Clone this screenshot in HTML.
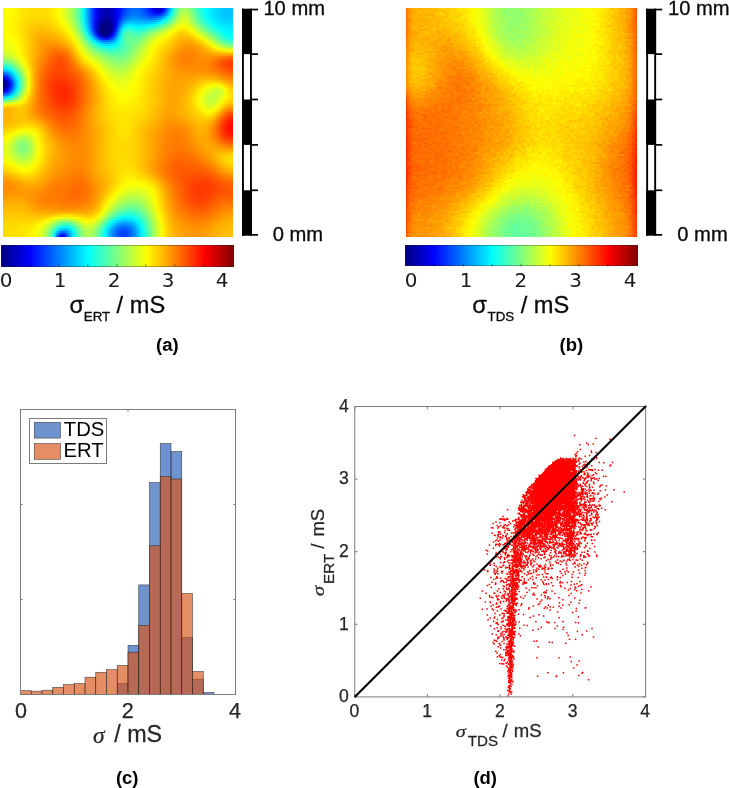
<!DOCTYPE html>
<html><head><meta charset="utf-8"><title>figure</title>
<style>
html,body{margin:0;padding:0;background:#fff;overflow:hidden}
#fig{position:relative;width:729px;height:788px;overflow:hidden;background:#fff;font-family:"Liberation Sans",sans-serif}
.hm{position:absolute;overflow:hidden}
.hm i{position:absolute;left:0;width:100%;display:block}
.cb{position:absolute;background:linear-gradient(90deg,#000080 0%,#0000ff 12.5%,#00ffff 37.5%,#ffff00 62.5%,#ff0000 87.5%,#800000 100%);box-shadow:inset 0 0 0 0.6px rgba(40,40,40,.7)}
svg{position:absolute;left:0;top:0}
text{font-family:"Liberation Sans",sans-serif}
.dj{font-family:"DejaVu Sans",sans-serif}
.it{font-family:"Liberation Serif",serif;font-style:italic}
</style></head><body><div id="fig">
<div class="hm" style="left:2.50px;top:7.80px;width:230.80px;height:229.00px">
<i style="top:0.00px;height:2.71px;background:linear-gradient(90deg,#fcff03,#fdff02,#fffd00,#fff800,#fff100,#ffea00,#ffe500,#ffe200,#ffe000,#ffde00,#ffde00,#ffdd00,#ffdf00,#ffe400,#ffee00,#fffc00,#efff10,#d9ff26,#bfff40,#a1ff5e,#7aff85,#47ffb8,#06fff9,#00b8ff,#0068ff,#0020ff,#0000e7,#0000c3,#0000b3,#0000b6,#0000c9,#0000e9,#0010ff,#0035ff,#0053ff,#0066ff,#006eff,#006bff,#005dff,#0046ff,#0026ff,#0000fc,#0000d1,#0000c6,#0000f9,#0063ff,#00d6ff,#34ffcb,#74ff8b,#9aff65,#a1ff5e,#8eff71,#6cff93,#46ffb9,#26ffd9,#0dfff2,#00f9ff,#00e9ff,#00ddff,#00d3ff,#00cbff,#00c6ff,#00c3ff,#00c2ff)"></i>
<i style="top:2.01px;height:2.71px;background:linear-gradient(90deg,#fcff03,#fdff02,#fffd00,#fff700,#fff100,#ffea00,#ffe500,#ffe100,#ffdf00,#ffde00,#ffdd00,#ffdd00,#ffdf00,#ffe400,#ffee00,#fffc00,#efff10,#d9ff26,#c0ff3f,#a1ff5e,#7bff84,#48ffb7,#06fff9,#00b8ff,#0068ff,#0020ff,#0000e6,#0000c2,#0000b2,#0000b5,#0000c9,#0000e9,#0011ff,#0037ff,#0055ff,#0068ff,#0070ff,#006dff,#005fff,#0048ff,#002bff,#0006ff,#0000e2,#0000dd,#0011ff,#0074ff,#00e2ff,#3effc1,#80ff7f,#a6ff59,#aeff51,#99ff66,#73ff8c,#4bffb4,#28ffd7,#0efff1,#00faff,#00eaff,#00ddff,#00d3ff,#00cbff,#00c6ff,#00c3ff,#00c2ff)"></i>
<i style="top:4.02px;height:2.71px;background:linear-gradient(90deg,#fcff03,#fdff02,#fffd00,#fff700,#fff000,#ffea00,#ffe400,#ffe100,#ffdf00,#ffdd00,#ffdd00,#ffdd00,#ffde00,#ffe400,#ffed00,#fffb00,#f0ff0f,#daff25,#c1ff3e,#a3ff5c,#7cff83,#49ffb6,#07fff8,#00b9ff,#0068ff,#001fff,#0000e5,#0000c0,#0000b0,#0000b3,#0000c7,#0000ea,#0014ff,#003cff,#005bff,#006dff,#0074ff,#0071ff,#0063ff,#004eff,#0035ff,#001aff,#0004ff,#0009ff,#003bff,#0093ff,#00f5ff,#4affb5,#8bff74,#b2ff4d,#b9ff46,#a3ff5c,#7aff85,#50ffaf,#2cffd3,#11ffee,#00fbff,#00ebff,#00deff,#00d4ff,#00ccff,#00c7ff,#00c4ff,#00c3ff)"></i>
<i style="top:6.03px;height:2.71px;background:linear-gradient(90deg,#fdff02,#feff01,#fffc00,#fff700,#fff000,#ffe900,#ffe300,#ffe000,#ffdd00,#ffdc00,#ffdb00,#ffdb00,#ffdd00,#ffe200,#ffec00,#fffa00,#f2ff0d,#ddff22,#c3ff3c,#a5ff5a,#7eff81,#4affb5,#08fff7,#00b9ff,#0068ff,#001eff,#0000e3,#0000bc,#0000ab,#0000ae,#0000c4,#0000ea,#0019ff,#0045ff,#0065ff,#0076ff,#007cff,#0079ff,#006dff,#005bff,#0047ff,#0035ff,#002eff,#003dff,#006eff,#00b9ff,#0efff1,#5affa5,#97ff68,#bcff43,#c3ff3c,#abff54,#82ff7d,#56ffa9,#31ffce,#15ffea,#00feff,#00edff,#00e0ff,#00d5ff,#00ceff,#00c9ff,#00c6ff,#00c5ff)"></i>
<i style="top:8.04px;height:2.71px;background:linear-gradient(90deg,#feff01,#ffff00,#fffb00,#fff600,#ffef00,#ffe800,#ffe200,#ffde00,#ffdb00,#ffd900,#ffd900,#ffd900,#ffdb00,#ffe000,#ffe900,#fff700,#f5ff0a,#e0ff1f,#c7ff38,#a8ff57,#81ff7e,#4dffb2,#0afff5,#00bbff,#0068ff,#001dff,#0000df,#0000b6,#0000a4,#0000a7,#0000bf,#0000eb,#0021ff,#0052ff,#0074ff,#0085ff,#0089ff,#0086ff,#007cff,#006dff,#005fff,#0057ff,#005bff,#0072ff,#00a0ff,#00e1ff,#28ffd7,#6bff94,#a3ff5c,#c6ff39,#ccff33,#b4ff4b,#8bff74,#5fffa0,#39ffc6,#1bffe4,#04fffb,#00f1ff,#00e3ff,#00d8ff,#00d1ff,#00ccff,#00c9ff,#00c9ff)"></i>
<i style="top:10.04px;height:2.71px;background:linear-gradient(90deg,#ffff00,#fffe00,#fffa00,#fff400,#ffed00,#ffe600,#ffe000,#ffdb00,#ffd800,#ffd600,#ffd500,#ffd600,#ffd800,#ffdd00,#ffe600,#fff300,#faff05,#e5ff1a,#ccff33,#aeff51,#86ff79,#51ffae,#0efff1,#00bdff,#0069ff,#001bff,#0000da,#0000ae,#000099,#00009d,#0000ba,#0000ed,#002cff,#0065ff,#0089ff,#0098ff,#009bff,#0097ff,#0090ff,#0085ff,#007dff,#007cff,#0088ff,#00a4ff,#00d0ff,#08fff7,#45ffba,#7fff80,#b1ff4e,#d1ff2e,#d4ff2b,#bdff42,#95ff6a,#6aff95,#43ffbc,#24ffdb,#0cfff3,#00f7ff,#00e8ff,#00dcff,#00d5ff,#00d0ff,#00ceff,#00cdff)"></i>
<i style="top:12.05px;height:2.71px;background:linear-gradient(90deg,#fffe00,#fffd00,#fff900,#fff300,#ffec00,#ffe500,#ffde00,#ffd900,#ffd500,#ffd200,#ffd100,#ffd200,#ffd400,#ffda00,#ffe300,#ffef00,#ffff00,#ebff14,#d3ff2c,#b4ff4b,#8cff73,#57ffa8,#12ffed,#00c0ff,#006bff,#001aff,#0000d4,#0000a4,#00008c,#000091,#0000b4,#0000f1,#003cff,#007eff,#00a5ff,#00b1ff,#00b1ff,#00adff,#00a8ff,#00a2ff,#00a0ff,#00a5ff,#00b6ff,#00d3ff,#00fcff,#2effd1,#62ff9d,#95ff6a,#c1ff3e,#dcff23,#deff21,#c7ff38,#a1ff5e,#77ff88,#50ffaf,#30ffcf,#15ffea,#00ffff,#00eeff,#00e2ff,#00daff,#00d6ff,#00d3ff,#00d3ff)"></i>
<i style="top:14.06px;height:2.71px;background:linear-gradient(90deg,#fffd00,#fffc00,#fff800,#fff200,#ffeb00,#ffe300,#ffdc00,#ffd600,#ffd100,#ffce00,#ffcd00,#ffcd00,#ffd000,#ffd600,#ffde00,#ffea00,#fff900,#f2ff0d,#daff25,#bbff44,#93ff6c,#5effa1,#19ffe6,#00c6ff,#006eff,#0019ff,#0000cd,#000096,#000080,#000084,#0000af,#0000f7,#004fff,#009bff,#00c4ff,#00cdff,#00c9ff,#00c5ff,#00c3ff,#00c2ff,#00c6ff,#00d0ff,#00e4ff,#02fffd,#28ffd7,#53ffac,#80ff7f,#acff53,#d2ff2d,#e8ff17,#e8ff17,#d2ff2d,#aeff51,#86ff79,#60ff9f,#3effc1,#21ffde,#0afff5,#00f6ff,#00e9ff,#00e1ff,#00dcff,#00d9ff,#00d8ff)"></i>
<i style="top:16.07px;height:2.71px;background:linear-gradient(90deg,#fffc00,#fffb00,#fff700,#fff100,#ffea00,#ffe200,#ffda00,#ffd300,#ffcd00,#ffca00,#ffc800,#ffc800,#ffcb00,#ffd100,#ffd900,#ffe400,#fff200,#faff05,#e2ff1d,#c4ff3b,#9bff64,#66ff99,#20ffdf,#00cdff,#0073ff,#0019ff,#0000c4,#000083,#000080,#000080,#0000aa,#0001ff,#0066ff,#00bbff,#00e6ff,#00ebff,#00e3ff,#00deff,#00dfff,#00e4ff,#00edff,#00fcff,#13ffec,#2fffd0,#52ffad,#77ff88,#9eff61,#c4ff3b,#e4ff1b,#f6ff09,#f4ff0b,#e0ff1f,#beff41,#97ff68,#71ff8e,#4fffb0,#30ffcf,#16ffe9,#02fffd,#00f2ff,#00e8ff,#00e3ff,#00e0ff,#00dfff)"></i>
<i style="top:18.08px;height:2.71px;background:linear-gradient(90deg,#fffc00,#fffb00,#fff700,#fff100,#ffe900,#ffe100,#ffd800,#ffd000,#ffca00,#ffc500,#ffc300,#ffc300,#ffc600,#ffcc00,#ffd300,#ffdd00,#ffeb00,#fffc00,#ebff14,#cdff32,#a5ff5a,#6fff90,#2affd5,#00d7ff,#007bff,#001aff,#0000b9,#000080,#000080,#000080,#0000a7,#000dff,#007fff,#00dcff,#09fff6,#0afff5,#00fdff,#00f8ff,#00fcff,#07fff8,#15ffea,#28ffd7,#3fffc0,#5affa5,#79ff86,#9aff65,#bbff44,#dcff23,#f6ff09,#fff900,#fffc00,#efff10,#d0ff2f,#abff54,#85ff7a,#62ff9d,#41ffbe,#25ffda,#0efff1,#00fdff,#00f1ff,#00eaff,#00e6ff,#00e5ff)"></i>
<i style="top:20.09px;height:2.71px;background:linear-gradient(90deg,#fffc00,#fffb00,#fff700,#fff100,#ffe900,#ffe000,#ffd700,#ffce00,#ffc600,#ffc100,#ffbe00,#ffbe00,#ffc100,#ffc600,#ffcd00,#ffd600,#ffe300,#fff400,#f4ff0b,#d7ff28,#afff50,#7aff85,#37ffc8,#00e4ff,#0087ff,#001fff,#0000b3,#000080,#000080,#000080,#0000aa,#001dff,#0098ff,#00faff,#27ffd8,#25ffda,#17ffe8,#12ffed,#19ffe6,#27ffd8,#3affc5,#50ffaf,#68ff97,#82ff7d,#9dff62,#b9ff46,#d6ff29,#f2ff0d,#fff600,#ffea00,#ffed00,#ffff00,#e2ff1d,#c0ff3f,#9bff64,#77ff88,#56ffa9,#37ffc8,#1effe1,#0afff5,#00fbff,#00f1ff,#00ecff,#00eaff)"></i>
<i style="top:22.10px;height:2.71px;background:linear-gradient(90deg,#fffd00,#fffc00,#fff900,#fff300,#ffea00,#ffe100,#ffd700,#ffcd00,#ffc400,#ffbd00,#ffb900,#ffb900,#ffbb00,#ffc000,#ffc700,#ffcf00,#ffdb00,#ffeb00,#feff01,#e1ff1e,#baff45,#87ff78,#45ffba,#00f4ff,#0097ff,#002cff,#0000b7,#000080,#000080,#000080,#0000b6,#0031ff,#00b1ff,#16ffe9,#41ffbe,#3cffc3,#2dffd2,#29ffd6,#33ffcc,#45ffba,#5bffa4,#73ff8c,#8bff74,#a4ff5b,#bcff43,#d4ff2b,#edff12,#fff900,#ffe600,#ffdc00,#ffdf00,#ffee00,#f6ff09,#d6ff29,#b3ff4c,#8fff70,#6cff93,#4cffb3,#30ffcf,#19ffe6,#07fff8,#00f9ff,#00f2ff,#00f0ff)"></i>
<i style="top:24.11px;height:2.71px;background:linear-gradient(90deg,#ffff00,#fffe00,#fffb00,#fff400,#ffec00,#ffe200,#ffd700,#ffcc00,#ffc200,#ffba00,#ffb500,#ffb400,#ffb600,#ffba00,#ffc000,#ffc800,#ffd300,#ffe200,#fff700,#ebff14,#c6ff39,#95ff6a,#55ffaa,#09fff6,#00aeff,#0044ff,#0000ce,#000080,#000080,#000080,#0000d0,#004bff,#00c8ff,#2affd5,#53ffac,#4effb1,#40ffbf,#3effc1,#4affb5,#5fffa0,#78ff87,#91ff6e,#aaff55,#c0ff3f,#d5ff2a,#eaff15,#fffe00,#ffe900,#ffd800,#ffcf00,#ffd100,#ffde00,#fff500,#ecff13,#cbff34,#a8ff57,#86ff79,#64ff9b,#45ffba,#29ffd6,#13ffec,#03fffc,#00f9ff,#00f5ff)"></i>
<i style="top:26.11px;height:2.71px;background:linear-gradient(90deg,#fcff03,#fdff02,#fffd00,#fff700,#ffee00,#ffe400,#ffd800,#ffcc00,#ffc000,#ffb700,#ffb100,#ffaf00,#ffb000,#ffb300,#ffb900,#ffc000,#ffcb00,#ffd900,#ffed00,#f6ff09,#d2ff2d,#a3ff5c,#67ff98,#1fffe0,#00caff,#0067ff,#0000f8,#00009c,#000080,#0000a0,#0000f8,#0069ff,#00ddff,#38ffc7,#5effa1,#5affa5,#4fffb0,#50ffaf,#5fffa0,#76ff89,#91ff6e,#abff54,#c2ff3d,#d7ff28,#eaff15,#fcff03,#ffef00,#ffdd00,#ffcd00,#ffc400,#ffc500,#ffcf00,#ffe300,#fffd00,#e3ff1c,#c3ff3c,#a0ff5f,#7dff82,#5cffa3,#3cffc3,#22ffdd,#0efff1,#02fffd,#00fdff)"></i>
<i style="top:28.12px;height:2.71px;background:linear-gradient(90deg,#f9ff06,#faff05,#feff01,#fffa00,#fff100,#ffe600,#ffd900,#ffcc00,#ffbf00,#ffb500,#ffad00,#ffaa00,#ffaa00,#ffac00,#ffb100,#ffb800,#ffc200,#ffd000,#ffe300,#fffd00,#dfff20,#b2ff4d,#7aff85,#37ffc8,#00eaff,#0092ff,#0034ff,#0000e4,#0000c5,#0000e2,#002bff,#008bff,#00efff,#3fffc0,#62ff9d,#62ff9d,#5bffa4,#60ff9f,#71ff8e,#8aff75,#a6ff59,#c0ff3f,#d6ff29,#e9ff16,#faff05,#fff500,#ffe400,#ffd300,#ffc400,#ffbb00,#ffba00,#ffc200,#ffd100,#ffe800,#fbff04,#ddff22,#bcff43,#98ff67,#74ff8b,#51ffae,#33ffcc,#1bffe4,#0dfff2,#08fff7)"></i>
<i style="top:30.13px;height:2.71px;background:linear-gradient(90deg,#f5ff0a,#f7ff08,#faff05,#fffd00,#fff400,#ffe800,#ffdb00,#ffcc00,#ffbe00,#ffb300,#ffaa00,#ffa600,#ffa400,#ffa600,#ffa900,#ffaf00,#ffb900,#ffc600,#ffd900,#fff200,#ebff14,#c1ff3e,#8dff72,#50ffaf,#0cfff3,#00c1ff,#0074ff,#0035ff,#001aff,#002dff,#0062ff,#00adff,#00ffff,#43ffbc,#63ff9c,#66ff99,#65ff9a,#6eff91,#82ff7d,#9cff63,#b7ff48,#d1ff2e,#e6ff19,#f8ff07,#fff800,#ffea00,#ffdb00,#ffcb00,#ffbd00,#ffb300,#ffb000,#ffb500,#ffc200,#ffd400,#ffec00,#f6ff09,#d7ff28,#b4ff4b,#8fff70,#69ff96,#47ffb8,#2dffd2,#1dffe2,#18ffe7)"></i>
<i style="top:32.14px;height:2.71px;background:linear-gradient(90deg,#f2ff0d,#f3ff0c,#f7ff08,#feff01,#fff600,#ffea00,#ffdc00,#ffcd00,#ffbe00,#ffb100,#ffa700,#ffa100,#ff9f00,#ff9f00,#ffa100,#ffa600,#ffaf00,#ffbc00,#ffce00,#ffe600,#f8ff07,#d0ff2f,#a0ff5f,#69ff96,#2dffd2,#00eeff,#00b2ff,#0081ff,#006aff,#0073ff,#0096ff,#00cdff,#0efff1,#45ffba,#61ff9e,#68ff97,#6dff92,#7aff85,#90ff6f,#aaff55,#c6ff39,#dfff20,#f3ff0c,#fffb00,#ffee00,#ffe100,#ffd300,#ffc400,#ffb600,#ffac00,#ffa800,#ffaa00,#ffb400,#ffc300,#ffd700,#fff000,#f1ff0e,#cfff30,#aaff55,#83ff7c,#60ff9f,#44ffbb,#33ffcc,#2dffd2)"></i>
<i style="top:34.15px;height:2.71px;background:linear-gradient(90deg,#efff10,#f0ff0f,#f4ff0b,#fbff04,#fff800,#ffec00,#ffdd00,#ffcd00,#ffbe00,#ffb000,#ffa500,#ff9d00,#ff9900,#ff9800,#ff9900,#ff9c00,#ffa400,#ffb000,#ffc200,#ffdb00,#fffa00,#deff21,#b2ff4d,#80ff7f,#4cffb3,#19ffe6,#00e8ff,#00c2ff,#00aeff,#00afff,#00c4ff,#00eaff,#1bffe4,#46ffb9,#5fffa0,#6aff95,#74ff8b,#85ff7a,#9cff63,#b7ff48,#d2ff2d,#eaff15,#fdff02,#fff200,#ffe600,#ffda00,#ffcd00,#ffbe00,#ffb000,#ffa600,#ffa000,#ffa100,#ffa700,#ffb400,#ffc500,#ffdb00,#fff500,#eaff15,#c6ff39,#a0ff5f,#7dff82,#61ff9e,#51ffae,#4bffb4)"></i>
<i style="top:36.16px;height:2.71px;background:linear-gradient(90deg,#ebff14,#edff12,#f1ff0e,#f9ff06,#fffa00,#ffed00,#ffde00,#ffcd00,#ffbd00,#ffaf00,#ffa300,#ff9a00,#ff9400,#ff9100,#ff9000,#ff9200,#ff9900,#ffa400,#ffb600,#ffcf00,#ffee00,#ebff14,#c2ff3d,#95ff6a,#68ff97,#3cffc3,#16ffe9,#00f6ff,#00e4ff,#00e0ff,#00ebff,#05fffa,#28ffd7,#48ffb7,#5fffa0,#6dff92,#7bff84,#8fff70,#a7ff58,#c2ff3d,#dcff23,#f3ff0c,#fff900,#ffeb00,#ffdf00,#ffd300,#ffc600,#ffb800,#ffab00,#ffa000,#ff9900,#ff9900,#ff9d00,#ffa700,#ffb500,#ffc800,#ffe000,#fffc00,#e2ff1d,#c0ff3f,#9fff60,#85ff7a,#76ff89,#70ff8f)"></i>
<i style="top:38.17px;height:2.71px;background:linear-gradient(90deg,#e8ff17,#eaff15,#eeff11,#f7ff08,#fffc00,#ffee00,#ffde00,#ffcd00,#ffbd00,#ffae00,#ffa000,#ff9600,#ff8f00,#ff8900,#ff8700,#ff8800,#ff8d00,#ff9800,#ffaa00,#ffc300,#ffe300,#f7ff08,#d0ff2f,#a8ff57,#80ff7f,#5bffa4,#3affc5,#21ffde,#0ffff0,#08fff7,#0dfff2,#1cffe3,#34ffcb,#4cffb3,#61ff9e,#71ff8e,#83ff7c,#98ff67,#b1ff4e,#cbff34,#e4ff1b,#faff05,#fff200,#ffe400,#ffd800,#ffcd00,#ffc000,#ffb200,#ffa400,#ff9a00,#ff9300,#ff9200,#ff9500,#ff9d00,#ffa900,#ffb900,#ffcd00,#ffe500,#feff01,#e1ff1e,#c5ff3a,#afff50,#a2ff5d,#9dff62)"></i>
<i style="top:40.18px;height:2.71px;background:linear-gradient(90deg,#e3ff1c,#e5ff1a,#ebff14,#f4ff0b,#fffe00,#ffef00,#ffde00,#ffcd00,#ffbc00,#ffad00,#ff9f00,#ff9300,#ff8a00,#ff8300,#ff7e00,#ff7d00,#ff8100,#ff8b00,#ff9e00,#ffb800,#ffd800,#fffb00,#deff21,#b9ff46,#96ff69,#75ff8a,#59ffa6,#42ffbd,#31ffce,#28ffd7,#28ffd7,#30ffcf,#40ffbf,#52ffad,#64ff9b,#76ff89,#8aff75,#a1ff5e,#baff45,#d3ff2c,#eaff15,#ffff00,#ffed00,#ffdf00,#ffd200,#ffc600,#ffb900,#ffab00,#ff9e00,#ff9400,#ff8d00,#ff8c00,#ff8f00,#ff9500,#ffa000,#ffad00,#ffbd00,#ffd000,#ffe500,#fffc00,#edff12,#ddff22,#d3ff2c,#cfff30)"></i>
<i style="top:42.18px;height:2.71px;background:linear-gradient(90deg,#ddff22,#dfff20,#e5ff1a,#f0ff0f,#feff01,#fff000,#ffdf00,#ffcd00,#ffbc00,#ffac00,#ff9d00,#ff9000,#ff8500,#ff7c00,#ff7500,#ff7300,#ff7500,#ff7f00,#ff9200,#ffad00,#ffcd00,#fff100,#eaff15,#c8ff37,#a9ff56,#8dff72,#74ff8b,#5effa1,#4effb1,#43ffbc,#3fffc0,#42ffbd,#4cffb3,#5affa5,#6aff95,#7dff82,#92ff6d,#a9ff56,#c2ff3d,#daff25,#f0ff0f,#fffa00,#ffe900,#ffda00,#ffcd00,#ffc000,#ffb300,#ffa500,#ff9800,#ff8e00,#ff8900,#ff8700,#ff8a00,#ff9000,#ff9800,#ffa300,#ffaf00,#ffbd00,#ffcc00,#ffdb00,#ffe800,#fff300,#fff900,#fffb00)"></i>
<i style="top:44.19px;height:2.71px;background:linear-gradient(90deg,#d3ff2c,#d6ff29,#ddff22,#eaff15,#f9ff06,#fff300,#ffe000,#ffcd00,#ffbc00,#ffab00,#ff9b00,#ff8d00,#ff8000,#ff7600,#ff6d00,#ff6900,#ff6a00,#ff7300,#ff8600,#ffa200,#ffc300,#ffe600,#f6ff09,#d7ff28,#bbff44,#a2ff5d,#8bff74,#77ff88,#66ff99,#59ffa6,#52ffad,#52ffad,#58ffa7,#62ff9d,#71ff8e,#84ff7b,#9aff65,#b1ff4e,#c9ff36,#e0ff1f,#f5ff0a,#fff600,#ffe500,#ffd600,#ffc800,#ffbb00,#ffad00,#ff9f00,#ff9300,#ff8a00,#ff8500,#ff8400,#ff8700,#ff8c00,#ff9300,#ff9b00,#ffa400,#ffac00,#ffb400,#ffbb00,#ffc100,#ffc500,#ffc800,#ffc900)"></i>
<i style="top:46.20px;height:2.71px;background:linear-gradient(90deg,#c6ff39,#c9ff36,#d2ff2d,#e1ff1e,#f3ff0c,#fff600,#ffe200,#ffce00,#ffbb00,#ffaa00,#ff9900,#ff8a00,#ff7c00,#ff7000,#ff6600,#ff6000,#ff6000,#ff6900,#ff7c00,#ff9700,#ffb900,#ffdc00,#fffc00,#e5ff1a,#ccff33,#b5ff4a,#a0ff5f,#8cff73,#7aff85,#6cff93,#64ff9b,#60ff9f,#63ff9c,#6cff93,#7aff85,#8cff73,#a2ff5d,#b9ff46,#d0ff2f,#e6ff19,#f9ff06,#fff200,#ffe200,#ffd200,#ffc400,#ffb600,#ffa800,#ff9a00,#ff8f00,#ff8600,#ff8200,#ff8200,#ff8500,#ff8a00,#ff9000,#ff9600,#ff9b00,#ff9e00,#ffa000,#ffa000,#ff9e00,#ff9c00,#ff9b00,#ff9a00)"></i>
<i style="top:48.21px;height:2.71px;background:linear-gradient(90deg,#b4ff4b,#b8ff47,#c3ff3c,#d4ff2b,#eaff15,#fffc00,#ffe500,#ffcf00,#ffbb00,#ffa800,#ff9700,#ff8600,#ff7800,#ff6a00,#ff6000,#ff5900,#ff5800,#ff6000,#ff7200,#ff8e00,#ffaf00,#ffd100,#fff000,#f4ff0b,#dcff23,#c7ff38,#b3ff4c,#9fff60,#8cff73,#7dff82,#73ff8c,#6eff91,#6fff90,#76ff89,#83ff7c,#95ff6a,#abff54,#c1ff3e,#d7ff28,#ebff14,#feff01,#ffef00,#ffdf00,#ffd000,#ffc000,#ffb200,#ffa400,#ff9700,#ff8c00,#ff8400,#ff8000,#ff8000,#ff8300,#ff8800,#ff8d00,#ff9100,#ff9300,#ff9300,#ff8f00,#ff8800,#ff8000,#ff7a00,#ff7500,#ff7400)"></i>
<i style="top:50.22px;height:2.71px;background:linear-gradient(90deg,#9dff62,#a2ff5d,#afff50,#c4ff3b,#deff21,#faff05,#ffea00,#ffd100,#ffbb00,#ffa700,#ff9400,#ff8300,#ff7400,#ff6600,#ff5b00,#ff5300,#ff5200,#ff5900,#ff6b00,#ff8500,#ffa500,#ffc500,#ffe200,#fffc00,#ecff13,#d8ff27,#c4ff3b,#afff50,#9dff62,#8dff72,#81ff7e,#7bff84,#7bff84,#80ff7f,#8dff72,#9fff60,#b4ff4b,#caff35,#dfff20,#f1ff0e,#fffc00,#ffec00,#ffdc00,#ffcd00,#ffbe00,#ffaf00,#ffa100,#ff9400,#ff8a00,#ff8300,#ff8000,#ff8000,#ff8300,#ff8700,#ff8b00,#ff8d00,#ff8d00,#ff8900,#ff8100,#ff7600,#ff6a00,#ff6000,#ff5900,#ff5700)"></i>
<i style="top:52.23px;height:2.71px;background:linear-gradient(90deg,#81ff7e,#86ff79,#96ff69,#afff50,#cfff30,#efff10,#fff100,#ffd500,#ffbb00,#ffa500,#ff9200,#ff8000,#ff7000,#ff6200,#ff5700,#ff4f00,#ff4e00,#ff5500,#ff6500,#ff7d00,#ff9a00,#ffb900,#ffd500,#ffed00,#fcff03,#e8ff17,#d3ff2c,#bfff40,#abff54,#9bff64,#8eff71,#87ff78,#86ff79,#8bff74,#97ff68,#a8ff57,#bdff42,#d2ff2d,#e6ff19,#f7ff08,#fff700,#ffe900,#ffda00,#ffcb00,#ffbc00,#ffad00,#ffa000,#ff9400,#ff8a00,#ff8300,#ff8100,#ff8100,#ff8400,#ff8700,#ff8a00,#ff8b00,#ff8900,#ff8300,#ff7800,#ff6a00,#ff5c00,#ff4f00,#ff4700,#ff4500)"></i>
<i style="top:54.24px;height:2.71px;background:linear-gradient(90deg,#5fffa0,#66ff99,#79ff86,#97ff68,#bcff43,#e2ff1d,#fff900,#ffd900,#ffbc00,#ffa400,#ff8f00,#ff7c00,#ff6c00,#ff5e00,#ff5400,#ff4d00,#ff4c00,#ff5100,#ff6000,#ff7600,#ff9000,#ffac00,#ffc600,#ffde00,#fff300,#f7ff08,#e2ff1d,#cdff32,#b9ff46,#a8ff57,#9bff64,#93ff6c,#91ff6e,#96ff69,#a1ff5e,#b2ff4d,#c6ff39,#dbff24,#edff12,#fdff02,#fff200,#ffe500,#ffd700,#ffc900,#ffba00,#ffac00,#ff9f00,#ff9400,#ff8b00,#ff8500,#ff8300,#ff8300,#ff8500,#ff8700,#ff8900,#ff8900,#ff8600,#ff7f00,#ff7300,#ff6400,#ff5400,#ff4700,#ff3f00,#ff3c00)"></i>
<i style="top:56.25px;height:2.71px;background:linear-gradient(90deg,#39ffc6,#41ffbe,#58ffa7,#7cff83,#a7ff58,#d2ff2d,#fbff04,#ffde00,#ffbd00,#ffa200,#ff8c00,#ff7900,#ff6900,#ff5b00,#ff5100,#ff4b00,#ff4a00,#ff4f00,#ff5c00,#ff6f00,#ff8700,#ffa000,#ffb800,#ffcf00,#ffe400,#fff900,#efff10,#d9ff26,#c5ff3a,#b4ff4b,#a6ff59,#9eff61,#9cff63,#a0ff5f,#abff54,#bcff43,#cfff30,#e3ff1c,#f5ff0a,#fffb00,#ffee00,#ffe100,#ffd500,#ffc700,#ffb900,#ffac00,#ffa000,#ff9500,#ff8d00,#ff8800,#ff8500,#ff8500,#ff8700,#ff8900,#ff8900,#ff8800,#ff8500,#ff7d00,#ff7100,#ff6200,#ff5300,#ff4600,#ff3e00,#ff3b00)"></i>
<i style="top:58.25px;height:2.71px;background:linear-gradient(90deg,#0ffff0,#19ffe6,#34ffcb,#5effa1,#90ff6f,#c1ff3e,#f0ff0f,#ffe400,#ffbf00,#ffa000,#ff8900,#ff7500,#ff6500,#ff5900,#ff4f00,#ff4a00,#ff4900,#ff4e00,#ff5900,#ff6900,#ff7d00,#ff9400,#ffaa00,#ffc000,#ffd600,#ffec00,#fbff04,#e5ff1a,#d0ff2f,#bfff40,#b1ff4e,#a9ff56,#a7ff58,#abff54,#b5ff4a,#c5ff3a,#d8ff27,#ebff14,#fcff03,#fff500,#ffe900,#ffde00,#ffd200,#ffc600,#ffb800,#ffac00,#ffa100,#ff9700,#ff9000,#ff8b00,#ff8900,#ff8800,#ff8900,#ff8a00,#ff8b00,#ff8900,#ff8500,#ff7e00,#ff7300,#ff6500,#ff5700,#ff4a00,#ff4300,#ff4000)"></i>
<i style="top:60.26px;height:2.71px;background:linear-gradient(90deg,#00e0ff,#00ecff,#0efff1,#3fffc0,#77ff88,#afff50,#e3ff1c,#ffeb00,#ffc100,#ff9f00,#ff8600,#ff7200,#ff6200,#ff5600,#ff4d00,#ff4900,#ff4800,#ff4d00,#ff5600,#ff6300,#ff7400,#ff8800,#ff9d00,#ffb300,#ffca00,#ffe100,#fff800,#f0ff0f,#dbff24,#c9ff36,#bcff43,#b4ff4b,#b1ff4e,#b5ff4a,#bfff40,#ceff31,#e0ff1f,#f2ff0d,#fffc00,#fff000,#ffe500,#ffdb00,#ffd000,#ffc400,#ffb800,#ffac00,#ffa200,#ff9a00,#ff9300,#ff8f00,#ff8d00,#ff8c00,#ff8d00,#ff8d00,#ff8d00,#ff8c00,#ff8900,#ff8200,#ff7800,#ff6b00,#ff5e00,#ff5300,#ff4c00,#ff4a00)"></i>
<i style="top:62.27px;height:2.71px;background:linear-gradient(90deg,#00aeff,#00bdff,#00e4ff,#1effe1,#5effa1,#9cff63,#d7ff28,#fff200,#ffc300,#ff9e00,#ff8300,#ff6f00,#ff5f00,#ff5300,#ff4b00,#ff4700,#ff4700,#ff4b00,#ff5300,#ff5e00,#ff6c00,#ff7e00,#ff9100,#ffa700,#ffbe00,#ffd600,#ffee00,#f9ff06,#e5ff1a,#d3ff2c,#c6ff39,#bdff42,#bbff44,#beff41,#c7ff38,#d6ff29,#e7ff18,#f8ff07,#fff700,#ffeb00,#ffe100,#ffd800,#ffcd00,#ffc300,#ffb700,#ffad00,#ffa400,#ff9c00,#ff9600,#ff9300,#ff9100,#ff9000,#ff9000,#ff9100,#ff9100,#ff9100,#ff8e00,#ff8800,#ff8000,#ff7400,#ff6800,#ff5e00,#ff5700,#ff5500)"></i>
<i style="top:64.28px;height:2.71px;background:linear-gradient(90deg,#0077ff,#0089ff,#00baff,#00fcff,#44ffbb,#8aff75,#caff35,#fff900,#ffc500,#ff9d00,#ff8000,#ff6c00,#ff5c00,#ff5000,#ff4900,#ff4500,#ff4500,#ff4900,#ff4f00,#ff5900,#ff6500,#ff7500,#ff8800,#ff9d00,#ffb400,#ffcd00,#ffe500,#fffc00,#eeff11,#dcff23,#cfff30,#c7ff38,#c4ff3b,#c7ff38,#cfff30,#ddff22,#edff12,#fdff02,#fff300,#ffe800,#ffde00,#ffd500,#ffcb00,#ffc100,#ffb700,#ffad00,#ffa500,#ff9e00,#ff9900,#ff9600,#ff9500,#ff9400,#ff9500,#ff9600,#ff9700,#ff9700,#ff9600,#ff9100,#ff8a00,#ff7f00,#ff7400,#ff6a00,#ff6300,#ff6100)"></i>
<i style="top:66.29px;height:2.71px;background:linear-gradient(90deg,#003cff,#0053ff,#008fff,#00dbff,#2cffd3,#78ff87,#beff41,#ffff00,#ffc700,#ff9c00,#ff7e00,#ff6900,#ff5900,#ff4d00,#ff4600,#ff4200,#ff4200,#ff4500,#ff4b00,#ff5300,#ff5f00,#ff6d00,#ff7f00,#ff9500,#ffac00,#ffc400,#ffdd00,#fff300,#f6ff09,#e5ff1a,#d8ff27,#cfff30,#ccff33,#cfff30,#d7ff28,#e3ff1c,#f2ff0d,#fffd00,#fff000,#ffe500,#ffdb00,#ffd300,#ffc900,#ffc000,#ffb600,#ffad00,#ffa600,#ffa000,#ff9c00,#ff9a00,#ff9900,#ff9900,#ff9a00,#ff9c00,#ff9e00,#ffa000,#ffa000,#ff9d00,#ff9600,#ff8c00,#ff8000,#ff7600,#ff6f00,#ff6d00)"></i>
<i style="top:68.30px;height:2.71px;background:linear-gradient(90deg,#0000fe,#001cff,#0067ff,#00bdff,#16ffe9,#69ff96,#b4ff4b,#f9ff06,#ffc900,#ff9c00,#ff7c00,#ff6600,#ff5600,#ff4a00,#ff4200,#ff3f00,#ff3e00,#ff4100,#ff4700,#ff4e00,#ff5900,#ff6700,#ff7900,#ff8e00,#ffa500,#ffbd00,#ffd500,#ffec00,#feff01,#edff12,#e0ff1f,#d8ff27,#d4ff2b,#d6ff29,#ddff22,#e8ff17,#f5ff0a,#fffb00,#ffee00,#ffe300,#ffda00,#ffd100,#ffc800,#ffbe00,#ffb500,#ffad00,#ffa600,#ffa100,#ff9e00,#ff9d00,#ff9c00,#ff9e00,#ffa000,#ffa300,#ffa700,#ffaa00,#ffac00,#ffab00,#ffa500,#ff9b00,#ff8f00,#ff8300,#ff7b00,#ff7800)"></i>
<i style="top:70.31px;height:2.71px;background:linear-gradient(90deg,#0000c5,#0000e8,#0042ff,#00a3ff,#03fffc,#5cffa3,#acff53,#f6ff09,#ffc900,#ff9b00,#ff7b00,#ff6400,#ff5300,#ff4700,#ff3f00,#ff3b00,#ff3a00,#ff3d00,#ff4200,#ff4a00,#ff5500,#ff6300,#ff7400,#ff8900,#ffa000,#ffb700,#ffcf00,#ffe500,#fff900,#f4ff0b,#e8ff17,#dfff20,#dbff24,#dcff23,#e2ff1d,#ecff13,#f8ff07,#fff900,#ffed00,#ffe200,#ffd800,#ffcf00,#ffc600,#ffbd00,#ffb400,#ffad00,#ffa700,#ffa200,#ffa000,#ff9f00,#ffa000,#ffa200,#ffa600,#ffab00,#ffb000,#ffb600,#ffbb00,#ffbb00,#ffb600,#ffad00,#ff9f00,#ff9200,#ff8800,#ff8400)"></i>
<i style="top:72.32px;height:2.71px;background:linear-gradient(90deg,#000097,#0000bf,#0024ff,#008fff,#00f4ff,#53ffac,#a8ff57,#f4ff0b,#ffc900,#ff9a00,#ff7900,#ff6200,#ff5100,#ff4400,#ff3b00,#ff3700,#ff3600,#ff3800,#ff3d00,#ff4500,#ff5100,#ff5f00,#ff7100,#ff8500,#ff9b00,#ffb200,#ffc900,#ffdf00,#fff200,#fbff04,#efff10,#e6ff19,#e2ff1d,#e2ff1d,#e7ff18,#f0ff0f,#fbff04,#fff700,#ffec00,#ffe100,#ffd700,#ffce00,#ffc500,#ffbc00,#ffb300,#ffac00,#ffa700,#ffa300,#ffa200,#ffa200,#ffa300,#ffa700,#ffac00,#ffb300,#ffbb00,#ffc300,#ffca00,#ffcd00,#ffcb00,#ffc200,#ffb400,#ffa300,#ff9600,#ff8f00)"></i>
<i style="top:74.32px;height:2.71px;background:linear-gradient(90deg,#000080,#0000a5,#0012ff,#0082ff,#00ecff,#4fffb0,#a7ff58,#f4ff0b,#ffc900,#ff9900,#ff7800,#ff6100,#ff4f00,#ff4200,#ff3800,#ff3300,#ff3100,#ff3300,#ff3900,#ff4100,#ff4d00,#ff5c00,#ff6e00,#ff8200,#ff9800,#ffae00,#ffc400,#ffd900,#ffec00,#fffc00,#f5ff0a,#ecff13,#e8ff17,#e8ff17,#ebff14,#f3ff0c,#fdff02,#fff600,#ffeb00,#ffe100,#ffd700,#ffcd00,#ffc400,#ffbb00,#ffb200,#ffac00,#ffa700,#ffa400,#ffa300,#ffa400,#ffa700,#ffab00,#ffb200,#ffbb00,#ffc600,#ffd100,#ffdb00,#ffe100,#ffe200,#ffdc00,#ffcd00,#ffb800,#ffa500,#ff9c00)"></i>
<i style="top:76.33px;height:2.71px;background:linear-gradient(90deg,#000080,#00009f,#000dff,#007fff,#00ebff,#51ffae,#a9ff56,#f7ff08,#ffc700,#ff9800,#ff7800,#ff6000,#ff4e00,#ff4000,#ff3600,#ff3000,#ff2e00,#ff2f00,#ff3500,#ff3e00,#ff4b00,#ff5a00,#ff6c00,#ff8000,#ff9500,#ffab00,#ffc000,#ffd400,#ffe700,#fff700,#fbff04,#f2ff0d,#edff12,#ecff13,#efff10,#f6ff09,#feff01,#fff500,#ffeb00,#ffe000,#ffd600,#ffcc00,#ffc300,#ffba00,#ffb200,#ffab00,#ffa700,#ffa400,#ffa400,#ffa500,#ffa900,#ffb000,#ffb800,#ffc400,#ffd100,#ffdf00,#ffec00,#fff500,#fffb00,#fff900,#ffea00,#ffd000,#ffb700,#ffa900)"></i>
<i style="top:78.34px;height:2.71px;background:linear-gradient(90deg,#000086,#0000af,#0017ff,#0086ff,#00f2ff,#57ffa8,#b0ff4f,#fcff03,#ffc400,#ff9600,#ff7700,#ff6000,#ff4d00,#ff3f00,#ff3400,#ff2d00,#ff2b00,#ff2c00,#ff3200,#ff3b00,#ff4800,#ff5800,#ff6a00,#ff7e00,#ff9200,#ffa700,#ffbc00,#ffd000,#ffe200,#fff200,#fffe00,#f7ff08,#f2ff0d,#f0ff0f,#f3ff0c,#f8ff07,#fffe00,#fff400,#ffea00,#ffe000,#ffd600,#ffcc00,#ffc200,#ffb900,#ffb200,#ffab00,#ffa700,#ffa400,#ffa400,#ffa700,#ffac00,#ffb400,#ffbf00,#ffcc00,#ffdc00,#ffed00,#fffc00,#f4ff0b,#eaff15,#e9ff16,#f8ff07,#ffe700,#ffc800,#ffb600)"></i>
<i style="top:80.35px;height:2.71px;background:linear-gradient(90deg,#0000ae,#0000d2,#002fff,#0097ff,#01fffe,#63ff9c,#b9ff46,#fffc00,#ffc000,#ff9500,#ff7700,#ff6000,#ff4d00,#ff3e00,#ff3300,#ff2c00,#ff2900,#ff2a00,#ff2f00,#ff3900,#ff4700,#ff5700,#ff6900,#ff7c00,#ff9000,#ffa500,#ffb900,#ffcc00,#ffde00,#ffee00,#fffa00,#fbff04,#f6ff09,#f4ff0b,#f6ff09,#fbff04,#fffc00,#fff300,#ffe900,#ffdf00,#ffd500,#ffcc00,#ffc200,#ffb900,#ffb100,#ffab00,#ffa700,#ffa500,#ffa500,#ffa800,#ffae00,#ffb800,#ffc400,#ffd400,#ffe600,#fffa00,#f2ff0d,#e2ff1d,#d5ff2a,#d2ff2d,#e2ff1d,#fffa00,#ffd700,#ffc200)"></i>
<i style="top:82.36px;height:2.71px;background:linear-gradient(90deg,#0000e6,#0005ff,#0053ff,#00b2ff,#16ffe9,#73ff8c,#c5ff3a,#fff400,#ffbc00,#ff9400,#ff7700,#ff6000,#ff4e00,#ff3f00,#ff3300,#ff2b00,#ff2800,#ff2800,#ff2e00,#ff3800,#ff4600,#ff5600,#ff6800,#ff7b00,#ff8f00,#ffa200,#ffb600,#ffc900,#ffdb00,#ffea00,#fff600,#ffff00,#f9ff06,#f7ff08,#f8ff07,#fdff02,#fffa00,#fff200,#ffe800,#ffdf00,#ffd500,#ffcc00,#ffc200,#ffb900,#ffb200,#ffab00,#ffa700,#ffa500,#ffa600,#ffa900,#ffb100,#ffbb00,#ffc900,#ffdb00,#fff000,#f8ff07,#e4ff1b,#d3ff2c,#c7ff38,#c4ff3b,#d6ff29,#f9ff06,#ffe100,#ffcc00)"></i>
<i style="top:84.37px;height:2.71px;background:linear-gradient(90deg,#0028ff,#0041ff,#0081ff,#00d5ff,#30ffcf,#87ff78,#d3ff2c,#ffeb00,#ffb800,#ff9200,#ff7700,#ff6100,#ff4f00,#ff4000,#ff3400,#ff2c00,#ff2700,#ff2800,#ff2d00,#ff3700,#ff4500,#ff5600,#ff6800,#ff7a00,#ff8d00,#ffa100,#ffb400,#ffc700,#ffd800,#ffe700,#fff300,#fffc00,#fcff03,#faff05,#fbff04,#ffff00,#fff800,#fff000,#ffe700,#ffde00,#ffd500,#ffcb00,#ffc200,#ffba00,#ffb200,#ffab00,#ffa700,#ffa500,#ffa600,#ffaa00,#ffb200,#ffbe00,#ffce00,#ffe200,#fff800,#eeff11,#d9ff26,#c9ff36,#bfff40,#c1ff3e,#d4ff2b,#f7ff08,#ffe600,#ffd400)"></i>
<i style="top:86.38px;height:2.71px;background:linear-gradient(90deg,#0070ff,#0085ff,#00b8ff,#01fffe,#50ffaf,#9eff61,#e2ff1d,#ffe200,#ffb400,#ff9100,#ff7700,#ff6200,#ff5000,#ff4200,#ff3600,#ff2d00,#ff2800,#ff2800,#ff2d00,#ff3700,#ff4500,#ff5600,#ff6700,#ff7a00,#ff8d00,#ffa000,#ffb200,#ffc500,#ffd500,#ffe400,#fff000,#fff900,#ffff00,#fdff02,#feff01,#fffc00,#fff600,#ffee00,#ffe600,#ffdd00,#ffd400,#ffcb00,#ffc300,#ffba00,#ffb200,#ffac00,#ffa700,#ffa500,#ffa700,#ffab00,#ffb400,#ffc100,#ffd200,#ffe700,#ffff00,#e6ff19,#d1ff2e,#c2ff3d,#bcff43,#c4ff3b,#daff25,#fbff04,#ffe700,#ffd800)"></i>
<i style="top:88.39px;height:2.71px;background:linear-gradient(90deg,#00beff,#00d0ff,#00f8ff,#33ffcc,#75ff8a,#b7ff48,#f2ff0d,#ffd900,#ffaf00,#ff8f00,#ff7700,#ff6300,#ff5200,#ff4400,#ff3800,#ff2f00,#ff2a00,#ff2900,#ff2e00,#ff3800,#ff4600,#ff5600,#ff6800,#ff7a00,#ff8d00,#ff9f00,#ffb100,#ffc300,#ffd400,#ffe200,#ffee00,#fff700,#fffc00,#ffff00,#fffe00,#fffa00,#fff400,#ffec00,#ffe400,#ffdc00,#ffd400,#ffcb00,#ffc300,#ffba00,#ffb200,#ffac00,#ffa700,#ffa600,#ffa700,#ffad00,#ffb600,#ffc300,#ffd500,#ffeb00,#faff05,#e1ff1e,#cbff34,#beff41,#bdff42,#caff35,#e3ff1c,#fffc00,#ffe400,#ffd800)"></i>
<i style="top:90.39px;height:2.71px;background:linear-gradient(90deg,#13ffec,#23ffdc,#42ffbd,#6dff92,#9fff60,#d3ff2c,#fffb00,#ffd000,#ffab00,#ff8e00,#ff7700,#ff6400,#ff5400,#ff4600,#ff3b00,#ff3200,#ff2c00,#ff2c00,#ff3000,#ff3a00,#ff4700,#ff5700,#ff6900,#ff7b00,#ff8d00,#ff9f00,#ffb100,#ffc200,#ffd200,#ffe000,#ffec00,#fff400,#fffa00,#fffc00,#fffb00,#fff700,#fff100,#ffea00,#ffe300,#ffdb00,#ffd300,#ffcb00,#ffc300,#ffba00,#ffb200,#ffab00,#ffa700,#ffa600,#ffa800,#ffae00,#ffb700,#ffc500,#ffd700,#ffed00,#f8ff07,#deff21,#c9ff36,#bdff42,#c1ff3e,#d2ff2d,#eeff11,#fff300,#ffde00,#ffd400)"></i>
<i style="top:92.40px;height:2.71px;background:linear-gradient(90deg,#69ff96,#79ff86,#8eff71,#aaff55,#cbff34,#efff10,#ffea00,#ffc700,#ffa700,#ff8c00,#ff7600,#ff6400,#ff5600,#ff4900,#ff3e00,#ff3500,#ff3000,#ff2e00,#ff3200,#ff3c00,#ff4900,#ff5900,#ff6a00,#ff7c00,#ff8e00,#ffa000,#ffb100,#ffc200,#ffd200,#ffdf00,#ffea00,#fff200,#fff700,#fff900,#fff800,#fff500,#ffef00,#ffe900,#ffe200,#ffdb00,#ffd300,#ffcb00,#ffc200,#ffb900,#ffb100,#ffab00,#ffa700,#ffa600,#ffa900,#ffaf00,#ffb900,#ffc600,#ffd800,#ffed00,#f8ff07,#deff21,#caff35,#c0ff3f,#c6ff39,#dbff24,#f9ff06,#ffe800,#ffd400,#ffcc00)"></i>
<i style="top:94.41px;height:2.71px;background:linear-gradient(90deg,#baff45,#caff35,#d7ff28,#e4ff1b,#f4ff0b,#fff400,#ffdb00,#ffbf00,#ffa300,#ff8a00,#ff7600,#ff6500,#ff5800,#ff4c00,#ff4200,#ff3900,#ff3300,#ff3200,#ff3600,#ff3f00,#ff4c00,#ff5b00,#ff6c00,#ff7e00,#ff9000,#ffa100,#ffb200,#ffc200,#ffd100,#ffde00,#ffe800,#ffef00,#fff400,#fff600,#fff500,#fff200,#ffed00,#ffe700,#ffe100,#ffda00,#ffd200,#ffca00,#ffc200,#ffb900,#ffb000,#ffaa00,#ffa700,#ffa700,#ffaa00,#ffb000,#ffba00,#ffc700,#ffd700,#ffeb00,#faff05,#e2ff1d,#ceff31,#c6ff39,#cfff30,#e7ff18,#fff800,#ffda00,#ffc600,#ffbf00)"></i>
<i style="top:96.42px;height:2.71px;background:linear-gradient(90deg,#fcff03,#fff300,#ffec00,#ffeb00,#ffe800,#ffdf00,#ffce00,#ffb800,#ffa000,#ff8900,#ff7600,#ff6600,#ff5a00,#ff4f00,#ff4600,#ff3d00,#ff3800,#ff3600,#ff3900,#ff4200,#ff4f00,#ff5e00,#ff6f00,#ff8000,#ff9200,#ffa300,#ffb300,#ffc300,#ffd100,#ffdd00,#ffe600,#ffed00,#fff100,#fff200,#fff200,#ffef00,#ffeb00,#ffe600,#ffe000,#ffd900,#ffd200,#ffca00,#ffc100,#ffb700,#ffaf00,#ffa900,#ffa600,#ffa700,#ffab00,#ffb200,#ffbb00,#ffc700,#ffd600,#ffe800,#ffff00,#e8ff17,#d6ff29,#d0ff2f,#dbff24,#f5ff0a,#ffe800,#ffc900,#ffb500,#ffad00)"></i>
<i style="top:98.43px;height:2.71px;background:linear-gradient(90deg,#ffd600,#ffc900,#ffc700,#ffcc00,#ffd200,#ffd000,#ffc600,#ffb300,#ff9e00,#ff8800,#ff7600,#ff6800,#ff5d00,#ff5300,#ff4a00,#ff4200,#ff3c00,#ff3a00,#ff3d00,#ff4600,#ff5200,#ff6100,#ff7200,#ff8300,#ff9400,#ffa500,#ffb500,#ffc400,#ffd100,#ffdc00,#ffe400,#ffea00,#ffee00,#ffef00,#ffef00,#ffed00,#ffe900,#ffe400,#ffdf00,#ffd800,#ffd100,#ffc800,#ffbf00,#ffb600,#ffae00,#ffa800,#ffa600,#ffa700,#ffac00,#ffb300,#ffbb00,#ffc600,#ffd300,#ffe400,#fff800,#f1ff0e,#e1ff1e,#ddff22,#eaff15,#fff800,#ffd500,#ffb500,#ffa000,#ff9800)"></i>
<i style="top:100.44px;height:2.71px;background:linear-gradient(90deg,#ffc000,#ffb600,#ffb600,#ffbf00,#ffc700,#ffc900,#ffc100,#ffb100,#ff9d00,#ff8800,#ff7700,#ff6a00,#ff6000,#ff5700,#ff4f00,#ff4700,#ff4100,#ff3f00,#ff4200,#ff4a00,#ff5600,#ff6500,#ff7500,#ff8600,#ff9700,#ffa700,#ffb600,#ffc400,#ffd100,#ffdb00,#ffe300,#ffe800,#ffeb00,#ffec00,#ffec00,#ffea00,#ffe700,#ffe300,#ffde00,#ffd700,#ffd000,#ffc700,#ffbe00,#ffb400,#ffac00,#ffa600,#ffa400,#ffa700,#ffac00,#ffb300,#ffbb00,#ffc400,#ffd000,#ffde00,#fff000,#fbff04,#edff12,#ecff13,#fbff04,#ffe500,#ffc000,#ff9f00,#ff8900,#ff8200)"></i>
<i style="top:102.45px;height:2.71px;background:linear-gradient(90deg,#ffb800,#ffb100,#ffb300,#ffbc00,#ffc400,#ffc600,#ffbf00,#ffb000,#ff9d00,#ff8a00,#ff7a00,#ff6d00,#ff6400,#ff5b00,#ff5300,#ff4c00,#ff4600,#ff4400,#ff4600,#ff4e00,#ff5a00,#ff6800,#ff7800,#ff8800,#ff9900,#ffa900,#ffb800,#ffc500,#ffd000,#ffda00,#ffe100,#ffe600,#ffe800,#ffe900,#ffe900,#ffe800,#ffe500,#ffe100,#ffdc00,#ffd600,#ffce00,#ffc500,#ffbc00,#ffb200,#ffaa00,#ffa400,#ffa300,#ffa600,#ffab00,#ffb200,#ffba00,#ffc200,#ffcc00,#ffd800,#ffe800,#fff800,#fbff04,#fcff03,#fff100,#ffd100,#ffaa00,#ff8800,#ff7200,#ff6a00)"></i>
<i style="top:104.46px;height:2.71px;background:linear-gradient(90deg,#ffb600,#ffb200,#ffb500,#ffbc00,#ffc300,#ffc500,#ffbf00,#ffb100,#ffa000,#ff8e00,#ff7e00,#ff7200,#ff6900,#ff6000,#ff5800,#ff5100,#ff4b00,#ff4800,#ff4b00,#ff5200,#ff5d00,#ff6b00,#ff7b00,#ff8b00,#ff9b00,#ffaa00,#ffb800,#ffc500,#ffd000,#ffd900,#ffdf00,#ffe400,#ffe600,#ffe700,#ffe700,#ffe600,#ffe300,#ffdf00,#ffda00,#ffd400,#ffcc00,#ffc300,#ffba00,#ffb000,#ffa800,#ffa200,#ffa100,#ffa400,#ffaa00,#ffb100,#ffb800,#ffbf00,#ffc800,#ffd200,#ffdf00,#ffed00,#fff500,#fff100,#ffde00,#ffbc00,#ff9500,#ff7200,#ff5b00,#ff5300)"></i>
<i style="top:106.46px;height:2.71px;background:linear-gradient(90deg,#ffb400,#ffb300,#ffb600,#ffbd00,#ffc300,#ffc400,#ffbf00,#ffb300,#ffa400,#ff9300,#ff8500,#ff7900,#ff6e00,#ff6600,#ff5d00,#ff5500,#ff5000,#ff4d00,#ff4f00,#ff5600,#ff6100,#ff6e00,#ff7d00,#ff8c00,#ff9c00,#ffab00,#ffb900,#ffc500,#ffcf00,#ffd700,#ffde00,#ffe200,#ffe500,#ffe600,#ffe500,#ffe400,#ffe100,#ffdd00,#ffd800,#ffd100,#ffca00,#ffc100,#ffb700,#ffae00,#ffa500,#ffa000,#ff9f00,#ffa100,#ffa700,#ffae00,#ffb500,#ffbc00,#ffc300,#ffcc00,#ffd700,#ffe200,#ffe700,#ffe100,#ffcb00,#ffa800,#ff8000,#ff5d00,#ff4700,#ff3f00)"></i>
<i style="top:108.47px;height:2.71px;background:linear-gradient(90deg,#ffb200,#ffb200,#ffb600,#ffbc00,#ffc100,#ffc300,#ffc000,#ffb700,#ffaa00,#ff9b00,#ff8d00,#ff8100,#ff7500,#ff6b00,#ff6200,#ff5a00,#ff5400,#ff5200,#ff5400,#ff5a00,#ff6400,#ff7100,#ff7f00,#ff8e00,#ff9c00,#ffab00,#ffb800,#ffc400,#ffce00,#ffd600,#ffdc00,#ffe100,#ffe400,#ffe500,#ffe400,#ffe200,#ffdf00,#ffdb00,#ffd500,#ffcf00,#ffc700,#ffbe00,#ffb500,#ffab00,#ffa300,#ff9d00,#ff9c00,#ff9e00,#ffa300,#ffaa00,#ffb100,#ffb700,#ffbf00,#ffc700,#ffd000,#ffd800,#ffda00,#ffd100,#ffba00,#ff9600,#ff6e00,#ff4b00,#ff3500,#ff2d00)"></i>
<i style="top:110.48px;height:2.71px;background:linear-gradient(90deg,#ffb100,#ffb200,#ffb500,#ffbb00,#ffc100,#ffc400,#ffc200,#ffbc00,#ffb100,#ffa500,#ff9700,#ff8a00,#ff7d00,#ff7100,#ff6700,#ff5e00,#ff5800,#ff5600,#ff5800,#ff5e00,#ff6700,#ff7300,#ff8000,#ff8e00,#ff9c00,#ffaa00,#ffb700,#ffc200,#ffcc00,#ffd400,#ffdb00,#ffe000,#ffe300,#ffe400,#ffe400,#ffe100,#ffdd00,#ffd800,#ffd200,#ffcb00,#ffc400,#ffbb00,#ffb200,#ffa900,#ffa000,#ff9b00,#ff9800,#ff9a00,#ff9e00,#ffa400,#ffab00,#ffb300,#ffba00,#ffc200,#ffc900,#ffcf00,#ffce00,#ffc300,#ffaa00,#ff8600,#ff5e00,#ff3c00,#ff2600,#ff1e00)"></i>
<i style="top:112.49px;height:2.71px;background:linear-gradient(90deg,#ffb100,#ffb300,#ffb600,#ffbc00,#ffc200,#ffc600,#ffc600,#ffc200,#ffbb00,#ffb000,#ffa300,#ff9400,#ff8600,#ff7800,#ff6c00,#ff6300,#ff5d00,#ff5a00,#ff5c00,#ff6100,#ff6a00,#ff7500,#ff8100,#ff8e00,#ff9c00,#ffa900,#ffb500,#ffc000,#ffca00,#ffd200,#ffda00,#ffdf00,#ffe300,#ffe400,#ffe300,#ffe000,#ffdb00,#ffd500,#ffcf00,#ffc800,#ffc000,#ffb800,#ffaf00,#ffa600,#ff9e00,#ff9800,#ff9500,#ff9500,#ff9900,#ff9f00,#ffa600,#ffad00,#ffb500,#ffbd00,#ffc400,#ffc700,#ffc300,#ffb600,#ff9c00,#ff7800,#ff5100,#ff3000,#ff1b00,#ff1300)"></i>
<i style="top:114.50px;height:2.71px;background:linear-gradient(90deg,#ffb500,#ffb600,#ffba00,#ffc000,#ffc600,#ffcb00,#ffcd00,#ffcb00,#ffc500,#ffbc00,#ffaf00,#ff9f00,#ff8e00,#ff7f00,#ff7100,#ff6700,#ff6100,#ff5e00,#ff6000,#ff6500,#ff6d00,#ff7700,#ff8200,#ff8e00,#ff9b00,#ffa700,#ffb300,#ffbe00,#ffc800,#ffd100,#ffd800,#ffdf00,#ffe300,#ffe500,#ffe300,#ffdf00,#ffda00,#ffd300,#ffcb00,#ffc400,#ffbd00,#ffb500,#ffad00,#ffa400,#ff9b00,#ff9500,#ff9100,#ff9100,#ff9300,#ff9800,#ff9f00,#ffa800,#ffb100,#ffb900,#ffbf00,#ffc000,#ffba00,#ffab00,#ff9000,#ff6c00,#ff4700,#ff2600,#ff1200,#ff0b00)"></i>
<i style="top:116.51px;height:2.71px;background:linear-gradient(90deg,#ffbb00,#ffbd00,#ffc100,#ffc600,#ffcd00,#ffd300,#ffd600,#ffd500,#ffd100,#ffc800,#ffbb00,#ffaa00,#ff9700,#ff8500,#ff7700,#ff6c00,#ff6500,#ff6300,#ff6400,#ff6800,#ff6f00,#ff7800,#ff8300,#ff8e00,#ff9a00,#ffa600,#ffb100,#ffbc00,#ffc600,#ffcf00,#ffd700,#ffde00,#ffe300,#ffe500,#ffe400,#ffdf00,#ffd800,#ffd000,#ffc800,#ffc100,#ffba00,#ffb200,#ffaa00,#ffa100,#ff9900,#ff9200,#ff8e00,#ff8c00,#ff8e00,#ff9200,#ff9a00,#ffa300,#ffad00,#ffb500,#ffba00,#ffba00,#ffb300,#ffa200,#ff8700,#ff6400,#ff3f00,#ff2000,#ff0d00,#ff0600)"></i>
<i style="top:118.52px;height:2.71px;background:linear-gradient(90deg,#ffc400,#ffc500,#ffca00,#ffd000,#ffd800,#ffde00,#ffe200,#ffe200,#ffde00,#ffd500,#ffc600,#ffb400,#ffa000,#ff8c00,#ff7c00,#ff7100,#ff6a00,#ff6700,#ff6800,#ff6b00,#ff7200,#ff7a00,#ff8300,#ff8e00,#ff9900,#ffa400,#ffaf00,#ffba00,#ffc400,#ffce00,#ffd600,#ffde00,#ffe300,#ffe500,#ffe300,#ffde00,#ffd600,#ffce00,#ffc500,#ffbe00,#ffb600,#ffaf00,#ffa700,#ff9f00,#ff9700,#ff9000,#ff8b00,#ff8800,#ff8900,#ff8d00,#ff9400,#ff9e00,#ffa900,#ffb200,#ffb700,#ffb500,#ffac00,#ff9b00,#ff8000,#ff5d00,#ff3b00,#ff1d00,#ff0b00,#ff0500)"></i>
<i style="top:120.53px;height:2.71px;background:linear-gradient(90deg,#ffce00,#ffcf00,#ffd500,#ffdd00,#ffe600,#ffed00,#fff100,#fff100,#ffeb00,#ffe100,#ffd100,#ffbd00,#ffa700,#ff9300,#ff8300,#ff7700,#ff6f00,#ff6c00,#ff6c00,#ff6f00,#ff7400,#ff7c00,#ff8400,#ff8e00,#ff9800,#ffa300,#ffae00,#ffb900,#ffc300,#ffcd00,#ffd600,#ffdd00,#ffe300,#ffe500,#ffe300,#ffdd00,#ffd500,#ffcc00,#ffc300,#ffbb00,#ffb400,#ffac00,#ffa400,#ff9c00,#ff9400,#ff8d00,#ff8800,#ff8500,#ff8400,#ff8800,#ff9000,#ff9a00,#ffa500,#ffaf00,#ffb300,#ffb100,#ffa800,#ff9600,#ff7b00,#ff5a00,#ff3900,#ff1d00,#ff0c00,#ff0600)"></i>
<i style="top:122.54px;height:2.71px;background:linear-gradient(90deg,#ffd800,#ffda00,#ffe100,#ffeb00,#fff700,#feff01,#faff05,#fcff03,#fff900,#ffec00,#ffd900,#ffc400,#ffae00,#ff9a00,#ff8900,#ff7d00,#ff7500,#ff7100,#ff7000,#ff7200,#ff7700,#ff7d00,#ff8500,#ff8e00,#ff9800,#ffa200,#ffad00,#ffb800,#ffc200,#ffcc00,#ffd500,#ffdd00,#ffe200,#ffe400,#ffe200,#ffdd00,#ffd400,#ffcb00,#ffc200,#ffb900,#ffb200,#ffaa00,#ffa200,#ff9a00,#ff9200,#ff8b00,#ff8500,#ff8200,#ff8100,#ff8500,#ff8c00,#ff9700,#ffa200,#ffac00,#ffb000,#ffae00,#ffa500,#ff9300,#ff7a00,#ff5a00,#ff3a00,#ff2000,#ff1000,#ff0a00)"></i>
<i style="top:124.54px;height:2.71px;background:linear-gradient(90deg,#ffe100,#ffe500,#ffed00,#fffb00,#f4ff0b,#e9ff16,#e6ff19,#ebff14,#f7ff08,#fff600,#ffe100,#ffca00,#ffb400,#ffa000,#ff9000,#ff8300,#ff7b00,#ff7600,#ff7400,#ff7600,#ff7900,#ff7f00,#ff8600,#ff8f00,#ff9800,#ffa200,#ffad00,#ffb700,#ffc200,#ffcb00,#ffd400,#ffdc00,#ffe100,#ffe300,#ffe100,#ffdc00,#ffd300,#ffca00,#ffc100,#ffb800,#ffb000,#ffa800,#ffa000,#ff9800,#ff9000,#ff8900,#ff8400,#ff8000,#ff7f00,#ff8200,#ff8900,#ff9400,#ff9f00,#ffa900,#ffae00,#ffac00,#ffa400,#ff9300,#ff7b00,#ff5d00,#ff3f00,#ff2600,#ff1600,#ff1100)"></i>
<i style="top:126.55px;height:2.71px;background:linear-gradient(90deg,#ffeb00,#ffef00,#fffa00,#f3ff0c,#e0ff1f,#d3ff2c,#d0ff2f,#d8ff27,#e9ff16,#fffe00,#ffe700,#ffcf00,#ffba00,#ffa600,#ff9600,#ff8a00,#ff8100,#ff7b00,#ff7800,#ff7900,#ff7c00,#ff8100,#ff8800,#ff9000,#ff9800,#ffa200,#ffac00,#ffb700,#ffc100,#ffcb00,#ffd400,#ffdb00,#ffe000,#ffe200,#ffe000,#ffdb00,#ffd300,#ffca00,#ffc000,#ffb800,#ffaf00,#ffa600,#ff9e00,#ff9600,#ff8e00,#ff8700,#ff8200,#ff7f00,#ff7e00,#ff8100,#ff8800,#ff9200,#ff9d00,#ffa600,#ffab00,#ffab00,#ffa300,#ff9400,#ff7e00,#ff6200,#ff4500,#ff2e00,#ff1f00,#ff1a00)"></i>
<i style="top:128.56px;height:2.71px;background:linear-gradient(90deg,#fff400,#fff900,#f7ff08,#e2ff1d,#ccff33,#bdff42,#bbff44,#c7ff38,#ddff22,#f8ff07,#ffeb00,#ffd300,#ffbe00,#ffac00,#ff9c00,#ff9000,#ff8600,#ff8000,#ff7d00,#ff7c00,#ff7f00,#ff8300,#ff8900,#ff9000,#ff9900,#ffa200,#ffad00,#ffb700,#ffc200,#ffcc00,#ffd400,#ffdb00,#ffdf00,#ffe000,#ffde00,#ffd900,#ffd200,#ffca00,#ffc100,#ffb700,#ffae00,#ffa500,#ff9c00,#ff9400,#ff8c00,#ff8600,#ff8100,#ff7e00,#ff7d00,#ff8000,#ff8600,#ff9000,#ff9a00,#ffa300,#ffa900,#ffa900,#ffa300,#ff9600,#ff8200,#ff6900,#ff4f00,#ff3900,#ff2b00,#ff2600)"></i>
<i style="top:130.57px;height:2.71px;background:linear-gradient(90deg,#fffc00,#fcff03,#ecff13,#d3ff2c,#baff45,#a9ff56,#a8ff57,#b7ff48,#d2ff2d,#f1ff0e,#ffef00,#ffd600,#ffc200,#ffb100,#ffa200,#ff9600,#ff8c00,#ff8500,#ff8000,#ff7f00,#ff8100,#ff8500,#ff8a00,#ff9100,#ff9900,#ffa300,#ffad00,#ffb800,#ffc200,#ffcc00,#ffd400,#ffda00,#ffde00,#ffdf00,#ffdd00,#ffd800,#ffd200,#ffca00,#ffc100,#ffb700,#ffae00,#ffa400,#ff9b00,#ff9300,#ff8b00,#ff8500,#ff8000,#ff7d00,#ff7d00,#ff7f00,#ff8500,#ff8e00,#ff9800,#ffa100,#ffa700,#ffa800,#ffa400,#ff9a00,#ff8800,#ff7100,#ff5a00,#ff4600,#ff3900,#ff3500)"></i>
<i style="top:132.58px;height:2.71px;background:linear-gradient(90deg,#faff05,#f4ff0b,#e2ff1d,#c6ff39,#aaff55,#98ff67,#97ff68,#aaff55,#c9ff36,#ecff13,#fff200,#ffd900,#ffc500,#ffb500,#ffa700,#ff9b00,#ff9100,#ff8900,#ff8400,#ff8200,#ff8300,#ff8600,#ff8b00,#ff9200,#ff9a00,#ffa300,#ffad00,#ffb800,#ffc300,#ffcc00,#ffd400,#ffd900,#ffdc00,#ffdd00,#ffdb00,#ffd800,#ffd200,#ffca00,#ffc200,#ffb800,#ffae00,#ffa400,#ff9a00,#ff9100,#ff8a00,#ff8400,#ff7f00,#ff7c00,#ff7c00,#ff7f00,#ff8400,#ff8c00,#ff9500,#ff9e00,#ffa400,#ffa700,#ffa500,#ff9d00,#ff8f00,#ff7b00,#ff6600,#ff5500,#ff4a00,#ff4600)"></i>
<i style="top:134.59px;height:2.71px;background:linear-gradient(90deg,#f4ff0b,#edff12,#d9ff26,#bcff43,#9eff61,#8bff74,#8bff74,#a0ff5f,#c2ff3d,#e7ff18,#fff500,#ffdb00,#ffc800,#ffb800,#ffab00,#ff9f00,#ff9500,#ff8d00,#ff8700,#ff8500,#ff8500,#ff8800,#ff8c00,#ff9200,#ff9a00,#ffa300,#ffae00,#ffb900,#ffc300,#ffcd00,#ffd400,#ffd900,#ffdc00,#ffdc00,#ffda00,#ffd700,#ffd200,#ffcb00,#ffc200,#ffb800,#ffae00,#ffa400,#ff9a00,#ff9100,#ff8900,#ff8200,#ff7e00,#ff7b00,#ff7b00,#ff7e00,#ff8300,#ff8a00,#ff9200,#ff9a00,#ffa100,#ffa600,#ffa600,#ffa100,#ff9600,#ff8600,#ff7500,#ff6600,#ff5c00,#ff5900)"></i>
<i style="top:136.60px;height:2.71px;background:linear-gradient(90deg,#eeff11,#e7ff18,#d3ff2c,#b5ff4a,#97ff68,#83ff7c,#84ff7b,#9aff65,#bdff42,#e4ff1b,#fff700,#ffdd00,#ffca00,#ffbb00,#ffae00,#ffa200,#ff9800,#ff9000,#ff8a00,#ff8700,#ff8700,#ff8900,#ff8d00,#ff9300,#ff9a00,#ffa300,#ffae00,#ffb900,#ffc400,#ffcd00,#ffd400,#ffd900,#ffdb00,#ffdb00,#ffd900,#ffd600,#ffd100,#ffcb00,#ffc300,#ffb900,#ffae00,#ffa400,#ff9900,#ff9000,#ff8800,#ff8200,#ff7d00,#ff7a00,#ff7a00,#ff7c00,#ff8100,#ff8700,#ff8f00,#ff9700,#ff9e00,#ffa400,#ffa600,#ffa400,#ff9d00,#ff9100,#ff8400,#ff7800,#ff7100,#ff6e00)"></i>
<i style="top:138.61px;height:2.71px;background:linear-gradient(90deg,#eaff15,#e3ff1c,#cfff30,#b2ff4d,#94ff6b,#81ff7e,#82ff7d,#98ff67,#bbff44,#e2ff1d,#fff900,#ffdf00,#ffcb00,#ffbd00,#ffb000,#ffa400,#ff9a00,#ff9200,#ff8c00,#ff8900,#ff8800,#ff8a00,#ff8d00,#ff9300,#ff9a00,#ffa300,#ffae00,#ffb900,#ffc400,#ffcd00,#ffd400,#ffd900,#ffda00,#ffda00,#ffd900,#ffd600,#ffd100,#ffcb00,#ffc300,#ffb900,#ffaf00,#ffa400,#ff9a00,#ff9000,#ff8700,#ff8100,#ff7c00,#ff7900,#ff7900,#ff7a00,#ff7e00,#ff8400,#ff8c00,#ff9300,#ff9b00,#ffa100,#ffa600,#ffa600,#ffa300,#ff9c00,#ff9300,#ff8b00,#ff8600,#ff8400)"></i>
<i style="top:140.61px;height:2.71px;background:linear-gradient(90deg,#e7ff18,#e0ff1f,#ceff31,#b1ff4e,#95ff6a,#83ff7c,#84ff7b,#99ff66,#bbff44,#e2ff1d,#fffb00,#ffe000,#ffcd00,#ffbd00,#ffb100,#ffa600,#ff9c00,#ff9400,#ff8e00,#ff8b00,#ff8900,#ff8a00,#ff8d00,#ff9300,#ff9a00,#ffa300,#ffae00,#ffb900,#ffc400,#ffce00,#ffd400,#ffd900,#ffda00,#ffda00,#ffd800,#ffd500,#ffd100,#ffcb00,#ffc300,#ffba00,#ffaf00,#ffa400,#ff9a00,#ff9000,#ff8700,#ff8000,#ff7a00,#ff7700,#ff7700,#ff7800,#ff7c00,#ff8100,#ff8800,#ff8f00,#ff9700,#ff9f00,#ffa500,#ffa800,#ffa900,#ffa600,#ffa200,#ff9e00,#ff9b00,#ff9a00)"></i>
<i style="top:142.62px;height:2.71px;background:linear-gradient(90deg,#e6ff19,#dfff20,#ceff31,#b4ff4b,#99ff66,#89ff76,#8aff75,#9eff61,#beff41,#e2ff1d,#fffb00,#ffe100,#ffcd00,#ffbe00,#ffb100,#ffa600,#ff9d00,#ff9500,#ff9000,#ff8c00,#ff8a00,#ff8a00,#ff8d00,#ff9200,#ff9a00,#ffa300,#ffae00,#ffb900,#ffc400,#ffce00,#ffd500,#ffd900,#ffda00,#ffda00,#ffd800,#ffd500,#ffd100,#ffcb00,#ffc300,#ffba00,#ffb000,#ffa500,#ff9a00,#ff9000,#ff8600,#ff7f00,#ff7900,#ff7500,#ff7400,#ff7500,#ff7800,#ff7d00,#ff8400,#ff8b00,#ff9300,#ff9b00,#ffa300,#ffa900,#ffad00,#ffaf00,#ffb000,#ffb000,#ffb000,#ffaf00)"></i>
<i style="top:144.63px;height:2.71px;background:linear-gradient(90deg,#e6ff19,#e0ff1f,#d1ff2e,#b9ff46,#a1ff5e,#92ff6d,#93ff6c,#a5ff5a,#c2ff3d,#e4ff1b,#fffb00,#ffe100,#ffcd00,#ffbd00,#ffb000,#ffa600,#ff9d00,#ff9600,#ff9100,#ff8d00,#ff8a00,#ff8a00,#ff8d00,#ff9200,#ff9a00,#ffa300,#ffae00,#ffb900,#ffc400,#ffce00,#ffd500,#ffd900,#ffdb00,#ffda00,#ffd900,#ffd600,#ffd100,#ffcb00,#ffc300,#ffba00,#ffb000,#ffa500,#ff9a00,#ff8f00,#ff8600,#ff7d00,#ff7700,#ff7300,#ff7200,#ff7200,#ff7500,#ff7900,#ff7f00,#ff8700,#ff8f00,#ff9700,#ffa000,#ffa800,#ffb000,#ffb600,#ffbb00,#ffbf00,#ffc100,#ffc200)"></i>
<i style="top:146.64px;height:2.71px;background:linear-gradient(90deg,#e8ff17,#e3ff1c,#d5ff2a,#c0ff3f,#abff54,#9dff62,#9eff61,#aeff51,#c8ff37,#e7ff18,#fffa00,#ffe100,#ffcc00,#ffbc00,#ffaf00,#ffa500,#ff9d00,#ff9600,#ff9100,#ff8d00,#ff8a00,#ff8a00,#ff8c00,#ff9200,#ff9900,#ffa300,#ffae00,#ffb900,#ffc400,#ffcd00,#ffd400,#ffd900,#ffdb00,#ffdb00,#ffd900,#ffd600,#ffd100,#ffcb00,#ffc300,#ffba00,#ffaf00,#ffa500,#ff9900,#ff8e00,#ff8400,#ff7c00,#ff7500,#ff7100,#ff6f00,#ff6f00,#ff7100,#ff7500,#ff7b00,#ff8200,#ff8a00,#ff9300,#ff9c00,#ffa600,#ffb000,#ffbb00,#ffc400,#ffcb00,#ffcf00,#ffd100)"></i>
<i style="top:148.65px;height:2.71px;background:linear-gradient(90deg,#edff12,#e8ff17,#dcff23,#c9ff36,#b6ff49,#aaff55,#aaff55,#b8ff47,#cfff30,#ebff14,#fff800,#ffdf00,#ffcb00,#ffba00,#ffad00,#ffa400,#ff9c00,#ff9600,#ff9100,#ff8d00,#ff8a00,#ff8a00,#ff8c00,#ff9100,#ff9900,#ffa300,#ffae00,#ffb900,#ffc400,#ffcd00,#ffd400,#ffd900,#ffdb00,#ffdb00,#ffda00,#ffd600,#ffd100,#ffcb00,#ffc200,#ffb900,#ffaf00,#ffa400,#ff9800,#ff8d00,#ff8300,#ff7a00,#ff7300,#ff6e00,#ff6c00,#ff6c00,#ff6e00,#ff7100,#ff7700,#ff7d00,#ff8500,#ff8d00,#ff9700,#ffa200,#ffaf00,#ffbc00,#ffc900,#ffd300,#ffd900,#ffdb00)"></i>
<i style="top:150.66px;height:2.71px;background:linear-gradient(90deg,#f3ff0c,#efff10,#e4ff1b,#d3ff2c,#c2ff3d,#b7ff48,#b7ff48,#c3ff3c,#d8ff27,#f1ff0e,#fff400,#ffdd00,#ffc900,#ffb800,#ffac00,#ffa200,#ff9c00,#ff9600,#ff9100,#ff8d00,#ff8a00,#ff8900,#ff8b00,#ff9100,#ff9a00,#ffa300,#ffae00,#ffb900,#ffc300,#ffcc00,#ffd300,#ffd800,#ffdb00,#ffdc00,#ffdb00,#ffd700,#ffd200,#ffcb00,#ffc200,#ffb800,#ffae00,#ffa200,#ff9700,#ff8b00,#ff8100,#ff7800,#ff7000,#ff6c00,#ff6900,#ff6800,#ff6a00,#ff6d00,#ff7200,#ff7800,#ff7f00,#ff8800,#ff9100,#ff9d00,#ffab00,#ffbb00,#ffca00,#ffd600,#ffdd00,#ffdf00)"></i>
<i style="top:152.67px;height:2.71px;background:linear-gradient(90deg,#fcff03,#f8ff07,#eeff11,#dfff20,#cfff30,#c5ff3a,#c4ff3b,#cfff30,#e1ff1e,#f8ff07,#ffef00,#ffd900,#ffc600,#ffb600,#ffaa00,#ffa100,#ff9a00,#ff9500,#ff9100,#ff8c00,#ff8900,#ff8800,#ff8b00,#ff9100,#ff9a00,#ffa400,#ffaf00,#ffb900,#ffc300,#ffcb00,#ffd300,#ffd800,#ffdc00,#ffdd00,#ffdc00,#ffd800,#ffd200,#ffcb00,#ffc200,#ffb700,#ffac00,#ffa100,#ff9500,#ff8900,#ff7f00,#ff7500,#ff6e00,#ff6900,#ff6600,#ff6500,#ff6600,#ff6900,#ff6d00,#ff7300,#ff7900,#ff8100,#ff8b00,#ff9600,#ffa500,#ffb600,#ffc600,#ffd400,#ffdc00,#ffdf00)"></i>
<i style="top:154.68px;height:2.71px;background:linear-gradient(90deg,#fff800,#fffb00,#f9ff06,#ebff14,#ddff22,#d3ff2c,#d2ff2d,#dbff24,#ebff14,#ffff00,#ffe900,#ffd500,#ffc300,#ffb300,#ffa800,#ff9f00,#ff9900,#ff9400,#ff9000,#ff8b00,#ff8800,#ff8700,#ff8a00,#ff9100,#ff9a00,#ffa400,#ffaf00,#ffb900,#ffc200,#ffca00,#ffd100,#ffd700,#ffdc00,#ffde00,#ffdd00,#ffd900,#ffd300,#ffcb00,#ffc200,#ffb700,#ffab00,#ff9f00,#ff9300,#ff8700,#ff7c00,#ff7300,#ff6c00,#ff6600,#ff6300,#ff6200,#ff6300,#ff6500,#ff6900,#ff6e00,#ff7300,#ff7a00,#ff8300,#ff8f00,#ff9e00,#ffaf00,#ffc000,#ffce00,#ffd600,#ffd900)"></i>
<i style="top:156.68px;height:2.71px;background:linear-gradient(90deg,#ffed00,#fff000,#fff800,#f9ff06,#ebff14,#e1ff1e,#e0ff1f,#e7ff18,#f5ff0a,#fff600,#ffe300,#ffd000,#ffbf00,#ffb000,#ffa500,#ff9d00,#ff9800,#ff9300,#ff8e00,#ff8a00,#ff8600,#ff8600,#ff8900,#ff9000,#ff9a00,#ffa500,#ffaf00,#ffb900,#ffc100,#ffc900,#ffd000,#ffd700,#ffdc00,#ffdf00,#ffde00,#ffdb00,#ffd500,#ffcc00,#ffc200,#ffb700,#ffab00,#ff9e00,#ff9200,#ff8600,#ff7b00,#ff7100,#ff6900,#ff6400,#ff6000,#ff5f00,#ff5f00,#ff6100,#ff6400,#ff6800,#ff6d00,#ff7300,#ff7b00,#ff8600,#ff9400,#ffa500,#ffb600,#ffc400,#ffcd00,#ffd000)"></i>
<i style="top:158.69px;height:2.71px;background:linear-gradient(90deg,#ffe000,#ffe300,#ffeb00,#fff800,#f9ff06,#f0ff0f,#eeff11,#f4ff0b,#fffe00,#ffed00,#ffdc00,#ffca00,#ffba00,#ffad00,#ffa200,#ff9b00,#ff9600,#ff9100,#ff8c00,#ff8800,#ff8400,#ff8400,#ff8800,#ff8f00,#ff9a00,#ffa500,#ffaf00,#ffb800,#ffc000,#ffc700,#ffcf00,#ffd600,#ffdc00,#ffe000,#ffe000,#ffdd00,#ffd700,#ffce00,#ffc400,#ffb800,#ffac00,#ff9f00,#ff9200,#ff8500,#ff7a00,#ff7000,#ff6800,#ff6200,#ff5e00,#ff5c00,#ff5c00,#ff5d00,#ff6000,#ff6300,#ff6700,#ff6c00,#ff7300,#ff7d00,#ff8a00,#ff9b00,#ffab00,#ffb900,#ffc100,#ffc400)"></i>
<i style="top:160.70px;height:2.71px;background:linear-gradient(90deg,#ffd400,#ffd600,#ffde00,#ffea00,#fff600,#feff01,#fcff03,#fffd00,#fff300,#ffe400,#ffd400,#ffc400,#ffb600,#ffa900,#ff9f00,#ff9800,#ff9300,#ff8f00,#ff8a00,#ff8600,#ff8200,#ff8200,#ff8600,#ff8e00,#ff9900,#ffa400,#ffae00,#ffb700,#ffbe00,#ffc600,#ffcd00,#ffd500,#ffdc00,#ffe100,#ffe200,#ffe000,#ffda00,#ffd100,#ffc600,#ffbb00,#ffae00,#ffa000,#ff9300,#ff8600,#ff7a00,#ff7000,#ff6700,#ff6100,#ff5d00,#ff5a00,#ff5900,#ff5a00,#ff5b00,#ff5d00,#ff6000,#ff6400,#ff6a00,#ff7300,#ff8000,#ff8f00,#ff9f00,#ffac00,#ffb400,#ffb600)"></i>
<i style="top:162.71px;height:2.71px;background:linear-gradient(90deg,#ffc700,#ffca00,#ffd100,#ffdc00,#ffe800,#fff100,#fff400,#fff100,#ffe800,#ffdb00,#ffcd00,#ffbe00,#ffb000,#ffa500,#ff9c00,#ff9500,#ff9100,#ff8d00,#ff8800,#ff8300,#ff8000,#ff8000,#ff8400,#ff8c00,#ff9700,#ffa300,#ffad00,#ffb500,#ffbd00,#ffc400,#ffcc00,#ffd500,#ffdd00,#ffe300,#ffe500,#ffe300,#ffdd00,#ffd500,#ffca00,#ffbf00,#ffb200,#ffa400,#ff9700,#ff8900,#ff7c00,#ff7100,#ff6700,#ff6100,#ff5c00,#ff5900,#ff5700,#ff5600,#ff5700,#ff5800,#ff5a00,#ff5d00,#ff6200,#ff6a00,#ff7600,#ff8400,#ff9200,#ff9e00,#ffa500,#ffa800)"></i>
<i style="top:164.72px;height:2.71px;background:linear-gradient(90deg,#ffbb00,#ffbd00,#ffc400,#ffce00,#ffd900,#ffe200,#ffe600,#ffe400,#ffdd00,#ffd200,#ffc500,#ffb800,#ffab00,#ffa000,#ff9800,#ff9200,#ff8e00,#ff8a00,#ff8500,#ff8100,#ff7d00,#ff7d00,#ff8100,#ff8a00,#ff9500,#ffa100,#ffab00,#ffb300,#ffba00,#ffc200,#ffcb00,#ffd400,#ffdd00,#ffe400,#ffe700,#ffe600,#ffe100,#ffda00,#ffd000,#ffc500,#ffb800,#ffab00,#ff9c00,#ff8e00,#ff7f00,#ff7300,#ff6900,#ff6100,#ff5c00,#ff5800,#ff5500,#ff5400,#ff5300,#ff5300,#ff5400,#ff5600,#ff5a00,#ff6100,#ff6c00,#ff7800,#ff8500,#ff9000,#ff9700,#ff9900)"></i>
<i style="top:166.73px;height:2.71px;background:linear-gradient(90deg,#ffaf00,#ffb100,#ffb700,#ffc100,#ffcb00,#ffd400,#ffd900,#ffd800,#ffd200,#ffc900,#ffbe00,#ffb200,#ffa600,#ff9b00,#ff9300,#ff8e00,#ff8a00,#ff8700,#ff8200,#ff7e00,#ff7a00,#ff7a00,#ff7e00,#ff8700,#ff9200,#ff9e00,#ffa800,#ffb100,#ffb800,#ffc000,#ffc900,#ffd400,#ffde00,#ffe600,#ffeb00,#ffeb00,#ffe700,#ffe000,#ffd700,#ffcd00,#ffc100,#ffb300,#ffa400,#ff9400,#ff8500,#ff7700,#ff6b00,#ff6300,#ff5c00,#ff5700,#ff5400,#ff5100,#ff4f00,#ff4e00,#ff4e00,#ff5000,#ff5300,#ff5900,#ff6300,#ff6e00,#ff7a00,#ff8300,#ff8900,#ff8c00)"></i>
<i style="top:168.74px;height:2.71px;background:linear-gradient(90deg,#ffa400,#ffa600,#ffac00,#ffb400,#ffbe00,#ffc700,#ffcb00,#ffcc00,#ffc800,#ffc100,#ffb700,#ffac00,#ffa000,#ff9600,#ff8f00,#ff8a00,#ff8600,#ff8300,#ff7f00,#ff7b00,#ff7700,#ff7700,#ff7b00,#ff8400,#ff8f00,#ff9b00,#ffa500,#ffae00,#ffb600,#ffbe00,#ffc800,#ffd400,#ffdf00,#ffe900,#ffee00,#fff000,#ffed00,#ffe700,#ffe000,#ffd600,#ffcb00,#ffbd00,#ffad00,#ff9c00,#ff8b00,#ff7b00,#ff6f00,#ff6500,#ff5d00,#ff5800,#ff5300,#ff4f00,#ff4b00,#ff4900,#ff4800,#ff4a00,#ff4d00,#ff5200,#ff5b00,#ff6500,#ff6f00,#ff7800,#ff7d00,#ff7f00)"></i>
<i style="top:170.75px;height:2.71px;background:linear-gradient(90deg,#ff9b00,#ff9d00,#ffa200,#ffa900,#ffb200,#ffba00,#ffbf00,#ffc000,#ffbe00,#ffb800,#ffb000,#ffa600,#ff9b00,#ff9200,#ff8a00,#ff8600,#ff8300,#ff8000,#ff7c00,#ff7800,#ff7400,#ff7400,#ff7800,#ff8000,#ff8c00,#ff9700,#ffa200,#ffab00,#ffb400,#ffbd00,#ffc800,#ffd500,#ffe100,#ffec00,#fff300,#fff500,#fff400,#fff000,#ffe900,#ffe000,#ffd600,#ffc800,#ffb800,#ffa500,#ff9200,#ff8100,#ff7200,#ff6700,#ff5f00,#ff5800,#ff5200,#ff4d00,#ff4800,#ff4500,#ff4400,#ff4400,#ff4700,#ff4c00,#ff5400,#ff5d00,#ff6600,#ff6d00,#ff7200,#ff7300)"></i>
<i style="top:172.75px;height:2.71px;background:linear-gradient(90deg,#ff9300,#ff9500,#ff9900,#ffa000,#ffa800,#ffaf00,#ffb400,#ffb600,#ffb500,#ffb100,#ffa900,#ffa000,#ff9600,#ff8d00,#ff8600,#ff8200,#ff7f00,#ff7d00,#ff7900,#ff7500,#ff7100,#ff7100,#ff7500,#ff7d00,#ff8800,#ff9400,#ff9f00,#ffa900,#ffb200,#ffbd00,#ffc900,#ffd700,#ffe400,#fff000,#fff800,#fffc00,#fffb00,#fff800,#fff300,#ffeb00,#ffe100,#ffd300,#ffc200,#ffaf00,#ff9a00,#ff8700,#ff7700,#ff6a00,#ff6100,#ff5900,#ff5200,#ff4b00,#ff4500,#ff4100,#ff3f00,#ff4000,#ff4200,#ff4700,#ff4e00,#ff5600,#ff5e00,#ff6400,#ff6800,#ff6900)"></i>
<i style="top:174.76px;height:2.71px;background:linear-gradient(90deg,#ff8d00,#ff8f00,#ff9200,#ff9800,#ff9f00,#ffa600,#ffab00,#ffad00,#ffad00,#ffaa00,#ffa300,#ff9b00,#ff9100,#ff8900,#ff8200,#ff7f00,#ff7c00,#ff7a00,#ff7700,#ff7200,#ff6f00,#ff6e00,#ff7200,#ff7a00,#ff8500,#ff9100,#ff9d00,#ffa700,#ffb200,#ffbd00,#ffcb00,#ffda00,#ffe800,#fff500,#fffe00,#fbff04,#faff05,#fcff03,#fffd00,#fff600,#ffec00,#ffdf00,#ffcd00,#ffb800,#ffa200,#ff8d00,#ff7b00,#ff6d00,#ff6300,#ff5a00,#ff5200,#ff4a00,#ff4300,#ff3e00,#ff3c00,#ff3c00,#ff3f00,#ff4300,#ff4a00,#ff5100,#ff5700,#ff5d00,#ff6000,#ff6100)"></i>
<i style="top:176.77px;height:2.71px;background:linear-gradient(90deg,#ff8a00,#ff8b00,#ff8e00,#ff9300,#ff9900,#ff9f00,#ffa400,#ffa600,#ffa600,#ffa300,#ff9d00,#ff9500,#ff8d00,#ff8500,#ff7f00,#ff7c00,#ff7a00,#ff7800,#ff7400,#ff7000,#ff6d00,#ff6c00,#ff6f00,#ff7700,#ff8200,#ff8f00,#ff9b00,#ffa700,#ffb200,#ffbf00,#ffce00,#ffde00,#ffee00,#fffb00,#f9ff06,#f3ff0c,#f2ff0d,#f3ff0c,#f7ff08,#feff01,#fff700,#ffe900,#ffd600,#ffc000,#ffa800,#ff9200,#ff7f00,#ff7100,#ff6500,#ff5b00,#ff5200,#ff4900,#ff4100,#ff3c00,#ff3900,#ff3900,#ff3c00,#ff4100,#ff4700,#ff4d00,#ff5300,#ff5800,#ff5a00,#ff5b00)"></i>
<i style="top:178.78px;height:2.71px;background:linear-gradient(90deg,#ff8900,#ff8a00,#ff8c00,#ff9100,#ff9600,#ff9b00,#ff9e00,#ffa000,#ffa000,#ff9d00,#ff9800,#ff9100,#ff8900,#ff8200,#ff7d00,#ff7a00,#ff7800,#ff7600,#ff7300,#ff6f00,#ff6b00,#ff6a00,#ff6e00,#ff7600,#ff8100,#ff8d00,#ff9a00,#ffa700,#ffb400,#ffc300,#ffd300,#ffe400,#fff400,#fbff04,#f1ff0e,#ebff14,#e8ff17,#e9ff16,#edff12,#f4ff0b,#feff01,#fff100,#ffde00,#ffc700,#ffae00,#ff9700,#ff8300,#ff7300,#ff6700,#ff5c00,#ff5200,#ff4900,#ff4000,#ff3a00,#ff3700,#ff3800,#ff3b00,#ff4000,#ff4600,#ff4b00,#ff5100,#ff5500,#ff5700,#ff5800)"></i>
<i style="top:180.79px;height:2.71px;background:linear-gradient(90deg,#ff8a00,#ff8b00,#ff8d00,#ff9100,#ff9500,#ff9900,#ff9b00,#ff9c00,#ff9b00,#ff9800,#ff9300,#ff8c00,#ff8600,#ff8000,#ff7b00,#ff7900,#ff7700,#ff7500,#ff7200,#ff6e00,#ff6a00,#ff6a00,#ff6d00,#ff7500,#ff8000,#ff8d00,#ff9a00,#ffa900,#ffb800,#ffc800,#ffd900,#ffeb00,#fffc00,#f3ff0c,#e8ff17,#e1ff1e,#dfff20,#e0ff1f,#e4ff1b,#ebff14,#f6ff09,#fff800,#ffe400,#ffcc00,#ffb300,#ff9b00,#ff8700,#ff7600,#ff6900,#ff5d00,#ff5300,#ff4800,#ff4000,#ff3a00,#ff3700,#ff3800,#ff3b00,#ff4000,#ff4600,#ff4b00,#ff5000,#ff5400,#ff5600,#ff5600)"></i>
<i style="top:182.80px;height:2.71px;background:linear-gradient(90deg,#ff8d00,#ff8e00,#ff9000,#ff9300,#ff9600,#ff9900,#ff9a00,#ff9a00,#ff9700,#ff9300,#ff8e00,#ff8900,#ff8300,#ff7e00,#ff7a00,#ff7800,#ff7600,#ff7400,#ff7100,#ff6d00,#ff6a00,#ff6a00,#ff6d00,#ff7500,#ff7f00,#ff8d00,#ff9b00,#ffab00,#ffbc00,#ffce00,#ffe100,#fff400,#f8ff07,#e9ff16,#deff21,#d7ff28,#d4ff2b,#d6ff29,#dbff24,#e3ff1c,#f0ff0f,#fffe00,#ffe900,#ffd000,#ffb700,#ff9e00,#ff8a00,#ff7900,#ff6b00,#ff5f00,#ff5300,#ff4900,#ff4000,#ff3a00,#ff3700,#ff3900,#ff3c00,#ff4200,#ff4800,#ff4d00,#ff5100,#ff5500,#ff5600,#ff5700)"></i>
<i style="top:184.81px;height:2.71px;background:linear-gradient(90deg,#ff9200,#ff9200,#ff9400,#ff9700,#ff9900,#ff9b00,#ff9b00,#ff9900,#ff9500,#ff9000,#ff8b00,#ff8600,#ff8100,#ff7d00,#ff7a00,#ff7800,#ff7600,#ff7400,#ff7100,#ff6e00,#ff6b00,#ff6b00,#ff6e00,#ff7500,#ff8000,#ff8e00,#ff9d00,#ffaf00,#ffc200,#ffd500,#ffea00,#fffe00,#edff12,#deff21,#d2ff2d,#ccff33,#caff35,#ccff33,#d2ff2d,#dcff23,#eaff15,#fcff03,#ffed00,#ffd400,#ffba00,#ffa100,#ff8c00,#ff7b00,#ff6d00,#ff6000,#ff5400,#ff4a00,#ff4100,#ff3b00,#ff3900,#ff3a00,#ff3f00,#ff4400,#ff4a00,#ff5000,#ff5400,#ff5700,#ff5900,#ff5a00)"></i>
<i style="top:186.82px;height:2.71px;background:linear-gradient(90deg,#ff9700,#ff9800,#ff9a00,#ff9c00,#ff9e00,#ff9e00,#ff9d00,#ff9900,#ff9400,#ff8e00,#ff8800,#ff8400,#ff8000,#ff7d00,#ff7b00,#ff7900,#ff7700,#ff7400,#ff7100,#ff6e00,#ff6c00,#ff6c00,#ff7000,#ff7700,#ff8100,#ff8f00,#ffa000,#ffb300,#ffc800,#ffde00,#fff400,#f5ff0a,#e2ff1d,#d2ff2d,#c6ff39,#c0ff3f,#beff41,#c1ff3e,#c9ff36,#d4ff2b,#e4ff1b,#f7ff08,#fff000,#ffd600,#ffbc00,#ffa400,#ff8f00,#ff7d00,#ff6e00,#ff6200,#ff5600,#ff4b00,#ff4200,#ff3d00,#ff3b00,#ff3d00,#ff4200,#ff4800,#ff4e00,#ff5400,#ff5800,#ff5b00,#ff5d00,#ff5e00)"></i>
<i style="top:188.82px;height:2.71px;background:linear-gradient(90deg,#ff9e00,#ff9e00,#ffa000,#ffa100,#ffa300,#ffa200,#ffa000,#ff9a00,#ff9400,#ff8d00,#ff8700,#ff8300,#ff8000,#ff7e00,#ff7c00,#ff7a00,#ff7800,#ff7500,#ff7200,#ff7000,#ff6e00,#ff6f00,#ff7200,#ff7900,#ff8400,#ff9200,#ffa300,#ffb800,#ffcf00,#ffe700,#ffff00,#e9ff16,#d5ff2a,#c5ff3a,#b9ff46,#b3ff4c,#b2ff4d,#b6ff49,#bfff40,#cdff32,#deff21,#f4ff0b,#fff200,#ffd900,#ffbf00,#ffa600,#ff9100,#ff7f00,#ff7100,#ff6400,#ff5800,#ff4d00,#ff4400,#ff3f00,#ff3e00,#ff4000,#ff4500,#ff4c00,#ff5200,#ff5800,#ff5d00,#ff6000,#ff6200,#ff6300)"></i>
<i style="top:190.83px;height:2.71px;background:linear-gradient(90deg,#ffa400,#ffa400,#ffa600,#ffa700,#ffa800,#ffa700,#ffa300,#ff9d00,#ff9500,#ff8d00,#ff8700,#ff8400,#ff8100,#ff7f00,#ff7e00,#ff7b00,#ff7900,#ff7600,#ff7400,#ff7200,#ff7100,#ff7200,#ff7600,#ff7c00,#ff8600,#ff9500,#ffa700,#ffbe00,#ffd700,#fff100,#f4ff0b,#dcff23,#c8ff37,#b7ff48,#acff53,#a6ff59,#a5ff5a,#abff54,#b5ff4a,#c5ff3a,#d8ff27,#efff10,#fff500,#ffdb00,#ffc100,#ffa900,#ff9300,#ff8200,#ff7300,#ff6600,#ff5a00,#ff5000,#ff4700,#ff4200,#ff4100,#ff4400,#ff4a00,#ff5000,#ff5700,#ff5e00,#ff6300,#ff6600,#ff6800,#ff6900)"></i>
<i style="top:192.84px;height:2.71px;background:linear-gradient(90deg,#ffaa00,#ffaa00,#ffab00,#ffad00,#ffad00,#ffab00,#ffa700,#ffa000,#ff9700,#ff8f00,#ff8900,#ff8600,#ff8300,#ff8200,#ff8000,#ff7d00,#ff7a00,#ff7800,#ff7600,#ff7500,#ff7500,#ff7700,#ff7b00,#ff8000,#ff8a00,#ff9800,#ffab00,#ffc400,#ffdf00,#fffb00,#e7ff18,#cfff30,#b9ff46,#a9ff56,#9dff62,#98ff67,#98ff67,#9eff61,#aaff55,#bcff43,#d2ff2d,#ebff14,#fff900,#ffdd00,#ffc300,#ffab00,#ff9600,#ff8400,#ff7500,#ff6900,#ff5d00,#ff5300,#ff4b00,#ff4600,#ff4500,#ff4800,#ff4e00,#ff5500,#ff5d00,#ff6300,#ff6900,#ff6d00,#ff6f00,#ff7000)"></i>
<i style="top:194.85px;height:2.71px;background:linear-gradient(90deg,#ffaf00,#ffb000,#ffb100,#ffb200,#ffb200,#ffb000,#ffab00,#ffa400,#ff9b00,#ff9300,#ff8d00,#ff8900,#ff8700,#ff8500,#ff8300,#ff8000,#ff7d00,#ff7a00,#ff7900,#ff7900,#ff7a00,#ff7d00,#ff8000,#ff8600,#ff8e00,#ff9c00,#ffb000,#ffca00,#ffe800,#f7ff08,#daff25,#c0ff3f,#aaff55,#99ff66,#8eff71,#89ff76,#8aff75,#91ff6e,#9fff60,#b3ff4c,#cbff34,#e6ff19,#fffc00,#ffe000,#ffc600,#ffad00,#ff9800,#ff8700,#ff7800,#ff6c00,#ff6100,#ff5700,#ff4f00,#ff4b00,#ff4a00,#ff4d00,#ff5300,#ff5a00,#ff6200,#ff6900,#ff6f00,#ff7400,#ff7600,#ff7700)"></i>
<i style="top:196.86px;height:2.71px;background:linear-gradient(90deg,#ffb400,#ffb500,#ffb500,#ffb600,#ffb600,#ffb400,#ffaf00,#ffa800,#ffa000,#ff9800,#ff9200,#ff8e00,#ff8c00,#ff8a00,#ff8800,#ff8500,#ff8200,#ff7f00,#ff7f00,#ff7f00,#ff8200,#ff8400,#ff8800,#ff8c00,#ff9400,#ffa100,#ffb600,#ffd200,#fff200,#ebff14,#ccff33,#b1ff4e,#9aff65,#89ff76,#7dff82,#79ff86,#7aff85,#83ff7c,#93ff6c,#a9ff56,#c3ff3c,#e0ff1f,#fdff02,#ffe400,#ffc900,#ffb000,#ff9b00,#ff8a00,#ff7c00,#ff6f00,#ff6500,#ff5b00,#ff5400,#ff5000,#ff4f00,#ff5200,#ff5800,#ff6000,#ff6800,#ff6f00,#ff7600,#ff7b00,#ff7d00,#ff7f00)"></i>
<i style="top:198.87px;height:2.71px;background:linear-gradient(90deg,#ffb900,#ffb900,#ffba00,#ffba00,#ffba00,#ffb800,#ffb400,#ffad00,#ffa600,#ff9e00,#ff9900,#ff9500,#ff9300,#ff9100,#ff8f00,#ff8c00,#ff8a00,#ff8800,#ff8800,#ff8900,#ff8b00,#ff8e00,#ff9100,#ff9400,#ff9b00,#ffa800,#ffbe00,#ffdb00,#fffd00,#ddff22,#bcff43,#9fff60,#88ff77,#76ff89,#6bff94,#67ff98,#6aff95,#74ff8b,#86ff79,#9eff61,#baff45,#d9ff26,#f8ff07,#ffe800,#ffcc00,#ffb300,#ff9e00,#ff8d00,#ff7f00,#ff7300,#ff6900,#ff6000,#ff5900,#ff5500,#ff5500,#ff5800,#ff5e00,#ff6500,#ff6d00,#ff7500,#ff7c00,#ff8200,#ff8500,#ff8600)"></i>
<i style="top:200.88px;height:2.71px;background:linear-gradient(90deg,#ffbd00,#ffbd00,#ffbe00,#ffbe00,#ffbe00,#ffbc00,#ffb800,#ffb300,#ffac00,#ffa600,#ffa100,#ff9e00,#ff9c00,#ff9b00,#ff9a00,#ff9800,#ff9700,#ff9600,#ff9600,#ff9700,#ff9900,#ff9b00,#ff9c00,#ff9e00,#ffa400,#ffb100,#ffc700,#ffe600,#f3ff0c,#cdff32,#aaff55,#8cff73,#74ff8b,#62ff9d,#57ffa8,#54ffab,#59ffa6,#65ff9a,#78ff87,#93ff6c,#b1ff4e,#d2ff2d,#f3ff0c,#ffec00,#ffcf00,#ffb600,#ffa100,#ff9000,#ff8300,#ff7800,#ff6e00,#ff6500,#ff5f00,#ff5b00,#ff5b00,#ff5e00,#ff6400,#ff6b00,#ff7300,#ff7c00,#ff8300,#ff8900,#ff8c00,#ff8e00)"></i>
<i style="top:202.89px;height:2.71px;background:linear-gradient(90deg,#ffc100,#ffc100,#ffc100,#ffc200,#ffc200,#ffc000,#ffbd00,#ffb900,#ffb300,#ffae00,#ffab00,#ffa900,#ffa800,#ffa800,#ffa900,#ffa900,#ffaa00,#ffab00,#ffab00,#ffab00,#ffab00,#ffaa00,#ffa900,#ffaa00,#ffaf00,#ffbc00,#ffd300,#fff400,#e3ff1c,#baff45,#95ff6a,#76ff89,#5dffa2,#4bffb4,#41ffbe,#3fffc0,#46ffb9,#54ffab,#6aff95,#87ff78,#a8ff57,#cbff34,#edff12,#fff000,#ffd300,#ffb900,#ffa400,#ff9400,#ff8700,#ff7c00,#ff7300,#ff6b00,#ff6500,#ff6100,#ff6100,#ff6400,#ff6a00,#ff7100,#ff7900,#ff8200,#ff8a00,#ff9000,#ff9400,#ff9500)"></i>
<i style="top:204.89px;height:2.71px;background:linear-gradient(90deg,#ffc400,#ffc400,#ffc500,#ffc500,#ffc600,#ffc500,#ffc200,#ffbf00,#ffbb00,#ffb800,#ffb600,#ffb500,#ffb700,#ffb900,#ffbd00,#ffc100,#ffc500,#ffc700,#ffc800,#ffc600,#ffc200,#ffbe00,#ffba00,#ffb800,#ffbc00,#ffca00,#ffe200,#f9ff06,#cfff30,#a4ff5b,#7dff82,#5cffa3,#42ffbd,#31ffce,#29ffd6,#29ffd6,#32ffcd,#43ffbc,#5bffa4,#7bff84,#9eff61,#c3ff3c,#e7ff18,#fff500,#ffd700,#ffbd00,#ffa700,#ff9700,#ff8b00,#ff8100,#ff7800,#ff7100,#ff6b00,#ff6800,#ff6800,#ff6b00,#ff7000,#ff7700,#ff8000,#ff8900,#ff9100,#ff9700,#ff9b00,#ff9c00)"></i>
<i style="top:206.90px;height:2.71px;background:linear-gradient(90deg,#ffc800,#ffc800,#ffc800,#ffc900,#ffc900,#ffc900,#ffc800,#ffc500,#ffc300,#ffc100,#ffc200,#ffc400,#ffc800,#ffcf00,#ffd700,#ffe000,#ffe800,#ffed00,#ffec00,#ffe700,#ffde00,#ffd500,#ffcd00,#ffc900,#ffcc00,#ffda00,#fff400,#e4ff1b,#b8ff47,#8aff75,#61ff9e,#3fffc0,#25ffda,#14ffeb,#0dfff2,#10ffef,#1cffe3,#30ffcf,#4cffb3,#6eff91,#94ff6b,#bbff44,#e1ff1e,#fffa00,#ffdb00,#ffc000,#ffab00,#ff9b00,#ff8f00,#ff8600,#ff7e00,#ff7700,#ff7200,#ff6f00,#ff6e00,#ff7100,#ff7700,#ff7e00,#ff8600,#ff8f00,#ff9700,#ff9d00,#ffa100,#ffa200)"></i>
<i style="top:208.91px;height:2.71px;background:linear-gradient(90deg,#ffcb00,#ffcb00,#ffcc00,#ffcd00,#ffce00,#ffce00,#ffcd00,#ffcc00,#ffcb00,#ffcc00,#ffce00,#ffd400,#ffdc00,#ffe800,#fff600,#f8ff07,#ebff14,#e4ff1b,#e5ff1a,#efff10,#feff01,#fff000,#ffe300,#ffdc00,#ffdf00,#ffed00,#f4ff0b,#ccff33,#9eff61,#6eff91,#42ffbd,#1fffe0,#05fffa,#00f4ff,#00efff,#00f5ff,#05fffa,#1dffe2,#3dffc2,#62ff9d,#8aff75,#b3ff4c,#dbff24,#ffff00,#ffdf00,#ffc400,#ffae00,#ff9f00,#ff9300,#ff8a00,#ff8300,#ff7d00,#ff7800,#ff7500,#ff7500,#ff7800,#ff7e00,#ff8500,#ff8d00,#ff9500,#ff9d00,#ffa300,#ffa700,#ffa800)"></i>
<i style="top:210.92px;height:2.71px;background:linear-gradient(90deg,#ffcf00,#ffcf00,#ffd000,#ffd100,#ffd200,#ffd200,#ffd300,#ffd300,#ffd300,#ffd600,#ffdc00,#ffe500,#fff200,#fbff04,#e5ff1a,#ceff31,#bbff44,#b1ff4e,#b3ff4c,#c3ff3c,#daff25,#f1ff0e,#fffa00,#fff100,#fff300,#fcff03,#ddff22,#b3ff4c,#81ff7e,#4fffb0,#22ffdd,#00fcff,#00e2ff,#00d3ff,#00d0ff,#00d9ff,#00edff,#0bfff4,#2effd1,#56ffa9,#81ff7e,#abff54,#d5ff2a,#faff05,#ffe300,#ffc700,#ffb200,#ffa200,#ff9700,#ff8f00,#ff8900,#ff8300,#ff7e00,#ff7c00,#ff7c00,#ff7f00,#ff8500,#ff8c00,#ff9400,#ff9c00,#ffa300,#ffa900,#ffad00,#ffae00)"></i>
<i style="top:212.93px;height:2.71px;background:linear-gradient(90deg,#ffd200,#ffd200,#ffd300,#ffd400,#ffd600,#ffd700,#ffd800,#ffd900,#ffdb00,#ffe000,#ffe900,#fff600,#f6ff09,#deff21,#c1ff3e,#a2ff5d,#88ff77,#7bff84,#7fff80,#94ff6b,#b4ff4b,#d4ff2b,#ecff13,#f9ff06,#f7ff08,#e6ff19,#c6ff39,#99ff66,#65ff9a,#30ffcf,#01fffe,#00daff,#00c0ff,#00b2ff,#00b2ff,#00beff,#00d7ff,#00f7ff,#1fffe0,#4affb5,#77ff88,#a4ff5b,#cfff30,#f6ff09,#ffe600,#ffca00,#ffb500,#ffa600,#ff9b00,#ff9400,#ff8e00,#ff8800,#ff8400,#ff8200,#ff8300,#ff8600,#ff8b00,#ff9200,#ff9a00,#ffa200,#ffa900,#ffae00,#ffb100,#ffb200)"></i>
<i style="top:214.94px;height:2.71px;background:linear-gradient(90deg,#ffd500,#ffd500,#ffd600,#ffd700,#ffd900,#ffdb00,#ffdd00,#ffdf00,#ffe300,#ffe900,#fff500,#f8ff07,#e0ff1f,#c2ff3d,#9dff62,#76ff89,#56ffa9,#45ffba,#4cffb3,#67ff98,#8fff70,#b7ff48,#d6ff29,#e5ff1a,#e3ff1c,#d1ff2e,#afff50,#7fff80,#49ffb6,#12ffed,#00e0ff,#00baff,#009fff,#0092ff,#0095ff,#00a5ff,#00c2ff,#00e6ff,#12ffed,#40ffbf,#6fff90,#9eff61,#c9ff36,#f1ff0e,#ffea00,#ffce00,#ffb800,#ffa900,#ff9f00,#ff9800,#ff9200,#ff8d00,#ff8a00,#ff8800,#ff8900,#ff8c00,#ff9100,#ff9800,#ff9f00,#ffa700,#ffad00,#ffb200,#ffb500,#ffb600)"></i>
<i style="top:216.95px;height:2.71px;background:linear-gradient(90deg,#ffd700,#ffd700,#ffd900,#ffda00,#ffdc00,#ffdf00,#ffe100,#ffe400,#ffe900,#fff200,#feff01,#e9ff16,#cdff32,#a9ff56,#7cff83,#4cffb3,#25ffda,#12ffed,#1cffe3,#3effc1,#6dff92,#9dff62,#c1ff3e,#d3ff2c,#d2ff2d,#beff41,#9aff65,#68ff97,#30ffcf,#00f6ff,#00c4ff,#009dff,#0082ff,#0076ff,#007bff,#008fff,#00afff,#00d8ff,#07fff8,#37ffc8,#68ff97,#98ff67,#c5ff3a,#eeff11,#ffed00,#ffd000,#ffbb00,#ffac00,#ffa200,#ff9c00,#ff9600,#ff9200,#ff8e00,#ff8d00,#ff8e00,#ff9100,#ff9700,#ff9d00,#ffa500,#ffab00,#ffb100,#ffb600,#ffb900,#ffba00)"></i>
<i style="top:218.96px;height:2.71px;background:linear-gradient(90deg,#ffd900,#ffd900,#ffdb00,#ffdd00,#ffdf00,#ffe200,#ffe500,#ffe800,#ffee00,#fff800,#f5ff0a,#ddff22,#bdff42,#93ff6c,#5effa1,#23ffdc,#00f2ff,#00e0ff,#00f0ff,#1affe5,#51ffae,#87ff78,#b0ff4f,#c4ff3b,#c3ff3c,#aeff51,#88ff77,#55ffaa,#1bffe4,#00e0ff,#00adff,#0084ff,#006aff,#005fff,#0066ff,#007cff,#00a0ff,#00cbff,#00fcff,#30ffcf,#62ff9d,#93ff6c,#c1ff3e,#ebff14,#fff000,#ffd300,#ffbd00,#ffae00,#ffa500,#ff9e00,#ff9a00,#ff9500,#ff9200,#ff9100,#ff9200,#ff9600,#ff9b00,#ffa200,#ffa900,#ffaf00,#ffb500,#ffb900,#ffbb00,#ffbc00)"></i>
<i style="top:220.96px;height:2.71px;background:linear-gradient(90deg,#ffdb00,#ffdb00,#ffdc00,#ffde00,#ffe100,#ffe400,#ffe700,#ffeb00,#fff200,#fffd00,#eeff11,#d4ff2b,#b0ff4f,#81ff7e,#41ffbe,#00f4ff,#00b9ff,#00adff,#00caff,#00fdff,#3bffc4,#77ff88,#a3ff5c,#b9ff46,#b8ff47,#a2ff5d,#7bff84,#47ffb8,#0bfff4,#00cfff,#009bff,#0072ff,#0058ff,#004eff,#0056ff,#006eff,#0094ff,#00c3ff,#00f5ff,#2affd5,#5effa1,#90ff6f,#beff41,#e8ff17,#fff200,#ffd400,#ffbe00,#ffb000,#ffa700,#ffa100,#ff9c00,#ff9800,#ff9500,#ff9400,#ff9500,#ff9900,#ff9f00,#ffa500,#ffac00,#ffb200,#ffb700,#ffbb00,#ffbd00,#ffbe00)"></i>
<i style="top:222.97px;height:2.71px;background:linear-gradient(90deg,#ffdb00,#ffdc00,#ffdd00,#ffe000,#ffe200,#ffe500,#ffe900,#ffed00,#fff400,#feff01,#eaff15,#ceff31,#a8ff57,#74ff8b,#26ffd9,#00beff,#0073ff,#0074ff,#00a9ff,#00eaff,#2effd1,#6dff92,#9bff64,#b2ff4d,#b1ff4e,#9bff64,#73ff8c,#3dffc2,#01fffe,#00c5ff,#0090ff,#0067ff,#004dff,#0043ff,#004cff,#0066ff,#008dff,#00bdff,#00f1ff,#27ffd8,#5bffa4,#8eff71,#bdff42,#e7ff18,#fff300,#ffd500,#ffbf00,#ffb100,#ffa800,#ffa200,#ff9d00,#ff9a00,#ff9700,#ff9600,#ff9700,#ff9b00,#ffa100,#ffa700,#ffad00,#ffb300,#ffb900,#ffbc00,#ffbf00,#ffbf00)"></i>
<i style="top:224.98px;height:2.71px;background:linear-gradient(90deg,#ffdc00,#ffdc00,#ffde00,#ffe000,#ffe300,#ffe600,#ffea00,#ffee00,#fff500,#fcff03,#e8ff17,#cbff34,#a4ff5b,#6bff94,#0dfff2,#0086ff,#0027ff,#003aff,#008eff,#00deff,#27ffd8,#68ff97,#97ff68,#aeff51,#adff52,#97ff68,#6fff90,#39ffc6,#00fcff,#00c0ff,#008bff,#0062ff,#0047ff,#003eff,#0047ff,#0062ff,#008aff,#00baff,#00efff,#25ffda,#5affa5,#8dff72,#bcff43,#e6ff19,#fff300,#ffd600,#ffc000,#ffb100,#ffa800,#ffa300,#ff9e00,#ff9a00,#ff9800,#ff9700,#ff9800,#ff9c00,#ffa200,#ffa800,#ffae00,#ffb400,#ffb900,#ffbd00,#ffbf00,#ffc000)"></i>
<i style="top:226.99px;height:2.01px;background:linear-gradient(90deg,#ffdc00,#ffdc00,#ffde00,#ffe000,#ffe300,#ffe600,#ffea00,#ffee00,#fff600,#fcff03,#e7ff18,#caff35,#a3ff5c,#67ff98,#00fcff,#005eff,#0000ef,#0011ff,#007cff,#00d9ff,#25ffda,#66ff99,#96ff69,#adff52,#acff53,#96ff69,#6eff91,#38ffc7,#00faff,#00beff,#0089ff,#0060ff,#0045ff,#003cff,#0045ff,#0060ff,#0089ff,#00b9ff,#00eeff,#25ffda,#5affa5,#8cff73,#bbff44,#e6ff19,#fff300,#ffd600,#ffc000,#ffb200,#ffa900,#ffa300,#ff9e00,#ff9b00,#ff9800,#ff9700,#ff9900,#ff9c00,#ffa200,#ffa800,#ffaf00,#ffb500,#ffb900,#ffbd00,#ffbf00,#ffc000)"></i>
</div>
<div class="hm" style="left:406.10px;top:7.70px;width:231.10px;height:229.00px">
<i style="top:0.00px;height:2.67px;background:linear-gradient(90deg,#ff7000,#ff8400,#ff9c00,#ffad00,#ffb000,#ffb800,#ffb100,#ffa800,#ffb800,#ffba00,#ffb200,#ffb400,#ffb700,#ffc100,#ffbc00,#ffb700,#ffca00,#ffc500,#ffd300,#ffd000,#ffd700,#ffcc00,#ffd700,#ffcd00,#ffd100,#ffd700,#ffed00,#ffe000,#ffe000,#ffe300,#fff500,#fff100,#fffa00,#fffe00,#fff500,#f3ff0c,#f3ff0c,#f3ff0c,#e0ff1f,#dcff23,#d6ff29,#ceff31,#bbff44,#beff41,#c2ff3d,#a3ff5c,#b0ff4f,#a4ff5b,#99ff66,#aaff55,#9cff63,#8aff75,#92ff6d,#95ff6a,#8fff70,#97ff68,#92ff6d,#9aff65,#a3ff5c,#95ff6a,#a0ff5f,#9eff61,#a7ff58,#a0ff5f,#aaff55,#b1ff4e,#beff41,#c5ff3a,#b5ff4a,#bdff42,#cdff32,#bbff44,#cbff34,#d2ff2d,#e0ff1f,#dfff20,#d9ff26,#dcff23,#dfff20,#f0ff0f,#e2ff1d,#e5ff1a,#ecff13,#eaff15,#ebff14,#e6ff19,#f0ff0f,#efff10,#feff01,#fcff03,#f9ff06,#fffd00,#fcff03,#fff300,#fff700,#ffee00,#fff900,#ffe700,#fff200,#ffef00,#ffdc00,#ffdb00,#ffcd00,#ffb700,#ffcb00,#ffc400,#ffb900,#ffb100,#ffb200,#ffac00,#ff9d00,#ff9400,#ff9300,#ff7a00,#ff6600,#ff5d00)"></i>
<i style="top:1.97px;height:2.67px;background:linear-gradient(90deg,#ff6e00,#ff8d00,#ff9200,#ffa400,#ffac00,#ffb500,#ffb300,#ffc300,#ffbd00,#ffb200,#ffc700,#ffb000,#ffc600,#ffb300,#ffc200,#ffb700,#ffbe00,#ffcd00,#ffb900,#ffb900,#ffc800,#ffcc00,#ffce00,#ffd700,#ffc900,#ffda00,#ffd900,#ffe200,#ffe500,#ffee00,#ffde00,#ffee00,#ffea00,#fff700,#fbff04,#f7ff08,#efff10,#ecff13,#e2ff1d,#dbff24,#caff35,#c7ff38,#d3ff2c,#b8ff47,#aeff51,#b2ff4d,#b5ff4a,#97ff68,#9cff63,#94ff6b,#88ff77,#99ff66,#91ff6e,#91ff6e,#8bff74,#95ff6a,#8eff71,#94ff6b,#8fff70,#91ff6e,#a9ff56,#9eff61,#a8ff57,#aaff55,#abff54,#afff50,#bcff43,#b9ff46,#beff41,#c4ff3b,#d1ff2e,#d1ff2e,#d2ff2d,#ceff31,#cbff34,#e1ff1e,#e4ff1b,#deff21,#e6ff19,#eaff15,#edff12,#efff10,#e6ff19,#f8ff07,#e3ff1c,#f6ff09,#f5ff0a,#f9ff06,#fffa00,#fffb00,#f0ff0f,#eeff11,#fff800,#faff05,#fff800,#ffec00,#fffc00,#fffb00,#ffe200,#ffde00,#ffdb00,#ffd300,#ffd500,#ffd500,#ffc500,#ffc700,#ffc800,#ffb100,#ffb100,#ffa700,#ffab00,#ff9e00,#ff9300,#ff8100,#ff6400,#ff5a00)"></i>
<i style="top:3.95px;height:2.67px;background:linear-gradient(90deg,#ff6d00,#ff8400,#ff8900,#ffb100,#ffa500,#ffb100,#ffb200,#ffbe00,#ffb700,#ffae00,#ffb600,#ffb600,#ffba00,#ffb000,#ffbb00,#ffcf00,#ffc400,#ffd100,#ffdd00,#ffc900,#ffbc00,#ffc900,#ffd600,#ffd700,#ffc900,#ffd400,#ffd800,#ffdc00,#ffdf00,#ffdd00,#ffe300,#ffeb00,#fffa00,#fff300,#fbff04,#fffb00,#e9ff16,#ebff14,#e5ff1a,#d3ff2c,#e4ff1b,#d9ff26,#c2ff3d,#c4ff3b,#baff45,#9aff65,#abff54,#a3ff5c,#9fff60,#91ff6e,#94ff6b,#92ff6d,#9bff64,#94ff6b,#91ff6e,#9eff61,#8eff71,#92ff6d,#89ff76,#a8ff57,#a6ff59,#a9ff56,#abff54,#abff54,#b0ff4f,#b1ff4e,#b5ff4a,#bcff43,#ccff33,#c8ff37,#c7ff38,#c7ff38,#caff35,#e0ff1f,#daff25,#daff25,#d9ff26,#d6ff29,#e1ff1e,#ebff14,#e3ff1c,#e6ff19,#e8ff17,#ecff13,#e0ff1f,#edff12,#eaff15,#faff05,#eeff11,#fbff04,#fff800,#f9ff06,#faff05,#fffa00,#fff700,#fffb00,#ffeb00,#ffd900,#ffe600,#ffe000,#ffe200,#ffd100,#ffd900,#ffd200,#ffba00,#ffc600,#ffb100,#ffa900,#ffae00,#ffa600,#ff9300,#ff9a00,#ff9000,#ff8500,#ff6600,#ff4800)"></i>
<i style="top:5.92px;height:2.67px;background:linear-gradient(90deg,#ff6800,#ff8e00,#ffa100,#ffaa00,#ffaa00,#ffb200,#ffb000,#ffb000,#ffb600,#ffb500,#ffb400,#ffb700,#ffb400,#ffaa00,#ffb600,#ffbc00,#ffcc00,#ffbd00,#ffd200,#ffd000,#ffc000,#ffc400,#ffcd00,#ffdc00,#ffd400,#ffda00,#ffd200,#ffc900,#ffdd00,#ffe900,#fff100,#ffed00,#fff300,#feff01,#fffc00,#f1ff0e,#fdff02,#f6ff09,#eeff11,#daff25,#daff25,#cdff32,#c3ff3c,#bcff43,#acff53,#a4ff5b,#b0ff4f,#a2ff5d,#a0ff5f,#a2ff5d,#88ff77,#8dff72,#93ff6c,#94ff6b,#8eff71,#9aff65,#95ff6a,#8bff74,#90ff6f,#a1ff5e,#a2ff5d,#93ff6c,#b1ff4e,#afff50,#b9ff46,#b0ff4f,#b5ff4a,#b2ff4d,#d4ff2b,#c2ff3d,#d5ff2a,#c6ff39,#d1ff2e,#c5ff3a,#d3ff2c,#e1ff1e,#d2ff2d,#e8ff17,#e4ff1b,#dbff24,#e2ff1d,#e4ff1b,#e9ff16,#e7ff18,#e6ff19,#ecff13,#e8ff17,#e8ff17,#f4ff0b,#feff01,#edff12,#fcff03,#faff05,#fbff04,#fff000,#fff700,#ffe200,#fff000,#ffe100,#ffe100,#ffe000,#ffcf00,#ffd000,#ffc400,#ffc400,#ffc800,#ffbb00,#ffb500,#ffa900,#ffb200,#ffa300,#ffa700,#ff8600,#ff8300,#ff7500,#ff5500)"></i>
<i style="top:7.90px;height:2.67px;background:linear-gradient(90deg,#ff6700,#ff9300,#ffa300,#ffac00,#ffb600,#ffad00,#ffb800,#ffb900,#ffaf00,#ffbb00,#ffb200,#ffbe00,#ffc200,#ffc800,#ffac00,#ffbf00,#ffbc00,#ffc000,#ffc100,#ffc400,#ffb700,#ffd100,#ffd800,#ffd600,#ffdc00,#ffce00,#ffd000,#ffe200,#ffea00,#ffe500,#ffdb00,#fcff03,#ffec00,#ffff00,#fff400,#f3ff0c,#f2ff0d,#e1ff1e,#deff21,#eaff15,#ddff22,#cbff34,#bfff40,#afff50,#b4ff4b,#b0ff4f,#a9ff56,#a3ff5c,#96ff69,#9aff65,#96ff69,#9fff60,#a1ff5e,#90ff6f,#8bff74,#91ff6e,#8eff71,#8fff70,#97ff68,#93ff6c,#a3ff5c,#a1ff5e,#a8ff57,#a9ff56,#a9ff56,#abff54,#b5ff4a,#b7ff48,#c2ff3d,#c4ff3b,#bdff42,#ccff33,#c4ff3b,#ceff31,#d4ff2b,#c8ff37,#ddff22,#e0ff1f,#e0ff1f,#e0ff1f,#e3ff1c,#e0ff1f,#e8ff17,#e7ff18,#eeff11,#e5ff1a,#f3ff0c,#f4ff0b,#f3ff0c,#f3ff0c,#feff01,#eeff11,#fffb00,#fff900,#fff500,#fff000,#fff400,#ffec00,#ffdf00,#ffdb00,#ffd800,#ffe000,#ffca00,#ffc000,#ffbc00,#ffbd00,#ffc700,#ffae00,#ffb200,#ffbf00,#ffa000,#ffa500,#ff9600,#ff7f00,#ff5c00,#ff5700)"></i>
<i style="top:9.87px;height:2.67px;background:linear-gradient(90deg,#ff6e00,#ff7800,#ff8d00,#ffa700,#ffaf00,#ffba00,#ffb700,#ffaf00,#ffb000,#ffb400,#ffad00,#ffbd00,#ffb800,#ffb300,#ffb600,#ffb300,#ffba00,#ffc200,#ffbe00,#ffcc00,#ffd300,#ffc300,#ffcb00,#ffca00,#ffde00,#ffd600,#ffdb00,#ffe100,#fff000,#ffe400,#ffde00,#ffe700,#fff500,#fff500,#fff500,#e6ff19,#f5ff0a,#f3ff0c,#ecff13,#edff12,#e0ff1f,#d2ff2d,#caff35,#c6ff39,#b4ff4b,#b1ff4e,#b2ff4d,#b4ff4b,#9eff61,#9aff65,#99ff66,#9fff60,#92ff6d,#9eff61,#8aff75,#91ff6e,#92ff6d,#9cff63,#a1ff5e,#8fff70,#97ff68,#a5ff5a,#a1ff5e,#9eff61,#b7ff48,#b7ff48,#bcff43,#b8ff47,#c8ff37,#c2ff3d,#d1ff2e,#c4ff3b,#c9ff36,#d5ff2a,#d1ff2e,#dfff20,#dfff20,#d8ff27,#e2ff1d,#e1ff1e,#eeff11,#e3ff1c,#e6ff19,#f6ff09,#fffe00,#ffff00,#f1ff0e,#f4ff0b,#fffd00,#f6ff09,#f1ff0e,#fdff02,#fffb00,#fcff03,#f9ff06,#ffff00,#ffe900,#fff000,#ffe600,#ffdd00,#ffd500,#ffd700,#ffcb00,#ffd100,#ffc700,#ffc800,#ffb200,#ffb600,#ffb700,#ffae00,#ffa500,#ff9300,#ff9900,#ff8300,#ff6a00,#ff4000)"></i>
<i style="top:11.84px;height:2.67px;background:linear-gradient(90deg,#ff6900,#ff8800,#ff9400,#ff9600,#ffaf00,#ffb300,#ffa800,#ffaf00,#ffae00,#ffb800,#ffa600,#ffa800,#ffb300,#ffb300,#ffca00,#ffb600,#ffbe00,#ffbb00,#ffbb00,#ffc500,#ffd200,#ffc400,#ffcf00,#ffce00,#ffd300,#ffd400,#ffe800,#ffce00,#ffda00,#ffd700,#ffd400,#ffe900,#fffd00,#fffb00,#faff05,#faff05,#f7ff08,#dfff20,#ebff14,#d4ff2b,#dbff24,#cfff30,#c6ff39,#c0ff3f,#b4ff4b,#adff52,#9dff62,#a5ff5a,#afff50,#acff53,#a2ff5d,#9bff64,#8eff71,#9eff61,#92ff6d,#92ff6d,#92ff6d,#97ff68,#95ff6a,#9bff64,#96ff69,#a0ff5f,#b9ff46,#aaff55,#adff52,#b8ff47,#beff41,#b3ff4c,#bfff40,#ccff33,#caff35,#cdff32,#dcff23,#ceff31,#d7ff28,#d6ff29,#e9ff16,#d0ff2f,#dcff23,#e0ff1f,#ecff13,#edff12,#f6ff09,#dfff20,#f4ff0b,#edff12,#ebff14,#f7ff08,#edff12,#e6ff19,#f6ff09,#f0ff0f,#faff05,#fff800,#fff500,#ffe600,#fff000,#fff600,#ffeb00,#ffe700,#ffe400,#ffd100,#ffd400,#ffda00,#ffbf00,#ffc100,#ffb800,#ffb500,#ffac00,#ffab00,#ff9a00,#ff9600,#ff8900,#ff7700,#ff7300,#ff5600)"></i>
<i style="top:13.82px;height:2.67px;background:linear-gradient(90deg,#ff7300,#ff8500,#ffa500,#ff9900,#ffac00,#ffba00,#ffc000,#ffb500,#ffb400,#ffba00,#ffb400,#ffbb00,#ffb200,#ffbe00,#ffba00,#ffb300,#ffa700,#ffc600,#ffc300,#ffc800,#ffbd00,#ffcf00,#ffcc00,#ffcb00,#ffd500,#ffd800,#ffd700,#ffe800,#ffe600,#ffe200,#ffe200,#ffe900,#fffb00,#fff600,#fff200,#fffa00,#f8ff07,#eaff15,#eeff11,#ddff22,#d0ff2f,#cbff34,#d5ff2a,#c3ff3c,#c3ff3c,#afff50,#b4ff4b,#a1ff5e,#9fff60,#b0ff4f,#9fff60,#92ff6d,#93ff6c,#95ff6a,#9cff63,#8fff70,#86ff79,#94ff6b,#99ff66,#9dff62,#aaff55,#a6ff59,#aeff51,#a2ff5d,#b7ff48,#c5ff3a,#bfff40,#bfff40,#c2ff3d,#d3ff2c,#c1ff3e,#ccff33,#d4ff2b,#daff25,#d3ff2c,#ddff22,#dbff24,#e1ff1e,#e1ff1e,#dbff24,#e6ff19,#f0ff0f,#e2ff1d,#eaff15,#f3ff0c,#e7ff18,#f2ff0d,#eaff15,#feff01,#fff400,#fff400,#faff05,#fff900,#fffa00,#fff700,#ffe700,#fff900,#ffe100,#ffe500,#ffd400,#ffd800,#ffda00,#ffcd00,#ffc400,#ffc500,#ffbc00,#ffc000,#ffc800,#ffaa00,#ffa600,#ffa300,#ff9900,#ff8400,#ff7f00,#ff6d00,#ff5700)"></i>
<i style="top:15.79px;height:2.67px;background:linear-gradient(90deg,#ff6800,#ff9300,#ff9100,#ffac00,#ffb600,#ffa600,#ffb300,#ffbe00,#ffb700,#ffad00,#ffab00,#ffb900,#ffb300,#ffb200,#ffbe00,#ffb700,#ffbb00,#ffc100,#ffc200,#ffbf00,#ffc200,#ffc900,#ffca00,#ffbf00,#ffc900,#ffc700,#ffc700,#ffd000,#ffc600,#ffe300,#ffda00,#ffe800,#ffdc00,#ffe300,#f8ff07,#f9ff06,#ffff00,#f9ff06,#f1ff0e,#e2ff1d,#dfff20,#d8ff27,#caff35,#cbff34,#a9ff56,#b9ff46,#a5ff5a,#afff50,#a0ff5f,#96ff69,#9cff63,#8fff70,#8dff72,#87ff78,#93ff6c,#98ff67,#9eff61,#96ff69,#a2ff5d,#9dff62,#9fff60,#a8ff57,#b0ff4f,#a9ff56,#aeff51,#b3ff4c,#b9ff46,#b6ff49,#c9ff36,#c2ff3d,#cdff32,#c6ff39,#d3ff2c,#d7ff28,#d4ff2b,#ebff14,#e0ff1f,#efff10,#eaff15,#dfff20,#e4ff1b,#ecff13,#ebff14,#edff12,#ecff13,#e1ff1e,#efff10,#e1ff1e,#f8ff07,#f1ff0e,#f4ff0b,#faff05,#fffd00,#f7ff08,#f8ff07,#fffc00,#ffff00,#fff200,#ffd800,#ffe800,#ffd500,#ffe000,#ffcd00,#ffcd00,#ffc600,#ffbc00,#ffad00,#ffb500,#ffb100,#ffb400,#ffa000,#ff9c00,#ff8600,#ff7c00,#ff5a00,#ff6600)"></i>
<i style="top:17.77px;height:2.67px;background:linear-gradient(90deg,#ff7400,#ff8100,#ff9e00,#ffae00,#ffb000,#ffbc00,#ffb100,#ff9f00,#ffaa00,#ffbd00,#ffbc00,#ffb900,#ffae00,#ffbd00,#ffbd00,#ffb200,#ffb300,#ffbe00,#ffc600,#ffcb00,#ffc600,#ffd400,#ffbe00,#ffcc00,#ffc500,#ffbd00,#ffc500,#ffdc00,#ffcf00,#ffd100,#ffe500,#ffeb00,#ffe900,#fffb00,#ffe800,#efff10,#f3ff0c,#f2ff0d,#ebff14,#e6ff19,#dfff20,#d3ff2c,#d6ff29,#b3ff4c,#bdff42,#b0ff4f,#b0ff4f,#aaff55,#9cff63,#99ff66,#a1ff5e,#9aff65,#90ff6f,#a5ff5a,#a7ff58,#89ff76,#99ff66,#acff53,#a1ff5e,#9fff60,#9fff60,#a0ff5f,#a7ff58,#a8ff57,#b7ff48,#b2ff4d,#b6ff49,#b4ff4b,#c1ff3e,#beff41,#c8ff37,#d6ff29,#d4ff2b,#d9ff26,#dbff24,#dbff24,#ddff22,#deff21,#e9ff16,#dcff23,#f2ff0d,#e9ff16,#e5ff1a,#e9ff16,#e9ff16,#f1ff0e,#ecff13,#fcff03,#efff10,#e5ff1a,#f3ff0c,#ecff13,#ffff00,#fff300,#fff200,#fffe00,#fff500,#ffdc00,#ffe200,#ffe000,#ffd200,#ffc100,#ffc500,#ffca00,#ffc300,#ffbc00,#ffc100,#ffc000,#ffb200,#ffb400,#ffa500,#ff9a00,#ff7a00,#ff8300,#ff6900,#ff5800)"></i>
<i style="top:19.74px;height:2.67px;background:linear-gradient(90deg,#ff6f00,#ff8000,#ffa000,#ffae00,#ffbc00,#ffb900,#ffae00,#ffb300,#ffbc00,#ffb700,#ffb400,#ffb100,#ffba00,#ffb800,#ffc600,#ffc100,#ffab00,#ffcc00,#ffbe00,#ffbb00,#ffc100,#ffc700,#ffc200,#ffc400,#ffc700,#ffd900,#ffce00,#ffd700,#ffd800,#ffd600,#ffd700,#ffd900,#ffea00,#ffe400,#ffe800,#ffef00,#fff400,#f6ff09,#eeff11,#eeff11,#d4ff2b,#d8ff27,#caff35,#c3ff3c,#b0ff4f,#b0ff4f,#b0ff4f,#b1ff4e,#adff52,#9fff60,#9aff65,#92ff6d,#9aff65,#94ff6b,#9aff65,#a4ff5b,#97ff68,#8dff72,#94ff6b,#92ff6d,#98ff67,#b0ff4f,#abff54,#a1ff5e,#b7ff48,#c0ff3f,#b7ff48,#b9ff46,#bfff40,#c9ff36,#cfff30,#d8ff27,#dbff24,#dfff20,#e3ff1c,#e1ff1e,#d2ff2d,#e0ff1f,#e6ff19,#e3ff1c,#efff10,#e7ff18,#e4ff1b,#f9ff06,#f4ff0b,#f2ff0d,#f9ff06,#fcff03,#f8ff07,#e3ff1c,#f4ff0b,#f8ff07,#f7ff08,#fffa00,#ffee00,#fff800,#fff800,#ffda00,#ffe900,#ffea00,#ffd900,#ffd200,#ffd600,#ffc500,#ffca00,#ffc900,#ffbb00,#ffb200,#ffb800,#ffaa00,#ffa600,#ff8400,#ff9400,#ff7100,#ff6900,#ff5800)"></i>
<i style="top:21.72px;height:2.67px;background:linear-gradient(90deg,#ff6d00,#ff8200,#ff9200,#ffa600,#ffb400,#ffb600,#ffaf00,#ffaf00,#ffa800,#ffb100,#ffac00,#ffa800,#ffb300,#ffc100,#ffbf00,#ffc200,#ffaa00,#ffbf00,#ffaf00,#ffb600,#ffae00,#ffb500,#ffc000,#ffc300,#ffc300,#ffc500,#ffce00,#ffcd00,#ffc300,#ffe200,#ffd700,#ffe500,#ffe200,#ffe200,#fff000,#ffef00,#f4ff0b,#fffb00,#edff12,#efff10,#e3ff1c,#c4ff3b,#cbff34,#caff35,#cdff32,#bcff43,#b4ff4b,#a0ff5f,#b2ff4d,#b0ff4f,#9eff61,#99ff66,#8bff74,#9eff61,#adff52,#9dff62,#a3ff5c,#9fff60,#94ff6b,#aaff55,#99ff66,#a5ff5a,#acff53,#b5ff4a,#b6ff49,#baff45,#b4ff4b,#b4ff4b,#c3ff3c,#c1ff3e,#c0ff3f,#c4ff3b,#ceff31,#c7ff38,#ceff31,#cfff30,#e0ff1f,#e5ff1a,#f4ff0b,#daff25,#e3ff1c,#f1ff0e,#eaff15,#ebff14,#fdff02,#eeff11,#e8ff17,#e9ff16,#f8ff07,#faff05,#eeff11,#f4ff0b,#fffa00,#fff700,#fffd00,#ffef00,#ffeb00,#fff900,#ffe800,#ffdd00,#ffe000,#ffe700,#ffd300,#ffc500,#ffba00,#ffd400,#ffa800,#ffc200,#ffac00,#ffa400,#ff9e00,#ff9b00,#ff9800,#ff7800,#ff7000,#ff6c00)"></i>
<i style="top:23.69px;height:2.67px;background:linear-gradient(90deg,#ff5c00,#ff8400,#ff8e00,#ffb000,#ffa300,#ffa500,#ffa700,#ffb400,#ffbe00,#ffb500,#ffc600,#ffc200,#ffb300,#ffbd00,#ffb600,#ffb600,#ffa600,#ffac00,#ffb800,#ffae00,#ffc000,#ffbe00,#ffb500,#ffc900,#ffc300,#ffce00,#ffc600,#ffbc00,#ffd400,#ffd000,#ffdd00,#ffe400,#ffea00,#ffda00,#ffd900,#ffef00,#feff01,#fffc00,#f2ff0d,#f3ff0c,#e6ff19,#deff21,#d8ff27,#c6ff39,#c0ff3f,#adff52,#b1ff4e,#a2ff5d,#a7ff58,#9cff63,#a0ff5f,#a0ff5f,#8eff71,#92ff6d,#91ff6e,#9fff60,#a8ff57,#a2ff5d,#9bff64,#adff52,#97ff68,#b4ff4b,#a6ff59,#99ff66,#c9ff36,#c4ff3b,#b3ff4c,#c1ff3e,#c2ff3d,#c9ff36,#c0ff3f,#caff35,#d7ff28,#d8ff27,#e3ff1c,#ddff22,#f3ff0c,#dcff23,#e7ff18,#d7ff28,#dfff20,#f5ff0a,#e5ff1a,#f2ff0d,#efff10,#e8ff17,#efff10,#f0ff0f,#f2ff0d,#feff01,#ffff00,#f8ff07,#f8ff07,#fff900,#fff900,#ffeb00,#ffda00,#ffe400,#ffe600,#ffe200,#ffe300,#ffde00,#ffd900,#ffcf00,#ffcb00,#ffbc00,#ffc100,#ffbb00,#ffbe00,#ffa100,#ffa300,#ff8e00,#ff8900,#ff7200,#ff6c00,#ff5300)"></i>
<i style="top:25.66px;height:2.67px;background:linear-gradient(90deg,#ff5e00,#ff9500,#ff9400,#ff9c00,#ffad00,#ffad00,#ffa900,#ffba00,#ffb100,#ffbb00,#ffba00,#ffb900,#ffb500,#ffb200,#ffb000,#ffc000,#ffa400,#ffab00,#ffaf00,#ffb900,#ffb800,#ffb400,#ffb700,#ffca00,#ffb800,#ffa800,#ffd300,#ffbe00,#ffc700,#ffcf00,#ffc700,#ffe100,#ffdb00,#ffd600,#ffea00,#fff300,#fff600,#fcff03,#fff900,#e8ff17,#eeff11,#d4ff2b,#dcff23,#cdff32,#b0ff4f,#beff41,#aeff51,#adff52,#b8ff47,#9cff63,#99ff66,#aaff55,#9dff62,#a8ff57,#9dff62,#93ff6c,#9bff64,#a7ff58,#a7ff58,#a2ff5d,#a6ff59,#a8ff57,#a8ff57,#c1ff3e,#b5ff4a,#afff50,#b9ff46,#c7ff38,#caff35,#c8ff37,#c7ff38,#d0ff2f,#c6ff39,#ccff33,#e1ff1e,#d9ff26,#e3ff1c,#edff12,#ebff14,#e8ff17,#fbff04,#f1ff0e,#eaff15,#f4ff0b,#f3ff0c,#eaff15,#f3ff0c,#f3ff0c,#e5ff1a,#f6ff09,#f8ff07,#f9ff06,#f2ff0d,#fffe00,#fff800,#fff300,#fff900,#ffe600,#fff000,#ffe300,#ffd100,#ffdd00,#ffd600,#ffc400,#ffcb00,#ffc600,#ffbd00,#ffb100,#ffc800,#ffb600,#ffb000,#ffa700,#ff9700,#ff8600,#ff6900,#ff6100)"></i>
<i style="top:27.64px;height:2.67px;background:linear-gradient(90deg,#ff7400,#ff8800,#ffa500,#ffa900,#ffa300,#ffb100,#ffba00,#ffb500,#ffbc00,#ffb200,#ffad00,#ffba00,#ffb500,#ffa900,#ffb700,#ffb100,#ffbb00,#ffb900,#ffb700,#ffa200,#ffb800,#ffba00,#ffbc00,#ffba00,#ffb500,#ffbb00,#ffaf00,#ffc100,#ffbb00,#ffc800,#ffca00,#ffdf00,#ffda00,#ffdf00,#ffe700,#fffd00,#ffec00,#fffe00,#f8ff07,#f1ff0e,#e8ff17,#e5ff1a,#cfff30,#c9ff36,#cbff34,#c2ff3d,#b7ff48,#afff50,#a7ff58,#a8ff57,#aeff51,#98ff67,#abff54,#a4ff5b,#99ff66,#a3ff5c,#91ff6e,#91ff6e,#97ff68,#a0ff5f,#a4ff5b,#a6ff59,#afff50,#a0ff5f,#baff45,#aeff51,#b8ff47,#bfff40,#bcff43,#bfff40,#c5ff3a,#d1ff2e,#daff25,#ddff22,#d3ff2c,#d8ff27,#daff25,#e7ff18,#d5ff2a,#f2ff0d,#e6ff19,#e5ff1a,#f0ff0f,#f7ff08,#f3ff0c,#faff05,#f4ff0b,#ffff00,#fffe00,#f7ff08,#fff800,#feff01,#fffe00,#fbff04,#fffa00,#ffee00,#fffa00,#ffe600,#ffe400,#ffdf00,#ffee00,#ffd800,#ffcd00,#ffd300,#ffc800,#ffd700,#ffba00,#ffc000,#ffaf00,#ffbf00,#ffa300,#ffa000,#ff8a00,#ff8700,#ff7100,#ff4800)"></i>
<i style="top:29.61px;height:2.67px;background:linear-gradient(90deg,#ff7d00,#ff9200,#ffa200,#ffb400,#ffa800,#ffa600,#ffbb00,#ffc300,#ffab00,#ffab00,#ffad00,#ffaa00,#ffba00,#ffb300,#ffbd00,#ffbd00,#ffa900,#ffb600,#ff9e00,#ffb100,#ffb700,#ffac00,#ffa500,#ffb100,#ffc100,#ffb600,#ffb100,#ffc300,#ffc900,#ffbe00,#ffca00,#ffd900,#ffd800,#ffe100,#ffdf00,#ffe700,#ffe600,#fff100,#f2ff0d,#faff05,#f5ff0a,#e9ff16,#e5ff1a,#d0ff2f,#c4ff3b,#ccff33,#b4ff4b,#a5ff5a,#b9ff46,#a5ff5a,#a4ff5b,#98ff67,#96ff69,#96ff69,#9cff63,#a2ff5d,#8dff72,#a7ff58,#9aff65,#9dff62,#aeff51,#abff54,#a3ff5c,#c2ff3d,#b0ff4f,#bdff42,#c1ff3e,#cfff30,#c3ff3c,#d3ff2c,#c9ff36,#dbff24,#d0ff2f,#d6ff29,#ecff13,#e2ff1d,#e3ff1c,#f7ff08,#eaff15,#e2ff1d,#f1ff0e,#e3ff1c,#f7ff08,#f9ff06,#ecff13,#edff12,#f5ff0a,#f5ff0a,#efff10,#fdff02,#eaff15,#f9ff06,#fcff03,#fffe00,#fff500,#fffe00,#ffeb00,#ffed00,#ffec00,#ffed00,#ffe600,#ffd500,#ffdb00,#ffcd00,#ffc000,#ffbc00,#ffb300,#ffbe00,#ffbf00,#ffa800,#ffa700,#ff9600,#ff9200,#ff7700,#ff6600,#ff5500)"></i>
<i style="top:31.59px;height:2.67px;background:linear-gradient(90deg,#ff7300,#ff8a00,#ff9f00,#ffab00,#ffab00,#ffb900,#ffa800,#ffb700,#ffad00,#ffb500,#ffb600,#ffa200,#ffb500,#ffbc00,#ffb600,#ffb200,#ff9e00,#ffad00,#ffa700,#ffb700,#ffac00,#ffaa00,#ffa200,#ffb800,#ffaf00,#ffb300,#ffc100,#ffbc00,#ffc100,#ffd600,#ffc200,#ffc700,#ffd500,#ffe200,#ffd100,#ffe200,#ffe300,#ffe800,#feff01,#fffd00,#f0ff0f,#e9ff16,#e0ff1f,#d8ff27,#d9ff26,#c9ff36,#bfff40,#b8ff47,#b7ff48,#a7ff58,#a6ff59,#a6ff59,#a0ff5f,#a2ff5d,#9dff62,#b2ff4d,#adff52,#a7ff58,#a5ff5a,#baff45,#aeff51,#adff52,#b4ff4b,#b8ff47,#c5ff3a,#bdff42,#d2ff2d,#bdff42,#ceff31,#c4ff3b,#dfff20,#d1ff2e,#d6ff29,#e2ff1d,#e7ff18,#d7ff28,#e0ff1f,#daff25,#e9ff16,#e9ff16,#e9ff16,#e8ff17,#ebff14,#eaff15,#f6ff09,#ffff00,#e4ff1b,#f4ff0b,#f3ff0c,#fdff02,#f3ff0c,#fcff03,#f7ff08,#fff600,#fff700,#fff500,#ffed00,#ffee00,#fff400,#ffdd00,#ffdb00,#ffd900,#ffcb00,#ffc400,#ffd300,#ffcb00,#ffb400,#ffb100,#ffbd00,#ffbb00,#ffaf00,#ffa400,#ff9f00,#ff8100,#ff7800,#ff6600)"></i>
<i style="top:33.56px;height:2.67px;background:linear-gradient(90deg,#ff7100,#ff9500,#ffa300,#ffa900,#ffad00,#ffb900,#ffb700,#ffbd00,#ffa800,#ffb000,#ffbd00,#ffb300,#ffac00,#ffad00,#ffa000,#ffa300,#ffb200,#ffae00,#ffb700,#ffaa00,#ffab00,#ff9700,#ffad00,#ffc000,#ffb600,#ffb100,#ffbf00,#ffbf00,#ffbe00,#ffbc00,#ffc400,#ffcf00,#ffc700,#ffd700,#ffdd00,#ffeb00,#ffee00,#ffea00,#faff05,#feff01,#fcff03,#eaff15,#e6ff19,#d3ff2c,#deff21,#d5ff2a,#c6ff39,#afff50,#afff50,#baff45,#bcff43,#adff52,#b2ff4d,#a1ff5e,#a3ff5c,#a5ff5a,#a9ff56,#9aff65,#b0ff4f,#b5ff4a,#a4ff5b,#a5ff5a,#b7ff48,#b2ff4d,#a8ff57,#c5ff3a,#c4ff3b,#c2ff3d,#dbff24,#cfff30,#cbff34,#d6ff29,#d0ff2f,#d5ff2a,#e1ff1e,#ddff22,#e0ff1f,#f4ff0b,#efff10,#f1ff0e,#f1ff0e,#f2ff0d,#fbff04,#f0ff0f,#fffd00,#ebff14,#f2ff0d,#eaff15,#f4ff0b,#fdff02,#fff700,#f8ff07,#fffe00,#fffe00,#fffe00,#fffe00,#fff000,#fffa00,#ffe600,#ffe200,#ffe300,#ffe100,#ffdf00,#ffc000,#ffd500,#ffb900,#ffbc00,#ffc000,#ffc200,#ffaa00,#ff9d00,#ffa800,#ff9600,#ff7a00,#ff6c00,#ff4c00)"></i>
<i style="top:35.53px;height:2.67px;background:linear-gradient(90deg,#ff7f00,#ff8c00,#ffae00,#ff9e00,#ffbb00,#ffca00,#ffb900,#ffb900,#ffa700,#ffb800,#ffb400,#ffae00,#ffa400,#ffb000,#ffa600,#ffa900,#ffae00,#ffaa00,#ffaa00,#ffb100,#ffa000,#ffb500,#ffa100,#ffa300,#ffad00,#ffb500,#ffb300,#ffb000,#ffb100,#ffb800,#ffb700,#ffc800,#ffc700,#ffdb00,#ffcf00,#ffdb00,#ffe600,#ffe100,#ffed00,#ecff13,#faff05,#e6ff19,#f1ff0e,#f5ff0a,#d4ff2b,#d1ff2e,#c7ff38,#c5ff3a,#c1ff3e,#c1ff3e,#aaff55,#bbff44,#a4ff5b,#acff53,#b2ff4d,#aeff51,#a1ff5e,#a4ff5b,#a8ff57,#adff52,#b9ff46,#a8ff57,#baff45,#beff41,#c2ff3d,#c4ff3b,#d1ff2e,#ccff33,#d3ff2c,#d4ff2b,#e1ff1e,#c7ff38,#e4ff1b,#daff25,#ddff22,#daff25,#d6ff29,#e4ff1b,#e4ff1b,#efff10,#e1ff1e,#faff05,#f2ff0d,#efff10,#edff12,#edff12,#ecff13,#f2ff0d,#f8ff07,#f8ff07,#f0ff0f,#fbff04,#f9ff06,#fffa00,#ffe900,#ffef00,#fff300,#fff900,#fff300,#fff000,#ffd800,#ffdf00,#ffd400,#ffd400,#ffca00,#ffbb00,#ffc800,#ffc000,#ffbf00,#ffac00,#ffb400,#ffab00,#ffa000,#ff8e00,#ff6b00,#ff4800)"></i>
<i style="top:37.51px;height:2.67px;background:linear-gradient(90deg,#ff8400,#ff8a00,#ffa300,#ffba00,#ffb900,#ffbb00,#ffbf00,#ffa900,#ffc700,#ffb300,#ffb200,#ffb800,#ffb000,#ffa800,#ffac00,#ffa800,#ffa500,#ffba00,#ff9c00,#ff9500,#ff9f00,#ff9e00,#ffb200,#ffa900,#ffb000,#ffaf00,#ffa500,#ffb600,#ffb400,#ffc600,#ffbc00,#ffbe00,#ffca00,#ffd000,#ffc100,#ffe100,#ffe700,#ffed00,#ffe500,#ffe600,#fffd00,#f0ff0f,#eaff15,#eeff11,#d5ff2a,#e1ff1e,#d9ff26,#c7ff38,#c6ff39,#c1ff3e,#c3ff3c,#aaff55,#b9ff46,#abff54,#a6ff59,#adff52,#abff54,#a5ff5a,#a2ff5d,#a9ff56,#bfff40,#c6ff39,#beff41,#c6ff39,#bbff44,#c2ff3d,#c9ff36,#c1ff3e,#c5ff3a,#d2ff2d,#d2ff2d,#cfff30,#deff21,#dcff23,#e9ff16,#e3ff1c,#e4ff1b,#e9ff16,#e9ff16,#e7ff18,#ebff14,#f6ff09,#f6ff09,#fdff02,#e5ff1a,#f1ff0e,#f2ff0d,#f8ff07,#f4ff0b,#f5ff0a,#fffc00,#ffff00,#f7ff08,#fff000,#fff000,#fff900,#ffea00,#fff200,#ffde00,#ffe500,#ffe500,#ffdc00,#ffdb00,#ffce00,#ffca00,#ffc700,#ffc700,#ffdc00,#ffb900,#ffc300,#ffaa00,#ff9900,#ff9300,#ff8700,#ff7200,#ff5f00)"></i>
<i style="top:39.48px;height:2.67px;background:linear-gradient(90deg,#ff8200,#ff9900,#ffae00,#ffa900,#ffb800,#ffb300,#ffbd00,#ffb900,#ffba00,#ffb300,#ffae00,#ffb100,#ffb600,#ffb500,#ff9f00,#ffad00,#ffab00,#ff9b00,#ff9d00,#ffa000,#ffa700,#ff9000,#ffa100,#ffa000,#ffa700,#ffb200,#ffb400,#ffa800,#ffab00,#ffb400,#ffc000,#ffc700,#ffc300,#ffd200,#ffc500,#ffc900,#ffc300,#ffdb00,#ffef00,#fff900,#e7ff18,#f6ff09,#f1ff0e,#f2ff0d,#e7ff18,#dfff20,#d4ff2b,#d1ff2e,#d1ff2e,#b7ff48,#b7ff48,#acff53,#c2ff3d,#bdff42,#b7ff48,#a7ff58,#b2ff4d,#afff50,#b3ff4c,#b3ff4c,#bbff44,#b6ff49,#c3ff3c,#c1ff3e,#c0ff3f,#c4ff3b,#c5ff3a,#d3ff2c,#cdff32,#d5ff2a,#d3ff2c,#cdff32,#e4ff1b,#d7ff28,#e8ff17,#e8ff17,#daff25,#e2ff1d,#e7ff18,#e7ff18,#e5ff1a,#f6ff09,#f0ff0f,#f6ff09,#f0ff0f,#f7ff08,#f0ff0f,#f7ff08,#fdff02,#faff05,#f8ff07,#f5ff0a,#fffc00,#fff800,#fffa00,#fffb00,#ffec00,#ffd800,#ffea00,#ffe000,#ffdb00,#ffef00,#ffd400,#ffd600,#ffc100,#ffca00,#ffca00,#ffc100,#ffb900,#ffb900,#ffae00,#ffae00,#ff9800,#ff7e00,#ff6100,#ff5900)"></i>
<i style="top:41.46px;height:2.67px;background:linear-gradient(90deg,#ff7d00,#ff8c00,#ffa000,#ffa700,#ffb100,#ffbd00,#ffba00,#ffba00,#ffb700,#ffb600,#ffbc00,#ffc400,#ffb600,#ffbf00,#ffac00,#ffaa00,#ffb500,#ffa000,#ff9d00,#ffa200,#ff9400,#ff9200,#ffaa00,#ff9900,#ff9e00,#ffa000,#ff9d00,#ffad00,#ffaf00,#ffb500,#ffb800,#ffb700,#ffc800,#ffca00,#ffc300,#ffcf00,#ffd200,#ffec00,#ffeb00,#fff200,#fff500,#fbff04,#ffff00,#efff10,#e7ff18,#dfff20,#deff21,#cdff32,#d4ff2b,#c9ff36,#c2ff3d,#bdff42,#beff41,#c0ff3f,#bdff42,#b8ff47,#bcff43,#b6ff49,#c1ff3e,#b8ff47,#a9ff56,#c7ff38,#c0ff3f,#b8ff47,#c3ff3c,#c1ff3e,#dcff23,#d2ff2d,#c5ff3a,#d9ff26,#d5ff2a,#ebff14,#d5ff2a,#cfff30,#e4ff1b,#e3ff1c,#e5ff1a,#d9ff26,#f0ff0f,#fcff03,#e0ff1f,#fbff04,#eeff11,#fff700,#f8ff07,#f4ff0b,#fffe00,#fcff03,#f4ff0b,#fffe00,#f8ff07,#f0ff0f,#ffed00,#fffe00,#fffd00,#fff100,#fffd00,#fff700,#ffec00,#ffe800,#ffde00,#ffd100,#ffd900,#ffcd00,#ffc700,#ffd100,#ffc200,#ffc700,#ffb200,#ffb100,#ffae00,#ffaf00,#ff9500,#ff8b00,#ff6c00,#ff6100)"></i>
<i style="top:43.43px;height:2.67px;background:linear-gradient(90deg,#ff8800,#ff9000,#ffa500,#ffbb00,#ffb200,#ffc000,#ffc000,#ffbc00,#ffc100,#ffbc00,#ffb800,#ffa700,#ffa500,#ffb000,#ff9e00,#ffa900,#ffa300,#ff9d00,#ffa000,#ff8d00,#ff9d00,#ffa800,#ff9300,#ffa100,#ffa100,#ffb800,#ff9900,#ff9d00,#ffa000,#ffa200,#ffa000,#ffb300,#ffb000,#ffc300,#ffc600,#ffc100,#ffcd00,#ffe300,#ffdd00,#ffe900,#fff700,#fff500,#faff05,#e8ff17,#e4ff1b,#f3ff0c,#d1ff2e,#d9ff26,#d6ff29,#d0ff2f,#bcff43,#c0ff3f,#c0ff3f,#c3ff3c,#b6ff49,#b1ff4e,#c2ff3d,#c3ff3c,#beff41,#b7ff48,#c1ff3e,#c1ff3e,#c9ff36,#bbff44,#c9ff36,#c9ff36,#c5ff3a,#d3ff2c,#d4ff2b,#d4ff2b,#ddff22,#d1ff2e,#dfff20,#e6ff19,#e7ff18,#f0ff0f,#e0ff1f,#e0ff1f,#f0ff0f,#f3ff0c,#fffc00,#f7ff08,#ecff13,#fbff04,#efff10,#eaff15,#fff100,#fbff04,#ffff00,#fffe00,#fff300,#fffd00,#fff300,#fbff04,#fbff04,#ffe800,#ffe400,#ffe800,#ffe600,#ffe200,#ffe500,#ffce00,#ffd000,#ffcd00,#ffca00,#ffc000,#ffc000,#ffba00,#ffc500,#ffb100,#ff9c00,#ffa900,#ff9800,#ff7f00,#ff6a00,#ff5b00)"></i>
<i style="top:45.41px;height:2.67px;background:linear-gradient(90deg,#ff9100,#ff9600,#ffb600,#ffbf00,#ffb900,#ffc200,#ffb900,#ffa400,#ffb600,#ffb400,#ffbe00,#ffba00,#ffba00,#ffb300,#ffb400,#ffad00,#ffa700,#ffab00,#ffac00,#ffa900,#ff9900,#ff9b00,#ff9200,#ff9200,#ff9e00,#ff9700,#ffa900,#ff8d00,#ff9900,#ffa800,#ffb300,#ffab00,#ffc200,#ffbf00,#ffb800,#ffc400,#ffd000,#ffcb00,#ffe300,#ffe000,#ffef00,#fffa00,#fff800,#f2ff0d,#fffc00,#e6ff19,#f4ff0b,#d4ff2b,#dcff23,#c8ff37,#c2ff3d,#caff35,#cbff34,#b8ff47,#caff35,#b9ff46,#c0ff3f,#c2ff3d,#c5ff3a,#b2ff4d,#cfff30,#c9ff36,#c3ff3c,#c0ff3f,#bdff42,#c3ff3c,#d5ff2a,#d1ff2e,#cdff32,#d5ff2a,#e9ff16,#dcff23,#ddff22,#efff10,#ebff14,#eaff15,#e6ff19,#e1ff1e,#e6ff19,#edff12,#f0ff0f,#f6ff09,#f9ff06,#f7ff08,#f8ff07,#efff10,#e6ff19,#f5ff0a,#f2ff0d,#f6ff09,#fbff04,#f5ff0a,#f8ff07,#fffb00,#fff600,#fff900,#ffec00,#ffee00,#fff000,#ffe300,#ffd000,#ffe000,#ffcc00,#ffc600,#ffc100,#ffd000,#ffb400,#ffbf00,#ffbe00,#ffb800,#ffaa00,#ffa400,#ff9900,#ff7c00,#ff7900,#ff6900)"></i>
<i style="top:47.38px;height:2.67px;background:linear-gradient(90deg,#ff7f00,#ff9600,#ffa600,#ffc300,#ffb700,#ffbe00,#ffb300,#ffca00,#ffbc00,#ffbd00,#ffc500,#ffbb00,#ffa800,#ffb200,#ffb100,#ffa000,#ff9c00,#ff9900,#ffa500,#ff9d00,#ff9200,#ff9e00,#ff9e00,#ff9100,#ff8b00,#ffa200,#ffaf00,#ffa800,#ffa700,#ffa300,#ffa100,#ffab00,#ffb400,#ffb300,#ffc200,#ffc100,#ffcc00,#ffb800,#ffcf00,#ffe400,#ffed00,#fff100,#fbff04,#fbff04,#f3ff0c,#f9ff06,#e7ff18,#ddff22,#d2ff2d,#ceff31,#d2ff2d,#cdff32,#d5ff2a,#c4ff3b,#cfff30,#c7ff38,#c5ff3a,#b4ff4b,#baff45,#ccff33,#d2ff2d,#caff35,#d0ff2f,#c9ff36,#cbff34,#ccff33,#dbff24,#d9ff26,#d7ff28,#d9ff26,#e3ff1c,#e4ff1b,#ddff22,#f4ff0b,#ebff14,#ebff14,#f9ff06,#f7ff08,#f0ff0f,#f6ff09,#ebff14,#efff10,#e3ff1c,#fffe00,#e8ff17,#fdff02,#f2ff0d,#f2ff0d,#f9ff06,#feff01,#fffb00,#fff000,#fffa00,#fff300,#fffc00,#ffee00,#ffef00,#fff000,#ffe900,#ffe400,#ffde00,#ffd700,#ffda00,#ffd800,#ffc700,#ffd700,#ffca00,#ffb400,#ffd200,#ffbc00,#ffaa00,#ffb300,#ff8300,#ff9c00,#ff6700,#ff5400)"></i>
<i style="top:49.35px;height:2.67px;background:linear-gradient(90deg,#ff8100,#ffa000,#ffae00,#ffc400,#ffbb00,#ffcd00,#ffc500,#ffb900,#ffc800,#ffbf00,#ffb800,#ffc000,#ffa800,#ffab00,#ffb700,#ffa700,#ffaa00,#ffa500,#ff9c00,#ffa000,#ff9000,#ff9c00,#ff8d00,#ff9500,#ff8e00,#ff9a00,#ff9b00,#ffa200,#ff9600,#ff9600,#ff9000,#ff9b00,#ffa800,#ffb100,#ffb200,#ffbc00,#ffb600,#ffc100,#ffd700,#ffde00,#ffd400,#ffe500,#fff100,#ffed00,#fcff03,#f6ff09,#edff12,#daff25,#ebff14,#d5ff2a,#d5ff2a,#d0ff2f,#d8ff27,#cfff30,#cdff32,#beff41,#caff35,#beff41,#cdff32,#ceff31,#cbff34,#ddff22,#d3ff2c,#d5ff2a,#d3ff2c,#d3ff2c,#dfff20,#e2ff1d,#d1ff2e,#e7ff18,#e5ff1a,#ebff14,#e9ff16,#deff21,#e1ff1e,#fbff04,#f0ff0f,#e5ff1a,#f5ff0a,#f0ff0f,#e5ff1a,#e3ff1c,#e9ff16,#faff05,#f8ff07,#f7ff08,#fcff03,#ffff00,#eaff15,#faff05,#f7ff08,#f6ff09,#fdff02,#fffb00,#fff900,#ffff00,#fff400,#ffdc00,#fff100,#fff100,#ffdd00,#ffd600,#ffd200,#ffdb00,#ffc500,#ffd000,#ffcf00,#ffc600,#ffbd00,#ffb100,#ffab00,#ffa600,#ff9100,#ff8700,#ff6c00,#ff6d00)"></i>
<i style="top:51.33px;height:2.67px;background:linear-gradient(90deg,#ff9700,#ff9a00,#ffbe00,#ffc100,#ffc400,#ffc900,#ffc800,#ffb700,#ffd500,#ffb600,#ffa700,#ffb600,#ffb200,#ffa800,#ff9b00,#ffb000,#ffa200,#ffa000,#ff9700,#ff9700,#ff9100,#ff9700,#ff9200,#ff9700,#ff9700,#ff9300,#ff9500,#ff9f00,#ff8b00,#ff9b00,#ffa900,#ff9900,#ffac00,#ffa700,#ffb100,#ffb500,#ffbc00,#ffc900,#ffcb00,#ffc200,#ffec00,#ffe100,#ffe600,#fff900,#fbff04,#ffee00,#f5ff0a,#fffc00,#f0ff0f,#e6ff19,#e5ff1a,#e2ff1d,#e3ff1c,#daff25,#d5ff2a,#d3ff2c,#dcff23,#d7ff28,#c8ff37,#cbff34,#d3ff2c,#ccff33,#d0ff2f,#ccff33,#d4ff2b,#dbff24,#e2ff1d,#dcff23,#efff10,#e0ff1f,#fdff02,#edff12,#ecff13,#e6ff19,#d5ff2a,#edff12,#f1ff0e,#fffd00,#e8ff17,#fffa00,#f4ff0b,#fdff02,#e3ff1c,#f9ff06,#f6ff09,#ffff00,#fbff04,#f2ff0d,#fffa00,#fffb00,#fffa00,#fff500,#fff300,#fff900,#fdff02,#ffff00,#ffe500,#ffe600,#ffe700,#ffe700,#ffdf00,#ffda00,#ffd900,#ffd800,#ffbc00,#ffc800,#ffca00,#ffcc00,#ffc300,#ffb100,#ffaa00,#ffa800,#ff9800,#ff8a00,#ff7d00,#ff5700)"></i>
<i style="top:53.30px;height:2.67px;background:linear-gradient(90deg,#ff8900,#ff8e00,#ffbb00,#ffc100,#ffbe00,#ffc900,#ffd100,#ffcc00,#ffc100,#ffbb00,#ffbb00,#ffae00,#ffaa00,#ffac00,#ffaa00,#ffa800,#ff9d00,#ff9600,#ff9900,#ff9300,#ff9700,#ff9d00,#ff9800,#ff8900,#ff8b00,#ff8200,#ff9000,#ff8b00,#ff8900,#ff8f00,#ff9f00,#ff9f00,#ffa100,#ffaf00,#ffa900,#ffaa00,#ffbc00,#ffaf00,#ffc800,#ffcf00,#ffd600,#ffe100,#ffe000,#ffea00,#ffe400,#fff400,#fffb00,#f6ff09,#e7ff18,#ecff13,#e1ff1e,#ebff14,#e0ff1f,#eaff15,#e0ff1f,#dfff20,#d9ff26,#d8ff27,#dbff24,#ddff22,#d0ff2f,#daff25,#ecff13,#d8ff27,#d8ff27,#d6ff29,#d1ff2e,#e9ff16,#e2ff1d,#e6ff19,#f4ff0b,#fcff03,#e3ff1c,#f4ff0b,#f3ff0c,#f3ff0c,#f6ff09,#f3ff0c,#fffc00,#fbff04,#faff05,#fffc00,#fffe00,#fdff02,#fdff02,#fff500,#ffff00,#fbff04,#f6ff09,#fbff04,#f7ff08,#fffc00,#fff900,#f5ff0a,#fff600,#ffed00,#ffee00,#fff300,#ffdd00,#ffe900,#ffe900,#ffe300,#ffd600,#ffca00,#ffc400,#ffc800,#ffcf00,#ffc700,#ffc400,#ffb900,#ffbf00,#ffa500,#ff9400,#ff8900,#ff7000,#ff6a00)"></i>
<i style="top:55.28px;height:2.67px;background:linear-gradient(90deg,#ff9a00,#ffa900,#ffad00,#ffb900,#ffcb00,#ffbe00,#ffca00,#ffb900,#ffbf00,#ffc300,#ffb500,#ffbd00,#ffba00,#ffba00,#ffa700,#ffa500,#ffa100,#ffa000,#ff8d00,#ff9900,#ff9800,#ff8600,#ff8200,#ff8a00,#ff9a00,#ff9100,#ff8800,#ff8e00,#ff8400,#ff9e00,#ff9100,#ff9f00,#ff9400,#ffa400,#ffa000,#ffb300,#ffbf00,#ffc300,#ffc600,#ffd000,#ffc500,#ffcb00,#ffdb00,#ffec00,#ffec00,#fff700,#ffed00,#fffc00,#feff01,#f1ff0e,#dfff20,#e5ff1a,#deff21,#e7ff18,#e2ff1d,#d8ff27,#daff25,#e9ff16,#d3ff2c,#d3ff2c,#d9ff26,#d5ff2a,#d8ff27,#e1ff1e,#ecff13,#d0ff2f,#e0ff1f,#e3ff1c,#e3ff1c,#e4ff1b,#e5ff1a,#f2ff0d,#e8ff17,#edff12,#f0ff0f,#f2ff0d,#f2ff0d,#fdff02,#f6ff09,#f9ff06,#f8ff07,#f1ff0e,#f3ff0c,#f2ff0d,#fdff02,#f6ff09,#f4ff0b,#ffff00,#fffc00,#f0ff0f,#fff000,#fffc00,#fffb00,#ffef00,#fff500,#fff700,#ffdd00,#fff400,#ffe800,#ffdc00,#ffe700,#ffdb00,#ffd300,#ffbe00,#ffd500,#ffca00,#ffc000,#ffc100,#ffc700,#ffb400,#ffaf00,#ffa300,#ff9000,#ff8000,#ff7100,#ff6000)"></i>
<i style="top:57.25px;height:2.67px;background:linear-gradient(90deg,#ff9800,#ffa600,#ffb600,#ffc600,#ffc700,#ffd000,#ffbc00,#ffb500,#ffc700,#ffbc00,#ffbe00,#ffad00,#ffaf00,#ffad00,#ffab00,#ffa300,#ffa800,#ff9600,#ff9d00,#ff8f00,#ff8f00,#ff8500,#ff8c00,#ff8200,#ff9100,#ff8500,#ff8c00,#ff8a00,#ff8d00,#ff8800,#ffa300,#ff9400,#ffa700,#ff9500,#ffb400,#ffb200,#ffbd00,#ffa800,#ffc600,#ffc100,#ffcd00,#ffdf00,#ffda00,#ffd800,#ffe600,#ffe300,#fff400,#fff700,#feff01,#feff01,#fff800,#f5ff0a,#f0ff0f,#e6ff19,#e2ff1d,#f2ff0d,#dbff24,#dbff24,#e0ff1f,#ddff22,#f0ff0f,#cdff32,#e3ff1c,#e7ff18,#d8ff27,#ddff22,#e7ff18,#f3ff0c,#dfff20,#dcff23,#f2ff0d,#f9ff06,#ebff14,#deff21,#feff01,#f2ff0d,#feff01,#f6ff09,#f5ff0a,#f5ff0a,#fff800,#fff800,#eaff15,#f4ff0b,#fff300,#faff05,#f2ff0d,#feff01,#feff01,#ffff00,#fdff02,#fffe00,#fffd00,#fff500,#fffb00,#fff400,#fff000,#ffe000,#ffe400,#ffe400,#ffda00,#ffd700,#ffcd00,#ffce00,#ffbf00,#ffbf00,#ffc600,#ffc500,#ffb600,#ffb300,#ffb100,#ffb300,#ffa800,#ff8500,#ff6e00,#ff5c00)"></i>
<i style="top:59.22px;height:2.67px;background:linear-gradient(90deg,#ff9a00,#ff9d00,#ffbd00,#ffc100,#ffc600,#ffd100,#ffce00,#ffd800,#ffcb00,#ffcf00,#ffb800,#ffb700,#ffab00,#ffab00,#ffae00,#ffa100,#ffa200,#ff9500,#ff9300,#ff9a00,#ff8f00,#ff8b00,#ff8c00,#ff8100,#ff7900,#ff8a00,#ff8b00,#ff9b00,#ff8c00,#ff9000,#ffa100,#ff9100,#ff9200,#ffa100,#ffa300,#ffad00,#ffa500,#ffbd00,#ffb900,#ffad00,#ffc300,#ffc600,#ffd200,#ffe100,#ffde00,#ffe100,#fff300,#ffee00,#ffec00,#fff300,#f1ff0e,#f1ff0e,#e8ff17,#fbff04,#f4ff0b,#f2ff0d,#e3ff1c,#dfff20,#e8ff17,#e7ff18,#deff21,#e6ff19,#eaff15,#e7ff18,#ddff22,#d5ff2a,#e5ff1a,#eaff15,#e8ff17,#e8ff17,#e7ff18,#f5ff0a,#f0ff0f,#f3ff0c,#ecff13,#f0ff0f,#f8ff07,#f0ff0f,#efff10,#f8ff07,#fff900,#fdff02,#fff600,#fcff03,#fbff04,#f2ff0d,#faff05,#fff300,#fffc00,#fff700,#fff600,#fffb00,#fffa00,#fff600,#ffef00,#ffed00,#ffea00,#ffe900,#ffed00,#ffe400,#ffe600,#ffd200,#ffe700,#ffd300,#ffba00,#ffcc00,#ffcf00,#ffc200,#ffb200,#ffb900,#ffab00,#ffa600,#ff9c00,#ff6e00,#ff7400,#ff6700)"></i>
<i style="top:61.20px;height:2.67px;background:linear-gradient(90deg,#ff9500,#ffa300,#ffb600,#ffbe00,#ffc800,#ffd600,#ffc500,#ffca00,#ffc600,#ffcc00,#ffc100,#ffbd00,#ffb300,#ffb900,#ffa800,#ffa200,#ffa700,#ff9e00,#ff9c00,#ff8900,#ffa200,#ff8d00,#ff9500,#ff8a00,#ff7e00,#ff8a00,#ff8400,#ff8d00,#ff7800,#ff8300,#ff8400,#ff9b00,#ff9d00,#ff8f00,#ff9e00,#ffa400,#ffa400,#ffb700,#ffac00,#ffb800,#ffbb00,#ffca00,#ffc700,#ffd700,#ffd000,#ffd500,#ffdc00,#ffe500,#ffea00,#f4ff0b,#fff200,#feff01,#fdff02,#f7ff08,#eaff15,#eeff11,#f6ff09,#faff05,#e8ff17,#e4ff1b,#f6ff09,#e2ff1d,#faff05,#eaff15,#e2ff1d,#f2ff0d,#f9ff06,#e0ff1f,#faff05,#ecff13,#fcff03,#eeff11,#e6ff19,#f8ff07,#fdff02,#fff600,#fff700,#ffff00,#f9ff06,#f8ff07,#faff05,#f7ff08,#fcff03,#e9ff16,#fffe00,#ffff00,#ffea00,#fff800,#fdff02,#fff800,#f9ff06,#ffff00,#f7ff08,#ffea00,#ffee00,#fffa00,#ffed00,#ffe200,#ffe200,#ffde00,#ffe400,#ffde00,#ffd400,#ffc900,#ffd400,#ffd200,#ffbc00,#ffc900,#ffb400,#ffb500,#ffa900,#ff9800,#ff9300,#ff8200,#ff7c00,#ff6800)"></i>
<i style="top:63.17px;height:2.67px;background:linear-gradient(90deg,#ff8b00,#ff9a00,#ffae00,#ffb100,#ffc700,#ffc900,#ffc100,#ffc700,#ffc400,#ffc800,#ffb300,#ffc000,#ffae00,#ffb800,#ff9e00,#ffaa00,#ff9600,#ffa500,#ff9700,#ff8500,#ff9200,#ff8800,#ff8a00,#ff9700,#ff8100,#ff7f00,#ff8c00,#ff7f00,#ff8c00,#ff9000,#ff8a00,#ff9300,#ff7e00,#ffa100,#ff9300,#ff9600,#ffb300,#ffb600,#ffa900,#ffb700,#ffb600,#ffb600,#ffc900,#ffd400,#ffe800,#ffd600,#ffe500,#ffe000,#ffe600,#fff900,#ffe400,#ffee00,#fff400,#f6ff09,#f9ff06,#f5ff0a,#f3ff0c,#ebff14,#f6ff09,#f3ff0c,#f2ff0d,#eaff15,#f8ff07,#efff10,#d7ff28,#e8ff17,#eeff11,#f7ff08,#edff12,#efff10,#edff12,#f9ff06,#f1ff0e,#f1ff0e,#f2ff0d,#feff01,#f6ff09,#eeff11,#fffc00,#f8ff07,#fffd00,#fffc00,#fff500,#fff600,#fbff04,#ffff00,#f6ff09,#ffef00,#fff800,#fff000,#fffd00,#f5ff0a,#ffea00,#fff400,#fff100,#ffef00,#ffe700,#ffe400,#fff200,#ffd800,#ffe100,#ffdc00,#ffc600,#ffc900,#ffcf00,#ffd800,#ffc400,#ffbc00,#ffbd00,#ffc100,#ffb600,#ffb000,#ff9700,#ff8100,#ff6c00,#ff6800)"></i>
<i style="top:65.15px;height:2.67px;background:linear-gradient(90deg,#ff8e00,#ffa100,#ffbd00,#ffc500,#ffb800,#ffc800,#ffc200,#ffca00,#ffc300,#ffcd00,#ffbb00,#ffac00,#ffa000,#ffa200,#ffa000,#ffa000,#ffa000,#ff9800,#ff8d00,#ff9400,#ff8200,#ff8f00,#ff9300,#ff8b00,#ff8f00,#ff8c00,#ff7800,#ff8300,#ff8100,#ff7c00,#ff7d00,#ff8f00,#ff8300,#ff8f00,#ff9600,#ff9700,#ffab00,#ffab00,#ffaa00,#ffaa00,#ffb800,#ffbb00,#ffb800,#ffba00,#ffc600,#ffc700,#ffda00,#ffdf00,#ffdf00,#ffe900,#fff000,#ffe200,#fff600,#feff01,#fff700,#fff000,#fdff02,#fffa00,#f4ff0b,#f2ff0d,#efff10,#f2ff0d,#fffd00,#e8ff17,#ffff00,#e9ff16,#f0ff0f,#f9ff06,#f8ff07,#f6ff09,#e7ff18,#f9ff06,#efff10,#fff100,#f8ff07,#fcff03,#f3ff0c,#f9ff06,#f4ff0b,#fff700,#feff01,#fff900,#fbff04,#fdff02,#fff200,#faff05,#f3ff0c,#fff800,#faff05,#fffd00,#fff100,#fffe00,#ffee00,#fff900,#ffe500,#ffe300,#ffef00,#ffe900,#ffeb00,#ffde00,#ffd300,#ffe400,#ffcc00,#ffdb00,#ffd300,#ffd700,#ffb300,#ffc000,#ffba00,#ffbc00,#ffa700,#ffb700,#ff9800,#ff7500,#ff7700,#ff6200)"></i>
<i style="top:67.12px;height:2.67px;background:linear-gradient(90deg,#ff8900,#ffab00,#ffb700,#ffbb00,#ffc600,#ffc600,#ffcb00,#ffc300,#ffc200,#ffb200,#ffb400,#ffb700,#ffc400,#ffa400,#ff9f00,#ffa700,#ffaa00,#ff9e00,#ff8900,#ff9500,#ff8c00,#ff8300,#ff7900,#ff8100,#ff8000,#ff8300,#ff7200,#ff7700,#ff8200,#ff8e00,#ff8c00,#ff8300,#ff9100,#ff8800,#ff9000,#ff9500,#ff9700,#ff9d00,#ffad00,#ffae00,#ff9d00,#ffc000,#ffbf00,#ffb800,#ffc800,#ffd200,#ffdc00,#ffd200,#ffd300,#ffd500,#ffe500,#ffe100,#fff600,#fff000,#fffb00,#fff700,#fff600,#fff600,#f5ff0a,#fff900,#f5ff0a,#efff10,#f5ff0a,#e9ff16,#f5ff0a,#f7ff08,#f3ff0c,#f9ff06,#f3ff0c,#f6ff09,#ebff14,#f8ff07,#f2ff0d,#f7ff08,#fbff04,#feff01,#f0ff0f,#f2ff0d,#fdff02,#fffa00,#fffa00,#fff500,#fff100,#fff700,#fffb00,#fbff04,#fcff03,#fffe00,#fff700,#fff700,#fff700,#fff700,#ffef00,#fff100,#ffed00,#ffeb00,#ffee00,#ffef00,#ffdf00,#ffdc00,#ffdd00,#ffda00,#ffc000,#ffd500,#ffcd00,#ffc500,#ffcd00,#ffbf00,#ffad00,#ffaf00,#ffaa00,#ffa000,#ff9700,#ff7f00,#ff7500,#ff6500)"></i>
<i style="top:69.09px;height:2.67px;background:linear-gradient(90deg,#ff8c00,#ff9c00,#ffb300,#ffbb00,#ffd700,#ffbd00,#ffb300,#ffb900,#ffc300,#ffc300,#ffb600,#ffbb00,#ffa800,#ffad00,#ff9b00,#ff9300,#ffa900,#ff9100,#ff9500,#ff9600,#ff8c00,#ff8500,#ff7900,#ff8c00,#ff7500,#ff6d00,#ff7900,#ff7a00,#ff7f00,#ff8b00,#ff7f00,#ff8300,#ff8300,#ff7800,#ff8a00,#ff9100,#ff8c00,#ffa800,#ffac00,#ffaa00,#ffb200,#ffac00,#ffb900,#ffae00,#ffb500,#ffc000,#ffcf00,#ffcc00,#ffcf00,#ffe300,#ffdc00,#ffde00,#ffe600,#ffdf00,#ffe600,#fffa00,#fff500,#feff01,#fff700,#f8ff07,#fff900,#ffff00,#fffc00,#f8ff07,#ecff13,#fff800,#f6ff09,#fffb00,#fcff03,#feff01,#fff600,#fdff02,#fff700,#f0ff0f,#fff900,#fdff02,#ffff00,#fffd00,#fffa00,#ffee00,#f4ff0b,#fffa00,#feff01,#fff000,#fffd00,#fff600,#fffc00,#fff300,#fff000,#fffa00,#fff600,#feff01,#fff000,#ffea00,#fff300,#ffe300,#fffa00,#fff400,#ffed00,#ffe200,#ffda00,#ffd700,#ffd300,#ffc800,#ffce00,#ffd100,#ffcd00,#ffae00,#ffce00,#ffb700,#ffa300,#ffa100,#ff9e00,#ff8600,#ff6c00,#ff5700)"></i>
<i style="top:71.07px;height:2.67px;background:linear-gradient(90deg,#ff9200,#ff9a00,#ffb100,#ffb500,#ffb800,#ffc800,#ffd000,#ffbe00,#ffaf00,#ffb500,#ffb400,#ff9d00,#ffb400,#ff9f00,#ffa600,#ff9c00,#ff9600,#ff8600,#ff9500,#ff8d00,#ff9200,#ff7e00,#ff8300,#ff7a00,#ff8500,#ff7f00,#ff7400,#ff7e00,#ff7900,#ff7b00,#ff8400,#ff9100,#ff7f00,#ff8900,#ff8600,#ffa200,#ffa400,#ffac00,#ffa600,#ff9b00,#ffa400,#ffae00,#ffb100,#ffb100,#ffbf00,#ffbe00,#ffc600,#ffdd00,#ffd400,#ffca00,#ffdd00,#ffdf00,#ffe700,#ffeb00,#ffe100,#fff000,#fffa00,#f0ff0f,#fffc00,#f4ff0b,#f3ff0c,#fff800,#fffa00,#edff12,#fffb00,#ffff00,#f4ff0b,#fffd00,#eeff11,#f1ff0e,#f0ff0f,#f4ff0b,#fff900,#f4ff0b,#f6ff09,#f9ff06,#fffb00,#fffe00,#fff400,#feff01,#faff05,#fffd00,#fff800,#feff01,#fff600,#ffe900,#fffc00,#fff700,#ffeb00,#fffb00,#fffb00,#fffc00,#ffee00,#ffeb00,#ffee00,#ffea00,#ffdd00,#ffdd00,#ffec00,#ffdd00,#ffd800,#ffcf00,#ffd300,#ffd300,#ffcd00,#ffd500,#ffc300,#ffc400,#ffb700,#ffbe00,#ffb200,#ffac00,#ffa000,#ff8000,#ff7600,#ff5d00)"></i>
<i style="top:73.04px;height:2.67px;background:linear-gradient(90deg,#ff9100,#ff9d00,#ffbe00,#ffc000,#ffc500,#ffbd00,#ffc000,#ffc000,#ffb500,#ffb600,#ffaf00,#ffa900,#ffaa00,#ffa700,#ff9d00,#ff9e00,#ff9200,#ff8800,#ff8500,#ff8b00,#ff8f00,#ff8200,#ff8000,#ff7400,#ff7f00,#ff7d00,#ff7500,#ff8000,#ff7e00,#ff7100,#ff7400,#ff7e00,#ff8400,#ff9100,#ff8800,#ff9000,#ff9200,#ff9d00,#ff9d00,#ffa300,#ffa300,#ff9f00,#ffac00,#ffc100,#ffc100,#ffcb00,#ffc900,#ffc300,#ffc900,#ffd600,#ffd300,#ffe000,#ffe900,#ffed00,#ffed00,#ffde00,#fff800,#ffe600,#ffe900,#fff800,#fff900,#feff01,#fffd00,#fff900,#ffff00,#fff800,#fff700,#fffe00,#fffe00,#fdff02,#fffe00,#f5ff0a,#fffc00,#fffc00,#faff05,#ffeb00,#fbff04,#fdff02,#fff700,#f5ff0a,#ffff00,#faff05,#ffff00,#fff800,#fff400,#ffed00,#ffef00,#ffec00,#fff000,#fff800,#ffea00,#fff600,#fff500,#ffe200,#ffe500,#ffe700,#ffe000,#ffdc00,#ffeb00,#ffdd00,#ffe200,#ffd300,#ffd600,#ffc200,#ffc500,#ffcc00,#ffc200,#ffc800,#ffb900,#ffb000,#ffab00,#ffb400,#ff9900,#ff8100,#ff6f00,#ff5700)"></i>
<i style="top:75.02px;height:2.67px;background:linear-gradient(90deg,#ff8f00,#ff9600,#ffb200,#ffb600,#ffba00,#ffb900,#ffc200,#ffba00,#ffc200,#ffc000,#ffac00,#ffad00,#ffb500,#ffa900,#ff9d00,#ff8c00,#ff8b00,#ff8800,#ff9900,#ff8700,#ff7f00,#ff7d00,#ff7a00,#ff7e00,#ff6d00,#ff6e00,#ff7b00,#ff8300,#ff6b00,#ff8200,#ff7600,#ff7200,#ff8c00,#ff8500,#ff8e00,#ff8a00,#ff9000,#ff8600,#ff9500,#ff9f00,#ff9a00,#ffaa00,#ffaf00,#ff9e00,#ffbc00,#ffbe00,#ffbe00,#ffcc00,#ffd900,#ffc400,#ffd700,#ffda00,#ffdc00,#ffe600,#ffea00,#ffe400,#ffd500,#ffe600,#ffea00,#ffff00,#fff500,#fdff02,#fff300,#fffd00,#fffc00,#fffe00,#fbff04,#f3ff0c,#fffa00,#f4ff0b,#f6ff09,#feff01,#fbff04,#fffa00,#fff300,#fff800,#fff800,#fff800,#fff100,#f8ff07,#fff300,#fffe00,#feff01,#fff500,#fff800,#fff000,#ffeb00,#f7ff08,#fff400,#ffe200,#ffea00,#ffe400,#ffee00,#fff800,#fff300,#ffe200,#ffdd00,#ffe700,#ffe000,#ffd800,#ffe500,#ffd600,#ffc200,#ffba00,#ffc900,#ffb500,#ffc500,#ffc400,#ffcb00,#ffac00,#ffb000,#ff9000,#ff9300,#ff8300,#ff8000,#ff5300)"></i>
<i style="top:76.99px;height:2.67px;background:linear-gradient(90deg,#ff8300,#ff9700,#ffba00,#ffac00,#ffb100,#ffbf00,#ffb900,#ffb400,#ffad00,#ffb000,#ff9f00,#ffab00,#ffa900,#ffa300,#ffb000,#ff9d00,#ff8900,#ff8b00,#ff9000,#ff8200,#ff9200,#ff8100,#ff7800,#ff7500,#ff8000,#ff7200,#ff6a00,#ff7e00,#ff7500,#ff8900,#ff8f00,#ff7c00,#ff8300,#ff8500,#ff8e00,#ff8f00,#ff8a00,#ff8600,#ff9a00,#ffaa00,#ff9600,#ffa000,#ffa300,#ffac00,#ff9f00,#ffb600,#ffb600,#ffce00,#ffc800,#ffce00,#ffcd00,#ffce00,#ffdb00,#ffcb00,#ffe600,#ffe500,#ffe300,#fff300,#ffe700,#ffea00,#fff400,#ffe500,#fff600,#fff600,#fcff03,#f5ff0a,#fdff02,#ffff00,#feff01,#fff600,#eeff11,#f9ff06,#f4ff0b,#ffef00,#fffe00,#fffd00,#feff01,#ffef00,#fff900,#fff300,#f9ff06,#ffeb00,#fff100,#ffef00,#ffe900,#fff400,#fff400,#ffec00,#ffee00,#fff200,#ffef00,#fff200,#ffe700,#ffe300,#ffe800,#ffd600,#ffef00,#ffe100,#ffce00,#ffdc00,#ffe200,#ffc600,#ffc900,#ffd400,#ffc000,#ffcb00,#ffca00,#ffbd00,#ffbc00,#ffbc00,#ffaf00,#ffaa00,#ff9400,#ff8400,#ff6a00,#ff6200)"></i>
<i style="top:78.97px;height:2.67px;background:linear-gradient(90deg,#ff8600,#ff9c00,#ffa600,#ffa200,#ffad00,#ffbb00,#ffad00,#ffbc00,#ffa800,#ffb000,#ffa300,#ffa000,#ffa300,#ff9a00,#ffa100,#ff9400,#ff8600,#ff6900,#ff8100,#ff8300,#ff8900,#ff7500,#ff8900,#ff8100,#ff7600,#ff8300,#ff6c00,#ff7100,#ff7f00,#ff8100,#ff8900,#ff8b00,#ff7f00,#ff8000,#ff8500,#ff8900,#ff9400,#ff9000,#ffa200,#ff9a00,#ff9200,#ff9700,#ffaa00,#ffad00,#ffa300,#ffa400,#ffc400,#ffbf00,#ffbe00,#ffba00,#ffd000,#ffc800,#ffd400,#ffc200,#ffd600,#ffdf00,#ffe400,#ffdc00,#ffe300,#fff500,#ffed00,#fffc00,#fffa00,#feff01,#fcff03,#fffe00,#fdff02,#fff600,#fff400,#fffc00,#fbff04,#fff300,#f5ff0a,#f6ff09,#fff100,#fff100,#ffee00,#fff700,#fffe00,#fff800,#ffee00,#fff900,#fff800,#fffd00,#fffb00,#ffea00,#ffed00,#fff900,#fff800,#fff300,#ffe900,#fff600,#ffec00,#fffa00,#fff000,#ffe000,#ffd900,#ffe700,#ffe100,#ffd000,#ffd600,#ffd400,#ffc800,#ffc700,#ffbc00,#ffbb00,#ffc300,#ffbc00,#ffb700,#ffbd00,#ffb300,#ff9900,#ffa100,#ff7b00,#ff6d00,#ff5e00)"></i>
<i style="top:80.94px;height:2.67px;background:linear-gradient(90deg,#ff7100,#ff8800,#ff9400,#ffad00,#ffb100,#ffb300,#ffa100,#ffa600,#ffb300,#ffab00,#ffab00,#ffa100,#ff9c00,#ff8600,#ffa400,#ff8800,#ff8900,#ff8f00,#ff8600,#ff8600,#ff7f00,#ff7400,#ff8700,#ff6f00,#ff7c00,#ff6c00,#ff7500,#ff6f00,#ff7500,#ff7300,#ff7d00,#ff8600,#ff7c00,#ff7f00,#ff7600,#ff9b00,#ff8f00,#ff8800,#ff9f00,#ff9a00,#ff8b00,#ff9400,#ffab00,#ff9c00,#ffa200,#ffaa00,#ffb100,#ffb700,#ffc400,#ffc500,#ffbf00,#ffc900,#ffbf00,#ffd500,#ffea00,#ffdd00,#ffdc00,#ffdf00,#ffe500,#ffef00,#ffdf00,#fff400,#ffeb00,#fff500,#fffe00,#ffea00,#f3ff0c,#ffff00,#fff400,#fffb00,#fff200,#fff800,#fffb00,#ffe500,#fff700,#fff600,#fffd00,#fff900,#ffed00,#ffed00,#fff100,#fff600,#ffea00,#fffd00,#fff200,#fff100,#fff500,#ffec00,#fff200,#fff300,#ffdc00,#ffe400,#ffde00,#ffe600,#ffdc00,#ffdb00,#ffd500,#ffc800,#ffda00,#ffd300,#ffd200,#ffea00,#ffd600,#ffc700,#ffbe00,#ffc500,#ffb300,#ffaf00,#ffb800,#ffa400,#ff9b00,#ff9c00,#ff9a00,#ff7500,#ff6f00,#ff5f00)"></i>
<i style="top:82.91px;height:2.67px;background:linear-gradient(90deg,#ff6f00,#ff8a00,#ff9000,#ff9e00,#ff9f00,#ffa600,#ffb100,#ffaa00,#ff9f00,#ffa700,#ff8900,#ff9f00,#ff9e00,#ff8c00,#ff8b00,#ff8e00,#ff8c00,#ff8300,#ff7c00,#ff7a00,#ff8000,#ff7800,#ff7300,#ff7200,#ff9100,#ff7f00,#ff7e00,#ff7a00,#ff7800,#ff7300,#ff7800,#ff8000,#ff8100,#ff7500,#ff8b00,#ff8700,#ff8000,#ff8d00,#ffa400,#ff9400,#ff9d00,#ff9f00,#ff9900,#ffa200,#ffac00,#ffa600,#ffae00,#ffb500,#ffb700,#ffbc00,#ffc500,#ffca00,#ffca00,#ffd700,#ffdd00,#ffcc00,#ffdd00,#ffdf00,#ffe300,#ffe500,#ffe800,#ffeb00,#fff500,#ffe900,#fff800,#ffeb00,#faff05,#fffe00,#ffee00,#fff700,#fffb00,#fff200,#fffd00,#fff400,#f9ff06,#fff600,#fff700,#ffed00,#ffe900,#fff600,#ffe200,#fff300,#ffff00,#fdff02,#ffe000,#ffed00,#fff100,#fff200,#fff400,#ffdf00,#ffe900,#ffd900,#ffe700,#fff700,#ffdb00,#ffe200,#ffde00,#ffcd00,#ffd800,#ffc900,#ffcf00,#ffd200,#ffc400,#ffca00,#ffb800,#ffb700,#ffbb00,#ffb300,#ffaf00,#ffb100,#ffa000,#ffa000,#ff8c00,#ff8800,#ff6c00,#ff5700)"></i>
<i style="top:84.89px;height:2.67px;background:linear-gradient(90deg,#ff7000,#ff8300,#ff9700,#ff9800,#ffaa00,#ffa200,#ff9900,#ffa100,#ffaf00,#ff9e00,#ff9300,#ff9b00,#ff8c00,#ff8d00,#ff8b00,#ff8d00,#ff8c00,#ff8600,#ff8100,#ff7a00,#ff7900,#ff7d00,#ff7800,#ff7500,#ff8500,#ff7e00,#ff7e00,#ff7a00,#ff7c00,#ff7d00,#ff8400,#ff7900,#ff7f00,#ff9100,#ff8600,#ff9200,#ff7e00,#ff9300,#ff9500,#ff9500,#ff9a00,#ff9d00,#ff9300,#ffa200,#ffa100,#ffa200,#ffb700,#ffa500,#ffb200,#ffb300,#ffc600,#ffbd00,#ffc400,#ffd000,#ffbd00,#ffcf00,#ffda00,#ffda00,#ffd800,#ffda00,#ffe100,#ffdf00,#ffe000,#fff800,#fff400,#fff900,#fff200,#ffe700,#ffee00,#fffc00,#fff600,#ffeb00,#fff700,#fff300,#ffef00,#feff01,#ffe900,#ffec00,#ffea00,#fff600,#fff300,#fff100,#ffea00,#ffeb00,#ffea00,#ffdc00,#ffdf00,#ffef00,#ffee00,#ffda00,#ffe900,#ffda00,#ffd600,#ffe600,#ffe100,#ffdc00,#ffe100,#ffdf00,#ffd700,#ffca00,#ffd100,#ffcc00,#ffca00,#ffce00,#ffb400,#ffd000,#ffbf00,#ffb100,#ffbd00,#ffa800,#ff9c00,#ffa400,#ff8e00,#ff8800,#ff6700,#ff5800)"></i>
<i style="top:86.86px;height:2.67px;background:linear-gradient(90deg,#ff6200,#ff6f00,#ff8900,#ff8d00,#ff9900,#ffa900,#ff9d00,#ff9a00,#ffa800,#ff8f00,#ff9700,#ff9100,#ff9900,#ff8e00,#ff8900,#ff8b00,#ff8400,#ff9300,#ff7400,#ff8600,#ff8d00,#ff8100,#ff7f00,#ff7300,#ff7f00,#ff7500,#ff7f00,#ff6600,#ff7500,#ff6b00,#ff8500,#ff7900,#ff8800,#ff7e00,#ff8000,#ff9500,#ff9400,#ff9800,#ff9e00,#ff9a00,#ffa000,#ffa700,#ff9e00,#ff9e00,#ffb000,#ffae00,#ffad00,#ffb300,#ffbb00,#ffb200,#ffb600,#ffbc00,#ffc700,#ffb900,#ffbf00,#ffd500,#ffd700,#ffd000,#ffe400,#ffdd00,#ffe300,#ffed00,#ffeb00,#fff900,#fff200,#feff01,#ffde00,#ffe500,#ffe800,#fff000,#ffea00,#ffe700,#ffe900,#ffe900,#fff700,#ffec00,#fff300,#fff700,#fff600,#ffe800,#ffe300,#fff600,#ffdc00,#ffde00,#ffec00,#ffec00,#ffe900,#ffdf00,#ffea00,#ffef00,#ffe200,#fff400,#ffe000,#ffd600,#ffdb00,#ffd400,#ffd400,#ffcf00,#ffd100,#ffd600,#ffcd00,#ffc900,#ffbb00,#ffb400,#ffbb00,#ffc100,#ffbe00,#ffb600,#ffa500,#ffa900,#ffa500,#ffa200,#ff8700,#ff7b00,#ff6a00,#ff5700)"></i>
<i style="top:88.84px;height:2.67px;background:linear-gradient(90deg,#ff5000,#ff7500,#ff7900,#ff8800,#ff9800,#ff9300,#ff9b00,#ffa000,#ff9a00,#ff9d00,#ff8f00,#ff9000,#ff8900,#ff8400,#ffa200,#ff8300,#ff9200,#ff7f00,#ff8500,#ff7b00,#ff6f00,#ff8700,#ff7600,#ff7800,#ff8700,#ff7200,#ff7700,#ff7d00,#ff8000,#ff6100,#ff8000,#ff8d00,#ff8800,#ff8600,#ff8900,#ff8900,#ff9400,#ff8900,#ff9500,#ff9f00,#ff9e00,#ff9d00,#ff9600,#ff9d00,#ffa700,#ffa800,#ffaa00,#ff9f00,#ffb800,#ffb300,#ffb500,#ffc700,#ffc200,#ffc600,#ffcf00,#ffcb00,#ffcb00,#ffce00,#ffdd00,#ffdd00,#ffcf00,#ffee00,#ffe600,#ffe300,#ffeb00,#ffe800,#ffed00,#ffe900,#ffe600,#fff200,#ffef00,#fff100,#fff300,#ffef00,#fff700,#ffe700,#ffdf00,#ffde00,#ffe000,#fff200,#ffdd00,#ffef00,#ffe900,#ffd900,#fff000,#ffe000,#ffe400,#ffe600,#ffec00,#ffe000,#ffe600,#ffd800,#ffd500,#ffe900,#ffdf00,#ffdb00,#ffe000,#ffdc00,#ffcf00,#ffce00,#ffd700,#ffcb00,#ffbf00,#ffca00,#ffc400,#ffac00,#ffac00,#ffc000,#ffba00,#ffa700,#ffad00,#ff9c00,#ff9000,#ff7700,#ff7d00,#ff6800)"></i>
<i style="top:90.81px;height:2.67px;background:linear-gradient(90deg,#ff6200,#ff6600,#ff8200,#ff9b00,#ff8e00,#ff8f00,#ff9700,#ff9600,#ff8f00,#ff8700,#ff8d00,#ff8800,#ff8a00,#ff8b00,#ff8d00,#ff8100,#ff8300,#ff8000,#ff7500,#ff7700,#ff7200,#ff8500,#ff7300,#ff7c00,#ff7e00,#ff7e00,#ff6e00,#ff7200,#ff8000,#ff8500,#ff7d00,#ff8300,#ff7300,#ff8f00,#ff9500,#ff8a00,#ff8b00,#ff8c00,#ff8a00,#ff8200,#ff9900,#ff9e00,#ffab00,#ff9e00,#ff9c00,#ffa800,#ffa000,#ffad00,#ffa500,#ffb200,#ffc200,#ffc200,#ffce00,#ffd300,#ffc700,#ffc600,#ffc100,#ffd600,#ffdb00,#ffe600,#ffd800,#ffe000,#ffea00,#ffe200,#ffe500,#fffb00,#ffe700,#ffed00,#fff200,#fff200,#ffe000,#ffe200,#ffdf00,#fff700,#fff200,#ffe400,#fff500,#fff000,#fff800,#ffd900,#ffdf00,#ffe300,#ffe500,#ffe900,#ffe800,#ffe000,#ffea00,#ffd900,#ffe600,#ffe800,#ffd500,#ffe000,#ffd800,#ffde00,#ffeb00,#ffd200,#ffdf00,#ffc800,#ffdb00,#ffda00,#ffc500,#ffc100,#ffc000,#ffc800,#ffb300,#ffc400,#ffb800,#ffb800,#ffb100,#ffa200,#ffa700,#ff9400,#ff8600,#ff8800,#ff7000,#ff5800)"></i>
<i style="top:92.78px;height:2.67px;background:linear-gradient(90deg,#ff5700,#ff6600,#ff8b00,#ff8100,#ff8700,#ff9100,#ff9b00,#ff8f00,#ff9200,#ff8700,#ff8b00,#ff8200,#ff8a00,#ff7900,#ff9500,#ff8900,#ff7a00,#ff8900,#ff7500,#ff8400,#ff7800,#ff7f00,#ff7b00,#ff7500,#ff7800,#ff7a00,#ff6600,#ff7900,#ff8200,#ff7400,#ff7700,#ff7500,#ff7300,#ff8b00,#ff7d00,#ff7f00,#ff8b00,#ff8b00,#ffa800,#ff9700,#ff8700,#ffa700,#ffa000,#ff9c00,#ff9d00,#ff9800,#ffb700,#ffac00,#ffa900,#ffbe00,#ffb800,#ffac00,#ffb400,#ffbf00,#ffdd00,#ffcc00,#ffcc00,#ffd600,#ffd800,#ffc100,#ffe000,#ffe900,#ffe200,#ffe900,#ffeb00,#ffeb00,#ffe500,#ffea00,#fff700,#ffee00,#ffe900,#fff100,#ffe300,#ffe500,#fff300,#ffe700,#ffd900,#ffdc00,#ffe800,#ffdf00,#ffeb00,#fff100,#ffe000,#ffe200,#ffdf00,#ffe300,#ffdf00,#ffe500,#ffdc00,#ffd800,#ffde00,#ffd600,#ffe900,#ffdf00,#ffcb00,#ffc600,#ffd000,#ffd000,#ffd600,#ffc600,#ffbf00,#ffce00,#ffba00,#ffb800,#ffb500,#ffbf00,#ffae00,#ffbc00,#ffa000,#ffa600,#ffaa00,#ff8c00,#ff8000,#ff7e00,#ff5300,#ff5b00)"></i>
<i style="top:94.76px;height:2.67px;background:linear-gradient(90deg,#ff4a00,#ff5900,#ff8800,#ff7a00,#ff8800,#ff8a00,#ff9300,#ff8700,#ff9200,#ff8f00,#ff8a00,#ff8f00,#ff7600,#ff8c00,#ff8600,#ff8000,#ff7c00,#ff7400,#ff7300,#ff7b00,#ff7b00,#ff7700,#ff7000,#ff7100,#ff7b00,#ff8800,#ff6700,#ff7200,#ff7800,#ff7900,#ff8200,#ff8800,#ff8400,#ff8500,#ff8b00,#ff9400,#ff8d00,#ff8800,#ff9400,#ff9200,#ffa600,#ff9900,#ff9c00,#ffa800,#ffaf00,#ffa000,#ffae00,#ffa700,#ffb200,#ffad00,#ffb800,#ffc600,#ffbe00,#ffc400,#ffc000,#ffcd00,#ffd100,#ffca00,#ffcc00,#ffd300,#ffd400,#ffdc00,#ffdc00,#ffdd00,#ffe300,#ffe800,#ffe800,#ffd700,#ffeb00,#ffed00,#ffee00,#ffeb00,#ffe900,#fff300,#fff900,#ffe600,#fff500,#ffe400,#ffe500,#ffdb00,#ffd600,#ffe000,#ffe700,#ffec00,#ffe800,#ffe000,#fff100,#ffde00,#ffde00,#ffd800,#ffdf00,#ffda00,#ffdf00,#ffdb00,#ffe300,#ffd100,#ffc300,#ffcb00,#ffc700,#ffcf00,#ffb800,#ffc700,#ffb700,#ffb900,#ffbf00,#ffac00,#ffb100,#ffac00,#ffa600,#ffa500,#ffa100,#ff9100,#ff8b00,#ff7600,#ff6900,#ff5e00)"></i>
<i style="top:96.73px;height:2.67px;background:linear-gradient(90deg,#ff4d00,#ff6200,#ff7100,#ff7300,#ff9000,#ff8400,#ff9800,#ff8e00,#ff8900,#ff9600,#ff9100,#ff8000,#ff7f00,#ff7f00,#ff8400,#ff6a00,#ff7c00,#ff8000,#ff6b00,#ff7300,#ff7a00,#ff6d00,#ff7500,#ff7100,#ff7500,#ff8000,#ff7100,#ff7800,#ff8300,#ff8300,#ff7600,#ff8300,#ff8100,#ff7e00,#ff8500,#ff9500,#ff8500,#ff8500,#ff8800,#ff8500,#ff9100,#ff9100,#ff8d00,#ff9f00,#ff9100,#ff9500,#ff9f00,#ff9a00,#ffa600,#ffb700,#ffab00,#ffb500,#ffb800,#ffbf00,#ffb900,#ffc300,#ffd200,#ffcc00,#ffce00,#ffdd00,#ffde00,#ffe100,#ffe500,#ffe000,#ffdd00,#ffd700,#ffde00,#ffe100,#ffe000,#ffdf00,#ffed00,#ffe400,#ffe600,#ffe900,#ffeb00,#ffeb00,#ffe800,#ffef00,#ffe000,#ffe300,#ffe100,#ffdf00,#ffdb00,#ffe500,#ffe000,#ffec00,#fff000,#ffed00,#ffd000,#ffea00,#ffd600,#ffcc00,#ffda00,#ffc700,#ffc300,#ffc800,#ffba00,#ffc600,#ffce00,#ffc000,#ffc500,#ffc900,#ffc600,#ffa500,#ffb900,#ffb200,#ffb400,#ffab00,#ffaa00,#ffa700,#ffa600,#ff9f00,#ff8c00,#ff7300,#ff5100,#ff4700)"></i>
<i style="top:98.71px;height:2.67px;background:linear-gradient(90deg,#ff3400,#ff5500,#ff6d00,#ff8300,#ff7e00,#ff9200,#ff8400,#ff7400,#ff7e00,#ff7600,#ff8200,#ff8900,#ff8000,#ff7f00,#ff7100,#ff6900,#ff7f00,#ff7b00,#ff7800,#ff7900,#ff8000,#ff7500,#ff7300,#ff7300,#ff8100,#ff7900,#ff8700,#ff7200,#ff8300,#ff7f00,#ff8200,#ff8500,#ff8a00,#ff9200,#ff7800,#ff8600,#ff8800,#ff7b00,#ff9000,#ff8d00,#ff9300,#ff8c00,#ff9500,#ff9900,#ffa000,#ff9f00,#ff9b00,#ffb900,#ffac00,#ffb200,#ffb500,#ffc600,#ffb400,#ffc500,#ffc400,#ffca00,#ffd800,#ffd100,#ffe100,#ffdd00,#ffdb00,#ffdc00,#ffde00,#ffe200,#ffd200,#ffe100,#fff000,#ffec00,#ffed00,#ffe900,#ffed00,#ffef00,#ffda00,#ffe600,#ffe900,#ffe700,#ffe600,#ffd800,#ffde00,#ffd800,#fffa00,#ffdd00,#ffd600,#ffce00,#ffdd00,#ffeb00,#ffd700,#ffe000,#ffe900,#ffde00,#ffcf00,#ffcc00,#ffce00,#ffdb00,#ffbc00,#ffd700,#ffcc00,#ffd400,#ffbb00,#ffbf00,#ffb800,#ffbb00,#ffb900,#ffb400,#ffc200,#ffa800,#ffa500,#ffad00,#ffa600,#ff9f00,#ff8e00,#ff8d00,#ff8300,#ff7700,#ff6c00,#ff5200)"></i>
<i style="top:100.68px;height:2.67px;background:linear-gradient(90deg,#ff3e00,#ff5700,#ff6700,#ff6d00,#ff7600,#ff7a00,#ff7800,#ff7c00,#ff7d00,#ff7800,#ff8900,#ff7000,#ff8400,#ff7200,#ff7800,#ff6e00,#ff7600,#ff7e00,#ff6d00,#ff7400,#ff7400,#ff7500,#ff6e00,#ff7000,#ff7500,#ff8400,#ff7c00,#ff7900,#ff6d00,#ff7a00,#ff7f00,#ff7600,#ff8300,#ff8400,#ff8400,#ff9400,#ff8200,#ff8900,#ff9100,#ff9a00,#ff9100,#ff8a00,#ff9d00,#ffa300,#ff9a00,#ffad00,#ffb500,#ffaa00,#ffaf00,#ffaf00,#ffb500,#ffb200,#ffba00,#ffc100,#ffc400,#ffbf00,#ffc000,#ffc500,#ffca00,#ffee00,#ffdf00,#ffdc00,#ffdb00,#ffec00,#ffd600,#ffe100,#ffea00,#ffe400,#ffe900,#ffed00,#ffe200,#ffea00,#fff100,#ffea00,#ffe500,#ffec00,#ffd800,#ffea00,#ffd200,#ffd800,#ffe600,#ffdc00,#ffd300,#ffde00,#ffe500,#ffda00,#ffc900,#ffe500,#ffd300,#ffd700,#ffd600,#ffd700,#ffd500,#ffc800,#ffc900,#ffd400,#ffbc00,#ffd100,#ffbe00,#ffbf00,#ffb300,#ffb700,#ffae00,#ffb400,#ffa900,#ffab00,#ff9900,#ffad00,#ff9a00,#ff9b00,#ff9700,#ff9300,#ff7e00,#ff7d00,#ff6800,#ff4500)"></i>
<i style="top:102.66px;height:2.67px;background:linear-gradient(90deg,#ff4700,#ff4500,#ff6600,#ff6d00,#ff7500,#ff7500,#ff7c00,#ff7c00,#ff7a00,#ff7000,#ff6f00,#ff6d00,#ff7400,#ff7800,#ff8400,#ff7000,#ff6e00,#ff7800,#ff6e00,#ff6a00,#ff7400,#ff6c00,#ff7300,#ff8400,#ff7b00,#ff7b00,#ff7500,#ff8100,#ff7f00,#ff8500,#ff7f00,#ff8000,#ff7a00,#ff7d00,#ff8400,#ff8600,#ff8900,#ff8b00,#ff8100,#ffa400,#ff9400,#ff9200,#ff8e00,#ffa200,#ff9900,#ff9800,#ffa500,#ffb400,#ffab00,#ffb500,#ffaa00,#ffba00,#ffa800,#ffb900,#ffc500,#ffc600,#ffcf00,#ffc700,#ffc200,#ffd300,#ffce00,#ffe000,#ffd900,#ffcb00,#ffeb00,#ffd700,#ffd900,#fff300,#fff000,#ffed00,#ffdd00,#ffe800,#ffe500,#ffdd00,#ffe100,#ffe000,#ffe300,#ffd600,#ffe500,#ffd000,#ffdf00,#ffe200,#ffd600,#ffd700,#ffea00,#ffd700,#ffe300,#ffde00,#ffd000,#ffdc00,#ffd100,#ffd500,#ffc000,#ffcf00,#ffd600,#ffd300,#ffce00,#ffc300,#ffc100,#ffb600,#ffba00,#ffb700,#ffb200,#ffb300,#ffac00,#ffa500,#ffa200,#ffaa00,#ffb000,#ffa400,#ff9400,#ffa100,#ff8400,#ff6b00,#ff6000,#ff5200)"></i>
<i style="top:104.63px;height:2.67px;background:linear-gradient(90deg,#ff2900,#ff4200,#ff6200,#ff6200,#ff6800,#ff7f00,#ff6100,#ff7e00,#ff7900,#ff7f00,#ff7500,#ff8000,#ff7500,#ff6c00,#ff7300,#ff7700,#ff6800,#ff7b00,#ff6c00,#ff7700,#ff7300,#ff7500,#ff7500,#ff7700,#ff7e00,#ff7d00,#ff7600,#ff7b00,#ff8500,#ff8300,#ff8500,#ff8100,#ff8100,#ff8300,#ff8b00,#ff8800,#ff9500,#ffa300,#ff8e00,#ff9d00,#ff9a00,#ff9e00,#ff9100,#ffa300,#ff9900,#ffa200,#ffab00,#ffb100,#ffa300,#ffa700,#ffa800,#ffa300,#ffb300,#ffb700,#ffbe00,#ffc000,#ffc800,#ffd000,#ffbd00,#ffe000,#ffd200,#ffd400,#ffd900,#ffe500,#ffe000,#ffe400,#ffeb00,#ffe300,#ffe700,#ffe800,#ffde00,#ffec00,#ffdf00,#ffe700,#ffde00,#ffe000,#ffde00,#ffe700,#ffe400,#ffe400,#ffda00,#ffd500,#ffd100,#ffdd00,#ffd800,#ffe500,#ffe900,#ffdd00,#ffda00,#ffe000,#ffe100,#ffcd00,#ffd600,#ffdb00,#ffb800,#ffc700,#ffc900,#ffbe00,#ffc600,#ffb000,#ffc600,#ffc100,#ffb500,#ffb700,#ffa200,#ffb700,#ffad00,#ffa200,#ff9c00,#ff9300,#ff9200,#ff7a00,#ff8200,#ff6c00,#ff5300,#ff4b00)"></i>
<i style="top:106.60px;height:2.67px;background:linear-gradient(90deg,#ff3700,#ff4f00,#ff6400,#ff7400,#ff7500,#ff8000,#ff7200,#ff8200,#ff6400,#ff6700,#ff6c00,#ff7600,#ff7900,#ff6a00,#ff7300,#ff6f00,#ff7a00,#ff6c00,#ff7b00,#ff7400,#ff8300,#ff7b00,#ff7200,#ff7b00,#ff7c00,#ff7300,#ff7b00,#ff7200,#ff9100,#ff7a00,#ff7c00,#ff8e00,#ff8e00,#ff7e00,#ff9000,#ff8e00,#ff8600,#ff8f00,#ff8a00,#ff9700,#ff9000,#ff8c00,#ff9400,#ffab00,#ff9600,#ff9e00,#ffa800,#ff9800,#ffb500,#ff9b00,#ffb200,#ffa400,#ffb500,#ffc300,#ffbc00,#ffbe00,#ffc000,#ffc000,#ffd400,#ffcc00,#ffcd00,#ffd900,#ffe100,#ffe400,#ffd800,#ffd900,#ffe800,#ffed00,#ffd900,#fff000,#ffe200,#ffe900,#fff000,#ffe000,#ffe200,#ffd400,#ffcc00,#ffdf00,#ffd400,#ffd300,#ffdf00,#ffe100,#ffcc00,#ffdb00,#ffd800,#ffd900,#ffd700,#ffda00,#ffce00,#ffc800,#ffd400,#ffdb00,#ffce00,#ffd800,#ffcf00,#ffbd00,#ffb200,#ffbf00,#ffc700,#ffb500,#ffcb00,#ffbb00,#ffa600,#ffa900,#ffb700,#ffb600,#ff9f00,#ffa300,#ffa400,#ff9600,#ff9800,#ff9900,#ff7600,#ff7100,#ff6000,#ff5100)"></i>
<i style="top:108.58px;height:2.67px;background:linear-gradient(90deg,#ff3100,#ff5000,#ff5700,#ff6a00,#ff6600,#ff7500,#ff7800,#ff8300,#ff7c00,#ff6d00,#ff5a00,#ff7d00,#ff7b00,#ff7000,#ff6f00,#ff7900,#ff7300,#ff8100,#ff7600,#ff6d00,#ff6800,#ff7700,#ff7900,#ff7400,#ff6f00,#ff7600,#ff8100,#ff7900,#ff7600,#ff8500,#ff8b00,#ff7e00,#ff8100,#ff7d00,#ff8600,#ff8e00,#ff8e00,#ff9500,#ff9600,#ff9500,#ff9600,#ff8b00,#ffa000,#ff9900,#ff9f00,#ff9100,#ff9e00,#ffa600,#ff9f00,#ffa800,#ffb000,#ffa300,#ffae00,#ffa900,#ffb200,#ffb900,#ffc200,#ffd000,#ffc500,#ffce00,#ffcd00,#ffd500,#ffde00,#ffe300,#ffd700,#ffd400,#ffe200,#ffdd00,#ffd600,#ffe900,#ffe400,#ffea00,#ffd700,#ffde00,#ffe300,#ffec00,#ffdf00,#ffd400,#ffdd00,#ffdd00,#ffd400,#ffe200,#ffd700,#ffd200,#ffdc00,#ffdc00,#ffd200,#ffd400,#ffd400,#ffcf00,#ffce00,#ffd600,#ffd200,#ffc700,#ffbf00,#ffba00,#ffca00,#ffb700,#ffb700,#ffba00,#ffb200,#ffac00,#ffa100,#ffb500,#ffa500,#ffa800,#ffa500,#ff9700,#ff9600,#ffa000,#ff9300,#ff8500,#ff8600,#ff6200,#ff5600,#ff4300)"></i>
<i style="top:110.55px;height:2.67px;background:linear-gradient(90deg,#ff2e00,#ff3800,#ff5a00,#ff6900,#ff5e00,#ff7300,#ff7500,#ff7c00,#ff6800,#ff6f00,#ff6e00,#ff7000,#ff7300,#ff7800,#ff7800,#ff6f00,#ff7100,#ff6600,#ff7a00,#ff7800,#ff7d00,#ff6a00,#ff8000,#ff7100,#ff6d00,#ff7b00,#ff7500,#ff8d00,#ff8100,#ff8c00,#ff7f00,#ff8200,#ff8a00,#ff7e00,#ff8400,#ff8d00,#ff8e00,#ff9800,#ff8f00,#ff7e00,#ff9700,#ff9000,#ff9a00,#ff9100,#ff9600,#ff9e00,#ffad00,#ffa600,#ff9b00,#ffa900,#ffa600,#ffb200,#ffc100,#ffb200,#ffb700,#ffc200,#ffc500,#ffc300,#ffce00,#ffca00,#ffd200,#ffe700,#ffd800,#ffde00,#ffe200,#ffda00,#ffe300,#ffdb00,#ffd700,#ffdf00,#ffed00,#ffe600,#ffd800,#ffe100,#ffe400,#ffdd00,#ffd800,#ffd800,#ffd400,#ffdf00,#ffda00,#ffd900,#ffd600,#ffe600,#ffd600,#ffde00,#ffc700,#ffc500,#ffc300,#ffc900,#ffd200,#ffc500,#ffcc00,#ffc400,#ffce00,#ffc800,#ffbd00,#ffb000,#ffbb00,#ffa600,#ff9e00,#ffbb00,#ffae00,#ffb200,#ffa900,#ffa900,#ffa200,#ff9600,#ff9300,#ff9300,#ff8f00,#ff8400,#ff7700,#ff6200,#ff5300,#ff3d00)"></i>
<i style="top:112.53px;height:2.67px;background:linear-gradient(90deg,#ff3900,#ff3f00,#ff4a00,#ff6300,#ff7600,#ff6300,#ff7200,#ff8800,#ff7100,#ff6b00,#ff6d00,#ff6600,#ff6b00,#ff7000,#ff8100,#ff7a00,#ff7000,#ff6d00,#ff7b00,#ff7900,#ff7100,#ff8500,#ff8600,#ff7900,#ff7600,#ff7d00,#ff8d00,#ff7c00,#ff8800,#ff7a00,#ff8100,#ff8000,#ff7e00,#ff8900,#ff8000,#ff7e00,#ff8700,#ff8100,#ff9200,#ff8800,#ff8f00,#ff9b00,#ff9500,#ff9b00,#ff9d00,#ff9b00,#ff9500,#ffa300,#ffa200,#ffb200,#ffa900,#ffa400,#ffaa00,#ffb100,#ffbd00,#ffc400,#ffc100,#ffcf00,#ffd200,#ffc400,#ffd700,#ffc400,#ffe100,#ffd500,#ffe400,#ffdb00,#ffe600,#ffde00,#ffe000,#ffe300,#ffdb00,#ffd300,#ffe300,#ffd600,#ffdc00,#ffdc00,#ffc900,#ffeb00,#ffde00,#ffe600,#ffd900,#ffd700,#ffb600,#ffd100,#ffc400,#ffc800,#ffd500,#ffcc00,#ffc200,#ffcd00,#ffcb00,#ffc700,#ffd500,#ffce00,#ffc200,#ffbe00,#ffc700,#ffbf00,#ffba00,#ffb700,#ffad00,#ffae00,#ffab00,#ffb400,#ffae00,#ffa000,#ffac00,#ff9a00,#ff9d00,#ff9a00,#ff8700,#ff8800,#ff7d00,#ff6a00,#ff5100,#ff2900)"></i>
<i style="top:114.50px;height:2.67px;background:linear-gradient(90deg,#ff3f00,#ff4400,#ff5900,#ff5b00,#ff6c00,#ff8100,#ff6300,#ff7700,#ff6f00,#ff7a00,#ff7800,#ff7300,#ff6900,#ff6900,#ff7500,#ff6d00,#ff7500,#ff7100,#ff7200,#ff6f00,#ff7900,#ff7600,#ff7500,#ff7700,#ff7f00,#ff6c00,#ff7f00,#ff7600,#ff7c00,#ff7500,#ff9200,#ff7200,#ff8600,#ff8f00,#ff8600,#ff7600,#ff8600,#ff9600,#ff9100,#ff8400,#ff9c00,#ff9400,#ff9700,#ff8500,#ff9b00,#ff9000,#ffa300,#ffa600,#ff9b00,#ffa100,#ffb700,#ffa700,#ffab00,#ffb900,#ffb600,#ffba00,#ffc400,#ffc900,#ffcd00,#ffce00,#ffda00,#ffd200,#ffe100,#ffd700,#ffdb00,#ffe400,#ffd600,#ffce00,#ffd400,#ffea00,#ffd400,#ffdc00,#ffde00,#ffe200,#ffdc00,#ffcf00,#ffd500,#ffdc00,#ffdd00,#ffda00,#ffd100,#ffc500,#ffdc00,#ffd300,#ffd500,#ffd700,#ffcd00,#ffcb00,#ffda00,#ffd500,#ffc200,#ffc700,#ffc400,#ffca00,#ffc700,#ffbd00,#ffc200,#ffc400,#ffb800,#ffad00,#ffb900,#ffa500,#ffa500,#ffae00,#ffa400,#ffa100,#ff9800,#ff9500,#ffa100,#ff9c00,#ff8200,#ff8000,#ff7000,#ff6000,#ff4300,#ff4700)"></i>
<i style="top:116.47px;height:2.67px;background:linear-gradient(90deg,#ff2400,#ff4900,#ff5000,#ff5700,#ff7400,#ff6800,#ff6f00,#ff7000,#ff6e00,#ff7700,#ff7600,#ff6a00,#ff6800,#ff7400,#ff7c00,#ff5e00,#ff6800,#ff6f00,#ff7b00,#ff7800,#ff7200,#ff7d00,#ff6a00,#ff7600,#ff7600,#ff8200,#ff8300,#ff8300,#ff7c00,#ff8200,#ff8300,#ff8000,#ff8200,#ff7900,#ff8900,#ff9100,#ff8a00,#ff8000,#ff9200,#ff8e00,#ff9300,#ff8f00,#ff9200,#ff9c00,#ff9a00,#ff9300,#ff9400,#ff9800,#ff9b00,#ffa800,#ffab00,#ffa400,#ffb900,#ffb400,#ffc600,#ffbe00,#ffc500,#ffcd00,#ffc200,#ffd100,#ffd100,#ffd400,#ffda00,#ffcc00,#ffdd00,#ffd900,#ffe700,#ffe100,#ffe000,#ffe000,#ffe200,#ffdc00,#ffd000,#ffdd00,#ffdc00,#ffdd00,#ffc400,#ffcb00,#ffd200,#ffd000,#ffda00,#ffd500,#ffd100,#ffd100,#ffd800,#ffd600,#ffcb00,#ffcc00,#ffde00,#ffcb00,#ffc000,#ffce00,#ffc500,#ffd000,#ffbc00,#ffc800,#ffc700,#ffbc00,#ffa300,#ffb800,#ffb900,#ffa800,#ffa700,#ff9800,#ffac00,#ffab00,#ff9e00,#ff9500,#ff9100,#ff8600,#ff9400,#ff8500,#ff7200,#ff5a00,#ff4900,#ff3e00)"></i>
<i style="top:118.45px;height:2.67px;background:linear-gradient(90deg,#ff3400,#ff3b00,#ff4e00,#ff4c00,#ff6900,#ff5e00,#ff7600,#ff7100,#ff7300,#ff7100,#ff7500,#ff7300,#ff6f00,#ff7300,#ff6a00,#ff7100,#ff7100,#ff6600,#ff7000,#ff7200,#ff7500,#ff7500,#ff7200,#ff7e00,#ff7000,#ff6e00,#ff7200,#ff8100,#ff8b00,#ff8300,#ff8000,#ff7c00,#ff8500,#ff8800,#ff7b00,#ff8e00,#ff8100,#ff8400,#ff9800,#ff8c00,#ff9500,#ff9a00,#ffa300,#ffa200,#ff9400,#ff9d00,#ff9a00,#ffa700,#ffa400,#ffa700,#ffb400,#ffb900,#ffab00,#ffb200,#ffbe00,#ffbc00,#ffb900,#ffb400,#ffce00,#ffc500,#ffbd00,#ffd000,#ffc800,#ffeb00,#ffcd00,#ffdb00,#ffeb00,#ffd600,#ffd500,#ffd400,#ffd400,#ffdd00,#ffe200,#ffdf00,#ffda00,#ffd600,#ffdc00,#ffd600,#ffce00,#ffd200,#ffc100,#ffc100,#ffdb00,#ffd500,#ffda00,#ffd800,#ffca00,#ffd500,#ffd400,#ffcd00,#ffc300,#ffca00,#ffc800,#ffbc00,#ffbd00,#ffba00,#ffb400,#ffc000,#ffb300,#ffb600,#ffa500,#ffa400,#ffaf00,#ff9800,#ffa900,#ff9300,#ff9800,#ff9d00,#ff9b00,#ff8f00,#ff8600,#ff8200,#ff6b00,#ff6900,#ff4b00,#ff3900)"></i>
<i style="top:120.42px;height:2.67px;background:linear-gradient(90deg,#ff3a00,#ff3f00,#ff5f00,#ff7500,#ff6c00,#ff6c00,#ff6400,#ff7000,#ff6100,#ff6200,#ff6500,#ff6300,#ff6c00,#ff7300,#ff6a00,#ff6800,#ff6f00,#ff7400,#ff7f00,#ff6e00,#ff7200,#ff8000,#ff7600,#ff7200,#ff7a00,#ff7400,#ff7500,#ff8900,#ff8100,#ff7c00,#ff7a00,#ff7700,#ff9300,#ff8600,#ff8100,#ff7f00,#ff7c00,#ff9300,#ff9000,#ff9700,#ff8a00,#ff9d00,#ff8a00,#ff8e00,#ff9400,#ffab00,#ffa200,#ff9900,#ffad00,#ffa600,#ffa900,#ffa400,#ffad00,#ffb000,#ffba00,#ffba00,#ffc000,#ffbd00,#ffc800,#ffc200,#ffdb00,#ffc700,#ffd500,#ffcd00,#ffd800,#ffd300,#ffcf00,#ffe100,#ffdc00,#ffde00,#ffdb00,#ffe900,#ffdd00,#ffdd00,#ffe000,#ffda00,#ffe400,#ffcb00,#ffd100,#ffc500,#ffda00,#ffdb00,#ffce00,#ffdd00,#ffcd00,#ffd400,#ffd000,#ffca00,#ffcb00,#ffbb00,#ffc300,#ffd100,#ffbd00,#ffcd00,#ffbf00,#ffc700,#ffc100,#ffac00,#ffb800,#ffb500,#ffb100,#ffab00,#ff9900,#ffab00,#ffa800,#ff9600,#ffa400,#ff9700,#ff8700,#ff8b00,#ff8800,#ff8000,#ff7400,#ff6100,#ff4700,#ff2d00)"></i>
<i style="top:122.40px;height:2.67px;background:linear-gradient(90deg,#ff2300,#ff4600,#ff5a00,#ff5b00,#ff7600,#ff6e00,#ff6e00,#ff7500,#ff7500,#ff6a00,#ff7b00,#ff7500,#ff7400,#ff6e00,#ff7b00,#ff6700,#ff7300,#ff7400,#ff7600,#ff7900,#ff7c00,#ff6c00,#ff7500,#ff7900,#ff7100,#ff8000,#ff7700,#ff7d00,#ff8600,#ff7a00,#ff8e00,#ff7e00,#ff8c00,#ff8300,#ff7c00,#ff8400,#ff8f00,#ff8c00,#ff9000,#ff9800,#ff9a00,#ff9200,#ff9000,#ffa400,#ff9900,#ff9600,#ff9c00,#ffa700,#ff9a00,#ffaf00,#ffa300,#ff9f00,#ffc000,#ffb100,#ffb400,#ffb900,#ffc500,#ffc500,#ffd200,#ffc900,#ffca00,#ffd700,#ffdc00,#ffdb00,#ffd900,#ffda00,#ffdd00,#ffdc00,#ffe800,#fff300,#ffd800,#ffd100,#ffe700,#ffe000,#ffd700,#ffd100,#ffd200,#ffcc00,#ffd500,#ffd000,#ffcf00,#ffd500,#ffc700,#ffcb00,#ffc700,#ffd100,#ffc500,#ffd400,#ffc700,#ffde00,#ffd000,#ffc000,#ffc700,#ffc000,#ffcc00,#ffb000,#ffb400,#ffb600,#ffaf00,#ffac00,#ffa000,#ffa600,#ffaf00,#ffa200,#ff9200,#ff9500,#ff9900,#ff8d00,#ff8d00,#ff8400,#ff8f00,#ff8000,#ff6600,#ff5c00,#ff4400,#ff2500)"></i>
<i style="top:124.37px;height:2.67px;background:linear-gradient(90deg,#ff2e00,#ff3f00,#ff5900,#ff6600,#ff6800,#ff7600,#ff7c00,#ff6100,#ff6e00,#ff6400,#ff6d00,#ff6d00,#ff6900,#ff6900,#ff7900,#ff6700,#ff7900,#ff7000,#ff5f00,#ff7300,#ff6800,#ff7900,#ff7200,#ff7800,#ff7600,#ff8200,#ff8300,#ff7b00,#ff8b00,#ff8700,#ff7d00,#ff8800,#ff8c00,#ff8f00,#ff8700,#ff8c00,#ff8a00,#ff8e00,#ff7f00,#ff9300,#ffa100,#ff9200,#ff9500,#ff9500,#ffa500,#ff9200,#ff9d00,#ffa000,#ffaf00,#ffa200,#ffa900,#ffa100,#ffb300,#ffbd00,#ffb600,#ffc300,#ffbc00,#ffcc00,#ffc800,#ffcd00,#ffcf00,#ffd600,#ffdb00,#ffd800,#ffde00,#ffda00,#ffde00,#ffef00,#ffde00,#ffd200,#ffdb00,#ffd800,#ffd800,#ffdf00,#ffe400,#ffd200,#ffcf00,#ffd100,#ffd100,#ffd000,#ffd200,#ffcf00,#ffd000,#ffcd00,#ffd600,#ffd200,#ffc800,#ffce00,#ffdd00,#ffc700,#ffd900,#ffb600,#ffbd00,#ffbb00,#ffc300,#ffc400,#ffb900,#ffb400,#ffb700,#ffac00,#ffa400,#ffa100,#ffaa00,#ffaf00,#ff9b00,#ff9c00,#ff9000,#ff8300,#ff7f00,#ff8500,#ff7700,#ff6900,#ff6900,#ff5600,#ff3e00,#ff3300)"></i>
<i style="top:126.34px;height:2.67px;background:linear-gradient(90deg,#ff2f00,#ff4700,#ff5400,#ff6500,#ff6100,#ff6d00,#ff6000,#ff6300,#ff7600,#ff6400,#ff7000,#ff6300,#ff6a00,#ff6f00,#ff6a00,#ff7500,#ff6e00,#ff6f00,#ff7400,#ff7100,#ff7c00,#ff7100,#ff8000,#ff7300,#ff7600,#ff7500,#ff8000,#ff6600,#ff8100,#ff7f00,#ff8700,#ff7800,#ff8800,#ff7e00,#ff8f00,#ff8700,#ff8e00,#ff8500,#ff9000,#ff9600,#ff8e00,#ff9c00,#ff9c00,#ff9100,#ffa700,#ff9500,#ffa000,#ffa700,#ffa100,#ffa100,#ffad00,#ffae00,#ffaa00,#ffae00,#ffb800,#ffc200,#ffc700,#ffc800,#ffc200,#ffc700,#ffcc00,#ffc700,#ffd700,#ffda00,#ffdc00,#ffcc00,#ffec00,#ffdb00,#ffda00,#ffdd00,#ffcb00,#ffd300,#ffd500,#ffe100,#ffd500,#ffdb00,#ffd600,#ffd400,#ffd800,#ffce00,#ffc500,#ffc800,#ffcd00,#ffdd00,#ffc500,#ffc400,#ffcc00,#ffcd00,#ffc300,#ffcd00,#ffbf00,#ffcc00,#ffc800,#ffbf00,#ffc700,#ffb900,#ffb200,#ffbc00,#ffa800,#ffaf00,#ffa300,#ffa200,#ffa300,#ffa000,#ffa500,#ff9a00,#ff9700,#ff8100,#ff8200,#ff8f00,#ff7700,#ff7200,#ff6900,#ff5200,#ff3c00,#ff3400)"></i>
<i style="top:128.32px;height:2.67px;background:linear-gradient(90deg,#ff2c00,#ff3f00,#ff5b00,#ff5e00,#ff6700,#ff6e00,#ff7100,#ff6900,#ff6500,#ff6a00,#ff7300,#ff6700,#ff6c00,#ff6a00,#ff6600,#ff7600,#ff7100,#ff7600,#ff7900,#ff6400,#ff6d00,#ff8300,#ff7300,#ff7c00,#ff7000,#ff7900,#ff7d00,#ff7c00,#ff7b00,#ff7f00,#ff8300,#ff8400,#ff8000,#ff8e00,#ff8700,#ff8a00,#ff8e00,#ff8600,#ff9700,#ff9200,#ff9700,#ff8f00,#ff9800,#ff9600,#ff9600,#ffa700,#ff9a00,#ffa600,#ffa500,#ffa700,#ffa300,#ffa700,#ffa300,#ffb300,#ffbc00,#ffc000,#ffbb00,#ffb800,#ffc500,#ffd000,#ffcd00,#ffd000,#ffd500,#ffdd00,#ffed00,#ffdf00,#ffd400,#ffdc00,#ffee00,#ffdd00,#ffeb00,#ffcd00,#ffda00,#ffe400,#ffd300,#ffde00,#ffd200,#ffd500,#ffdd00,#ffcd00,#ffdb00,#ffc600,#ffce00,#ffd500,#ffda00,#ffbf00,#ffbf00,#ffd300,#ffbb00,#ffc500,#ffc600,#ffc300,#ffc200,#ffb300,#ffba00,#ffc600,#ffa400,#ffaa00,#ffb500,#ffac00,#ffac00,#ffa100,#ff9b00,#ff9800,#ff9b00,#ff9900,#ff8900,#ff8c00,#ff7600,#ff8800,#ff7500,#ff7100,#ff6a00,#ff4900,#ff3f00,#ff3400)"></i>
<i style="top:130.29px;height:2.67px;background:linear-gradient(90deg,#ff2c00,#ff3800,#ff5d00,#ff5500,#ff6100,#ff6b00,#ff6000,#ff5e00,#ff6700,#ff6b00,#ff5e00,#ff6100,#ff7400,#ff7000,#ff7000,#ff7300,#ff7c00,#ff6a00,#ff7100,#ff7200,#ff6900,#ff7900,#ff7700,#ff7500,#ff7c00,#ff7b00,#ff7500,#ff7d00,#ff7400,#ff8500,#ff8000,#ff8e00,#ff8500,#ff8b00,#ff7d00,#ff8300,#ff8700,#ff7e00,#ff8300,#ff8a00,#ff9700,#ff9f00,#ff9600,#ff9a00,#ff9f00,#ff9e00,#ffab00,#ff9600,#ffad00,#ffad00,#ffa600,#ffbb00,#ffab00,#ffaf00,#ffbc00,#ffc600,#ffc500,#ffd400,#ffbf00,#ffcc00,#ffd600,#ffda00,#ffd200,#ffcd00,#ffe400,#ffe100,#ffeb00,#ffd900,#ffdd00,#ffcd00,#ffdf00,#ffe000,#ffe200,#ffd400,#ffe600,#ffd300,#ffd500,#ffd900,#ffdb00,#ffca00,#ffc300,#ffd300,#ffcb00,#ffc000,#ffd100,#ffcd00,#ffd300,#ffca00,#ffc800,#ffc900,#ffc900,#ffce00,#ffca00,#ffc400,#ffb500,#ffbb00,#ffba00,#ffaa00,#ffa700,#ffae00,#ffa900,#ff9b00,#ff9900,#ff9f00,#ff9300,#ff9100,#ff8500,#ff9000,#ff7e00,#ff7d00,#ff8100,#ff6700,#ff5b00,#ff5b00,#ff2e00,#ff3400)"></i>
<i style="top:132.27px;height:2.67px;background:linear-gradient(90deg,#ff3100,#ff4300,#ff4d00,#ff5b00,#ff6700,#ff5e00,#ff6700,#ff6000,#ff5600,#ff6a00,#ff8000,#ff7000,#ff7600,#ff6d00,#ff6e00,#ff7900,#ff7900,#ff7300,#ff7300,#ff8700,#ff6c00,#ff7500,#ff7600,#ff7500,#ff8100,#ff7a00,#ff7300,#ff7400,#ff7b00,#ff8200,#ff8800,#ff7800,#ff8000,#ff8900,#ff9900,#ff9000,#ff9a00,#ff8300,#ff8d00,#ff9600,#ff9500,#ff8000,#ff8d00,#ffa300,#ff9c00,#ffa700,#ffae00,#ffa100,#ff9200,#ff9c00,#ffac00,#ffb300,#ffb200,#ffaf00,#ffc700,#ffce00,#ffb400,#ffc500,#ffbe00,#ffcc00,#ffc600,#ffda00,#ffd300,#ffcd00,#ffd400,#ffe100,#ffd700,#ffe400,#ffeb00,#ffdb00,#ffd300,#ffd700,#ffe700,#ffd500,#ffd500,#ffdd00,#ffeb00,#ffce00,#ffcd00,#ffcf00,#ffdf00,#ffdc00,#ffc700,#ffc700,#ffc800,#ffcd00,#ffc600,#ffcd00,#ffc900,#ffcc00,#ffc100,#ffc400,#ffb700,#ffb600,#ffbf00,#ffa700,#ffbb00,#ffab00,#ffa200,#ff9c00,#ffb400,#ff9600,#ff9000,#ff8b00,#ffa500,#ff9500,#ff8c00,#ff8b00,#ff7800,#ff8400,#ff6d00,#ff6900,#ff6c00,#ff5700,#ff3f00,#ff2900)"></i>
<i style="top:134.24px;height:2.67px;background:linear-gradient(90deg,#ff2200,#ff4100,#ff4c00,#ff6c00,#ff7f00,#ff6c00,#ff6700,#ff6e00,#ff7400,#ff6800,#ff5c00,#ff6e00,#ff7300,#ff7500,#ff5e00,#ff7000,#ff6b00,#ff6700,#ff6900,#ff7a00,#ff6c00,#ff6e00,#ff7200,#ff6f00,#ff7d00,#ff7a00,#ff8000,#ff7700,#ff8400,#ff7d00,#ff8a00,#ff8400,#ff8800,#ff8700,#ff8700,#ff8b00,#ff8d00,#ff9e00,#ff8600,#ff9600,#ff9500,#ff9c00,#ff8f00,#ffa100,#ff9800,#ff9500,#ff9400,#ff9b00,#ffa200,#ffb400,#ffa400,#ffa800,#ffaf00,#ffb300,#ffbd00,#ffc500,#ffbc00,#ffbe00,#ffd500,#ffc900,#ffd100,#ffcf00,#ffd700,#ffd200,#ffd500,#ffd700,#ffeb00,#ffda00,#ffe000,#ffe900,#ffda00,#ffea00,#ffd700,#ffcf00,#ffdf00,#ffd200,#ffd400,#ffd100,#ffe000,#ffce00,#ffd100,#ffca00,#ffcf00,#ffc500,#ffca00,#ffc500,#ffbe00,#ffc600,#ffbe00,#ffc200,#ffbe00,#ffc400,#ffb700,#ffb100,#ffb800,#ffae00,#ffad00,#ffb600,#ffa600,#ff9a00,#ffa500,#ffab00,#ff9700,#ff9a00,#ff8100,#ff8d00,#ff8900,#ff8b00,#ff7f00,#ff8100,#ff7c00,#ff6c00,#ff6400,#ff4200,#ff4300,#ff2800)"></i>
<i style="top:136.22px;height:2.67px;background:linear-gradient(90deg,#ff2f00,#ff4b00,#ff4500,#ff7000,#ff5a00,#ff7400,#ff6900,#ff5900,#ff7c00,#ff7600,#ff6100,#ff6b00,#ff7100,#ff6e00,#ff7600,#ff6e00,#ff6400,#ff7400,#ff7000,#ff6900,#ff6300,#ff7900,#ff7300,#ff7b00,#ff7d00,#ff7d00,#ff8000,#ff8a00,#ff8e00,#ff8500,#ff8000,#ff7900,#ff8900,#ff8800,#ff8300,#ff8400,#ff8d00,#ff8e00,#ff8100,#ff9400,#ff9800,#ffa300,#ff9500,#ff9d00,#ff8e00,#ffa300,#ff9c00,#ff9f00,#ff9c00,#ffb700,#ffa300,#ffb300,#ffb800,#ffbe00,#ffc200,#ffc600,#ffda00,#ffc700,#ffce00,#ffd900,#ffd600,#ffc600,#ffd800,#ffe000,#ffd100,#ffe600,#ffe200,#ffe600,#ffe400,#ffdc00,#ffdc00,#ffe600,#ffe000,#ffdd00,#ffdf00,#ffdb00,#ffdf00,#ffdd00,#ffd500,#ffdc00,#ffcf00,#ffd200,#ffd700,#ffd300,#ffd000,#ffcc00,#ffc800,#ffc900,#ffcd00,#ffb800,#ffba00,#ffbe00,#ffb500,#ffb700,#ffb900,#ffb200,#ff9a00,#ffa400,#ff9f00,#ffa700,#ff9a00,#ff8900,#ff9400,#ff8a00,#ff8500,#ff8600,#ff7b00,#ff8200,#ff7c00,#ff7f00,#ff5e00,#ff6700,#ff5b00,#ff4000,#ff3b00,#ff2600)"></i>
<i style="top:138.19px;height:2.67px;background:linear-gradient(90deg,#ff3000,#ff4000,#ff5600,#ff5b00,#ff6700,#ff6d00,#ff6c00,#ff6c00,#ff6f00,#ff6400,#ff6700,#ff6b00,#ff7600,#ff6900,#ff7800,#ff6d00,#ff6f00,#ff7500,#ff7800,#ff7800,#ff6300,#ff7700,#ff7700,#ff6f00,#ff7500,#ff7100,#ff8500,#ff8500,#ff6400,#ff8000,#ff8400,#ff8200,#ff7d00,#ff9000,#ff8600,#ff8b00,#ff8700,#ff8d00,#ff9500,#ff9a00,#ffa800,#ff9000,#ffa600,#ffa000,#ff9200,#ffa500,#ffa000,#ffaa00,#ffa600,#ffaf00,#ffb600,#ffab00,#ffbc00,#ffc800,#ffc400,#ffc100,#ffd200,#ffc700,#ffcb00,#ffc300,#ffdc00,#ffd500,#ffea00,#ffe200,#ffe000,#ffdf00,#ffe300,#ffe400,#ffe800,#ffe700,#ffe000,#ffdd00,#ffdb00,#ffd700,#ffd400,#ffea00,#ffde00,#ffda00,#ffdc00,#ffcd00,#ffcd00,#ffd200,#ffcf00,#ffc400,#ffcf00,#ffcd00,#ffc200,#ffc400,#ffba00,#ffc100,#ffbb00,#ffc300,#ffc300,#ffb900,#ffca00,#ffaf00,#ffa700,#ffaa00,#ffa800,#ff9a00,#ff9e00,#ff9200,#ff8400,#ff8c00,#ff8600,#ff8600,#ff8400,#ff8000,#ff7d00,#ff7000,#ff7e00,#ff6a00,#ff5500,#ff5000,#ff3700,#ff2900)"></i>
<i style="top:140.16px;height:2.67px;background:linear-gradient(90deg,#ff2600,#ff3900,#ff4800,#ff5b00,#ff6b00,#ff6700,#ff6600,#ff6000,#ff7c00,#ff6900,#ff7a00,#ff6700,#ff6900,#ff6a00,#ff6700,#ff6c00,#ff7500,#ff6e00,#ff6800,#ff7300,#ff7300,#ff7e00,#ff6c00,#ff7b00,#ff7e00,#ff7d00,#ff8200,#ff7e00,#ff7400,#ff7a00,#ff7600,#ff7800,#ff8c00,#ff8300,#ff7d00,#ff7900,#ff9800,#ff9a00,#ff8e00,#ff9700,#ff9e00,#ff9600,#ffa200,#ffb000,#ffa100,#ffa300,#ffa200,#ffa300,#ffac00,#ffb300,#ffba00,#ffc600,#ffc000,#ffb900,#ffbf00,#ffb800,#ffcd00,#ffde00,#ffcd00,#ffcf00,#ffe300,#ffe900,#ffde00,#ffdc00,#ffec00,#ffe700,#ffeb00,#ffee00,#fff000,#ffe400,#ffe700,#ffe800,#fff600,#ffd300,#ffe600,#ffde00,#ffe400,#ffd700,#ffe300,#ffd500,#ffd500,#ffcb00,#ffd900,#ffd400,#ffcf00,#ffbb00,#ffd500,#ffc500,#ffcb00,#ffc100,#ffbc00,#ffbd00,#ffb900,#ffb600,#ffba00,#ffb300,#ffba00,#ffac00,#ffab00,#ffa300,#ff9700,#ff9500,#ff9100,#ff8800,#ff9f00,#ff8500,#ff8500,#ff8100,#ff8700,#ff7300,#ff6700,#ff5e00,#ff5a00,#ff4300,#ff2d00,#ff1400)"></i>
<i style="top:142.14px;height:2.67px;background:linear-gradient(90deg,#ff2000,#ff3f00,#ff5200,#ff5e00,#ff6400,#ff6d00,#ff6400,#ff7000,#ff7100,#ff6900,#ff7100,#ff6e00,#ff7d00,#ff6700,#ff6e00,#ff7000,#ff6c00,#ff6f00,#ff7700,#ff6300,#ff7700,#ff6d00,#ff6700,#ff7c00,#ff7800,#ff8000,#ff7300,#ff7f00,#ff8700,#ff7600,#ff7b00,#ff8b00,#ff7c00,#ff8600,#ff7500,#ff7f00,#ff9200,#ff9300,#ff9a00,#ff9400,#ff9800,#ff9500,#ff9d00,#ffac00,#ffaa00,#ff9c00,#ffa100,#ffae00,#ffb200,#ffb600,#ffb800,#ffc900,#ffb900,#ffc900,#ffc600,#ffdf00,#ffcd00,#ffc800,#ffe800,#ffce00,#ffd900,#ffe500,#ffee00,#ffdb00,#ffe300,#ffe200,#ffe900,#ffee00,#ffe100,#ffee00,#ffdf00,#fff200,#ffeb00,#ffee00,#ffd600,#ffec00,#ffe600,#ffd600,#ffd700,#ffc600,#ffc700,#ffce00,#ffcc00,#ffde00,#ffd500,#ffce00,#ffcb00,#ffd300,#ffcd00,#ffca00,#ffb800,#ffbb00,#ffbe00,#ffba00,#ffb200,#ffb600,#ffaf00,#ffb600,#ff9f00,#ff9800,#ff9900,#ff9300,#ff9000,#ff7f00,#ff8900,#ff9100,#ff8b00,#ff7a00,#ff7300,#ff7000,#ff6800,#ff6300,#ff6300,#ff4c00,#ff4100,#ff2400)"></i>
<i style="top:144.11px;height:2.67px;background:linear-gradient(90deg,#ff3400,#ff3f00,#ff5400,#ff6f00,#ff6000,#ff6300,#ff7500,#ff6a00,#ff6600,#ff6e00,#ff6500,#ff6b00,#ff6500,#ff6c00,#ff7000,#ff6b00,#ff6a00,#ff6f00,#ff7500,#ff7900,#ff7600,#ff7900,#ff7400,#ff7600,#ff7900,#ff7a00,#ff7a00,#ff7100,#ff7500,#ff8500,#ff7f00,#ff8700,#ff8700,#ff8a00,#ff8f00,#ff9700,#ffa200,#ff9000,#ff8b00,#ff9e00,#ff9600,#ffa000,#ff9d00,#ffa900,#ffa800,#ffaa00,#ffbf00,#ffae00,#ffb500,#ffcb00,#ffb600,#ffbf00,#ffc100,#ffc400,#ffce00,#ffd700,#ffd600,#ffd900,#ffc800,#ffce00,#ffe300,#ffe500,#ffe200,#ffe200,#ffed00,#fff100,#ffda00,#ffe100,#fff600,#fff700,#ffef00,#ffe500,#ffe100,#ffe700,#ffef00,#ffdf00,#ffda00,#ffdd00,#ffde00,#ffd400,#ffd700,#ffdd00,#ffd200,#ffdb00,#ffc700,#ffc900,#ffd200,#ffc700,#ffbc00,#ffd400,#ffc200,#ffb100,#ffc700,#ffb900,#ffbf00,#ffb100,#ffbf00,#ffb500,#ffa800,#ff9e00,#ff9800,#ff9300,#ff8900,#ff8800,#ff8400,#ff8e00,#ff8300,#ff6500,#ff6800,#ff6e00,#ff6700,#ff5c00,#ff5900,#ff3600,#ff3500,#ff2000)"></i>
<i style="top:146.09px;height:2.67px;background:linear-gradient(90deg,#ff1900,#ff5100,#ff5000,#ff6d00,#ff6b00,#ff6a00,#ff6d00,#ff6a00,#ff7200,#ff6d00,#ff7600,#ff7000,#ff7800,#ff6900,#ff7900,#ff6a00,#ff7300,#ff7300,#ff6800,#ff7200,#ff8300,#ff7100,#ff8d00,#ff7500,#ff7c00,#ff8500,#ff7b00,#ff8000,#ff6f00,#ff8400,#ff7300,#ff7900,#ff8c00,#ff8f00,#ff8000,#ff8f00,#ff8f00,#ff9500,#ff9f00,#ff9b00,#ffa300,#ffab00,#ffa400,#ff9600,#ff9b00,#ffac00,#ffae00,#ffaf00,#ffac00,#ffb800,#ffc200,#ffc500,#ffbd00,#ffb500,#ffd300,#ffe200,#ffcf00,#ffda00,#ffdb00,#ffd500,#ffe200,#fff000,#fff700,#ffe900,#fff400,#ffe900,#fff600,#ffef00,#fff800,#ffee00,#ffee00,#ffe400,#ffdd00,#ffe700,#ffeb00,#ffd200,#ffdd00,#ffd900,#ffd700,#ffce00,#ffcf00,#ffd000,#ffcd00,#ffd800,#ffd400,#ffce00,#ffca00,#ffc800,#ffc300,#ffc300,#ffc400,#ffcb00,#ffb400,#ffb200,#ffba00,#ffab00,#ffa800,#ffa600,#ffb100,#ffa800,#ff9e00,#ff8800,#ff9800,#ff8f00,#ff9200,#ff8900,#ff7e00,#ff8e00,#ff9000,#ff6e00,#ff6c00,#ff6700,#ff4d00,#ff3c00,#ff4100,#ff2000)"></i>
<i style="top:148.06px;height:2.67px;background:linear-gradient(90deg,#ff2100,#ff4600,#ff5600,#ff5800,#ff6800,#ff7300,#ff7000,#ff7600,#ff6700,#ff7a00,#ff6400,#ff7a00,#ff6d00,#ff7a00,#ff7100,#ff6700,#ff6700,#ff6600,#ff7200,#ff7200,#ff7200,#ff7000,#ff7900,#ff6e00,#ff7600,#ff7100,#ff7800,#ff7800,#ff8500,#ff8400,#ff8d00,#ff8700,#ff8800,#ff8300,#ff9600,#ff7400,#ff9200,#ff8a00,#ff8e00,#ffae00,#ff9f00,#ff9400,#ffb700,#ffa100,#ffb200,#ffb200,#ffb000,#ffc500,#ffb800,#ffc300,#ffc800,#ffc000,#ffad00,#ffcb00,#ffcd00,#ffd500,#ffdf00,#ffda00,#ffd300,#ffe100,#ffde00,#ffea00,#ffd500,#fff900,#ffe800,#ffe900,#ffec00,#fff700,#fff700,#ffef00,#ffec00,#fff500,#fff200,#ffe300,#ffde00,#ffe800,#ffe700,#ffe600,#ffc900,#ffd700,#ffd900,#ffce00,#ffc200,#ffc900,#ffdc00,#ffce00,#ffcf00,#ffcc00,#ffd000,#ffc700,#ffc900,#ffbb00,#ffba00,#ffc200,#ffc100,#ffb300,#ffa500,#ffa200,#ffa200,#ffb800,#ff9d00,#ff9a00,#ff9300,#ff9600,#ff8b00,#ff8900,#ff6a00,#ff7600,#ff7900,#ff7200,#ff6c00,#ff6000,#ff5700,#ff4300,#ff2700,#ff1600)"></i>
<i style="top:150.03px;height:2.67px;background:linear-gradient(90deg,#ff2800,#ff3500,#ff5200,#ff6800,#ff7400,#ff6f00,#ff6b00,#ff6800,#ff6300,#ff7100,#ff7300,#ff6700,#ff6400,#ff7200,#ff6c00,#ff6400,#ff6d00,#ff7100,#ff8300,#ff6800,#ff6f00,#ff7400,#ff7a00,#ff8200,#ff7a00,#ff7b00,#ff7300,#ff8800,#ff7400,#ff8100,#ff7a00,#ff8d00,#ff8500,#ff8000,#ff8c00,#ff9b00,#ff9500,#ff9100,#ffa400,#ffa700,#ff9d00,#ffaa00,#ffa000,#ffb300,#ffbc00,#ffb700,#ffa900,#ffc000,#ffbd00,#ffbf00,#ffcd00,#ffc000,#ffcb00,#ffcd00,#ffe200,#ffe700,#fff300,#ffe100,#ffe500,#ffe000,#ffdc00,#ffed00,#ffef00,#ffeb00,#ffe300,#fff700,#ffec00,#fff300,#fff300,#ffe900,#fff500,#fff600,#ffe600,#ffea00,#ffea00,#ffe700,#ffdf00,#ffe400,#ffd900,#ffd900,#ffce00,#ffce00,#ffcf00,#ffd500,#ffd000,#ffd300,#ffb500,#ffcb00,#ffc200,#ffb800,#ffcc00,#ffc400,#ffbd00,#ffbe00,#ffbd00,#ffb200,#ff9f00,#ffa000,#ffa100,#ff9c00,#ffa500,#ff8e00,#ff8b00,#ff9300,#ff8500,#ff8400,#ff8300,#ff8300,#ff7c00,#ff7900,#ff6600,#ff5d00,#ff5000,#ff4300,#ff3100,#ff0b00)"></i>
<i style="top:152.01px;height:2.67px;background:linear-gradient(90deg,#ff3900,#ff3700,#ff5100,#ff5f00,#ff6a00,#ff6b00,#ff7400,#ff7700,#ff6d00,#ff7a00,#ff6600,#ff6400,#ff8a00,#ff7b00,#ff6c00,#ff6e00,#ff6f00,#ff6e00,#ff6c00,#ff6c00,#ff6500,#ff7500,#ff6f00,#ff8500,#ff7a00,#ff8400,#ff7100,#ff6b00,#ff7b00,#ff8c00,#ff8500,#ff8600,#ff8700,#ff8200,#ff8600,#ffa600,#ff8800,#ff9a00,#ff9e00,#ff9100,#ffa300,#ffaf00,#ffb300,#ffab00,#ffa800,#ffa700,#ffb900,#ffc000,#ffb300,#ffc800,#ffbc00,#ffca00,#ffce00,#ffd600,#ffd600,#ffe000,#ffe500,#ffe400,#ffeb00,#ffe600,#ffeb00,#fff000,#fff100,#fff300,#ffe400,#fff300,#fff800,#fff600,#ffed00,#fff300,#fff200,#fff100,#ffec00,#ffe900,#ffe600,#fff500,#ffee00,#fff800,#ffda00,#ffd500,#ffd100,#ffd800,#ffcd00,#ffd400,#ffd300,#ffdc00,#ffd300,#ffce00,#ffbf00,#ffb600,#ffc400,#ffba00,#ffb700,#ffbc00,#ffc000,#ffb400,#ffb500,#ffa700,#ffa100,#ff9d00,#ff9800,#ff8f00,#ff9600,#ff8300,#ff9300,#ff8100,#ff7b00,#ff8000,#ff8300,#ff6b00,#ff6e00,#ff5900,#ff4c00,#ff4100,#ff2d00,#ff1300)"></i>
<i style="top:153.98px;height:2.67px;background:linear-gradient(90deg,#ff2700,#ff4800,#ff5200,#ff5b00,#ff6500,#ff6800,#ff6c00,#ff6c00,#ff7300,#ff7800,#ff6300,#ff7200,#ff6c00,#ff7a00,#ff6e00,#ff7600,#ff5800,#ff7900,#ff7a00,#ff6b00,#ff6b00,#ff8600,#ff7500,#ff7100,#ff8300,#ff7500,#ff8100,#ff8600,#ff8300,#ff8600,#ff8f00,#ff7400,#ff8d00,#ff9200,#ff8700,#ff9200,#ff8900,#ff9a00,#ff9800,#ff9e00,#ffa100,#ffa800,#ffab00,#ffa100,#ffb800,#ffbb00,#ffbd00,#ffba00,#ffc000,#ffc000,#ffd700,#ffce00,#ffd500,#ffda00,#ffda00,#ffef00,#ffe100,#ffe500,#fff500,#ffed00,#ffe200,#fff400,#ffee00,#fff600,#fffc00,#fffd00,#fff900,#ffeb00,#ffee00,#fffa00,#ffeb00,#fff200,#fff500,#ffea00,#fff300,#fff600,#ffdc00,#fff300,#ffde00,#ffec00,#ffdd00,#ffdc00,#ffdb00,#ffe700,#ffd300,#ffd000,#ffd400,#ffcb00,#ffbf00,#ffca00,#ffbf00,#ffc600,#ffb600,#ffb000,#ff9e00,#ffa600,#ffa500,#ff9900,#ffa800,#ff9200,#ff9b00,#ff9700,#ff8500,#ff8700,#ff7a00,#ff8d00,#ff7b00,#ff7d00,#ff7700,#ff7f00,#ff6100,#ff5d00,#ff5900,#ff4b00,#ff3300,#ff0f00)"></i>
<i style="top:155.96px;height:2.67px;background:linear-gradient(90deg,#ff2b00,#ff4300,#ff5000,#ff6000,#ff6400,#ff6300,#ff6800,#ff6400,#ff7500,#ff6c00,#ff6f00,#ff6c00,#ff6e00,#ff7300,#ff7200,#ff6800,#ff7500,#ff7b00,#ff6d00,#ff6b00,#ff7700,#ff7500,#ff7d00,#ff7a00,#ff7100,#ff7500,#ff7c00,#ff8100,#ff8d00,#ff8000,#ff8100,#ff7f00,#ff7900,#ff8900,#ff8700,#ff9b00,#ff8c00,#ff9200,#ff9100,#ff9b00,#ffa000,#ff9c00,#ffb200,#ffab00,#ffac00,#ffbf00,#ffc700,#ffbe00,#ffc500,#ffc600,#ffca00,#ffd900,#ffd500,#ffd200,#ffe200,#ffe500,#ffef00,#ffe300,#ffdd00,#fffa00,#ffeb00,#ffec00,#fffa00,#fff900,#feff01,#fffe00,#fff700,#fff300,#fff600,#ffef00,#fff300,#fffd00,#ffe600,#ffe600,#fff300,#ffdd00,#ffe500,#ffe500,#ffd400,#fff400,#ffeb00,#ffd600,#ffda00,#ffdd00,#ffc700,#ffcc00,#ffd700,#ffd000,#ffc000,#ffb600,#ffd000,#ffbb00,#ffbc00,#ffc300,#ffb200,#ffb900,#ffac00,#ff9700,#ff9b00,#ff9400,#ff9100,#ff8e00,#ff8500,#ff9100,#ff8700,#ff7900,#ff8200,#ff7c00,#ff6a00,#ff6200,#ff6c00,#ff6400,#ff4c00,#ff3d00,#ff3100,#ff1500)"></i>
<i style="top:157.93px;height:2.67px;background:linear-gradient(90deg,#ff2500,#ff3f00,#ff3c00,#ff5400,#ff5f00,#ff6100,#ff5300,#ff6200,#ff7100,#ff6900,#ff6c00,#ff7100,#ff6b00,#ff6c00,#ff6f00,#ff7300,#ff6a00,#ff7e00,#ff6c00,#ff7300,#ff7200,#ff8900,#ff6900,#ff8600,#ff8100,#ff7600,#ff8200,#ff8200,#ff9200,#ff8600,#ff8300,#ff8200,#ff8c00,#ff8b00,#ff8c00,#ff9800,#ff9c00,#ff8a00,#ffa400,#ff9800,#ffa500,#ff9e00,#ffb300,#ffaf00,#ffb500,#ffbe00,#ffbe00,#ffcb00,#ffca00,#ffd100,#ffcc00,#ffd700,#ffe600,#ffe200,#ffe300,#ffed00,#ffdf00,#ffe900,#ffe900,#fff800,#fff800,#ffee00,#fbff04,#fff600,#fff900,#fffe00,#fffa00,#fbff04,#fff700,#fcff03,#fdff02,#ffea00,#fff900,#fcff03,#ffe700,#fff300,#f8ff07,#ffe800,#ffdd00,#ffdf00,#ffd100,#ffdd00,#ffd500,#ffdf00,#ffd300,#ffc500,#ffca00,#ffc900,#ffd700,#ffc700,#ffcb00,#ffb700,#ffbf00,#ffb200,#ffb900,#ff9d00,#ffb100,#ffa200,#ff8900,#ff9800,#ff9c00,#ff8c00,#ff8400,#ff8100,#ff9300,#ff7e00,#ff8d00,#ff6900,#ff7300,#ff7200,#ff6100,#ff5900,#ff5900,#ff3200,#ff2d00,#ff2700)"></i>
<i style="top:159.91px;height:2.67px;background:linear-gradient(90deg,#ff1f00,#ff3400,#ff4900,#ff5b00,#ff6d00,#ff6100,#ff5b00,#ff6500,#ff5f00,#ff7200,#ff6400,#ff6500,#ff7a00,#ff7b00,#ff7500,#ff6f00,#ff6d00,#ff7300,#ff7300,#ff7500,#ff7400,#ff7100,#ff7300,#ff7900,#ff7800,#ff7f00,#ff7700,#ff8300,#ff7400,#ff8400,#ff8300,#ff8e00,#ff8e00,#ff8c00,#ff9100,#ff9900,#ffa100,#ff9b00,#ff9e00,#ff9f00,#ff9e00,#ffaf00,#ffc100,#ffb600,#ffc900,#ffc900,#ffbb00,#ffc400,#ffd200,#ffd600,#ffd600,#ffe800,#ffda00,#ffe500,#ffd700,#fff200,#ffe500,#fff600,#ffeb00,#fffd00,#fff200,#fffd00,#fcff03,#fffd00,#fff900,#fffa00,#fff000,#fff600,#edff12,#fffe00,#f5ff0a,#fffa00,#fff000,#fffe00,#fffa00,#ffed00,#ffee00,#ffdc00,#ffe400,#ffdf00,#ffd200,#ffe200,#ffdb00,#ffe000,#ffd300,#ffc900,#ffc300,#ffcc00,#ffce00,#ffcb00,#ffcc00,#ffbc00,#ffae00,#ffc800,#ffc200,#ffa100,#ffb500,#ffa000,#ffa800,#ff9300,#ff8e00,#ff8f00,#ff8500,#ff8700,#ff7f00,#ff7000,#ff7300,#ff7d00,#ff7a00,#ff7000,#ff6800,#ff5c00,#ff5400,#ff3900,#ff2a00,#ff1600)"></i>
<i style="top:161.88px;height:2.67px;background:linear-gradient(90deg,#ff2a00,#ff3b00,#ff5d00,#ff5300,#ff6300,#ff6500,#ff6500,#ff6200,#ff6600,#ff6a00,#ff6e00,#ff7b00,#ff6c00,#ff7100,#ff7200,#ff5c00,#ff8000,#ff7100,#ff6900,#ff6c00,#ff6b00,#ff8100,#ff8000,#ff7400,#ff7d00,#ff6e00,#ff7c00,#ff7e00,#ff7e00,#ff8600,#ff8500,#ff8e00,#ff8c00,#ff9300,#ff9000,#ffa100,#ffa500,#ff9900,#ff9f00,#ffad00,#ffac00,#ffb700,#ffa200,#ffc500,#ffaf00,#ffc800,#ffc300,#ffcd00,#ffd300,#ffcd00,#ffd300,#ffe000,#ffe900,#ffd500,#ffde00,#ffec00,#fff300,#fff100,#fff500,#ffef00,#fcff03,#fffc00,#faff05,#fff400,#fff100,#feff01,#fffb00,#fff300,#feff01,#faff05,#fff300,#fff500,#fff900,#ffe900,#fff100,#fffe00,#ffea00,#ffeb00,#ffd800,#ffe500,#ffe300,#ffdb00,#ffda00,#ffe400,#ffd500,#ffd500,#ffc400,#ffb800,#ffd200,#ffcd00,#ffc800,#ffc300,#ffbf00,#ffb500,#ffa800,#ffb700,#ffb400,#ffb200,#ff9500,#ff8e00,#ffa100,#ff9d00,#ff8a00,#ff7e00,#ff7b00,#ff7d00,#ff7600,#ff7500,#ff7700,#ff5e00,#ff6600,#ff6600,#ff5300,#ff4b00,#ff2a00,#ff1000)"></i>
<i style="top:163.85px;height:2.67px;background:linear-gradient(90deg,#ff3400,#ff3700,#ff4200,#ff5c00,#ff6f00,#ff7000,#ff6d00,#ff7600,#ff7600,#ff6e00,#ff6e00,#ff6800,#ff7800,#ff6000,#ff6700,#ff6900,#ff7700,#ff6400,#ff7600,#ff6600,#ff6d00,#ff7e00,#ff7c00,#ff6b00,#ff7300,#ff7e00,#ff7d00,#ff7f00,#ff8900,#ff8700,#ff8d00,#ff8e00,#ff8900,#ff9800,#ff8d00,#ff9600,#ff9400,#ff9700,#ff9900,#ffa200,#ffa600,#ffb200,#ffb100,#ffc200,#ffc200,#ffbf00,#ffca00,#ffcb00,#ffdc00,#ffcd00,#ffe200,#ffde00,#ffe600,#ffe200,#fff100,#fff900,#faff05,#fffa00,#fbff04,#fff800,#fff200,#ecff13,#f3ff0c,#ffff00,#fff800,#feff01,#ffff00,#fffd00,#fffc00,#fff200,#fff800,#f8ff07,#fffd00,#fff500,#fffb00,#fff400,#fff300,#fff200,#ffe400,#ffe900,#ffec00,#ffe600,#ffdd00,#ffc900,#ffd500,#ffc700,#ffcc00,#ffde00,#ffc600,#ffcc00,#ffcd00,#ffc700,#ffab00,#ffc200,#ffb600,#ffa300,#ffa200,#ffb100,#ff9f00,#ff9e00,#ff9600,#ff8a00,#ff9000,#ff8a00,#ff7700,#ff8e00,#ff7e00,#ff7400,#ff7d00,#ff7300,#ff7100,#ff5b00,#ff5500,#ff3800,#ff2200,#ff1800)"></i>
<i style="top:165.83px;height:2.67px;background:linear-gradient(90deg,#ff2d00,#ff3e00,#ff5300,#ff6a00,#ff5d00,#ff6800,#ff6400,#ff7700,#ff6500,#ff5b00,#ff6800,#ff7a00,#ff6e00,#ff7000,#ff6e00,#ff7300,#ff6e00,#ff7700,#ff7200,#ff7b00,#ff7600,#ff7000,#ff7e00,#ff7500,#ff8400,#ff8100,#ff8200,#ff7800,#ff8a00,#ff7c00,#ff9500,#ff8d00,#ff8700,#ff8c00,#ff9d00,#ffa300,#ff9500,#ffab00,#ffa000,#ffae00,#ffaf00,#ffa100,#ffac00,#ffb700,#ffce00,#ffc600,#ffcd00,#ffd300,#ffcd00,#ffeb00,#ffde00,#ffe500,#fff000,#ffe000,#fffc00,#fff500,#fff700,#f1ff0e,#f5ff0a,#f6ff09,#fffb00,#fffb00,#ffff00,#fbff04,#e7ff18,#fbff04,#f5ff0a,#fffa00,#fff800,#ffef00,#fffa00,#fff700,#faff05,#fff900,#fdff02,#ffec00,#fffb00,#fff000,#fff200,#ffec00,#ffe100,#ffe600,#ffdd00,#ffe400,#ffcc00,#ffda00,#ffc900,#ffbc00,#ffde00,#ffcf00,#ffc400,#ffb500,#ffbe00,#ffb300,#ffb800,#ffa800,#ffb200,#ff9c00,#ffb700,#ffa900,#ff8600,#ff8f00,#ff9300,#ff7500,#ff7b00,#ff7600,#ff7f00,#ff7300,#ff6f00,#ff7c00,#ff6200,#ff5f00,#ff4500,#ff3400,#ff3100,#ff1e00)"></i>
<i style="top:167.80px;height:2.67px;background:linear-gradient(90deg,#ff2900,#ff3b00,#ff5700,#ff6100,#ff6200,#ff6600,#ff6200,#ff6a00,#ff7400,#ff7c00,#ff6700,#ff7100,#ff7200,#ff7300,#ff7e00,#ff7500,#ff8900,#ff7800,#ff7d00,#ff6700,#ff7400,#ff7b00,#ff7900,#ff7600,#ff8400,#ff8200,#ff8400,#ff6f00,#ff8500,#ff9800,#ff8400,#ff7800,#ff9800,#ff7600,#ff9800,#ff9200,#ffa400,#ffa600,#ffb200,#ffb500,#ffc400,#ffad00,#ffc600,#ffbe00,#ffc400,#ffd200,#ffd100,#ffd700,#ffe000,#ffe000,#ffe500,#fff200,#fff900,#fff900,#fff500,#ffee00,#fff000,#fffc00,#fffa00,#fbff04,#fffc00,#f8ff07,#faff05,#f3ff0c,#f5ff0a,#fff800,#ecff13,#f7ff08,#f3ff0c,#fffc00,#fff300,#fbff04,#e9ff16,#fff600,#fff400,#faff05,#fff500,#fff100,#feff01,#ffe400,#ffe300,#ffe100,#ffe900,#ffe300,#ffdf00,#ffd200,#ffdb00,#ffc200,#ffc800,#ffda00,#ffb500,#ffbe00,#ffc000,#ffb600,#ffc200,#ffac00,#ffbe00,#ffad00,#ff9400,#ff9000,#ff9900,#ff9900,#ff8500,#ff8900,#ff8200,#ff7b00,#ff8600,#ff7200,#ff8600,#ff6200,#ff7500,#ff6300,#ff5600,#ff3900,#ff2600,#ff1700)"></i>
<i style="top:169.78px;height:2.67px;background:linear-gradient(90deg,#ff2700,#ff3e00,#ff5500,#ff7100,#ff7b00,#ff7e00,#ff6d00,#ff6f00,#ff6f00,#ff6c00,#ff7100,#ff7800,#ff7d00,#ff8100,#ff6800,#ff6c00,#ff8000,#ff7800,#ff7300,#ff6a00,#ff7e00,#ff7900,#ff7200,#ff8d00,#ff8600,#ff8200,#ff8900,#ff7300,#ff8000,#ff8800,#ff9500,#ff8800,#ff8d00,#ff9a00,#ff9d00,#ffaa00,#ffa200,#ff9f00,#ffa200,#ffab00,#ffae00,#ffbf00,#ffc400,#ffbb00,#ffc700,#ffd700,#ffd100,#ffd400,#ffda00,#ffe400,#ffee00,#ffeb00,#ffe400,#fff600,#feff01,#fffb00,#f3ff0c,#fcff03,#f6ff09,#feff01,#f5ff0a,#fcff03,#fff800,#f0ff0f,#ebff14,#f6ff09,#f2ff0d,#f5ff0a,#f0ff0f,#fbff04,#f9ff06,#e8ff17,#fbff04,#fffb00,#fff100,#fffd00,#fffc00,#ffe800,#fff400,#ffeb00,#ffe400,#ffdf00,#ffe200,#ffe800,#ffd200,#ffdb00,#ffd800,#ffbf00,#ffc500,#ffd100,#ffc900,#ffc200,#ffc200,#ffc800,#ffac00,#ffa800,#ffa800,#ffa800,#ff9e00,#ff9600,#ff9f00,#ff9500,#ff9200,#ff8300,#ff8300,#ff8c00,#ff8200,#ff6a00,#ff7d00,#ff6e00,#ff6e00,#ff5400,#ff5200,#ff4400,#ff3700,#ff1d00)"></i>
<i style="top:171.75px;height:2.67px;background:linear-gradient(90deg,#ff2500,#ff3d00,#ff6100,#ff5500,#ff6a00,#ff7400,#ff6c00,#ff7300,#ff7300,#ff7400,#ff7100,#ff7500,#ff8000,#ff6e00,#ff7800,#ff6a00,#ff7100,#ff7200,#ff7700,#ff6e00,#ff7e00,#ff8500,#ff7b00,#ff9600,#ff8400,#ff8100,#ff8900,#ff7d00,#ff8400,#ff8b00,#ff9200,#ff8800,#ff9b00,#ff9c00,#ff9600,#ff9b00,#ff9300,#ffab00,#ffbe00,#ffae00,#ffae00,#ffbf00,#ffb600,#ffba00,#ffd500,#ffd900,#ffe500,#ffdb00,#ffdf00,#ffe500,#fff900,#fffa00,#faff05,#f5ff0a,#f3ff0c,#eeff11,#f7ff08,#faff05,#f9ff06,#f2ff0d,#ebff14,#efff10,#f3ff0c,#ecff13,#efff10,#ecff13,#ebff14,#f1ff0e,#e9ff16,#fdff02,#e9ff16,#fcff03,#efff10,#fff400,#fff600,#fcff03,#fffb00,#fffe00,#fff200,#ffea00,#ffd500,#fff200,#ffd900,#ffe500,#ffda00,#ffd100,#ffd100,#ffce00,#ffcf00,#ffca00,#ffc400,#ffb700,#ffc900,#ffbd00,#ffbe00,#ffb700,#ffb100,#ff9c00,#ff8f00,#ff9100,#ffa100,#ff9200,#ff9800,#ff8600,#ff7b00,#ff7d00,#ff7700,#ff7b00,#ff8600,#ff8100,#ff6a00,#ff5b00,#ff4800,#ff4400,#ff2d00,#ff1a00)"></i>
<i style="top:173.72px;height:2.67px;background:linear-gradient(90deg,#ff2400,#ff4400,#ff6000,#ff5a00,#ff6600,#ff6900,#ff7900,#ff6f00,#ff7e00,#ff8100,#ff7300,#ff7500,#ff6e00,#ff6700,#ff7500,#ff6700,#ff7c00,#ff7200,#ff8400,#ff7a00,#ff7f00,#ff8000,#ff7b00,#ff9100,#ff8200,#ff8c00,#ff8600,#ff8600,#ff8f00,#ff9100,#ff9b00,#ff8f00,#ff9d00,#ff9700,#ffab00,#ff9800,#ffb000,#ffa300,#ffb500,#ffb200,#ffbd00,#ffbc00,#ffc800,#ffc300,#ffce00,#ffd300,#ffd100,#ffea00,#ffdf00,#ffee00,#feff01,#fff400,#fffe00,#fff200,#f6ff09,#f7ff08,#f6ff09,#e1ff1e,#f3ff0c,#e5ff1a,#f8ff07,#f9ff06,#eaff15,#ddff22,#ecff13,#edff12,#f2ff0d,#ebff14,#e5ff1a,#f0ff0f,#ebff14,#fffa00,#f2ff0d,#f5ff0a,#fdff02,#f7ff08,#fffd00,#fff700,#fff700,#fff200,#ffe200,#ffe500,#fff000,#ffe500,#ffd700,#ffdf00,#ffd600,#ffd300,#ffca00,#ffcc00,#ffc800,#ffc900,#ffbb00,#ffc100,#ffa600,#ffb000,#ffad00,#ffa000,#ffa200,#ff9c00,#ff9900,#ff9a00,#ff9700,#ff9100,#ff7d00,#ff8800,#ff8200,#ff7f00,#ff7100,#ff6100,#ff7200,#ff5c00,#ff5200,#ff4500,#ff2a00,#ff2700)"></i>
<i style="top:175.70px;height:2.67px;background:linear-gradient(90deg,#ff2700,#ff4200,#ff6000,#ff5600,#ff6300,#ff6400,#ff7b00,#ff7200,#ff7500,#ff6c00,#ff6700,#ff8300,#ff7300,#ff7600,#ff6d00,#ff7700,#ff8300,#ff7b00,#ff8400,#ff8300,#ff7e00,#ff8400,#ff7f00,#ff9000,#ff7200,#ff7c00,#ff8300,#ff9600,#ffa000,#ff9800,#ff9500,#ff8400,#ff8f00,#ffa200,#ff9800,#ff9c00,#ffab00,#ffa600,#ffb200,#ffc000,#ffca00,#ffc700,#ffc400,#ffdd00,#ffe500,#ffd900,#fffa00,#ffda00,#fff300,#ffee00,#ffea00,#f4ff0b,#f3ff0c,#fff300,#f2ff0d,#f0ff0f,#f1ff0e,#f5ff0a,#f5ff0a,#eaff15,#e5ff1a,#e6ff19,#e9ff16,#f1ff0e,#e8ff17,#f7ff08,#e1ff1e,#eeff11,#faff05,#f8ff07,#f3ff0c,#ebff14,#efff10,#f7ff08,#feff01,#fdff02,#f6ff09,#ffff00,#fff100,#ffea00,#fff900,#ffed00,#fff400,#ffe800,#ffc200,#ffdb00,#ffda00,#ffd900,#ffda00,#ffdb00,#ffc800,#ffc600,#ffb300,#ffc800,#ffb200,#ffa600,#ffbd00,#ffa200,#ffb000,#ff9900,#ff8d00,#ff9400,#ff8e00,#ff9100,#ff8500,#ff7a00,#ff8100,#ff7d00,#ff7400,#ff6c00,#ff7900,#ff6100,#ff5a00,#ff3f00,#ff2700,#ff1b00)"></i>
<i style="top:177.67px;height:2.67px;background:linear-gradient(90deg,#ff2400,#ff4d00,#ff5c00,#ff6d00,#ff6b00,#ff6d00,#ff7100,#ff7b00,#ff7200,#ff7600,#ff6e00,#ff7600,#ff6b00,#ff7400,#ff8700,#ff7a00,#ff8600,#ff7300,#ff7100,#ff7e00,#ff7c00,#ff8e00,#ff9600,#ff8a00,#ff8900,#ff9600,#ff8b00,#ff8b00,#ff8b00,#ff8600,#ff9000,#ff9d00,#ff9c00,#ff9c00,#ffae00,#ff9f00,#ffa700,#ffb600,#ffbf00,#ff9f00,#ffbe00,#ffc300,#ffc200,#ffcf00,#ffdb00,#ffdd00,#fff100,#ffe900,#fdff02,#fff600,#fffa00,#eeff11,#fff700,#e9ff16,#f8ff07,#e8ff17,#ecff13,#e2ff1d,#faff05,#edff12,#f2ff0d,#e9ff16,#e8ff17,#e3ff1c,#e1ff1e,#e9ff16,#e6ff19,#e5ff1a,#ddff22,#e8ff17,#f2ff0d,#ecff13,#f6ff09,#f5ff0a,#f0ff0f,#f5ff0a,#faff05,#fffd00,#fff900,#ffea00,#fff800,#fffd00,#ffe200,#ffe800,#ffe100,#ffc700,#ffcc00,#ffd000,#ffc900,#ffcc00,#ffc000,#ffc900,#ffc600,#ffbf00,#ffa900,#ffa500,#ffb200,#ff9e00,#ffa500,#ff9600,#ff9c00,#ff8d00,#ff9200,#ff8f00,#ff8900,#ff8300,#ff8600,#ff8800,#ff6a00,#ff7700,#ff7b00,#ff7500,#ff6d00,#ff4900,#ff2500,#ff2c00)"></i>
<i style="top:179.65px;height:2.67px;background:linear-gradient(90deg,#ff3200,#ff5500,#ff5000,#ff6200,#ff6900,#ff6400,#ff6300,#ff6900,#ff7700,#ff7e00,#ff7d00,#ff8400,#ff6700,#ff7900,#ff7700,#ff7800,#ff6a00,#ff8100,#ff7400,#ff7d00,#ff8300,#ff9300,#ff7d00,#ff8d00,#ff8d00,#ff8900,#ff8d00,#ff8700,#ff9900,#ff9500,#ff9700,#ff9c00,#ff9b00,#ffa700,#ff9f00,#ffb300,#ffbf00,#ffb800,#ffb300,#ffc800,#ffcf00,#ffd200,#ffd400,#ffdd00,#ffe000,#fff700,#ffe200,#ffef00,#fdff02,#fff400,#fdff02,#fffd00,#e7ff18,#fbff04,#eaff15,#d5ff2a,#eaff15,#dfff20,#d8ff27,#ddff22,#ceff31,#e2ff1d,#dcff23,#dbff24,#eaff15,#e0ff1f,#dbff24,#dbff24,#e4ff1b,#f0ff0f,#e5ff1a,#e4ff1b,#f8ff07,#f4ff0b,#f6ff09,#fff200,#f4ff0b,#fffb00,#f6ff09,#fff700,#ffec00,#ffe400,#fff400,#ffdf00,#ffdb00,#ffdf00,#ffc500,#ffd600,#ffd900,#ffca00,#ffd900,#ffb800,#ffb800,#ffc000,#ffb200,#ffae00,#ff9e00,#ffae00,#ffaf00,#ffb100,#ff9d00,#ffa300,#ff9300,#ff8a00,#ff8d00,#ff8e00,#ff7800,#ff8000,#ff7800,#ff6c00,#ff7800,#ff6b00,#ff4100,#ff4700,#ff3a00,#ff2200)"></i>
<i style="top:181.62px;height:2.67px;background:linear-gradient(90deg,#ff3600,#ff5100,#ff5e00,#ff6700,#ff6d00,#ff6c00,#ff8100,#ff8000,#ff6d00,#ff7800,#ff6b00,#ff7400,#ff8300,#ff7400,#ff8200,#ff7900,#ff7200,#ff6d00,#ff8000,#ff7c00,#ff8100,#ff7f00,#ff9d00,#ff8d00,#ff8900,#ff8a00,#ff9700,#ff8c00,#ff8d00,#ff9900,#ff9f00,#ffa300,#ffa300,#ff9f00,#ffa100,#ffb600,#ffbf00,#ffc300,#ffba00,#ffc700,#ffcc00,#ffd100,#ffd800,#ffe300,#fff100,#fff400,#fff400,#fff700,#fbff04,#f5ff0a,#ffff00,#ebff14,#ecff13,#e4ff1b,#dcff23,#d4ff2b,#d9ff26,#d5ff2a,#e1ff1e,#d0ff2f,#d5ff2a,#deff21,#d7ff28,#ddff22,#e1ff1e,#cdff32,#d9ff26,#d6ff29,#ecff13,#e2ff1d,#eaff15,#f7ff08,#eaff15,#f1ff0e,#f7ff08,#f5ff0a,#fff800,#fff800,#fff300,#fff700,#fff600,#fff200,#ffee00,#fff500,#ffe000,#ffd900,#ffdc00,#ffdc00,#ffd300,#ffcd00,#ffc800,#ffb800,#ffc900,#ffba00,#ffb300,#ffb300,#ffb100,#ffb300,#ffaa00,#ff9b00,#ff9000,#ff9d00,#ff8f00,#ff8a00,#ff8200,#ff8500,#ff8000,#ff7800,#ff8500,#ff7500,#ff7d00,#ff7500,#ff5e00,#ff5300,#ff2f00,#ff1900)"></i>
<i style="top:183.59px;height:2.67px;background:linear-gradient(90deg,#ff3500,#ff4a00,#ff5e00,#ff6a00,#ff6e00,#ff6f00,#ff7700,#ff7b00,#ff7a00,#ff7000,#ff7b00,#ff6c00,#ff7b00,#ff6f00,#ff8600,#ff8300,#ff7b00,#ff7c00,#ff8300,#ff7300,#ff8500,#ff8500,#ff8f00,#ff7f00,#ff8800,#ff8e00,#ffa100,#ff9400,#ff9e00,#ff9a00,#ff9900,#ffab00,#ffa700,#ffa600,#ffb000,#ffba00,#ffc500,#ffc700,#ffd200,#ffc600,#ffd400,#ffe500,#ffe200,#fff300,#f4ff0b,#ffeb00,#fff200,#f1ff0e,#f1ff0e,#f3ff0c,#e9ff16,#e1ff1e,#dfff20,#deff21,#d8ff27,#dcff23,#d6ff29,#cfff30,#d4ff2b,#c5ff3a,#deff21,#c4ff3b,#d2ff2d,#d6ff29,#d8ff27,#d8ff27,#e2ff1d,#d1ff2e,#dcff23,#e0ff1f,#deff21,#e1ff1e,#f4ff0b,#e7ff18,#edff12,#f2ff0d,#f7ff08,#feff01,#ffff00,#fff600,#fff400,#ffed00,#ffe200,#fff000,#ffd800,#ffe500,#ffd800,#ffd800,#ffd700,#ffe100,#ffbf00,#ffce00,#ffca00,#ffb600,#ffba00,#ffa600,#ffa300,#ffa600,#ffa500,#ff9c00,#ffa800,#ff9700,#ff9300,#ff9400,#ff8a00,#ff9400,#ff7d00,#ff7600,#ff8700,#ff7600,#ff6400,#ff6300,#ff6200,#ff5000,#ff2e00,#ff1400)"></i>
<i style="top:185.57px;height:2.67px;background:linear-gradient(90deg,#ff3d00,#ff4a00,#ff6400,#ff6c00,#ff6e00,#ff7400,#ff7b00,#ff6500,#ff7900,#ff7a00,#ff7000,#ff7a00,#ff7d00,#ff7500,#ff8600,#ff7900,#ff7900,#ff7d00,#ff8600,#ff8600,#ff9600,#ff8c00,#ff8a00,#ff8800,#ff9100,#ff9800,#ff9e00,#ff9b00,#ff9d00,#ff9700,#ffa500,#ffad00,#ffae00,#ffb600,#ffb900,#ffce00,#ffcf00,#ffd100,#ffca00,#ffd500,#ffda00,#ffd800,#fff100,#ffe600,#fff300,#fcff03,#fff700,#eaff15,#e6ff19,#e8ff17,#e8ff17,#dfff20,#cbff34,#d6ff29,#d5ff2a,#e7ff18,#dcff23,#d0ff2f,#c5ff3a,#cfff30,#c3ff3c,#ceff31,#d0ff2f,#caff35,#d1ff2e,#ceff31,#ceff31,#e1ff1e,#dcff23,#d8ff27,#d8ff27,#e3ff1c,#eaff15,#f0ff0f,#f9ff06,#f5ff0a,#edff12,#fff400,#fff700,#fff500,#ffed00,#ffff00,#fff200,#ffef00,#ffdd00,#ffec00,#ffe100,#ffce00,#ffd100,#ffd500,#ffbf00,#ffd400,#ffc100,#ffc200,#ffb800,#ffb900,#ffb900,#ffac00,#ffb300,#ff9f00,#ffa100,#ff9300,#ff9a00,#ff9700,#ff8b00,#ff8000,#ff9700,#ff8100,#ff7900,#ff8400,#ff7900,#ff6300,#ff6100,#ff4f00,#ff2800,#ff2c00)"></i>
<i style="top:187.54px;height:2.67px;background:linear-gradient(90deg,#ff3d00,#ff5f00,#ff6800,#ff7600,#ff6500,#ff6c00,#ff8200,#ff6900,#ff7300,#ff7c00,#ff7400,#ff7900,#ff8300,#ff8d00,#ff8700,#ff8200,#ff8600,#ff8b00,#ff7f00,#ff9200,#ff8400,#ff9100,#ff8f00,#ff9b00,#ff9500,#ff9e00,#ffa900,#ff9f00,#ffa200,#ff9f00,#ffa700,#ffb600,#ffb700,#ffcb00,#ffc600,#ffb800,#ffbc00,#ffc800,#ffd200,#ffd600,#ffde00,#fff600,#fff600,#ffed00,#fff400,#fcff03,#f1ff0e,#ebff14,#e3ff1c,#dbff24,#ceff31,#daff25,#d1ff2e,#cfff30,#dcff23,#d0ff2f,#c3ff3c,#ccff33,#baff45,#ceff31,#c8ff37,#c4ff3b,#cbff34,#d3ff2c,#c5ff3a,#c3ff3c,#deff21,#d0ff2f,#dfff20,#d1ff2e,#ddff22,#d8ff27,#e7ff18,#e3ff1c,#e4ff1b,#fbff04,#f5ff0a,#e7ff18,#f9ff06,#f8ff07,#faff05,#fffa00,#fff500,#ffed00,#ffef00,#fff400,#ffe500,#ffd500,#ffe300,#ffcf00,#ffcc00,#ffcf00,#ffc400,#ffc800,#ffc000,#ffc100,#ffb000,#ffa400,#ffaf00,#ff9b00,#ffb200,#ffa300,#ffa000,#ff8500,#ff9400,#ff8500,#ff9800,#ff8300,#ff7b00,#ff7b00,#ff8900,#ff6800,#ff5600,#ff4100,#ff3400,#ff3300)"></i>
<i style="top:189.52px;height:2.67px;background:linear-gradient(90deg,#ff3a00,#ff4700,#ff6800,#ff6900,#ff7900,#ff7700,#ff7300,#ff8000,#ff6400,#ff7b00,#ff7a00,#ff8400,#ff7f00,#ff8300,#ff8e00,#ff9000,#ff8300,#ff8800,#ff9f00,#ff9d00,#ff9000,#ff9100,#ff8e00,#ffa000,#ff9400,#ff9e00,#ffa300,#ffa400,#ff9e00,#ffa600,#ffa700,#ffb900,#ffba00,#ffc700,#ffc700,#ffcb00,#ffd200,#ffcf00,#ffd800,#ffdc00,#ffe800,#ffe700,#fff600,#fff600,#fdff02,#f8ff07,#ebff14,#dcff23,#d4ff2b,#eaff15,#d8ff27,#d4ff2b,#cbff34,#c5ff3a,#ddff22,#baff45,#c1ff3e,#c0ff3f,#b6ff49,#b4ff4b,#b9ff46,#bcff43,#bcff43,#c8ff37,#b9ff46,#c8ff37,#d4ff2b,#d2ff2d,#c5ff3a,#b9ff46,#dcff23,#ddff22,#d9ff26,#ecff13,#e3ff1c,#ecff13,#e7ff18,#f7ff08,#f5ff0a,#f9ff06,#fff300,#fff600,#feff01,#ffe900,#ffe400,#ffed00,#ffe500,#ffde00,#ffdc00,#ffd400,#ffcc00,#ffd100,#ffb700,#ffc900,#ffc300,#ffaa00,#ffa200,#ffb000,#ffad00,#ffaf00,#ff9900,#ff9c00,#ffa000,#ff9200,#ff8600,#ff8700,#ff7700,#ff7c00,#ff7e00,#ff7c00,#ff7000,#ff6100,#ff5700,#ff4400,#ff3700,#ff2100)"></i>
<i style="top:191.49px;height:2.67px;background:linear-gradient(90deg,#ff3100,#ff5200,#ff6e00,#ff6200,#ff7200,#ff7e00,#ff7a00,#ff7f00,#ff8b00,#ff8000,#ff8b00,#ff7f00,#ff8300,#ff7a00,#ff8600,#ff8300,#ff8a00,#ff8d00,#ff9700,#ff8600,#ff8f00,#ff9800,#ff9400,#ff9c00,#ffa200,#ff9e00,#ff9900,#ffa900,#ffb700,#ffb400,#ffa500,#ffbf00,#ffb400,#ffc500,#ffc300,#ffcf00,#ffe200,#ffdf00,#ffd100,#ffea00,#ffec00,#fffa00,#feff01,#fbff04,#f5ff0a,#fcff03,#e4ff1b,#dcff23,#d2ff2d,#c7ff38,#c0ff3f,#ceff31,#b5ff4a,#ccff33,#c5ff3a,#b9ff46,#b0ff4f,#b9ff46,#b8ff47,#c1ff3e,#b1ff4e,#b5ff4a,#b9ff46,#b9ff46,#b8ff47,#b1ff4e,#b5ff4a,#c0ff3f,#c7ff38,#d5ff2a,#e4ff1b,#e3ff1c,#ddff22,#edff12,#e2ff1d,#e3ff1c,#ffff00,#e9ff16,#f3ff0c,#f9ff06,#fff300,#ffff00,#ffef00,#fff400,#fff600,#ffe600,#ffe200,#ffe900,#ffe200,#ffdd00,#ffcb00,#ffca00,#ffc800,#ffc100,#ffc400,#ffb800,#ffbc00,#ffbd00,#ffb300,#ffa600,#ffa300,#ff9600,#ffa800,#ff9800,#ff8f00,#ff9600,#ff8900,#ff8a00,#ff8c00,#ff7400,#ff8200,#ff6400,#ff6300,#ff5600,#ff4200,#ff2f00)"></i>
<i style="top:193.47px;height:2.67px;background:linear-gradient(90deg,#ff4400,#ff5100,#ff7500,#ff6800,#ff7200,#ff7100,#ff8600,#ff9200,#ff8500,#ff8200,#ff7f00,#ff8700,#ff8500,#ff8400,#ff9300,#ff7a00,#ff9400,#ff8a00,#ff8600,#ff9700,#ff9400,#ff8900,#ff9c00,#ff9400,#ff9d00,#ffa200,#ffa100,#ffad00,#ffb100,#ffac00,#ffb700,#ffba00,#ffcd00,#ffc900,#ffc500,#ffce00,#ffd900,#ffe700,#ffee00,#ffed00,#ffec00,#ffff00,#fffc00,#eeff11,#f3ff0c,#daff25,#ddff22,#cdff32,#d5ff2a,#ceff31,#bdff42,#baff45,#b9ff46,#adff52,#aeff51,#adff52,#b8ff47,#bcff43,#adff52,#aeff51,#b2ff4d,#adff52,#b0ff4f,#bbff44,#b8ff47,#b9ff46,#b8ff47,#ccff33,#bfff40,#c9ff36,#c4ff3b,#ccff33,#d6ff29,#d7ff28,#e4ff1b,#e5ff1a,#deff21,#dcff23,#fcff03,#f4ff0b,#fff500,#fffc00,#fffe00,#ffee00,#fff000,#ffea00,#ffed00,#ffdc00,#ffd400,#ffdd00,#ffc500,#ffd400,#ffc900,#ffd400,#ffd100,#ffac00,#ffad00,#ffaa00,#ffbc00,#ffa800,#ffa200,#ffa000,#ff9a00,#ff9f00,#ff9500,#ff9900,#ff8f00,#ff8500,#ff8b00,#ff8100,#ff7b00,#ff6e00,#ff5900,#ff4e00,#ff3900,#ff3600)"></i>
<i style="top:195.44px;height:2.67px;background:linear-gradient(90deg,#ff4200,#ff4e00,#ff6f00,#ff7800,#ff8300,#ff7400,#ff8400,#ff8700,#ff7d00,#ff7a00,#ff8000,#ff7d00,#ff8400,#ff8900,#ff8d00,#ff8f00,#ff9200,#ff8c00,#ff9200,#ff9300,#ff9200,#ff9a00,#ffa800,#ffa600,#ffad00,#ffb700,#ffab00,#ffba00,#ffbf00,#ffc200,#ffb700,#ffc600,#ffc100,#ffd000,#ffd900,#ffd700,#ffde00,#ffe900,#fff900,#fffc00,#f5ff0a,#f5ff0a,#f0ff0f,#f4ff0b,#ecff13,#dfff20,#dbff24,#ceff31,#ddff22,#ceff31,#d2ff2d,#bbff44,#b7ff48,#b9ff46,#afff50,#aeff51,#a2ff5d,#b0ff4f,#a9ff56,#afff50,#a7ff58,#9cff63,#b0ff4f,#b7ff48,#a6ff59,#abff54,#b4ff4b,#b8ff47,#b0ff4f,#d1ff2e,#cfff30,#c7ff38,#c2ff3d,#d9ff26,#ecff13,#e8ff17,#f0ff0f,#e4ff1b,#f3ff0c,#eaff15,#fff300,#fffa00,#f3ff0c,#faff05,#ffec00,#ffeb00,#ffea00,#ffde00,#ffce00,#ffd700,#ffe400,#ffd300,#ffd700,#ffcf00,#ffc100,#ffc000,#ffc300,#ffb500,#ffb700,#ffa700,#ffa900,#ff9f00,#ffa000,#ff9300,#ff9700,#ff9200,#ff9300,#ff8900,#ff9400,#ff6b00,#ff7f00,#ff6f00,#ff6700,#ff5600,#ff3b00,#ff3000)"></i>
<i style="top:197.41px;height:2.67px;background:linear-gradient(90deg,#ff4500,#ff6300,#ff7200,#ff8100,#ff6f00,#ff8c00,#ff8b00,#ff8200,#ff7900,#ff9300,#ff9300,#ff8600,#ff8600,#ff9600,#ff9b00,#ff9600,#ff8a00,#ff9200,#ff8e00,#ff9800,#ff9a00,#ff9800,#ffa100,#ffa200,#ffaf00,#ffb100,#ffac00,#ffb600,#ffbf00,#ffb900,#ffbf00,#ffc900,#ffd600,#ffce00,#ffc800,#ffe900,#fff600,#fff700,#feff01,#f4ff0b,#edff12,#f6ff09,#eeff11,#ecff13,#deff21,#cdff32,#d3ff2c,#bfff40,#bbff44,#afff50,#bdff42,#b7ff48,#a7ff58,#a5ff5a,#a5ff5a,#a5ff5a,#a9ff56,#a1ff5e,#a4ff5b,#94ff6b,#9fff60,#94ff6b,#b3ff4c,#b2ff4d,#afff50,#b6ff49,#c1ff3e,#bcff43,#acff53,#bcff43,#afff50,#c1ff3e,#c3ff3c,#d2ff2d,#dbff24,#d6ff29,#e1ff1e,#ebff14,#edff12,#f2ff0d,#e5ff1a,#faff05,#fff500,#fff500,#fffe00,#fff000,#ffe700,#ffed00,#ffdb00,#ffe300,#ffda00,#ffd400,#ffbc00,#ffcd00,#ffca00,#ffbb00,#ffc000,#ffb500,#ffc400,#ffab00,#ffa900,#ffaf00,#ff9500,#ff9d00,#ff9900,#ff9e00,#ff9d00,#ff9100,#ff9400,#ff7e00,#ff7400,#ff7700,#ff7200,#ff5700,#ff4800,#ff2d00)"></i>
<i style="top:199.39px;height:2.67px;background:linear-gradient(90deg,#ff4200,#ff5e00,#ff6d00,#ff7100,#ff7200,#ff8800,#ff7f00,#ff8800,#ff9000,#ff7d00,#ff8600,#ff8900,#ff8800,#ff8e00,#ff9700,#ff8200,#ff8b00,#ff9300,#ff8f00,#ff8f00,#ff9f00,#ff9b00,#ffa600,#ffa200,#ffae00,#ff9c00,#ffb700,#ffb500,#ffba00,#ffc600,#ffc200,#ffd000,#ffd900,#ffdc00,#ffe900,#ffe000,#ffec00,#fff000,#f3ff0c,#f8ff07,#e8ff17,#e7ff18,#e9ff16,#d9ff26,#ceff31,#d2ff2d,#caff35,#caff35,#a6ff59,#b2ff4d,#a7ff58,#9fff60,#a4ff5b,#96ff69,#8bff74,#94ff6b,#97ff68,#a8ff57,#93ff6c,#90ff6f,#8aff75,#99ff66,#9cff63,#a1ff5e,#97ff68,#a0ff5f,#98ff67,#b0ff4f,#a7ff58,#a2ff5d,#c7ff38,#c7ff38,#cbff34,#d1ff2e,#ccff33,#e3ff1c,#d7ff28,#f5ff0a,#edff12,#e2ff1d,#fdff02,#fff300,#feff01,#fff000,#fff600,#fff500,#feff01,#ffdc00,#ffe600,#ffdb00,#ffe200,#ffdc00,#ffc700,#ffcf00,#ffca00,#ffcc00,#ffbc00,#ffb200,#ffb700,#ffb000,#ffb400,#ff9a00,#ffa600,#ff9e00,#ff8b00,#ff9700,#ff9e00,#ff9500,#ff8c00,#ff7500,#ff7b00,#ff7500,#ff5f00,#ff4a00,#ff4800,#ff2400)"></i>
<i style="top:201.36px;height:2.67px;background:linear-gradient(90deg,#ff3f00,#ff5900,#ff8300,#ff7a00,#ff7700,#ff8800,#ff7400,#ff8800,#ff9200,#ff8500,#ff8900,#ff8500,#ff8f00,#ff8400,#ff9500,#ff9200,#ff9f00,#ff9e00,#ff9800,#ffa200,#ffa300,#ffa500,#ffa500,#ffa400,#ffa900,#ffab00,#ffb700,#ffc200,#ffd000,#ffcb00,#ffd500,#ffe400,#ffcd00,#fff100,#ffe600,#ffeb00,#fff900,#ffea00,#f7ff08,#e9ff16,#f6ff09,#d9ff26,#cbff34,#c7ff38,#c3ff3c,#c1ff3e,#bdff42,#a7ff58,#b0ff4f,#baff45,#9dff62,#9dff62,#a0ff5f,#a2ff5d,#90ff6f,#8bff74,#8aff75,#9bff64,#99ff66,#80ff7f,#81ff7e,#8bff74,#8bff74,#9dff62,#9fff60,#b1ff4e,#acff53,#abff54,#b8ff47,#acff53,#aeff51,#bfff40,#cdff32,#bdff42,#d8ff27,#deff21,#d9ff26,#e4ff1b,#e7ff18,#efff10,#fbff04,#f3ff0c,#fff700,#fff300,#ffee00,#fdff02,#fffc00,#ffe200,#ffe800,#ffe500,#ffe100,#ffe100,#ffd400,#ffd300,#ffce00,#ffbf00,#ffc800,#ffb000,#ffc700,#ff9b00,#ffb700,#ffa200,#ff9b00,#ff9e00,#ff9400,#ff9700,#ffa100,#ff8c00,#ff8100,#ff8a00,#ff8c00,#ff7a00,#ff6500,#ff5400,#ff3a00,#ff2c00)"></i>
<i style="top:203.34px;height:2.67px;background:linear-gradient(90deg,#ff4400,#ff6f00,#ff5f00,#ff7e00,#ff7d00,#ff8b00,#ff8b00,#ff8a00,#ff7e00,#ff8000,#ff8800,#ff7e00,#ff9300,#ff8d00,#ff9700,#ff8a00,#ff9700,#ff9100,#ff8e00,#ffb000,#ff9000,#ffa300,#ffac00,#ffbe00,#ffb500,#ffca00,#ffbb00,#ffc300,#ffb800,#ffd000,#ffca00,#ffd000,#ffcf00,#ffea00,#ffe800,#fbff04,#f7ff08,#f6ff09,#f0ff0f,#deff21,#dcff23,#deff21,#ccff33,#c7ff38,#b9ff46,#c5ff3a,#c1ff3e,#adff52,#a5ff5a,#aeff51,#9fff60,#91ff6e,#88ff77,#8bff74,#a0ff5f,#87ff78,#a3ff5c,#8aff75,#89ff76,#96ff69,#8bff74,#92ff6d,#88ff77,#89ff76,#91ff6e,#9dff62,#9aff65,#94ff6b,#aeff51,#aeff51,#b3ff4c,#b6ff49,#aeff51,#d5ff2a,#caff35,#d9ff26,#e6ff19,#eaff15,#e8ff17,#edff12,#f5ff0a,#ffff00,#fffc00,#feff01,#fff300,#ffef00,#ffe800,#ffe800,#ffd900,#ffdf00,#ffd400,#ffd700,#ffd800,#ffd600,#ffcb00,#ffc000,#ffb500,#ffbc00,#ffbb00,#ffb600,#ffa200,#ffa700,#ffa800,#ff9900,#ffa700,#ff9700,#ff9400,#ff9100,#ff9600,#ff7e00,#ff7100,#ff8100,#ff6800,#ff5200,#ff3100,#ff3500)"></i>
<i style="top:205.31px;height:2.67px;background:linear-gradient(90deg,#ff5200,#ff6100,#ff6300,#ff7f00,#ff8400,#ff7b00,#ff9d00,#ff9f00,#ff8600,#ff8800,#ff9b00,#ff8c00,#ff9100,#ff9100,#ff9c00,#ff9b00,#ffa000,#ff9b00,#ffa000,#ff9300,#ffa000,#ffb600,#ffa900,#ffa500,#ffb300,#ffb100,#ffc000,#ffc000,#ffd300,#ffcb00,#ffe400,#ffd400,#fff200,#ffff00,#fff000,#fffe00,#fbff04,#f5ff0a,#e9ff16,#daff25,#dbff24,#d4ff2b,#cdff32,#d1ff2e,#b3ff4c,#b2ff4d,#afff50,#a1ff5e,#94ff6b,#94ff6b,#9dff62,#8dff72,#91ff6e,#83ff7c,#8aff75,#7fff80,#7dff82,#85ff7a,#84ff7b,#91ff6e,#79ff86,#8dff72,#98ff67,#9aff65,#8fff70,#90ff6f,#97ff68,#a2ff5d,#a7ff58,#aeff51,#b6ff49,#aeff51,#b4ff4b,#baff45,#c0ff3f,#d0ff2f,#daff25,#f3ff0c,#e9ff16,#ebff14,#fcff03,#f0ff0f,#feff01,#fff600,#fff200,#fff000,#fff200,#fff500,#ffe700,#ffe700,#ffd700,#ffda00,#ffcf00,#ffdd00,#ffc300,#ffcd00,#ffce00,#ffc800,#ffbd00,#ffa900,#ffa800,#ffb300,#ffa400,#ffa200,#ffaa00,#ffa100,#ffa600,#ff9900,#ffa300,#ff8f00,#ff8900,#ff7e00,#ff7100,#ff4f00,#ff4800,#ff3100)"></i>
<i style="top:207.28px;height:2.67px;background:linear-gradient(90deg,#ff4600,#ff5b00,#ff7000,#ff8700,#ff9200,#ff9200,#ff9100,#ff8e00,#ff9000,#ff8700,#ff9200,#ff8300,#ff8b00,#ff9900,#ff9000,#ffb100,#ff9000,#ff9a00,#ff9d00,#ffb200,#ff9200,#ffad00,#ffb000,#ffaa00,#ffba00,#ffc500,#ffbe00,#ffd200,#ffc900,#ffd500,#ffd300,#ffee00,#ffe000,#fff000,#ffe900,#f7ff08,#fffa00,#f2ff0d,#eaff15,#d5ff2a,#d7ff28,#d0ff2f,#bbff44,#b0ff4f,#acff53,#b7ff48,#a5ff5a,#a5ff5a,#9aff65,#93ff6c,#8fff70,#85ff7a,#8fff70,#84ff7b,#82ff7d,#73ff8c,#80ff7f,#78ff87,#7aff85,#87ff78,#77ff88,#81ff7e,#8bff74,#92ff6d,#88ff77,#94ff6b,#98ff67,#92ff6d,#8fff70,#97ff68,#b2ff4d,#b5ff4a,#afff50,#bcff43,#c5ff3a,#ccff33,#d5ff2a,#eeff11,#dcff23,#eaff15,#e8ff17,#efff10,#f2ff0d,#fdff02,#ffff00,#fff200,#ffef00,#fff300,#ffd700,#ffed00,#ffdb00,#ffc800,#ffdb00,#ffc600,#ffc000,#ffc400,#ffd200,#ffb200,#ffb800,#ffb900,#ffa500,#ffb100,#ff9d00,#ffa700,#ff9a00,#ffa300,#ff9a00,#ff9a00,#ff9400,#ff8800,#ff8300,#ff7700,#ff6000,#ff5b00,#ff5600,#ff3700)"></i>
<i style="top:209.26px;height:2.67px;background:linear-gradient(90deg,#ff4d00,#ff5c00,#ff6f00,#ff7c00,#ff8c00,#ff8800,#ff9b00,#ff8500,#ff8d00,#ff8e00,#ff9600,#ff9300,#ff9b00,#ff9200,#ffa400,#ff9300,#ff9900,#ff8f00,#ffa300,#ffa700,#ffa800,#ffad00,#ffb300,#ffc000,#ffc500,#ffc600,#ffc900,#ffd600,#ffdd00,#ffdc00,#ffda00,#ffe900,#ffe900,#ffef00,#fff800,#f4ff0b,#ebff14,#d7ff28,#d8ff27,#d9ff26,#c4ff3b,#d0ff2f,#c8ff37,#b1ff4e,#b4ff4b,#99ff66,#95ff6a,#94ff6b,#91ff6e,#8aff75,#80ff7f,#93ff6c,#81ff7e,#7fff80,#80ff7f,#7aff85,#76ff89,#73ff8c,#6aff95,#86ff79,#73ff8c,#70ff8f,#7aff85,#77ff88,#99ff66,#90ff6f,#9dff62,#a3ff5c,#a2ff5d,#a8ff57,#a4ff5b,#b0ff4f,#b2ff4d,#bfff40,#bfff40,#d7ff28,#daff25,#d9ff26,#d3ff2c,#ecff13,#f4ff0b,#f2ff0d,#eeff11,#fffd00,#fff300,#f8ff07,#ffed00,#fffc00,#ffe800,#ffd500,#ffdf00,#ffd700,#ffd900,#ffd200,#ffba00,#ffbd00,#ffc600,#ffc200,#ffba00,#ffa300,#ffaf00,#ffa300,#ffaa00,#ffae00,#ff9400,#ff9c00,#ff9e00,#ff9a00,#ff9500,#ff8f00,#ff9000,#ff6f00,#ff6900,#ff5300,#ff4a00,#ff3300)"></i>
<i style="top:211.23px;height:2.67px;background:linear-gradient(90deg,#ff4e00,#ff5c00,#ff7200,#ff8200,#ff9100,#ff9900,#ff9700,#ff9700,#ff9700,#ff9e00,#ff8700,#ff9300,#ffa800,#ffa200,#ffa500,#ff9a00,#ff9600,#ffaa00,#ff9f00,#ffaa00,#ffa200,#ffa400,#ffb100,#ffb300,#ffbe00,#ffc700,#ffd300,#ffcd00,#ffd700,#ffe000,#ffe500,#ffed00,#fffc00,#ffff00,#fffa00,#f1ff0e,#f6ff09,#d8ff27,#ceff31,#d1ff2e,#ceff31,#baff45,#bcff43,#b6ff49,#b0ff4f,#9eff61,#98ff67,#84ff7b,#8cff73,#88ff77,#8dff72,#72ff8d,#73ff8c,#6eff91,#7cff83,#5effa1,#6aff95,#84ff7b,#79ff86,#69ff96,#76ff89,#80ff7f,#80ff7f,#7eff81,#7dff82,#8fff70,#8eff71,#9aff65,#9dff62,#9cff63,#b3ff4c,#aaff55,#b8ff47,#b7ff48,#c1ff3e,#c8ff37,#ccff33,#daff25,#eaff15,#f5ff0a,#f7ff08,#f0ff0f,#fffb00,#fffe00,#ffee00,#fcff03,#ffe700,#fff300,#ffe000,#ffe900,#ffd900,#ffde00,#ffe700,#ffdb00,#ffd000,#ffc900,#ffd700,#ffca00,#ffc100,#ffb800,#ffb000,#ffb400,#ffb500,#ffa200,#ffa300,#ff9500,#ff9d00,#ff8f00,#ff9800,#ff8900,#ff8300,#ff7700,#ff7500,#ff5d00,#ff4f00,#ff3800)"></i>
<i style="top:213.21px;height:2.67px;background:linear-gradient(90deg,#ff4c00,#ff4f00,#ff7a00,#ff8100,#ff8c00,#ff8700,#ff8e00,#ff8b00,#ff9100,#ff8100,#ff8a00,#ffa500,#ff9600,#ff9900,#ffae00,#ffa500,#ffa400,#ffa900,#ffa500,#ffb800,#ffa700,#ffab00,#ffb300,#ffbd00,#ffc000,#ffca00,#ffc200,#ffce00,#ffc800,#ffe300,#ffdb00,#fff300,#fff800,#f7ff08,#fbff04,#eeff11,#ebff14,#eaff15,#d4ff2b,#cfff30,#cbff34,#baff45,#aeff51,#adff52,#a6ff59,#a1ff5e,#9aff65,#87ff78,#8aff75,#8bff74,#79ff86,#7bff84,#70ff8f,#74ff8b,#7eff81,#70ff8f,#66ff99,#71ff8e,#71ff8e,#79ff86,#67ff98,#6dff92,#77ff88,#6fff90,#8aff75,#75ff8a,#84ff7b,#84ff7b,#91ff6e,#a4ff5b,#a9ff56,#b3ff4c,#b7ff48,#a9ff56,#c4ff3b,#b9ff46,#cbff34,#d3ff2c,#d9ff26,#e8ff17,#e4ff1b,#feff01,#fbff04,#fff900,#fff700,#fff100,#fff400,#ffdf00,#fff300,#ffe200,#ffe100,#ffdf00,#ffd600,#ffda00,#ffc800,#ffc400,#ffc500,#ffba00,#ffc400,#ffc600,#ffb700,#ffb000,#ff9500,#ffa700,#ff9900,#ff9600,#ff8800,#ff9500,#ff8c00,#ff8e00,#ff8c00,#ff8300,#ff7400,#ff5100,#ff4700,#ff3900)"></i>
<i style="top:215.18px;height:2.67px;background:linear-gradient(90deg,#ff5200,#ff6d00,#ff7c00,#ff8800,#ff8900,#ff8a00,#ffa100,#ff9200,#ff8a00,#ff9e00,#ff9900,#ff9700,#ff9000,#ff9600,#ff9f00,#ff9b00,#ff9900,#ffa100,#ff9800,#ffa700,#ffb700,#ffb900,#ffb800,#ffbe00,#ffbd00,#ffc500,#ffc000,#ffce00,#ffcf00,#ffe800,#ffed00,#ffec00,#fff900,#fffc00,#f6ff09,#e7ff18,#f1ff0e,#e3ff1c,#c5ff3a,#c3ff3c,#c0ff3f,#bcff43,#aeff51,#9bff64,#a5ff5a,#95ff6a,#99ff66,#8bff74,#8bff74,#84ff7b,#80ff7f,#70ff8f,#79ff86,#70ff8f,#62ff9d,#68ff97,#68ff97,#6eff91,#71ff8e,#64ff9b,#75ff8a,#71ff8e,#6cff93,#80ff7f,#77ff88,#79ff86,#8eff71,#95ff6a,#8fff70,#a4ff5b,#aaff55,#a5ff5a,#c1ff3e,#b8ff47,#c1ff3e,#b4ff4b,#d4ff2b,#d0ff2f,#e0ff1f,#d5ff2a,#f3ff0c,#fbff04,#fff900,#e3ff1c,#fff900,#fff600,#f1ff0e,#fff500,#ffec00,#ffdb00,#ffe900,#ffdc00,#ffd900,#ffd100,#ffd300,#ffc300,#ffbe00,#ffcc00,#ffb300,#ffbd00,#ffb500,#ffa500,#ffa900,#ffa100,#ff9b00,#ff9900,#ff9e00,#ff9e00,#ff8c00,#ff8600,#ff8200,#ff7d00,#ff6700,#ff5d00,#ff5500,#ff3500)"></i>
<i style="top:217.16px;height:2.67px;background:linear-gradient(90deg,#ff4f00,#ff6300,#ff8300,#ff8f00,#ff8c00,#ff9600,#ff9400,#ff8d00,#ff9200,#ff8700,#ff9500,#ff8b00,#ff9100,#ff8700,#ff9d00,#ffa000,#ff9700,#ffa900,#ffab00,#ffa900,#ffac00,#ffbf00,#ffb600,#ffc000,#ffc300,#ffc700,#ffd000,#ffcd00,#ffd800,#ffe500,#ffeb00,#ffeb00,#fff500,#fff900,#f1ff0e,#ebff14,#f1ff0e,#d8ff27,#ddff22,#cdff32,#baff45,#a9ff56,#b1ff4e,#9eff61,#96ff69,#86ff79,#97ff68,#87ff78,#81ff7e,#7eff81,#78ff87,#73ff8c,#73ff8c,#6aff95,#55ffaa,#6fff90,#6cff93,#69ff96,#76ff89,#5fffa0,#56ffa9,#7cff83,#77ff88,#6aff95,#78ff87,#86ff79,#7dff82,#91ff6e,#a4ff5b,#a5ff5a,#a1ff5e,#abff54,#a8ff57,#b8ff47,#bcff43,#beff41,#c3ff3c,#e5ff1a,#ddff22,#dbff24,#e6ff19,#fbff04,#fffc00,#f6ff09,#fffc00,#fff200,#fff700,#fff900,#fff300,#ffe600,#ffe800,#ffe800,#ffdb00,#ffcd00,#ffca00,#ffcc00,#ffb600,#ffc700,#ffbd00,#ffc200,#ffac00,#ffaf00,#ffb700,#ffac00,#ff9300,#ff9800,#ff9900,#ff8f00,#ff9f00,#ff9300,#ff9000,#ff8200,#ff7100,#ff5900,#ff4200,#ff3000)"></i>
<i style="top:219.13px;height:2.67px;background:linear-gradient(90deg,#ff3d00,#ff6d00,#ff7d00,#ff8500,#ff9600,#ff9500,#ff9100,#ff9c00,#ff9200,#ff8d00,#ffa100,#ffab00,#ff9a00,#ffa400,#ff9c00,#ffa300,#ffa000,#ff9c00,#ffa200,#ffaf00,#ffb900,#ffc800,#ffca00,#ffc400,#ffc300,#ffcf00,#ffd500,#ffe400,#ffeb00,#fff300,#ffe800,#f9ff06,#fff700,#f1ff0e,#f4ff0b,#e9ff16,#e5ff1a,#dfff20,#c6ff39,#bcff43,#b7ff48,#abff54,#afff50,#a0ff5f,#99ff66,#95ff6a,#86ff79,#8cff73,#6eff91,#7aff85,#77ff88,#69ff96,#66ff99,#70ff8f,#64ff9b,#56ffa9,#5affa5,#6eff91,#5fffa0,#72ff8d,#75ff8a,#6bff94,#75ff8a,#6eff91,#76ff89,#79ff86,#89ff76,#80ff7f,#90ff6f,#98ff67,#a3ff5c,#95ff6a,#9fff60,#aeff51,#bbff44,#c6ff39,#ceff31,#e4ff1b,#e0ff1f,#e6ff19,#e4ff1b,#f4ff0b,#f9ff06,#ffff00,#feff01,#fff500,#ffe900,#fff700,#fffe00,#ffe100,#ffdd00,#ffe000,#ffde00,#ffbf00,#ffd500,#ffd600,#ffcb00,#ffbe00,#ffc300,#ffbc00,#ffb200,#ffb300,#ffaa00,#ffa700,#ffab00,#ff9e00,#ffa500,#ff9000,#ff9b00,#ff9000,#ff9500,#ff8100,#ff7a00,#ff5300,#ff4c00,#ff3500)"></i>
<i style="top:221.10px;height:2.67px;background:linear-gradient(90deg,#ff6300,#ff7500,#ff7f00,#ff9500,#ff8800,#ff9700,#ff9400,#ff9400,#ff9900,#ff9200,#ff9f00,#ff9700,#ff9200,#ff9c00,#ff9e00,#ffa400,#ffa300,#ffa100,#ffac00,#ffbb00,#ffb000,#ffb700,#ffb700,#ffbf00,#ffb900,#ffd500,#ffda00,#ffd300,#ffe800,#ffe400,#ffef00,#f7ff08,#fffa00,#fffc00,#f0ff0f,#daff25,#e3ff1c,#cbff34,#c9ff36,#c5ff3a,#b2ff4d,#a2ff5d,#a6ff59,#9eff61,#90ff6f,#89ff76,#8eff71,#81ff7e,#77ff88,#71ff8e,#72ff8d,#6eff91,#68ff97,#5cffa3,#62ff9d,#5fffa0,#64ff9b,#6dff92,#6cff93,#6bff94,#69ff96,#69ff96,#71ff8e,#6fff90,#75ff8a,#76ff89,#82ff7d,#88ff77,#9eff61,#9bff64,#9bff64,#abff54,#a9ff56,#bcff43,#c2ff3d,#dbff24,#c3ff3c,#d2ff2d,#d9ff26,#e3ff1c,#edff12,#e5ff1a,#edff12,#fbff04,#fff800,#faff05,#fcff03,#ffe800,#ffe600,#ffe000,#ffeb00,#ffe100,#ffd900,#ffd200,#ffd200,#ffcd00,#ffc000,#ffc600,#ffc200,#ffbd00,#ffb900,#ffaf00,#ffad00,#ffab00,#ff9800,#ff9d00,#ff9e00,#ff8e00,#ff9800,#ff8e00,#ff8800,#ff8200,#ff7300,#ff5e00,#ff5700,#ff3d00)"></i>
<i style="top:223.08px;height:2.67px;background:linear-gradient(90deg,#ff5300,#ff6900,#ff7c00,#ff7800,#ff8c00,#ff9600,#ff9700,#ff9700,#ff9400,#ff9b00,#ff8e00,#ffa300,#ff9700,#ff9a00,#ffa800,#ff9d00,#ffa000,#ffac00,#ff9800,#ffa800,#ffb400,#ffba00,#ffc100,#ffbe00,#ffc500,#ffd700,#ffdb00,#ffdf00,#ffe400,#ffeb00,#fff500,#fff300,#fff800,#f6ff09,#dcff23,#e3ff1c,#e0ff1f,#d2ff2d,#cbff34,#c1ff3e,#acff53,#9bff64,#abff54,#99ff66,#99ff66,#8bff74,#85ff7a,#8bff74,#71ff8e,#74ff8b,#67ff98,#6cff93,#6cff93,#6bff94,#65ff9a,#58ffa7,#64ff9b,#69ff96,#6bff94,#76ff89,#6cff93,#62ff9d,#6aff95,#73ff8c,#7fff80,#73ff8c,#89ff76,#8dff72,#88ff77,#9aff65,#97ff68,#a4ff5b,#aaff55,#b6ff49,#b2ff4d,#c7ff38,#baff45,#cfff30,#d5ff2a,#ecff13,#ebff14,#e9ff16,#ecff13,#f9ff06,#f9ff06,#ffea00,#f2ff0d,#fff100,#feff01,#ffe000,#ffea00,#ffd300,#ffdf00,#ffce00,#ffd000,#ffc400,#ffc800,#ffda00,#ffc400,#ffc600,#ffad00,#ffac00,#ffac00,#ffa400,#ffa200,#ffa400,#ff8d00,#ff9600,#ff9500,#ff9a00,#ff8c00,#ff7e00,#ff7200,#ff6300,#ff4c00,#ff4300)"></i>
<i style="top:225.05px;height:2.67px;background:linear-gradient(90deg,#ff5500,#ff7700,#ff8500,#ff9100,#ff8b00,#ff9100,#ff9600,#ffa000,#ff9b00,#ff9300,#ff9000,#ffa600,#ffa000,#ff9d00,#ff9d00,#ffa200,#ff9f00,#ffb200,#ff9e00,#ffb700,#ffb200,#ffb200,#ffb200,#ffba00,#ffbf00,#ffc200,#ffd400,#ffd400,#ffd500,#ffee00,#fffb00,#feff01,#fff500,#ffff00,#eaff15,#e6ff19,#deff21,#daff25,#baff45,#bbff44,#b5ff4a,#b0ff4f,#a6ff59,#9aff65,#97ff68,#79ff86,#9eff61,#86ff79,#80ff7f,#6fff90,#72ff8d,#7bff84,#76ff89,#66ff99,#5affa5,#63ff9c,#5fffa0,#69ff96,#59ffa6,#63ff9c,#69ff96,#66ff99,#76ff89,#69ff96,#6dff92,#79ff86,#88ff77,#85ff7a,#8aff75,#9cff63,#9fff60,#a0ff5f,#adff52,#b2ff4d,#c0ff3f,#c4ff3b,#c5ff3a,#ceff31,#d6ff29,#e3ff1c,#eaff15,#e6ff19,#f1ff0e,#fbff04,#fff800,#fff900,#ffe700,#fff100,#ffe700,#ffeb00,#ffec00,#ffde00,#ffd700,#ffd400,#ffd000,#ffcf00,#ffce00,#ffc500,#ffbb00,#ffb200,#ffce00,#ffab00,#ffa300,#ff9e00,#ffa100,#ff9a00,#ff9f00,#ff9900,#ff9000,#ff9700,#ff8e00,#ff7c00,#ff7b00,#ff5f00,#ff5700,#ff3800)"></i>
<i style="top:227.03px;height:1.97px;background:linear-gradient(90deg,#ff5500,#ff7000,#ff8600,#ff8f00,#ffa300,#ff9800,#ff9500,#ff8e00,#ff9c00,#ff9a00,#ff8f00,#ff8d00,#ffa000,#ff9600,#ff9700,#ff9e00,#ffac00,#ffaf00,#ffa600,#ff9c00,#ffb300,#ffaa00,#ffac00,#ffca00,#ffcb00,#ffc100,#ffcb00,#ffd500,#ffe100,#ffe300,#fff500,#ffe500,#f5ff0a,#e7ff18,#edff12,#efff10,#d7ff28,#d1ff2e,#c0ff3f,#bfff40,#aeff51,#a6ff59,#99ff66,#98ff67,#a3ff5c,#8cff73,#87ff78,#91ff6e,#74ff8b,#6cff93,#73ff8c,#61ff9e,#6aff95,#6eff91,#5affa5,#5effa1,#6fff90,#59ffa6,#5dffa2,#66ff99,#64ff9b,#63ff9c,#7aff85,#6dff92,#79ff86,#78ff87,#7fff80,#7dff82,#95ff6a,#92ff6d,#a7ff58,#9bff64,#a8ff57,#b7ff48,#bcff43,#beff41,#caff35,#c8ff37,#daff25,#cbff34,#e8ff17,#f7ff08,#faff05,#ffff00,#faff05,#fff700,#fff900,#fff200,#ffee00,#fbff04,#ffdd00,#ffdc00,#ffd400,#ffde00,#ffcc00,#ffc900,#ffda00,#ffd100,#ffbe00,#ffbf00,#ffb500,#ffb500,#ffa000,#ffb700,#ffae00,#ffa700,#ffa700,#ff9d00,#ff9400,#ff9900,#ff8500,#ff7300,#ff6800,#ff5000,#ff4300,#ff3a00)"></i>
</div>
<div class="cb" style="left:1px;top:244.9px;width:233.2px;height:21.8px"></div>
<div class="cb" style="left:405.3px;top:244.7px;width:233.2px;height:21.8px"></div>
<svg width="729" height="788" viewBox="0 0 729 788">
<g stroke="#000" stroke-opacity="0.55" stroke-width="0.8">
<path d="M29.95 266.6v-3"/>
<path d="M58.90 266.6v-3"/>
<path d="M87.85 266.6v-3"/>
<path d="M116.80 266.6v-3"/>
<path d="M145.75 266.6v-3"/>
<path d="M174.70 266.6v-3"/>
<path d="M203.65 266.6v-3"/>
<path d="M434.25 266.6v-3"/>
<path d="M463.20 266.6v-3"/>
<path d="M492.15 266.6v-3"/>
<path d="M521.10 266.6v-3"/>
<path d="M550.05 266.6v-3"/>
<path d="M579.00 266.6v-3"/>
<path d="M607.95 266.6v-3"/>
</g>
<g fill="#000">
<rect x="242.0" y="8.7" width="9.9" height="45.4"/>
<rect x="242.0" y="99.5" width="9.9" height="45.4"/>
<rect x="242.0" y="190.3" width="9.9" height="45.4"/>
<rect x="242.0" y="8.7" width="1.9" height="227.0"/>
<rect x="250.0" y="8.7" width="1.9" height="227.0"/>
<rect x="250.9" y="8.70" width="7.1" height="1.7"/>
<rect x="250.9" y="53.25" width="7.1" height="1.7"/>
<rect x="250.9" y="98.65" width="7.1" height="1.7"/>
<rect x="250.9" y="144.05" width="7.1" height="1.7"/>
<rect x="250.9" y="189.45" width="7.1" height="1.7"/>
<rect x="250.9" y="234.00" width="7.1" height="1.7"/>
</g>
<g fill="#000">
<rect x="646.2" y="8.7" width="9.9" height="45.4"/>
<rect x="646.2" y="99.5" width="9.9" height="45.4"/>
<rect x="646.2" y="190.3" width="9.9" height="45.4"/>
<rect x="646.2" y="8.7" width="1.9" height="227.0"/>
<rect x="654.2" y="8.7" width="1.9" height="227.0"/>
<rect x="655.1" y="8.70" width="7.1" height="1.7"/>
<rect x="655.1" y="53.25" width="7.1" height="1.7"/>
<rect x="655.1" y="98.65" width="7.1" height="1.7"/>
<rect x="655.1" y="144.05" width="7.1" height="1.7"/>
<rect x="655.1" y="189.45" width="7.1" height="1.7"/>
<rect x="655.1" y="234.00" width="7.1" height="1.7"/>
</g>
<g fill="#0a0a0a" stroke="#0a0a0a" stroke-width="0.3">
<text transform="translate(263.40 15.00) scale(1.035 1)" font-size="19.50" text-anchor="start">10 mm</text>
<text transform="translate(272.70 240.70) scale(1.035 1)" font-size="19.50" text-anchor="start">0 mm</text>
<text transform="translate(668.00 15.00) scale(1.035 1)" font-size="19.50" text-anchor="start">10 mm</text>
<text transform="translate(677.30 240.70) scale(1.035 1)" font-size="19.50" text-anchor="start">0 mm</text>
<text transform="translate(6.00 286.90) scale(1.050 1)" font-size="19.00" text-anchor="middle" class="dj" stroke="none" fill="#1a1a1a">0</text>
<text transform="translate(60.00 286.90) scale(1.050 1)" font-size="19.00" text-anchor="middle" class="dj" stroke="none" fill="#1a1a1a">1</text>
<text transform="translate(114.20 286.90) scale(1.050 1)" font-size="19.00" text-anchor="middle" class="dj" stroke="none" fill="#1a1a1a">2</text>
<text transform="translate(168.00 286.90) scale(1.050 1)" font-size="19.00" text-anchor="middle" class="dj" stroke="none" fill="#1a1a1a">3</text>
<text transform="translate(222.10 286.90) scale(1.050 1)" font-size="19.00" text-anchor="middle" class="dj" stroke="none" fill="#1a1a1a">4</text>
<text transform="translate(411.00 286.90) scale(1.050 1)" font-size="19.00" text-anchor="middle" class="dj" stroke="none" fill="#1a1a1a">0</text>
<text transform="translate(466.00 286.90) scale(1.050 1)" font-size="19.00" text-anchor="middle" class="dj" stroke="none" fill="#1a1a1a">1</text>
<text transform="translate(520.90 286.90) scale(1.050 1)" font-size="19.00" text-anchor="middle" class="dj" stroke="none" fill="#1a1a1a">2</text>
<text transform="translate(575.70 286.90) scale(1.050 1)" font-size="19.00" text-anchor="middle" class="dj" stroke="none" fill="#1a1a1a">3</text>
<text transform="translate(630.00 286.90) scale(1.050 1)" font-size="19.00" text-anchor="middle" class="dj" stroke="none" fill="#1a1a1a">4</text>
<text transform="translate(69.60 312.70) scale(0.985 1)" font-size="24.00" text-anchor="start">σ</text>
<text transform="translate(83.80 320.70) scale(1.000 1)" font-size="13.30" text-anchor="start">ERT</text>
<text transform="translate(116.60 312.70) scale(0.985 1)" font-size="24.00" text-anchor="start">/ mS</text>
<text transform="translate(472.30 312.70) scale(0.985 1)" font-size="24.00" text-anchor="start">σ</text>
<text transform="translate(487.60 320.70) scale(1.000 1)" font-size="13.30" text-anchor="start">TDS</text>
<text transform="translate(520.70 312.70) scale(0.985 1)" font-size="24.00" text-anchor="start">/ mS</text>
</g>
<g fill="#000" font-weight="bold">
<text transform="translate(167.40 350.60) scale(0.975 1)" font-size="19.00" text-anchor="middle">(a)</text>
<text transform="translate(571.40 350.80) scale(0.975 1)" font-size="19.00" text-anchor="middle">(b)</text>
<text transform="translate(127.20 784.20) scale(0.975 1)" font-size="19.00" text-anchor="middle">(c)</text>
<text transform="translate(485.20 784.30) scale(0.975 1)" font-size="19.00" text-anchor="middle">(d)</text>
</g>
<rect x="117.25" y="683.30" width="10.75" height="11.20" fill="#2a60b7" fill-opacity="0.68" stroke="#222" stroke-opacity="0.8" stroke-width="0.6"/>
<rect x="128.00" y="645.30" width="10.75" height="49.20" fill="#2a60b7" fill-opacity="0.68" stroke="#222" stroke-opacity="0.8" stroke-width="0.6"/>
<rect x="138.75" y="584.90" width="10.75" height="109.60" fill="#2a60b7" fill-opacity="0.68" stroke="#222" stroke-opacity="0.8" stroke-width="0.6"/>
<rect x="149.50" y="482.50" width="10.75" height="212.00" fill="#2a60b7" fill-opacity="0.68" stroke="#222" stroke-opacity="0.8" stroke-width="0.6"/>
<rect x="160.25" y="443.50" width="10.75" height="251.00" fill="#2a60b7" fill-opacity="0.68" stroke="#222" stroke-opacity="0.8" stroke-width="0.6"/>
<rect x="171.00" y="451.50" width="10.75" height="243.00" fill="#2a60b7" fill-opacity="0.68" stroke="#222" stroke-opacity="0.8" stroke-width="0.6"/>
<rect x="181.75" y="637.30" width="10.75" height="57.20" fill="#2a60b7" fill-opacity="0.68" stroke="#222" stroke-opacity="0.8" stroke-width="0.6"/>
<rect x="192.50" y="679.10" width="10.75" height="15.40" fill="#2a60b7" fill-opacity="0.68" stroke="#222" stroke-opacity="0.8" stroke-width="0.6"/>
<rect x="203.25" y="692.50" width="10.75" height="2.00" fill="#2a60b7" fill-opacity="0.68" stroke="#222" stroke-opacity="0.8" stroke-width="0.6"/>
<rect x="20.50" y="690.70" width="10.75" height="3.80" fill="#d9571c" fill-opacity="0.68" stroke="#222" stroke-opacity="0.8" stroke-width="0.6"/>
<rect x="31.25" y="691.20" width="10.75" height="3.30" fill="#d9571c" fill-opacity="0.68" stroke="#222" stroke-opacity="0.8" stroke-width="0.6"/>
<rect x="42.00" y="690.20" width="10.75" height="4.30" fill="#d9571c" fill-opacity="0.68" stroke="#222" stroke-opacity="0.8" stroke-width="0.6"/>
<rect x="52.75" y="687.30" width="10.75" height="7.20" fill="#d9571c" fill-opacity="0.68" stroke="#222" stroke-opacity="0.8" stroke-width="0.6"/>
<rect x="63.50" y="684.50" width="10.75" height="10.00" fill="#d9571c" fill-opacity="0.68" stroke="#222" stroke-opacity="0.8" stroke-width="0.6"/>
<rect x="74.25" y="683.60" width="10.75" height="10.90" fill="#d9571c" fill-opacity="0.68" stroke="#222" stroke-opacity="0.8" stroke-width="0.6"/>
<rect x="85.00" y="677.20" width="10.75" height="17.30" fill="#d9571c" fill-opacity="0.68" stroke="#222" stroke-opacity="0.8" stroke-width="0.6"/>
<rect x="95.75" y="672.30" width="10.75" height="22.20" fill="#d9571c" fill-opacity="0.68" stroke="#222" stroke-opacity="0.8" stroke-width="0.6"/>
<rect x="106.50" y="669.60" width="10.75" height="24.90" fill="#d9571c" fill-opacity="0.68" stroke="#222" stroke-opacity="0.8" stroke-width="0.6"/>
<rect x="117.25" y="665.40" width="10.75" height="29.10" fill="#d9571c" fill-opacity="0.68" stroke="#222" stroke-opacity="0.8" stroke-width="0.6"/>
<rect x="128.00" y="652.20" width="10.75" height="42.30" fill="#d9571c" fill-opacity="0.68" stroke="#222" stroke-opacity="0.8" stroke-width="0.6"/>
<rect x="138.75" y="625.30" width="10.75" height="69.20" fill="#d9571c" fill-opacity="0.68" stroke="#222" stroke-opacity="0.8" stroke-width="0.6"/>
<rect x="149.50" y="545.80" width="10.75" height="148.70" fill="#d9571c" fill-opacity="0.68" stroke="#222" stroke-opacity="0.8" stroke-width="0.6"/>
<rect x="160.25" y="476.50" width="10.75" height="218.00" fill="#d9571c" fill-opacity="0.68" stroke="#222" stroke-opacity="0.8" stroke-width="0.6"/>
<rect x="171.00" y="479.00" width="10.75" height="215.50" fill="#d9571c" fill-opacity="0.68" stroke="#222" stroke-opacity="0.8" stroke-width="0.6"/>
<rect x="181.75" y="593.50" width="10.75" height="101.00" fill="#d9571c" fill-opacity="0.68" stroke="#222" stroke-opacity="0.8" stroke-width="0.6"/>
<rect x="192.50" y="671.50" width="10.75" height="23.00" fill="#d9571c" fill-opacity="0.68" stroke="#222" stroke-opacity="0.8" stroke-width="0.6"/>
<g stroke="#7c7c7c" stroke-width="1" fill="none">
<rect x="20.5" y="409.5" width="215.0" height="285.0"/>
<path d="M20.5 694.5v-2.2M20.5 409.5v2.2"/>
<path d="M128.0 694.5v-2.2M128.0 409.5v2.2"/>
<path d="M235.5 694.5v-2.2M235.5 409.5v2.2"/>
<path d="M20.5 599.5h2.2M235.5 599.5h-2.2"/>
<path d="M20.5 504.5h2.2M235.5 504.5h-2.2"/>
</g>
<rect x="29.5" y="418.5" width="77" height="45" fill="#fff" stroke="#7c7c7c" stroke-width="1"/>
<rect x="34.3" y="422.3" width="26.2" height="15.8" fill="#2a60b7" fill-opacity="0.68" stroke="#222" stroke-opacity="0.8" stroke-width="0.6"/>
<rect x="34.3" y="443.5" width="26.2" height="15.8" fill="#d9571c" fill-opacity="0.68" stroke="#222" stroke-opacity="0.8" stroke-width="0.6"/>
<g fill="#000" font-size="20.3">
<text x="63.8" y="435.5">TDS</text>
<text x="63.5" y="456.9">ERT</text>
</g>
<g fill="#262626" stroke="#262626" stroke-width="0.25">
<text transform="translate(20.90 717.50) scale(1.000 1)" font-size="21.50" text-anchor="middle">0</text>
<text transform="translate(127.70 717.50) scale(1.000 1)" font-size="21.50" text-anchor="middle">2</text>
<text transform="translate(234.90 717.50) scale(1.000 1)" font-size="21.50" text-anchor="middle">4</text>
<text x="93.0" y="743.0" font-size="23.5" class="it">σ</text>
<text transform="translate(114.20 742.30) scale(0.985 1)" font-size="23.70" text-anchor="start">/ mS</text>
</g>
<path d="M574.5 476.3h0M560.2 505.8h0M575.7 491.6h0M548.2 515.7h0M522.8 517.7h0M535.3 487.7h0M553.2 498.7h0M558.1 475.6h0M548.1 545.2h0M564.1 487.0h0M535.5 525.8h0M541.5 535.1h0M564.0 495.0h0M551.6 503.8h0M552.1 486.9h0M569.6 489.4h0M565.5 498.8h0M540.3 505.9h0M553.6 501.8h0M528.3 551.2h0M550.7 478.9h0M556.1 503.1h0M527.9 500.5h0M571.7 498.4h0M569.5 502.7h0M557.5 475.3h0M563.2 480.4h0M570.9 488.7h0M548.7 528.8h0M564.8 463.4h0M556.1 475.0h0M530.6 520.9h0M539.0 502.2h0M543.5 519.1h0M565.2 493.0h0M552.3 481.1h0M564.1 490.7h0M544.7 513.0h0M534.0 537.4h0M556.6 509.6h0M539.4 489.7h0M556.1 488.7h0M548.4 488.5h0M566.8 474.4h0M536.3 487.7h0M548.3 510.3h0M532.0 491.0h0M557.5 490.0h0M554.3 495.6h0M545.7 489.2h0M542.4 542.2h0M530.8 542.3h0M540.0 524.1h0M567.4 512.2h0M546.3 504.6h0M567.8 465.4h0M539.5 521.2h0M550.0 491.3h0M544.9 491.0h0M547.6 542.0h0M561.3 476.4h0M523.7 526.1h0M560.9 489.5h0M560.3 467.8h0M551.1 478.7h0M552.1 466.7h0M548.1 499.7h0M560.2 466.0h0M551.8 484.6h0M539.8 499.9h0M553.1 515.1h0M563.7 466.9h0M556.0 500.3h0M551.4 510.9h0M553.8 464.2h0M544.5 479.8h0M544.9 480.6h0M526.0 548.8h0M548.6 519.5h0M564.1 488.4h0M545.9 483.5h0M539.0 491.1h0M562.9 487.3h0M553.2 525.7h0M552.9 480.6h0M557.3 518.4h0M560.3 538.1h0M550.5 480.3h0M540.0 484.7h0M574.1 471.6h0M551.8 483.2h0M540.8 497.3h0M553.5 467.5h0M566.8 471.6h0M532.3 535.2h0M568.4 467.6h0M549.3 478.6h0M575.1 483.1h0M559.9 517.2h0M549.7 480.8h0M567.6 459.0h0M567.9 470.0h0M546.4 509.0h0M554.1 548.5h0M544.2 523.9h0M563.2 473.0h0M532.5 488.4h0M548.7 489.8h0M522.9 519.6h0M558.9 517.4h0M521.7 507.2h0M537.1 510.9h0M554.6 488.9h0M546.4 477.1h0M545.2 539.4h0M538.3 501.3h0M544.9 480.4h0M527.9 524.3h0M555.3 499.1h0M561.7 471.7h0M561.1 486.7h0M550.6 468.7h0M567.2 500.8h0M557.2 577.5h0M563.7 493.1h0M556.2 489.4h0M551.5 499.0h0M541.1 525.7h0M516.4 537.1h0M559.6 500.0h0M549.6 498.5h0M562.5 484.0h0M525.0 513.0h0M562.2 479.7h0M538.6 477.8h0M551.0 501.1h0M539.4 508.1h0M555.7 505.3h0M550.7 481.2h0M562.6 478.3h0M553.0 487.0h0M557.4 477.5h0M567.9 489.2h0M557.9 472.3h0M549.3 502.0h0M567.4 489.3h0M549.6 487.3h0M556.5 482.5h0M546.9 490.6h0M542.4 476.3h0M560.2 464.6h0M535.9 493.6h0M560.8 474.4h0M574.8 477.4h0M533.8 512.9h0M562.6 497.8h0M549.8 527.2h0M557.1 465.8h0M535.4 519.2h0M551.5 501.7h0M553.2 507.2h0M569.9 505.7h0M563.9 492.3h0M555.3 467.5h0M546.3 537.6h0M550.2 466.0h0M549.7 515.8h0M550.4 522.5h0M552.5 466.3h0M557.3 513.4h0M560.5 518.7h0M543.6 478.2h0M549.7 468.1h0M545.4 481.3h0M572.2 484.3h0M557.0 478.6h0M554.8 484.8h0M548.2 495.5h0M564.7 506.3h0M544.4 516.2h0M552.8 500.6h0M545.2 484.1h0M543.0 480.6h0M551.7 489.4h0M551.3 519.0h0M543.6 510.0h0M550.4 511.2h0M552.1 467.5h0M545.1 491.9h0M542.6 522.1h0M549.4 502.1h0M560.4 502.1h0M565.8 476.6h0M553.7 496.1h0M547.7 518.7h0M550.8 519.2h0M567.6 499.4h0M563.2 500.7h0M538.7 517.4h0M550.6 507.3h0M544.3 487.3h0M546.5 527.1h0M529.1 514.4h0M551.6 478.4h0M533.4 513.2h0M543.5 487.8h0M571.2 470.3h0M564.4 515.2h0M539.8 477.0h0M537.7 522.0h0M539.3 484.3h0M526.5 523.5h0M538.4 511.0h0M547.7 468.7h0M537.5 555.6h0M561.2 490.2h0M550.6 520.7h0M544.3 510.5h0M574.2 498.0h0M560.6 461.1h0M552.2 502.0h0M575.6 481.7h0M568.5 490.5h0M542.0 493.7h0M555.5 500.9h0M545.5 494.5h0M532.4 501.0h0M575.0 477.7h0M571.0 486.8h0M534.5 525.3h0M557.7 506.1h0M529.7 514.6h0M565.4 463.8h0M550.6 537.6h0M547.4 521.0h0M567.8 463.7h0M551.4 568.5h0M547.9 529.3h0M563.3 483.7h0M547.3 473.3h0M562.8 466.9h0M551.3 493.6h0M562.2 514.2h0M559.5 514.0h0M561.7 492.4h0M538.0 513.2h0M556.3 510.7h0M549.1 474.8h0M574.5 462.1h0M543.4 486.9h0M547.7 469.9h0M547.8 478.6h0M566.6 478.2h0M545.6 518.5h0M556.8 480.5h0M530.5 552.1h0M544.9 480.9h0M554.2 465.0h0M549.8 479.6h0M526.5 504.9h0M557.9 481.2h0M538.5 501.7h0M544.3 482.6h0M548.7 476.7h0M538.4 508.8h0M560.1 535.1h0M557.4 579.8h0M544.9 473.6h0M549.7 480.6h0M557.3 493.0h0M525.4 495.7h0M564.5 467.5h0M535.7 512.5h0M547.8 494.5h0M514.9 566.3h0M557.3 498.9h0M561.2 492.6h0M555.0 497.8h0M555.6 499.0h0M546.3 507.0h0M553.3 490.4h0M567.4 476.3h0M545.6 516.5h0M558.0 479.8h0M561.0 478.3h0M548.1 529.4h0M554.4 496.7h0M554.2 471.5h0M544.7 477.6h0M544.5 498.0h0M545.5 503.2h0M574.1 464.8h0M565.5 476.6h0M524.1 583.5h0M554.6 485.3h0M565.0 483.0h0M562.1 484.2h0M539.2 493.7h0M554.7 490.4h0M535.3 527.9h0M537.4 529.5h0M548.1 493.8h0M553.8 512.7h0M572.7 497.0h0M556.0 497.4h0M565.4 510.9h0M535.2 527.4h0M535.8 500.5h0M544.8 554.4h0M574.7 495.0h0M533.3 497.5h0M530.1 527.9h0M550.2 517.6h0M567.2 475.9h0M529.4 533.2h0M547.9 481.8h0M533.1 514.0h0M570.6 540.1h0M560.5 503.8h0M554.9 468.8h0M550.6 482.4h0M548.1 501.2h0M553.1 491.8h0M542.5 490.5h0M539.4 500.4h0M536.3 516.6h0M551.4 479.8h0M540.5 499.9h0M562.9 459.9h0M523.0 516.1h0M558.8 477.4h0M558.4 520.6h0M567.5 478.8h0M547.8 473.3h0M531.0 521.6h0M538.8 485.2h0M566.4 497.9h0M547.1 537.6h0M545.6 512.7h0M543.3 486.0h0M550.3 478.6h0M548.1 479.8h0M530.3 497.4h0M543.1 536.4h0M564.7 533.6h0M570.6 501.7h0M549.5 470.4h0M544.2 489.7h0M569.4 462.3h0M548.8 526.6h0M535.3 511.5h0M549.5 487.5h0M560.5 544.0h0M572.1 476.6h0M544.6 481.9h0M558.4 502.7h0M546.7 539.1h0M566.5 472.5h0M554.6 494.7h0M554.7 473.3h0M537.9 516.3h0M546.9 490.2h0M546.8 527.1h0M562.7 473.1h0M551.0 499.5h0M548.3 533.6h0M546.3 507.5h0M551.5 474.4h0M554.4 500.9h0M533.6 505.2h0M552.8 481.7h0M552.7 539.9h0M551.5 508.2h0M531.2 511.9h0M549.3 502.7h0M533.9 514.8h0M555.8 510.1h0M568.8 482.6h0M562.8 481.7h0M546.6 471.1h0M543.9 493.5h0M543.5 503.5h0M555.8 491.1h0M542.2 512.0h0M543.9 495.8h0M517.4 536.2h0M539.7 502.4h0M540.6 543.3h0M543.9 488.5h0M567.4 472.7h0M532.9 522.0h0M533.3 498.5h0M559.2 488.1h0M537.9 496.0h0M548.9 511.9h0M553.4 502.0h0M551.3 519.1h0M540.7 508.3h0M563.4 460.8h0M571.2 487.2h0M537.6 512.3h0M547.4 532.2h0M563.7 493.1h0M548.3 504.4h0M537.7 486.7h0M545.3 483.8h0M562.3 479.6h0M537.7 504.9h0M554.5 476.9h0M556.2 510.1h0M542.3 494.9h0M558.7 466.6h0M560.0 490.9h0M564.5 465.3h0M563.6 468.9h0M531.1 486.4h0M563.1 503.2h0M558.9 472.0h0M564.2 466.2h0M539.7 479.3h0M563.2 475.6h0M556.1 471.8h0M535.6 512.5h0M568.2 490.7h0M540.6 490.8h0M537.5 484.5h0M556.4 499.0h0M543.0 475.3h0M556.0 494.7h0M547.8 478.2h0M554.9 486.1h0M562.0 498.1h0M550.7 539.2h0M562.8 479.4h0M562.5 497.7h0M539.9 497.7h0M562.6 481.3h0M559.4 478.8h0M552.9 486.9h0M566.1 520.6h0M573.3 480.7h0M561.3 475.8h0M531.5 498.6h0M557.1 474.8h0M549.4 495.1h0M547.5 499.3h0M555.8 483.1h0M546.8 483.4h0M573.0 469.3h0M554.9 525.8h0M551.4 500.7h0M561.7 498.2h0M561.9 495.9h0M567.0 504.0h0M559.7 491.2h0M550.7 477.5h0M553.0 506.8h0M522.3 535.9h0M531.6 521.9h0M565.1 505.0h0M546.8 484.0h0M575.5 464.2h0M575.3 482.4h0M534.5 544.1h0M555.4 494.2h0M538.2 496.4h0M540.7 501.5h0M556.5 506.9h0M548.1 525.9h0M548.0 490.0h0M547.5 476.0h0M551.0 476.6h0M561.4 524.0h0M540.5 507.7h0M558.0 501.5h0M541.8 502.5h0M558.3 460.9h0M555.5 492.1h0M540.8 494.6h0M553.1 464.7h0M541.4 476.4h0M539.9 534.9h0M566.9 500.1h0M526.9 495.5h0M558.7 475.7h0M560.7 475.7h0M543.3 483.0h0M565.8 500.9h0M563.4 491.8h0M533.9 506.9h0M558.3 462.5h0M557.5 507.1h0M541.4 509.2h0M559.0 461.8h0M561.3 463.6h0M541.6 488.2h0M524.5 537.9h0M556.6 519.3h0M541.3 527.1h0M528.2 501.4h0M546.1 469.1h0M519.3 539.1h0M546.7 477.8h0M571.4 473.8h0M557.4 477.0h0M538.9 614.8h0M545.7 500.9h0M539.0 481.4h0M559.8 502.7h0M551.1 514.0h0M540.8 504.8h0M533.7 511.7h0M545.5 499.2h0M566.7 494.0h0M535.0 516.4h0M556.8 505.1h0M555.8 479.9h0M524.4 501.8h0M566.1 476.6h0M550.7 495.8h0M550.2 499.6h0M574.6 508.9h0M547.9 487.1h0M549.2 476.6h0M537.7 519.3h0M532.8 488.5h0M562.0 476.5h0M547.9 495.2h0M545.8 483.4h0M549.0 474.1h0M560.4 475.3h0M563.9 505.3h0M551.3 512.8h0M548.6 528.9h0M552.6 500.9h0M573.6 525.4h0M523.3 554.2h0M535.6 517.1h0M557.7 492.6h0M553.3 492.4h0M567.9 498.9h0M569.0 502.2h0M553.4 470.7h0M540.5 493.3h0M559.6 474.9h0M548.1 469.9h0M564.4 498.0h0M553.8 483.7h0M563.3 465.9h0M541.3 492.3h0M553.5 485.6h0M544.4 544.5h0M547.8 493.0h0M545.2 479.3h0M537.4 510.2h0M566.4 489.7h0M555.3 496.0h0M566.1 480.3h0M537.9 500.7h0M524.9 495.5h0M542.6 487.3h0M549.3 477.5h0M562.0 493.2h0M565.6 505.1h0M567.9 498.6h0M572.2 494.9h0M561.2 470.4h0M552.9 493.1h0M541.0 541.2h0M560.6 469.7h0M544.6 482.5h0M540.5 507.6h0M559.3 471.4h0M554.3 489.8h0M562.9 488.2h0M541.7 504.9h0M567.2 519.1h0M556.2 500.4h0M549.1 481.8h0M541.1 513.9h0M536.8 482.8h0M532.9 523.7h0M570.3 480.3h0M532.1 538.9h0M559.9 508.7h0M548.0 521.5h0M543.6 545.6h0M545.0 535.9h0M550.1 506.5h0M563.6 462.3h0M559.0 510.8h0M551.3 469.0h0M532.8 488.2h0M527.2 536.1h0M547.3 494.2h0M537.7 508.8h0M530.1 498.8h0M566.6 464.8h0M531.0 530.5h0M561.4 477.1h0M564.0 478.4h0M554.7 593.6h0M564.4 479.4h0M532.5 522.1h0M534.8 506.1h0M548.7 527.5h0M551.3 470.0h0M550.2 488.9h0M557.7 482.8h0M541.3 522.5h0M522.4 548.4h0M556.8 498.4h0M548.2 483.0h0M562.4 486.2h0M568.4 479.3h0M552.4 490.0h0M559.2 482.9h0M539.2 503.7h0M563.6 502.2h0M555.9 532.1h0M554.7 479.7h0M563.7 478.6h0M536.0 521.4h0M559.0 490.3h0M557.5 465.9h0M572.9 474.3h0M526.8 501.1h0M550.1 502.1h0M556.0 489.3h0M545.8 523.6h0M545.4 490.4h0M575.5 489.0h0M569.8 460.0h0M552.9 474.2h0M541.6 501.0h0M543.3 482.9h0M545.9 488.6h0M539.9 511.4h0M540.3 518.3h0M553.7 493.5h0M551.8 468.7h0M557.8 493.8h0M551.7 488.7h0M534.9 504.4h0M561.3 480.5h0M554.6 497.1h0M543.4 473.9h0M547.6 480.6h0M555.6 483.6h0M552.3 480.9h0M549.5 487.0h0M561.7 498.5h0M565.7 470.6h0M547.0 484.9h0M551.0 473.3h0M536.3 500.0h0M549.0 484.4h0M557.7 459.5h0M563.0 501.2h0M553.5 476.9h0M550.1 483.5h0M541.6 477.7h0M554.2 475.1h0M536.5 484.9h0M553.0 467.3h0M551.5 468.2h0M539.0 475.5h0M555.7 491.5h0M548.4 488.8h0M559.4 493.4h0M544.7 551.9h0M557.8 498.1h0M572.4 462.7h0M553.7 474.9h0M561.9 466.6h0M542.6 497.3h0M546.5 494.2h0M525.7 521.4h0M549.2 524.7h0M536.0 499.1h0M552.8 486.9h0M523.3 494.7h0M539.6 505.8h0M552.4 476.3h0M556.5 495.9h0M528.8 497.5h0M545.6 490.4h0M569.0 482.2h0M561.9 498.5h0M553.4 500.3h0M538.8 495.9h0M558.3 490.4h0M554.4 492.3h0M557.4 499.2h0M564.2 484.4h0M552.5 490.7h0M562.7 488.1h0M527.0 511.8h0M556.1 469.3h0M547.2 472.0h0M542.5 503.5h0M571.5 500.0h0M559.4 474.4h0M564.4 488.6h0M542.8 475.7h0M555.0 492.7h0M560.8 478.1h0M535.8 500.0h0M548.2 510.6h0M547.9 498.9h0M547.3 476.0h0M541.7 500.9h0M534.2 487.3h0M557.0 480.4h0M554.5 477.5h0M566.8 476.8h0M550.3 487.9h0M542.1 501.5h0M531.6 498.8h0M552.3 494.5h0M547.0 515.7h0M543.6 477.3h0M567.1 486.1h0M572.5 483.0h0M538.9 522.9h0M532.3 505.7h0M548.0 474.1h0M539.1 493.7h0M570.4 458.8h0M552.7 497.7h0M545.7 511.0h0M551.0 466.4h0M568.1 475.4h0M538.4 514.9h0M557.7 475.9h0M533.3 496.5h0M548.3 498.3h0M542.2 484.9h0M555.4 501.4h0M553.2 503.9h0M567.3 534.7h0M560.4 499.0h0M543.0 490.0h0M533.2 510.2h0M540.1 496.2h0M545.4 541.8h0M548.0 521.1h0M540.9 530.1h0M565.7 468.3h0M563.7 489.6h0M547.5 468.1h0M544.4 490.4h0M547.9 482.1h0M550.5 514.8h0M550.8 492.2h0M529.2 510.9h0M545.3 508.1h0M525.8 542.5h0M551.6 483.6h0M560.2 476.9h0M536.7 489.2h0M553.3 502.4h0M542.8 502.1h0M541.7 504.2h0M557.6 462.0h0M563.1 496.4h0M557.6 497.8h0M545.2 519.6h0M556.7 477.3h0M548.5 476.5h0M557.2 493.6h0M538.9 510.3h0M550.1 525.1h0M545.8 545.6h0M532.0 521.3h0M573.9 480.3h0M562.1 482.8h0M540.4 479.1h0M531.2 501.7h0M541.3 499.7h0M539.7 509.5h0M542.8 503.0h0M530.6 514.3h0M539.9 541.5h0M551.9 496.1h0M556.6 479.1h0M524.3 509.6h0M551.0 484.8h0M537.7 499.7h0M537.0 507.5h0M546.7 469.3h0M541.8 476.2h0M560.5 506.8h0M560.6 507.5h0M546.9 516.0h0M542.3 509.1h0M575.3 500.7h0M550.8 498.4h0M556.3 487.7h0M549.0 519.5h0M564.7 494.8h0M570.7 490.7h0M543.9 478.3h0M575.6 485.6h0M548.9 485.6h0M565.9 514.1h0M544.1 485.2h0M552.0 513.6h0M544.9 522.6h0M551.4 499.1h0M564.9 502.4h0M538.9 526.1h0M547.0 484.3h0M558.5 509.8h0M544.7 482.9h0M570.3 473.3h0M531.1 509.4h0M573.5 461.6h0M542.1 501.7h0M564.3 466.9h0M573.1 493.5h0M558.3 499.1h0M531.8 503.2h0M546.5 479.9h0M552.0 479.1h0M558.8 494.7h0M564.5 492.3h0M566.4 471.8h0M571.2 492.4h0M538.1 526.6h0M564.6 489.8h0M527.2 501.7h0M553.1 497.2h0M536.4 502.0h0M526.7 516.9h0M563.6 481.2h0M550.6 506.6h0M564.6 469.2h0M529.4 538.3h0M534.4 537.8h0M549.7 495.3h0M541.9 510.1h0M552.0 468.6h0M542.5 483.7h0M546.4 504.0h0M535.4 549.3h0M568.6 495.3h0M546.7 523.8h0M534.9 537.8h0M560.3 468.1h0M557.7 485.1h0M554.0 469.4h0M554.1 476.5h0M545.6 479.2h0M549.2 474.4h0M520.7 511.4h0M529.7 490.4h0M534.2 514.3h0M555.0 508.5h0M567.8 493.4h0M548.8 513.3h0M547.4 482.5h0M566.5 496.4h0M546.0 480.1h0M560.0 473.6h0M556.9 478.9h0M532.8 530.4h0M555.4 484.7h0M553.8 478.0h0M535.3 498.5h0M536.8 506.8h0M533.6 527.3h0M569.9 491.2h0M560.6 471.5h0M560.7 501.0h0M572.6 483.0h0M532.5 509.4h0M570.3 588.4h0M539.9 502.0h0M573.2 496.2h0M538.1 484.4h0M565.9 488.3h0M549.5 516.2h0M565.8 499.0h0M542.2 481.2h0M551.2 481.4h0M543.2 504.4h0M557.6 464.2h0M549.6 500.9h0M566.3 502.0h0M562.4 499.7h0M556.8 499.0h0M550.5 489.6h0M546.9 489.9h0M551.1 474.2h0M561.4 477.6h0M552.8 478.9h0M555.0 470.9h0M550.5 473.8h0M550.0 474.5h0M541.9 510.0h0M525.2 531.5h0M558.9 542.9h0M558.8 509.4h0M537.7 482.4h0M568.9 481.2h0M535.0 518.5h0M564.8 493.6h0M554.5 492.2h0M555.4 484.8h0M566.7 491.8h0M563.7 489.1h0M551.4 505.1h0M536.5 517.3h0M534.3 509.4h0M553.7 477.1h0M572.8 468.7h0M563.2 488.7h0M550.6 488.4h0M555.6 524.5h0M560.5 491.7h0M574.7 497.8h0M540.6 518.3h0M561.0 460.8h0M554.9 513.2h0M540.6 483.6h0M537.1 519.5h0M568.5 459.5h0M555.6 532.1h0M548.2 488.6h0M552.5 481.4h0M564.6 463.9h0M552.4 493.1h0M573.2 483.9h0M547.5 483.9h0M540.3 516.1h0M549.5 511.7h0M538.2 508.0h0M546.3 533.4h0M568.0 473.6h0M574.6 476.2h0M559.8 481.3h0M553.8 486.4h0M538.6 503.0h0M537.3 489.6h0M556.2 476.8h0M553.4 502.2h0M543.1 516.9h0M544.9 499.7h0M572.6 466.1h0M564.7 475.2h0M551.8 468.5h0M554.2 503.7h0M568.7 481.6h0M556.1 500.3h0M554.4 483.7h0M529.4 499.6h0M527.8 499.9h0M524.8 527.2h0M520.0 521.9h0M550.9 485.5h0M555.6 488.9h0M539.1 503.3h0M557.2 460.7h0M557.2 479.0h0M550.0 478.9h0M530.8 549.7h0M571.0 494.1h0M570.1 473.3h0M543.1 477.9h0M562.9 488.9h0M551.7 480.4h0M540.3 497.8h0M545.4 488.0h0M525.5 530.5h0M546.3 479.1h0M529.0 515.6h0M566.7 470.0h0M555.5 479.3h0M531.9 502.8h0M559.0 469.7h0M527.4 505.8h0M553.2 463.3h0M557.7 497.2h0M552.0 485.6h0M535.6 482.4h0M549.5 479.1h0M548.5 478.9h0M551.9 465.7h0M571.6 484.7h0M574.4 507.5h0M572.9 507.8h0M542.3 505.3h0M540.7 496.5h0M551.4 489.8h0M557.1 476.6h0M522.6 524.5h0M542.6 497.9h0M555.2 470.7h0M533.9 526.7h0M540.9 497.7h0M541.3 478.7h0M557.8 473.6h0M550.2 496.6h0M546.6 499.8h0M530.1 521.5h0M559.5 490.6h0M551.1 516.0h0M541.9 504.4h0M551.4 481.4h0M561.9 489.8h0M530.6 503.7h0M529.6 533.0h0M536.9 494.2h0M539.0 488.2h0M542.7 515.9h0M566.4 465.3h0M546.5 486.4h0M565.1 489.9h0M549.5 502.9h0M570.2 488.9h0M572.7 522.0h0M544.1 478.7h0M539.6 476.7h0M556.3 502.3h0M534.2 507.9h0M546.0 514.9h0M527.9 512.8h0M552.2 578.6h0M551.1 484.8h0M573.5 461.2h0M556.0 465.5h0M541.9 551.2h0M549.7 500.3h0M533.2 525.2h0M551.5 488.6h0M548.1 503.7h0M556.8 476.8h0M563.9 505.4h0M523.3 507.9h0M555.5 499.4h0M561.2 476.7h0M534.4 486.4h0M566.4 463.5h0M541.0 526.7h0M561.6 482.2h0M561.9 476.2h0M564.4 490.0h0M554.8 496.1h0M565.0 487.4h0M536.7 544.0h0M539.9 511.0h0M523.9 536.2h0M558.5 486.2h0M541.2 505.4h0M561.4 496.8h0M559.3 512.9h0M532.5 501.3h0M560.7 501.8h0M554.6 481.2h0M553.8 508.5h0M557.4 502.0h0M550.6 470.6h0M551.2 550.6h0M565.6 493.8h0M537.2 539.8h0M534.4 509.1h0M540.5 528.8h0M565.3 462.9h0M546.6 480.9h0M563.5 467.2h0M541.1 505.7h0M544.8 476.2h0M554.8 466.5h0M569.5 470.7h0M548.4 471.8h0M536.9 493.5h0M562.6 493.1h0M572.5 460.9h0M515.6 558.6h0M559.0 490.6h0M555.1 467.6h0M539.5 508.5h0M544.4 511.5h0M555.0 503.9h0M551.4 512.1h0M547.6 508.6h0M534.8 491.7h0M555.0 488.0h0M541.8 514.5h0M552.2 506.0h0M542.9 490.2h0M553.8 476.1h0M561.3 509.4h0M554.3 486.1h0M560.1 468.3h0M531.8 507.7h0M557.4 472.0h0M555.0 505.9h0M542.3 488.1h0M548.7 568.8h0M552.1 500.9h0M545.3 508.7h0M519.6 530.0h0M558.0 486.3h0M542.1 518.0h0M554.8 488.4h0M547.7 500.0h0M557.7 467.3h0M552.2 503.1h0M547.0 470.9h0M557.8 470.4h0M562.5 497.9h0M519.6 553.9h0M551.3 467.3h0M542.7 482.0h0M535.6 502.5h0M569.0 490.5h0M564.2 498.9h0M536.6 512.7h0M535.5 505.1h0M562.3 490.1h0M542.3 483.3h0M546.4 512.4h0M523.7 530.1h0M549.1 494.0h0M566.6 478.1h0M544.6 487.5h0M549.3 513.3h0M575.1 516.1h0M563.1 489.3h0M570.6 485.3h0M559.6 499.7h0M567.5 494.5h0M527.9 526.8h0M539.6 503.8h0M528.0 513.6h0M551.2 500.9h0M553.4 488.6h0M549.2 507.6h0M540.5 493.1h0M536.9 491.3h0M561.5 492.6h0M549.8 487.0h0M551.8 472.0h0M531.5 527.7h0M550.1 476.2h0M556.1 496.5h0M549.8 498.4h0M559.4 498.7h0M539.3 487.5h0M555.4 482.9h0M563.3 508.6h0M558.7 486.9h0M556.2 473.3h0M549.5 513.3h0M537.3 525.1h0M558.5 498.8h0M545.5 476.8h0M537.8 498.2h0M561.5 476.0h0M528.7 522.5h0M543.2 499.4h0M561.6 476.5h0M564.0 490.1h0M545.7 479.6h0M551.8 499.9h0M558.4 482.8h0M549.9 475.6h0M540.2 478.4h0M556.9 495.6h0M553.2 505.9h0M552.4 467.8h0M566.3 497.9h0M555.1 483.4h0M544.6 485.0h0M553.1 497.4h0M546.2 502.8h0M541.0 490.5h0M547.3 496.9h0M539.8 502.8h0M555.8 478.4h0M533.5 508.3h0M557.1 473.3h0M561.4 503.4h0M540.2 484.2h0M539.2 530.4h0M530.4 500.4h0M551.5 485.1h0M535.4 543.0h0M542.3 477.3h0M545.1 524.7h0M541.4 485.5h0M562.4 503.2h0M572.9 501.6h0M521.5 508.8h0M539.7 518.0h0M554.4 501.7h0M536.4 486.4h0M543.5 517.4h0M553.8 485.3h0M570.1 475.6h0M567.1 493.3h0M546.9 475.1h0M552.7 488.1h0M545.9 484.6h0M548.5 501.3h0M534.7 529.3h0M526.5 537.9h0M545.8 477.8h0M564.4 484.9h0M561.5 495.4h0M525.2 546.8h0M548.3 478.0h0M542.2 474.6h0M554.9 538.0h0M535.8 515.6h0M563.5 496.6h0M548.1 471.9h0M558.9 493.4h0M563.0 569.2h0M524.1 501.5h0M547.9 494.1h0M571.8 469.5h0M551.2 467.1h0M565.3 483.8h0M556.8 501.9h0M544.1 551.4h0M554.8 505.1h0M565.5 487.0h0M568.7 470.4h0M570.9 499.7h0M535.7 491.1h0M562.4 474.6h0M531.9 516.1h0M549.2 507.0h0M548.1 479.0h0M559.6 467.1h0M555.3 475.7h0M568.2 462.3h0M542.5 511.9h0M562.6 487.8h0M556.3 466.4h0M551.0 479.6h0M534.4 488.7h0M558.8 498.0h0M555.3 472.2h0M561.8 491.5h0M550.4 480.4h0M547.4 476.1h0M556.3 483.5h0M557.3 496.4h0M560.4 495.3h0M547.5 489.5h0M542.4 482.9h0M566.7 503.2h0M564.2 486.6h0M539.7 485.1h0M558.0 466.2h0M538.7 512.1h0M565.6 529.4h0M537.3 524.6h0M535.4 518.5h0M562.0 468.7h0M562.9 491.2h0M541.3 492.6h0M573.9 497.6h0M546.6 501.5h0M572.5 463.6h0M537.0 497.3h0M537.7 525.9h0M552.2 478.2h0M537.0 503.2h0M557.3 467.9h0M521.4 533.0h0M553.4 488.3h0M543.2 483.0h0M537.7 492.5h0M553.9 475.0h0M547.9 482.8h0M544.8 536.1h0M562.1 475.8h0M555.0 484.5h0M556.2 474.4h0M569.3 459.3h0M550.0 508.0h0M562.5 507.0h0M545.2 481.5h0M559.3 482.7h0M558.2 500.4h0M543.5 495.8h0M530.1 506.8h0M533.4 502.0h0M538.0 511.1h0M558.6 504.3h0M549.1 511.6h0M546.9 527.9h0M557.5 474.6h0M561.0 470.5h0M570.2 483.5h0M542.8 525.6h0M558.5 503.7h0M560.7 488.1h0M537.9 515.2h0M552.7 485.4h0M538.4 493.1h0M547.9 505.2h0M556.8 530.2h0M527.6 537.5h0M539.0 518.8h0M539.9 531.8h0M552.3 510.8h0M540.9 482.0h0M556.1 481.6h0M539.2 494.5h0M543.9 493.4h0M559.3 507.6h0M555.4 473.4h0M553.1 467.0h0M550.5 513.9h0M564.8 460.0h0M569.9 488.2h0M545.9 498.1h0M541.0 476.6h0M536.7 518.0h0M574.8 489.0h0M538.7 483.3h0M532.8 518.4h0M554.7 490.3h0M565.4 493.6h0M534.0 498.3h0M549.3 511.4h0M531.3 513.7h0M541.4 526.1h0M573.3 462.2h0M553.3 467.1h0M547.4 479.3h0M552.0 476.4h0M554.9 484.8h0M549.6 501.9h0M534.7 522.0h0M534.8 492.0h0M561.2 473.5h0M540.5 491.9h0M567.4 500.1h0M541.1 530.3h0M568.8 547.5h0M560.5 532.4h0M548.1 505.4h0M541.4 493.9h0M538.2 506.1h0M547.8 486.2h0M539.2 524.1h0M540.3 513.8h0M546.0 500.1h0M537.9 482.6h0M546.5 503.9h0M572.7 494.7h0M527.1 530.1h0M533.8 499.7h0M537.9 516.5h0M544.6 480.6h0M564.9 487.3h0M560.9 476.0h0M557.6 506.4h0M553.8 535.0h0M542.1 509.4h0M535.5 482.0h0M535.2 520.1h0M550.7 483.4h0M553.8 509.3h0M547.7 476.9h0M539.5 526.5h0M533.0 498.7h0M547.2 480.7h0M541.3 517.0h0M544.4 499.9h0M536.2 577.8h0M569.4 494.2h0M557.2 491.0h0M546.6 481.2h0M543.9 496.3h0M551.8 507.7h0M547.6 489.9h0M551.3 473.1h0M547.5 487.6h0M548.7 501.0h0M523.9 518.6h0M547.3 470.5h0M560.5 481.2h0M524.3 526.5h0M546.2 523.0h0M558.9 468.6h0M568.4 475.1h0M549.8 510.1h0M557.3 498.2h0M575.1 501.6h0M568.8 466.3h0M544.8 509.3h0M542.7 482.0h0M565.0 486.2h0M554.1 477.7h0M543.6 507.0h0M547.8 516.5h0M555.3 474.6h0M548.3 509.0h0M547.5 485.7h0M547.8 474.7h0M530.5 514.8h0M574.8 464.8h0M567.7 490.6h0M571.8 483.4h0M549.2 516.8h0M552.7 474.8h0M558.9 467.5h0M562.3 487.0h0M525.9 525.3h0M555.9 480.1h0M537.3 498.0h0M550.0 493.2h0M541.9 506.0h0M574.4 468.2h0M558.4 494.1h0M550.6 537.5h0M570.1 493.3h0M550.0 487.4h0M541.1 496.9h0M548.5 474.8h0M546.0 501.4h0M551.7 498.7h0M562.5 502.2h0M549.4 489.6h0M550.1 503.5h0M564.9 481.1h0M555.0 500.0h0M564.0 484.3h0M552.9 483.5h0M533.1 521.9h0M535.6 514.5h0M528.3 548.5h0M566.6 494.3h0M556.7 468.7h0M544.5 499.9h0M537.4 503.4h0M556.0 464.2h0M549.2 481.1h0M555.4 500.2h0M539.5 481.7h0M535.8 570.2h0M572.5 463.2h0M538.0 490.1h0M550.7 502.5h0M569.3 476.7h0M525.9 492.5h0M560.6 479.7h0M552.0 489.8h0M549.0 493.9h0M554.7 474.6h0M534.8 513.6h0M520.6 563.2h0M571.3 509.0h0M547.1 477.1h0M563.2 489.9h0M566.2 462.6h0M555.0 507.1h0M557.3 497.7h0M560.8 472.5h0M572.6 510.0h0M557.7 467.3h0M568.3 497.4h0M547.0 505.0h0M545.2 507.7h0M552.2 500.4h0M556.5 495.1h0M558.4 460.4h0M556.1 513.2h0M562.5 483.4h0M551.9 482.1h0M541.1 514.4h0M555.5 520.6h0M555.9 490.6h0M557.8 496.3h0M546.5 472.0h0M536.1 494.9h0M552.8 485.5h0M546.8 536.1h0M539.2 499.3h0M552.7 496.5h0M548.3 474.6h0M543.0 530.0h0M526.8 493.5h0M548.7 505.9h0M575.1 459.5h0M563.2 458.6h0M565.8 464.6h0M550.8 477.0h0M565.5 469.6h0M541.8 507.7h0M544.8 528.0h0M558.1 466.2h0M531.6 513.2h0M551.8 489.6h0M555.2 485.8h0M574.1 493.7h0M541.5 478.6h0M556.8 487.8h0M542.1 477.5h0M543.6 493.2h0M538.2 545.8h0M566.8 476.6h0M558.1 514.7h0M553.2 541.8h0M566.4 488.3h0M558.4 482.0h0M534.2 510.9h0M548.3 517.4h0M550.3 482.6h0M573.0 493.6h0M538.8 490.5h0M556.8 462.8h0M564.4 481.8h0M540.0 483.7h0M552.3 495.9h0M523.6 503.5h0M552.4 488.2h0M521.0 530.7h0M545.8 472.3h0M574.6 493.7h0M556.7 475.8h0M551.8 508.3h0M553.1 475.9h0M551.3 466.2h0M558.6 497.3h0M565.3 462.8h0M545.1 485.8h0M545.2 510.7h0M536.8 497.3h0M548.7 504.6h0M541.6 509.1h0M564.6 464.2h0M559.9 473.1h0M549.5 496.2h0M543.7 497.7h0M543.0 488.2h0M555.2 475.4h0M560.1 470.7h0M518.3 551.9h0M553.2 487.7h0M537.0 488.9h0M548.1 480.4h0M544.6 481.2h0M559.1 496.5h0M525.7 546.8h0M543.3 488.3h0M563.9 553.7h0M553.9 498.5h0M539.8 529.4h0M557.3 480.3h0M555.0 479.5h0M539.0 521.7h0M560.5 514.5h0M560.3 487.5h0M549.3 492.0h0M563.9 508.7h0M535.1 510.9h0M561.5 492.1h0M548.5 521.2h0M538.3 499.7h0M543.0 517.1h0M567.0 570.4h0M543.5 498.9h0M546.3 481.5h0M542.1 486.1h0M540.3 503.5h0M564.2 500.0h0M540.7 477.3h0M569.4 482.8h0M558.0 490.9h0M561.4 479.3h0M546.4 519.1h0M544.3 475.4h0M535.1 500.2h0M570.7 492.9h0M546.5 487.0h0M541.3 495.1h0M542.4 482.7h0M553.7 469.0h0M543.6 504.4h0M551.3 470.4h0M553.4 496.9h0M569.4 509.3h0M534.2 483.3h0M555.1 488.4h0M541.6 518.0h0M545.2 502.9h0M573.2 485.7h0M559.6 459.7h0M545.8 495.5h0M557.8 476.0h0M550.8 471.2h0M566.3 473.2h0M544.5 520.3h0M557.8 491.1h0M548.3 486.2h0M551.3 525.7h0M549.0 488.6h0M542.7 547.1h0M552.6 469.5h0M564.5 484.4h0M542.9 494.8h0M545.8 471.2h0M556.2 470.4h0M540.9 489.2h0M563.0 466.2h0M560.8 457.9h0M519.8 539.7h0M542.2 500.0h0M536.4 523.9h0M562.4 480.0h0M563.9 481.9h0M534.8 487.7h0M541.8 486.7h0M550.0 483.1h0M546.1 500.4h0M560.9 470.5h0M564.5 518.1h0M559.2 462.7h0M566.0 481.9h0M563.9 460.1h0M550.2 522.0h0M545.2 475.9h0M541.1 487.4h0M562.3 489.5h0M563.3 498.1h0M565.0 506.7h0M546.7 494.3h0M545.8 487.0h0M554.8 512.1h0M568.2 487.5h0M556.0 467.5h0M554.2 471.5h0M539.9 548.4h0M557.2 516.0h0M558.5 484.4h0M538.2 480.9h0M575.1 461.5h0M538.7 486.8h0M563.8 473.3h0M548.4 529.8h0M553.4 468.1h0M540.5 491.2h0M543.5 512.7h0M560.7 489.2h0M548.5 497.1h0M546.5 495.4h0M563.3 469.8h0M560.9 472.9h0M553.4 490.4h0M554.4 512.5h0M574.6 464.7h0M548.9 477.5h0M556.5 486.2h0M557.0 486.4h0M532.2 525.5h0M524.9 517.0h0M552.9 466.7h0M563.0 499.6h0M554.0 465.0h0M544.0 475.7h0M542.3 522.6h0M562.3 515.9h0M547.2 542.1h0M529.3 513.0h0M560.5 497.7h0M554.5 480.6h0M556.4 497.9h0M565.4 574.0h0M569.2 529.8h0M558.8 497.0h0M548.8 509.4h0M522.4 536.6h0M555.2 512.4h0M549.2 483.3h0M569.1 491.1h0M568.6 502.6h0M557.7 469.3h0M569.8 466.6h0M550.2 494.2h0M550.6 517.4h0M539.7 603.6h0M547.0 503.1h0M554.1 488.9h0M565.6 477.7h0M541.2 513.8h0M562.1 469.8h0M559.3 495.3h0M532.9 518.1h0M547.7 524.7h0M551.5 491.5h0M564.9 461.4h0M538.5 491.7h0M568.0 482.5h0M550.7 517.7h0M539.6 543.1h0M550.4 503.2h0M550.7 491.5h0M554.5 484.7h0M539.0 503.1h0M571.9 460.9h0M541.4 502.0h0M560.5 483.4h0M554.1 482.0h0M536.3 518.5h0M552.1 468.1h0M551.5 480.2h0M548.6 492.4h0M562.2 504.0h0M544.7 545.1h0M575.0 460.1h0M566.5 477.9h0M538.7 499.4h0M517.3 558.6h0M568.3 497.8h0M554.6 478.2h0M552.3 481.2h0M537.9 509.8h0M531.5 494.6h0M525.8 495.5h0M573.3 499.8h0M573.0 497.4h0M543.6 496.0h0M561.7 515.0h0M525.9 557.5h0M560.7 497.2h0M560.8 473.0h0M539.4 492.3h0M544.9 476.1h0M536.9 497.4h0M551.7 486.4h0M569.1 500.4h0M564.7 483.7h0M556.8 465.6h0M566.4 481.9h0M526.7 533.8h0M546.3 489.6h0M550.4 473.6h0M533.1 519.4h0M545.9 502.4h0M542.2 486.4h0M552.4 470.1h0M555.4 480.7h0M519.1 508.9h0M568.3 500.0h0M574.7 463.3h0M536.9 503.8h0M571.3 510.9h0M568.3 476.6h0M565.0 479.1h0M573.4 485.5h0M532.0 523.2h0M561.0 462.6h0M537.2 525.1h0M563.9 485.1h0M537.7 493.7h0M534.3 540.7h0M566.5 477.8h0M559.6 478.9h0M551.4 486.0h0M552.9 509.3h0M559.5 482.7h0M574.8 483.8h0M541.3 501.5h0M543.4 497.4h0M543.1 511.1h0M550.0 486.8h0M551.2 475.4h0M533.4 499.5h0M555.2 505.2h0M533.7 492.4h0M546.8 502.8h0M547.6 496.1h0M547.7 504.7h0M571.5 465.1h0M573.6 493.9h0M565.9 466.9h0M572.9 460.5h0M547.1 508.9h0M570.4 528.8h0M550.3 509.0h0M554.2 486.0h0M554.8 487.1h0M532.6 514.9h0M542.6 516.6h0M548.8 486.5h0M556.1 474.5h0M549.3 468.4h0M539.3 517.3h0M535.1 522.3h0M551.2 498.3h0M534.7 483.5h0M534.8 539.2h0M549.6 472.2h0M553.5 464.7h0M539.6 479.1h0M526.5 491.9h0M555.0 463.8h0M562.3 487.2h0M545.4 488.2h0M545.8 496.2h0M518.9 507.7h0M563.5 470.5h0M535.9 485.9h0M560.9 464.3h0M542.9 540.5h0M549.1 493.5h0M548.4 490.5h0M526.2 588.2h0M543.1 507.7h0M529.4 495.9h0M552.5 466.4h0M539.8 508.3h0M547.7 494.3h0M570.0 482.1h0M525.3 512.3h0M549.1 487.2h0M557.8 531.0h0M552.7 474.6h0M556.5 492.3h0M540.7 495.6h0M528.4 507.0h0M532.9 512.7h0M545.4 531.9h0M561.3 493.4h0M552.1 489.2h0M573.2 503.7h0M552.4 487.7h0M553.7 468.1h0M553.8 518.7h0M527.1 510.8h0M559.0 464.6h0M535.7 503.5h0M545.8 508.4h0M542.4 492.8h0M533.9 484.9h0M552.6 471.9h0M555.0 548.9h0M552.8 479.9h0M551.1 470.2h0M543.3 583.1h0M545.8 512.7h0M523.3 517.0h0M536.8 488.4h0M571.5 463.4h0M558.6 494.9h0M540.4 543.9h0M538.6 498.4h0M547.6 503.8h0M561.9 479.3h0M557.8 494.9h0M536.8 523.5h0M554.3 472.4h0M542.4 497.5h0M571.7 496.1h0M555.1 471.8h0M568.4 478.3h0M553.2 486.3h0M566.5 480.6h0M556.7 483.3h0M554.9 496.1h0M536.9 483.7h0M545.2 513.8h0M556.4 464.3h0M544.2 504.3h0M571.3 485.7h0M550.9 470.2h0M540.5 492.2h0M564.7 475.1h0M543.7 489.7h0M556.6 490.1h0M549.7 502.7h0M541.1 505.6h0M570.2 467.7h0M552.3 568.5h0M566.0 476.7h0M546.3 481.5h0M531.3 528.4h0M533.8 546.2h0M543.9 518.5h0M548.5 482.0h0M551.8 514.3h0M558.1 491.9h0M533.8 538.6h0M554.2 478.0h0M534.2 524.9h0M541.6 482.5h0M567.1 510.7h0M568.6 497.4h0M546.0 513.3h0M556.7 482.5h0M570.6 503.3h0M563.3 481.9h0M571.3 483.9h0M547.6 483.3h0M549.3 519.7h0M539.1 511.1h0M559.1 493.2h0M533.7 547.8h0M544.1 508.8h0M557.3 508.5h0M544.0 498.2h0M555.8 481.7h0M573.1 481.3h0M537.4 504.9h0M570.4 459.7h0M541.6 487.0h0M538.1 510.4h0M554.1 492.0h0M565.2 464.6h0M541.2 480.9h0M540.9 483.8h0M544.9 512.0h0M541.1 480.2h0M553.6 499.7h0M541.2 486.1h0M547.5 499.4h0M555.9 502.7h0M545.2 489.1h0M567.0 499.1h0M541.7 495.3h0M540.4 529.3h0M570.4 487.6h0M571.8 493.0h0M552.0 469.9h0M562.5 509.0h0M555.7 496.4h0M544.0 473.7h0M560.3 465.1h0M555.2 503.9h0M568.7 494.7h0M525.6 500.6h0M562.2 495.2h0M553.3 478.6h0M541.5 490.2h0M545.1 482.4h0M545.4 473.6h0M532.7 520.2h0M543.1 488.2h0M561.8 496.6h0M530.1 510.6h0M545.8 505.0h0M518.4 554.2h0M543.1 527.2h0M556.4 499.2h0M550.3 476.4h0M551.6 503.3h0M535.6 535.3h0M558.9 484.7h0M538.5 514.7h0M563.6 515.0h0M553.9 464.5h0M545.7 494.2h0M571.5 492.9h0M545.6 524.8h0M565.2 490.1h0M552.5 509.0h0M551.0 495.2h0M564.8 497.0h0M557.1 481.2h0M550.9 547.0h0M549.4 481.0h0M553.9 473.5h0M552.2 498.4h0M546.5 497.6h0M536.7 482.2h0M515.2 532.4h0M549.5 498.7h0M547.7 481.4h0M567.8 504.5h0M557.2 477.6h0M566.8 516.3h0M575.0 470.3h0M549.5 468.5h0M539.4 505.3h0M562.3 468.9h0M542.8 522.1h0M547.5 503.0h0M570.9 477.6h0M558.7 491.9h0M566.2 474.2h0M532.4 524.2h0M551.5 492.3h0M566.5 468.3h0M533.3 514.5h0M553.8 475.5h0M556.6 472.2h0M519.2 521.3h0M573.1 506.9h0M541.2 523.2h0M549.1 480.1h0M574.2 480.8h0M526.3 545.3h0M557.5 494.3h0M544.9 530.3h0M551.7 500.1h0M539.7 507.5h0M569.9 472.2h0M535.6 544.3h0M556.1 460.8h0M558.5 492.9h0M549.8 475.8h0M547.3 492.6h0M547.4 494.3h0M565.2 461.6h0M557.3 462.5h0M549.9 489.8h0M536.0 521.2h0M553.3 511.9h0M558.4 505.2h0M550.6 504.8h0M570.9 477.4h0M524.7 509.2h0M565.7 490.4h0M548.5 495.8h0M535.3 496.0h0M527.0 502.6h0M563.0 506.6h0M559.0 477.1h0M548.1 476.7h0M550.4 512.3h0M553.4 466.5h0M545.2 483.1h0M567.0 488.4h0M559.7 463.3h0M549.4 493.1h0M528.4 579.7h0M570.0 490.4h0M544.5 476.1h0M536.8 519.1h0M568.9 502.4h0M558.0 480.5h0M523.3 536.5h0M528.1 529.1h0M545.6 479.3h0M533.7 488.7h0M549.0 472.3h0M543.1 493.9h0M546.8 479.2h0M550.5 487.2h0M562.2 462.1h0M563.4 462.7h0M549.5 473.0h0M530.7 534.6h0M566.0 498.3h0M548.7 548.4h0M557.4 527.7h0M560.9 479.1h0M540.0 485.2h0M574.4 473.0h0M552.2 502.0h0M554.2 535.7h0M545.1 580.0h0M560.9 509.2h0M565.1 476.0h0M543.4 544.5h0M559.2 470.0h0M545.1 481.5h0M534.1 486.2h0M546.6 509.4h0M559.6 513.1h0M558.8 491.0h0M566.1 501.6h0M541.8 533.2h0M547.0 475.8h0M552.2 470.0h0M559.7 492.3h0M549.5 467.4h0M538.0 489.2h0M529.7 570.7h0M567.5 502.7h0M566.0 485.2h0M542.0 531.2h0M571.6 504.2h0M550.3 475.2h0M557.5 471.2h0M568.7 463.7h0M544.5 509.1h0M540.5 487.1h0M527.1 491.8h0M555.4 487.9h0M557.4 495.9h0M563.2 495.6h0M559.6 485.4h0M552.7 497.0h0M567.1 461.9h0M537.0 481.9h0M556.6 482.4h0M558.3 463.2h0M549.5 491.7h0M575.1 488.3h0M557.3 495.1h0M569.9 464.6h0M563.7 516.2h0M548.7 509.7h0M564.6 481.3h0M566.6 494.8h0M551.5 500.2h0M549.6 503.6h0M536.9 522.8h0M549.1 504.8h0M548.0 481.2h0M554.1 473.9h0M545.4 503.3h0M559.2 491.9h0M550.1 513.9h0M529.3 502.3h0M544.2 493.3h0M538.8 540.4h0M533.6 508.2h0M547.7 479.6h0M563.9 464.5h0M535.7 519.6h0M523.5 509.4h0M549.0 472.4h0M536.7 483.0h0M543.1 504.0h0M555.0 478.7h0M545.6 479.2h0M563.2 467.6h0M571.3 501.5h0M549.1 492.2h0M567.7 459.8h0M536.2 535.2h0M554.2 475.4h0M533.7 517.2h0M553.9 473.2h0M542.8 501.9h0M554.6 510.4h0M535.7 496.7h0M554.5 501.9h0M552.9 464.5h0M543.4 494.1h0M540.2 510.6h0M534.9 522.0h0M545.8 490.6h0M556.9 469.2h0M549.5 495.7h0M553.5 489.4h0M568.9 469.5h0M546.8 495.6h0M555.4 494.3h0M562.8 509.6h0M558.5 499.6h0M556.7 556.5h0M552.4 495.0h0M561.6 487.9h0M550.3 529.7h0M546.0 475.7h0M559.5 501.2h0M574.0 484.7h0M571.0 482.0h0M551.8 508.9h0M562.9 469.8h0M558.3 495.8h0M552.4 508.6h0M560.4 473.9h0M559.9 521.2h0M553.3 467.0h0M575.3 505.8h0M546.1 492.7h0M570.7 465.7h0M544.2 494.4h0M572.2 490.2h0M555.2 484.9h0M548.8 492.2h0M529.2 524.0h0M550.6 496.2h0M558.8 472.6h0M529.6 493.9h0M529.9 537.6h0M563.0 468.8h0M559.9 473.0h0M526.1 534.9h0M550.6 501.0h0M556.1 516.5h0M530.4 529.2h0M564.7 508.8h0M533.0 544.1h0M567.1 474.6h0M554.2 509.3h0M541.7 477.7h0M529.1 527.2h0M546.6 534.7h0M550.0 508.6h0M549.6 509.1h0M543.1 476.1h0M548.4 481.3h0M563.4 459.2h0M538.7 537.4h0M548.5 522.4h0M557.7 476.5h0M551.0 527.9h0M563.3 481.4h0M572.9 477.2h0M546.4 514.6h0M554.3 497.2h0M546.5 519.0h0M560.6 491.2h0M535.8 495.8h0M569.8 483.5h0M525.2 505.8h0M570.0 486.1h0M544.2 472.6h0M537.2 525.1h0M544.6 483.2h0M547.6 475.2h0M537.2 506.6h0M532.2 524.8h0M544.0 476.9h0M564.4 467.9h0M556.9 486.4h0M569.9 509.2h0M542.8 491.7h0M546.3 522.6h0M546.6 498.7h0M553.3 492.6h0M557.7 493.2h0M575.6 494.9h0M561.0 492.4h0M553.5 474.6h0M570.0 497.3h0M540.4 509.9h0M533.0 500.5h0M560.5 495.8h0M553.6 489.6h0M552.9 498.0h0M564.1 540.9h0M546.6 474.5h0M549.7 562.0h0M556.5 490.5h0M560.2 485.2h0M564.9 482.6h0M552.8 496.5h0M554.9 482.4h0M517.7 566.9h0M568.2 490.6h0M529.5 527.6h0M550.6 471.4h0M574.0 512.6h0M546.7 479.7h0M529.3 499.8h0M573.5 473.0h0M543.5 490.3h0M548.9 475.2h0M548.9 511.3h0M561.4 476.3h0M561.9 493.9h0M549.5 477.7h0M566.6 501.0h0M538.7 500.0h0M560.5 463.5h0M542.5 525.1h0M560.8 493.2h0M541.9 509.8h0M545.1 485.4h0M571.6 461.4h0M535.6 533.3h0M534.9 495.9h0M559.1 494.3h0M547.4 510.0h0M545.2 497.8h0M549.2 490.7h0M555.0 517.9h0M536.8 488.0h0M547.4 500.4h0M553.4 519.1h0M538.1 486.2h0M550.6 510.8h0M557.8 476.8h0M538.5 479.6h0M566.6 500.3h0M535.3 506.7h0M549.1 466.8h0M555.7 482.9h0M541.0 514.6h0M526.9 538.0h0M555.0 493.0h0M547.5 484.4h0M542.8 546.8h0M566.1 462.3h0M554.0 529.7h0M531.3 519.1h0M556.5 473.3h0M538.8 503.6h0M552.3 496.2h0M530.3 540.6h0M561.2 471.7h0M517.7 525.6h0M548.7 480.5h0M568.9 492.4h0M558.2 498.0h0M546.2 551.2h0M547.8 515.5h0M545.2 508.5h0M555.6 506.7h0M550.3 476.5h0M550.8 473.2h0M540.9 487.9h0M544.5 489.9h0M559.5 474.8h0M542.6 481.3h0M539.9 511.1h0M543.4 506.0h0M546.2 470.9h0M553.4 469.6h0M544.3 515.5h0M548.4 487.7h0M540.7 507.1h0M568.1 460.8h0M552.3 499.0h0M546.7 482.2h0M555.0 505.0h0M550.4 493.4h0M529.4 499.9h0M548.5 501.8h0M573.8 462.4h0M558.0 516.4h0M567.3 492.0h0M541.8 494.9h0M530.5 501.9h0M541.4 475.2h0M569.7 485.3h0M537.2 514.0h0M540.0 479.6h0M566.3 500.6h0M547.6 485.1h0M548.3 508.0h0M556.3 502.1h0M552.2 500.2h0M546.8 496.8h0M554.5 487.3h0M541.1 496.1h0M550.4 480.7h0M560.1 501.1h0M536.4 505.6h0M548.1 521.2h0M535.2 500.7h0M561.3 477.8h0M559.5 492.9h0M564.0 476.1h0M565.3 474.0h0M565.2 497.4h0M560.9 460.9h0M540.3 524.5h0M563.9 466.3h0M538.4 493.9h0M543.6 501.5h0M555.0 510.3h0M559.2 475.7h0M534.0 541.4h0M565.8 488.8h0M567.2 501.1h0M529.3 537.4h0M543.3 475.5h0M544.5 491.6h0M542.1 522.0h0M570.1 483.8h0M537.2 511.1h0M536.3 485.8h0M565.5 465.7h0M547.4 482.1h0M569.9 482.4h0M517.2 547.5h0M545.0 522.1h0M567.8 487.4h0M540.5 496.2h0M567.4 491.1h0M543.9 477.0h0M566.7 468.8h0M559.1 467.4h0M545.2 510.0h0M540.4 519.1h0M548.6 503.3h0M567.0 493.2h0M550.9 501.0h0M541.8 478.5h0M552.4 505.4h0M529.2 514.0h0M547.8 506.5h0M558.5 462.0h0M536.5 483.5h0M550.8 468.8h0M545.1 499.2h0M530.5 492.5h0M557.3 461.4h0M535.2 534.1h0M540.5 507.7h0M568.0 466.8h0M535.5 503.6h0M559.3 531.0h0M567.3 476.6h0M564.7 511.6h0M557.4 488.0h0M547.7 507.2h0M531.6 527.3h0M552.9 483.8h0M557.1 493.9h0M543.9 532.1h0M537.3 514.4h0M562.9 495.1h0M536.3 521.0h0M557.0 465.9h0M544.3 474.8h0M527.6 543.1h0M573.2 509.2h0M559.3 513.2h0M558.4 518.3h0M531.3 496.7h0M549.1 482.9h0M554.7 490.7h0M540.5 505.4h0M573.6 494.5h0M522.9 508.6h0M560.5 476.8h0M524.6 496.1h0M529.1 549.9h0M533.0 491.1h0M558.6 473.7h0M540.8 484.7h0M541.4 503.5h0M538.1 518.1h0M530.2 519.2h0M538.2 485.8h0M536.9 482.2h0M546.1 492.8h0M545.3 504.6h0M517.3 533.0h0M541.5 503.3h0M567.2 508.0h0M543.8 473.2h0M549.3 487.4h0M540.3 524.6h0M540.7 517.0h0M549.2 515.1h0M531.5 487.1h0M547.8 520.2h0M527.0 492.3h0M554.7 463.3h0M528.2 505.6h0M559.0 498.9h0M563.9 464.0h0M527.5 529.6h0M559.2 496.8h0M544.2 489.9h0M565.9 482.0h0M542.5 477.9h0M545.9 485.4h0M545.7 491.9h0M567.1 525.1h0M523.0 534.0h0M560.3 463.6h0M551.0 521.3h0M542.9 510.5h0M546.4 481.4h0M562.6 461.3h0M561.1 471.0h0M573.1 472.9h0M540.8 526.0h0M523.5 501.6h0M542.0 517.8h0M546.9 472.1h0M543.6 483.3h0M566.5 533.9h0M567.6 487.0h0M554.9 491.3h0M524.9 525.9h0M564.0 464.2h0M540.7 484.9h0M550.2 496.8h0M561.2 464.2h0M554.7 473.9h0M548.6 509.0h0M553.5 495.4h0M560.0 494.0h0M558.2 486.3h0M538.5 499.9h0M538.7 485.7h0M541.5 512.9h0M560.9 486.6h0M552.6 496.3h0M561.3 461.1h0M529.8 514.7h0M546.5 497.4h0M558.4 493.1h0M548.8 487.4h0M544.0 472.8h0M553.3 535.6h0M572.3 491.3h0M520.4 527.8h0M571.5 517.6h0M553.4 499.4h0M537.7 512.9h0M558.6 464.3h0M550.1 518.1h0M566.2 516.9h0M538.4 522.9h0M562.9 519.2h0M537.0 493.9h0M553.9 498.3h0M559.1 503.9h0M548.4 490.5h0M558.4 486.0h0M541.3 477.5h0M564.2 478.1h0M542.6 489.1h0M539.8 480.4h0M547.9 486.5h0M548.8 498.4h0M538.0 494.4h0M560.5 467.6h0M547.8 493.1h0M557.9 459.7h0M528.9 514.0h0M531.4 500.0h0M545.9 477.0h0M535.8 524.1h0M547.7 498.5h0M557.3 483.9h0M564.9 488.1h0M569.8 468.8h0M560.4 486.5h0M539.8 481.5h0M557.1 466.8h0M542.3 480.9h0M557.0 467.4h0M535.0 500.7h0M568.1 466.4h0M555.3 493.6h0M545.6 487.3h0M530.8 519.9h0M553.4 483.8h0M542.3 482.9h0M553.0 487.9h0M539.7 515.1h0M542.1 524.8h0M558.2 466.6h0M570.0 473.4h0M532.1 517.8h0M546.9 472.5h0M555.0 504.5h0M547.5 476.0h0M543.5 490.6h0M554.2 479.0h0M538.0 480.7h0M554.6 465.4h0M542.9 480.3h0M548.3 482.8h0M518.0 549.0h0M561.8 482.8h0M546.7 505.8h0M536.3 571.7h0M572.6 516.0h0M545.8 510.5h0M541.1 525.8h0M537.9 501.3h0M564.3 502.3h0M550.0 489.7h0M545.3 520.5h0M531.3 496.0h0M537.1 564.0h0M554.4 487.8h0M549.3 492.5h0M521.8 522.2h0M537.5 487.2h0M552.7 494.5h0M553.0 486.6h0M539.2 491.7h0M518.9 535.0h0M560.2 508.9h0M543.0 489.8h0M531.4 492.5h0M557.4 504.1h0M546.4 483.4h0M536.3 505.9h0M531.5 510.4h0M547.9 504.3h0M550.8 473.7h0M525.1 495.3h0M563.2 485.6h0M532.1 492.4h0M569.0 484.7h0M554.2 469.2h0M547.0 482.3h0M554.3 475.0h0M541.4 474.8h0M548.7 473.1h0M572.4 484.0h0M541.7 481.7h0M560.9 525.7h0M537.2 488.6h0M549.4 470.2h0M562.9 474.1h0M533.0 539.1h0M554.3 488.7h0M519.9 509.1h0M533.8 519.0h0M543.8 482.8h0M561.8 497.6h0M559.5 466.6h0M537.0 532.1h0M547.8 489.5h0M552.2 478.3h0M528.0 506.2h0M555.5 480.0h0M568.3 472.3h0M566.8 476.8h0M541.5 481.1h0M544.0 494.0h0M536.7 520.5h0M542.8 503.9h0M546.2 526.0h0M559.0 491.8h0M550.8 547.3h0M536.8 491.2h0M560.9 502.6h0M561.8 483.8h0M541.2 483.7h0M546.2 505.9h0M548.2 502.7h0M526.9 524.4h0M551.5 487.2h0M558.9 506.9h0M556.3 485.2h0M552.3 468.0h0M545.7 483.6h0M547.6 523.9h0M558.1 476.1h0M560.6 466.4h0M537.8 515.0h0M552.3 482.7h0M558.7 556.5h0M521.9 515.0h0M568.6 502.1h0M546.7 509.9h0M561.7 486.6h0M549.0 506.3h0M546.3 477.4h0M548.6 482.0h0M553.7 506.5h0M561.7 494.2h0M546.0 492.9h0M534.2 503.1h0M540.0 489.8h0M536.2 491.5h0M560.2 485.7h0M536.5 520.4h0M570.7 508.6h0M551.5 492.9h0M548.5 494.2h0M567.8 485.3h0M544.7 511.4h0M545.7 489.9h0M560.5 507.6h0M560.0 467.1h0M536.0 515.0h0M570.6 469.6h0M557.6 493.5h0M532.5 505.4h0M547.4 484.0h0M562.6 486.4h0M552.8 532.2h0M561.6 493.8h0M573.6 470.7h0M562.7 496.7h0M552.0 503.9h0M559.3 540.2h0M540.7 484.7h0M570.8 519.6h0M540.2 491.1h0M563.1 461.0h0M559.0 482.9h0M538.3 485.3h0M540.2 514.3h0M547.6 485.3h0M555.5 551.1h0M568.4 492.6h0M551.1 491.7h0M554.0 494.5h0M562.2 479.1h0M541.3 542.0h0M541.6 482.4h0M551.4 502.1h0M543.1 484.8h0M549.0 466.7h0M561.0 488.8h0M553.9 503.0h0M563.8 525.4h0M540.8 522.9h0M538.4 510.1h0M531.1 565.2h0M525.8 515.6h0M544.2 509.0h0M551.4 482.3h0M547.7 480.5h0M550.5 488.4h0M537.7 515.7h0M535.4 525.3h0M546.8 509.4h0M543.8 493.5h0M538.0 489.9h0M569.2 487.5h0M550.1 475.7h0M567.8 465.9h0M535.0 496.4h0M555.2 513.5h0M549.2 510.0h0M538.6 478.5h0M550.5 479.9h0M548.8 513.7h0M558.3 499.3h0M532.7 509.2h0M557.1 497.6h0M560.7 504.2h0M542.4 485.9h0M519.4 556.5h0M541.3 485.3h0M545.2 473.7h0M561.2 499.7h0M542.1 492.6h0M534.8 528.5h0M559.2 491.6h0M555.8 481.5h0M560.8 471.7h0M551.3 481.0h0M565.3 463.7h0M557.8 548.1h0M526.1 499.9h0M553.5 509.4h0M561.4 462.3h0M551.2 494.4h0M570.9 467.8h0M544.4 526.1h0M560.4 472.0h0M533.8 540.5h0M550.8 508.1h0M543.2 510.7h0M536.9 488.7h0M532.7 497.6h0M553.8 469.0h0M556.7 482.1h0M542.0 502.8h0M533.7 505.0h0M538.7 515.5h0M561.3 499.6h0M534.2 519.4h0M566.5 465.1h0M527.7 515.6h0M554.6 472.2h0M560.0 500.0h0M567.6 499.6h0M544.9 481.4h0M540.2 510.7h0M531.1 503.5h0M563.4 475.8h0M549.0 471.5h0M544.5 482.3h0M545.0 509.8h0M554.3 482.7h0M551.3 496.3h0M567.1 465.6h0M521.1 520.4h0M562.5 501.1h0M543.5 501.1h0M549.7 471.7h0M546.5 506.5h0M549.7 477.0h0M561.3 466.1h0M553.9 486.6h0M530.9 563.7h0M549.9 479.5h0M549.5 514.1h0M556.0 510.1h0M551.4 471.4h0M549.8 503.7h0M565.0 536.6h0M535.8 481.8h0M541.2 535.0h0M543.1 474.8h0M536.6 499.9h0M561.7 495.5h0M565.7 472.4h0M568.2 543.1h0M571.1 496.8h0M557.5 481.9h0M551.8 481.1h0M556.1 467.8h0M550.9 557.4h0M543.5 514.0h0M573.1 550.4h0M573.5 474.2h0M551.1 542.8h0M547.8 488.6h0M544.2 487.5h0M527.7 488.9h0M541.6 518.1h0M543.9 506.1h0M550.7 493.0h0M537.2 489.7h0M524.7 539.7h0M560.0 490.9h0M574.8 473.7h0M521.6 504.4h0M549.1 497.7h0M562.8 482.7h0M534.9 504.0h0M531.2 501.7h0M551.5 511.8h0M547.8 488.6h0M542.2 513.3h0M573.7 491.8h0M571.8 485.6h0M560.1 571.2h0M550.2 515.0h0M546.6 491.0h0M563.3 496.4h0M547.9 512.6h0M571.7 475.8h0M568.4 472.9h0M542.8 477.0h0M561.7 462.8h0M572.9 458.2h0M560.3 470.9h0M538.2 511.4h0M547.6 511.1h0M546.6 477.1h0M553.0 472.2h0M551.8 509.9h0M546.5 511.0h0M563.3 461.1h0M570.1 489.9h0M543.7 492.6h0M531.1 528.2h0M556.7 505.9h0M551.6 476.3h0M557.4 482.8h0M542.2 485.1h0M555.6 517.4h0M539.1 520.7h0M566.7 495.0h0M574.9 504.7h0M538.9 566.6h0M515.9 535.2h0M545.0 512.7h0M544.5 472.9h0M554.5 496.7h0M552.1 469.2h0M558.7 479.4h0M539.5 519.0h0M544.2 476.6h0M546.7 502.5h0M557.9 496.9h0M526.4 521.7h0M562.8 462.8h0M543.3 507.5h0M532.1 534.7h0M540.3 491.8h0M558.9 492.5h0M563.6 474.5h0M569.2 467.2h0M558.1 503.1h0M542.1 527.2h0M559.7 481.2h0M551.0 484.5h0M550.2 508.3h0M523.7 514.7h0M574.4 481.9h0M562.8 498.9h0M557.8 476.2h0M550.9 491.9h0M544.4 510.2h0M538.9 504.3h0M530.7 523.8h0M558.4 469.2h0M565.2 499.1h0M561.6 508.2h0M557.3 462.9h0M525.8 530.1h0M548.5 471.7h0M554.0 469.3h0M568.3 496.0h0M538.5 523.3h0M556.1 460.8h0M549.1 471.3h0M552.8 490.8h0M541.6 513.1h0M557.4 507.8h0M553.5 480.0h0M526.6 535.0h0M569.2 512.9h0M537.0 543.1h0M540.3 511.4h0M568.3 572.1h0M538.9 480.7h0M545.2 512.6h0M575.3 503.2h0M555.3 467.9h0M573.5 469.5h0M556.6 480.0h0M566.5 493.8h0M550.3 493.6h0M572.4 473.0h0M569.9 508.5h0M562.0 478.3h0M544.8 488.9h0M547.6 502.5h0M539.6 476.6h0M561.0 473.6h0M559.9 494.6h0M543.1 478.8h0M565.4 479.1h0M544.8 493.3h0M549.5 484.1h0M564.2 470.6h0M574.7 509.4h0M542.9 489.8h0M539.0 500.3h0M527.6 491.3h0M561.7 479.1h0M537.3 513.5h0M571.4 499.4h0M554.8 503.5h0M563.4 476.7h0M535.2 527.3h0M544.7 507.9h0M555.4 533.2h0M563.1 465.6h0M535.1 515.3h0M557.6 508.9h0M541.5 523.2h0M564.1 477.6h0M549.8 493.3h0M548.8 491.6h0M559.0 487.1h0M568.9 475.4h0M549.6 528.4h0M569.8 467.8h0M539.2 489.5h0M556.8 468.7h0M537.5 547.9h0M555.9 462.5h0M540.4 482.3h0M553.4 468.8h0M561.5 491.0h0M539.6 521.6h0M528.8 489.9h0M550.5 524.5h0M560.1 482.9h0M556.1 507.1h0M540.4 499.8h0M564.4 513.3h0M548.9 492.7h0M563.4 505.3h0M540.7 490.2h0M559.0 476.4h0M569.1 500.5h0M543.8 500.4h0M548.9 511.4h0M561.4 500.7h0M560.1 502.6h0M557.7 498.3h0M551.2 492.9h0M531.3 486.3h0M552.7 511.9h0M535.1 522.8h0M553.9 492.8h0M520.6 515.2h0M572.5 465.8h0M570.2 476.1h0M558.9 528.4h0M541.1 502.5h0M548.6 472.2h0M564.9 508.2h0M561.8 491.6h0M543.2 506.0h0M569.2 549.8h0M562.7 514.0h0M560.1 470.6h0M547.9 487.3h0M552.7 462.9h0M543.0 477.8h0M555.3 511.5h0M543.6 521.0h0M568.8 480.2h0M553.2 484.2h0M555.6 493.3h0M557.2 468.3h0M557.1 484.8h0M533.2 522.0h0M570.2 493.8h0M554.0 467.5h0M545.1 526.1h0M539.4 508.8h0M543.3 486.2h0M544.3 488.0h0M552.8 496.2h0M540.9 493.6h0M554.1 499.5h0M554.6 499.4h0M543.2 513.7h0M565.6 470.7h0M551.0 503.4h0M557.2 480.2h0M554.1 495.4h0M550.4 511.0h0M561.8 505.9h0M571.4 469.5h0M551.6 495.7h0M540.8 482.5h0M560.0 481.7h0M523.0 524.1h0M554.6 467.7h0M549.9 494.6h0M556.9 482.9h0M531.8 499.5h0M546.5 512.2h0M538.4 483.6h0M545.0 538.9h0M560.4 459.8h0M549.6 491.2h0M544.1 497.9h0M568.5 466.7h0M552.4 527.0h0M524.6 505.4h0M538.0 500.1h0M557.8 490.8h0M558.1 485.0h0M555.1 495.7h0M555.7 471.2h0M539.8 505.1h0M550.7 501.4h0M535.8 499.5h0M540.5 491.1h0M539.5 514.7h0M540.4 478.7h0M547.2 494.3h0M548.7 484.8h0M540.9 518.9h0M566.5 497.9h0M545.5 506.3h0M572.6 487.7h0M565.3 500.0h0M535.1 517.6h0M563.7 487.5h0M532.5 487.5h0M571.3 494.6h0M556.0 465.6h0M538.0 479.6h0M521.6 516.1h0M546.0 499.6h0M533.0 527.5h0M566.3 475.9h0M534.4 514.3h0M548.1 480.4h0M557.9 466.0h0M551.4 527.7h0M554.7 497.5h0M547.8 502.4h0M561.0 474.0h0M538.4 495.9h0M558.9 496.2h0M534.7 491.8h0M553.5 474.5h0M535.6 543.0h0M548.3 471.2h0M559.0 486.4h0M567.9 472.1h0M526.5 502.6h0M540.6 516.5h0M537.7 493.1h0M567.5 488.6h0M539.2 497.3h0M560.6 501.5h0M543.9 474.8h0M531.3 519.3h0M552.5 472.0h0M535.4 513.8h0M560.9 476.3h0M562.2 484.1h0M569.1 469.7h0M537.1 533.9h0M572.3 482.5h0M564.1 513.4h0M526.5 492.4h0M550.8 499.7h0M573.8 459.3h0M536.7 505.1h0M555.4 491.1h0M532.6 537.7h0M549.0 528.6h0M553.4 462.2h0M559.3 463.1h0M539.6 479.8h0M550.5 486.2h0M538.2 497.2h0M556.1 463.2h0M559.9 494.0h0M551.8 489.0h0M566.5 463.0h0M561.2 483.6h0M555.9 476.3h0M566.7 479.9h0M533.9 527.6h0M550.4 500.7h0M526.7 503.8h0M550.6 471.2h0M544.4 484.3h0M562.1 461.1h0M544.8 517.3h0M542.1 474.4h0M549.6 494.8h0M549.0 475.7h0M557.9 538.0h0M538.9 544.1h0M530.4 521.9h0M529.1 531.9h0M566.6 501.5h0M533.6 496.8h0M544.5 497.5h0M535.8 502.8h0M562.9 543.8h0M543.1 518.6h0M567.6 461.5h0M541.2 566.7h0M554.9 468.9h0M561.2 476.1h0M564.1 487.8h0M534.6 501.3h0M545.9 490.5h0M549.8 475.1h0M525.9 502.9h0M560.6 491.4h0M556.2 496.5h0M557.8 490.1h0M531.9 540.8h0M553.4 467.9h0M556.9 492.7h0M565.0 460.2h0M543.8 475.3h0M560.2 493.8h0M565.0 472.5h0M545.0 497.4h0M545.3 517.2h0M546.5 472.6h0M530.5 546.1h0M546.0 511.9h0M573.1 484.4h0M538.2 497.0h0M548.3 475.5h0M567.3 487.4h0M558.7 464.8h0M554.1 469.7h0M546.4 502.7h0M549.4 473.1h0M551.1 479.9h0M560.4 459.5h0M552.0 493.2h0M563.8 500.7h0M525.5 527.5h0M562.2 499.0h0M543.8 568.4h0M551.1 474.6h0M545.2 495.0h0M559.8 468.0h0M549.4 478.4h0M559.5 517.9h0M540.0 481.5h0M553.6 471.4h0M567.8 503.0h0M566.2 483.1h0M546.1 532.1h0M553.0 482.0h0M546.0 479.6h0M549.4 490.0h0M551.3 494.2h0M567.5 542.6h0M559.0 478.6h0M570.9 490.8h0M572.0 459.9h0M533.8 486.4h0M555.2 498.8h0M545.0 509.3h0M529.0 516.1h0M536.3 491.9h0M544.2 533.9h0M573.8 490.8h0M552.2 487.7h0M548.5 583.9h0M550.7 477.5h0M540.9 525.1h0M553.4 465.7h0M549.8 470.6h0M528.9 516.0h0M543.8 508.2h0M543.8 506.9h0M559.7 491.2h0M549.8 513.2h0M560.1 501.7h0M537.9 504.6h0M552.3 488.5h0M563.0 500.6h0M529.3 531.1h0M541.1 532.6h0M545.7 505.4h0M547.3 521.7h0M544.1 504.0h0M554.8 528.8h0M564.9 491.8h0M555.8 478.3h0M565.0 493.8h0M565.3 468.6h0M543.0 494.8h0M554.8 509.0h0M546.0 509.8h0M560.0 482.7h0M546.4 494.1h0M548.6 512.8h0M574.1 461.1h0M548.7 475.4h0M530.0 514.7h0M552.7 496.6h0M555.1 476.2h0M544.3 511.4h0M552.1 481.1h0M564.9 476.3h0M544.1 557.7h0M548.6 483.8h0M541.6 545.5h0M555.6 496.0h0M549.5 495.6h0M538.7 515.9h0M549.1 519.0h0M555.2 493.3h0M528.1 512.0h0M532.5 524.4h0M555.7 468.2h0M532.5 495.5h0M570.4 507.6h0M531.1 525.5h0M533.6 494.4h0M544.2 503.3h0M565.8 468.6h0M562.0 464.8h0M558.9 466.0h0M555.2 486.2h0M568.7 479.7h0M526.7 525.1h0M554.9 477.3h0M570.5 462.2h0M536.8 506.8h0M555.5 469.1h0M567.7 485.2h0M568.1 513.4h0M549.4 468.5h0M541.6 522.7h0M558.0 493.8h0M565.6 489.9h0M536.8 507.7h0M541.0 494.2h0M541.0 495.6h0M575.0 487.8h0M519.8 510.2h0M526.5 525.6h0M562.0 484.2h0M553.2 508.5h0M545.9 509.9h0M547.1 476.0h0M567.5 492.5h0M525.5 500.6h0M544.1 511.1h0M565.6 506.4h0M561.5 462.1h0M538.8 508.6h0M547.4 500.6h0M531.4 489.3h0M569.6 498.3h0M545.5 497.5h0M568.3 481.6h0M562.0 523.8h0M539.3 514.9h0M549.3 478.4h0M560.0 491.2h0M557.2 463.7h0M571.8 491.8h0M566.3 462.9h0M555.7 461.3h0M560.6 466.8h0M541.8 481.5h0M543.3 493.1h0M559.4 490.7h0M555.8 470.7h0M536.5 516.8h0M550.3 468.9h0M540.6 549.2h0M543.9 489.3h0M568.7 462.8h0M538.7 537.7h0M542.6 481.5h0M558.9 467.9h0M552.4 501.8h0M553.6 495.1h0M532.0 546.4h0M551.0 476.1h0M546.4 487.0h0M540.6 516.2h0M543.9 487.8h0M547.5 476.9h0M562.7 465.9h0M560.8 465.0h0M552.9 464.9h0M571.3 488.6h0M553.0 542.8h0M531.6 530.5h0M552.2 512.4h0M568.6 487.4h0M570.2 472.4h0M539.7 481.1h0M574.0 503.4h0M541.6 486.1h0M541.7 535.7h0M544.5 507.7h0M570.9 467.8h0M556.9 469.5h0M563.7 461.6h0M521.8 537.1h0M550.8 504.9h0M550.0 505.0h0M560.9 472.5h0M545.3 495.3h0M567.5 516.4h0M542.3 523.3h0M532.9 493.9h0M529.6 537.4h0M568.5 509.4h0M561.7 487.4h0M541.1 497.0h0M566.3 517.3h0M549.3 495.0h0M550.0 506.0h0M532.1 497.9h0M544.3 503.5h0M553.1 487.8h0M554.3 494.4h0M544.1 505.4h0M564.9 498.6h0M570.9 490.0h0M540.8 510.7h0M557.0 498.2h0M531.3 519.7h0M557.2 483.2h0M538.8 486.6h0M549.6 475.1h0M554.0 479.0h0M548.4 471.6h0M565.6 459.1h0M541.3 489.9h0M545.4 483.5h0M556.0 480.2h0M551.2 478.0h0M555.1 544.2h0M548.9 517.2h0M540.9 478.7h0M560.5 465.1h0M552.7 466.3h0M563.7 495.1h0M569.5 478.2h0M547.0 504.3h0M541.8 484.1h0M545.7 516.4h0M543.1 500.1h0M525.2 515.9h0M573.6 466.1h0M557.2 486.2h0M543.2 475.1h0M544.3 473.7h0M559.6 460.5h0M555.4 476.2h0M550.8 496.3h0M564.8 489.9h0M551.8 468.7h0M550.7 507.9h0M553.9 492.8h0M522.0 502.4h0M542.2 554.8h0M542.0 542.0h0M573.7 473.4h0M559.6 481.9h0M562.2 501.5h0M560.1 463.7h0M549.2 481.7h0M573.8 544.6h0M549.0 524.9h0M533.0 500.1h0M560.2 504.1h0M567.5 468.5h0M553.2 536.2h0M556.7 468.1h0M564.6 465.4h0M572.2 490.0h0M559.6 527.9h0M574.2 476.1h0M555.7 491.6h0M568.9 509.5h0M533.5 516.2h0M564.4 467.2h0M555.7 520.7h0M553.4 499.1h0M534.8 484.0h0M566.1 504.1h0M549.3 487.8h0M538.6 511.6h0M543.5 516.6h0M548.8 505.8h0M553.2 482.5h0M539.8 507.6h0M539.6 504.7h0M557.4 496.7h0M550.9 503.6h0M540.4 489.5h0M546.3 503.3h0M561.8 471.6h0M575.0 462.5h0M549.2 470.2h0M565.0 493.5h0M555.9 512.8h0M552.6 488.8h0M573.2 506.7h0M538.7 498.7h0M543.8 525.0h0M528.3 528.0h0M550.3 489.4h0M564.9 493.7h0M548.5 496.2h0M562.8 495.9h0M541.8 509.5h0M567.0 467.2h0M550.4 498.2h0M545.5 482.7h0M573.6 493.0h0M551.7 468.4h0M559.5 503.9h0M553.5 483.5h0M561.2 465.0h0M553.5 544.7h0M535.9 501.9h0M555.6 468.1h0M558.2 469.4h0M557.0 463.8h0M548.8 490.9h0M560.7 460.3h0M542.2 519.6h0M553.5 508.1h0M554.6 486.5h0M537.5 534.1h0M536.0 532.0h0M560.6 482.4h0M560.8 464.3h0M553.7 473.5h0M530.6 515.0h0M548.0 490.7h0M555.0 480.2h0M560.1 460.6h0M567.6 490.4h0M557.9 483.5h0M564.6 499.5h0M573.9 495.3h0M520.9 544.2h0M565.0 461.6h0M546.0 486.3h0M558.2 546.2h0M554.6 484.1h0M538.3 487.3h0M539.8 482.4h0M557.6 487.1h0M549.4 470.4h0M561.5 476.6h0M546.7 504.0h0M536.7 490.5h0M548.4 469.2h0M564.2 489.8h0M541.7 517.1h0M559.2 489.5h0M566.7 524.5h0M534.4 522.8h0M539.0 506.7h0M557.2 495.3h0M567.0 494.3h0M569.9 515.8h0M559.1 496.2h0M565.6 496.5h0M536.4 482.7h0M546.2 496.9h0M570.9 486.8h0M544.4 502.8h0M548.6 474.6h0M528.8 558.2h0M549.2 470.9h0M530.7 509.9h0M556.5 505.2h0M571.2 481.0h0M555.9 524.7h0M554.0 510.6h0M546.4 480.8h0M559.0 462.3h0M537.0 552.4h0M545.6 480.0h0M538.0 496.8h0M534.4 512.3h0M544.2 482.0h0M533.2 518.2h0M568.0 476.4h0M548.6 477.2h0M534.8 529.7h0M535.1 490.2h0M566.3 496.5h0M560.6 523.6h0M562.2 473.4h0M550.8 479.2h0M563.5 477.0h0M569.0 469.3h0M560.4 502.3h0M530.4 532.9h0M525.5 527.9h0M532.2 524.8h0M555.1 471.6h0M531.7 563.0h0M537.2 490.3h0M552.0 466.3h0M539.8 504.0h0M534.5 495.0h0M564.2 487.3h0M557.9 503.3h0M561.8 461.1h0M563.6 477.0h0M570.5 476.8h0M550.8 484.1h0M548.9 491.5h0M528.0 510.0h0M548.1 559.6h0M543.3 512.7h0M565.1 476.3h0M560.2 463.7h0M570.8 493.8h0M565.7 483.7h0M566.9 499.1h0M558.2 480.4h0M553.0 469.8h0M546.1 592.6h0M550.9 501.4h0M538.5 514.3h0M556.3 513.0h0M550.0 510.1h0M524.2 498.5h0M515.3 566.5h0M541.4 476.4h0M544.9 516.7h0M547.1 491.3h0M568.2 466.8h0M542.7 505.5h0M534.2 498.3h0M556.1 480.4h0M564.3 486.2h0M572.8 484.4h0M537.6 540.4h0M547.7 530.6h0M545.4 520.5h0M571.0 464.4h0M560.2 495.4h0M551.3 514.6h0M560.6 501.4h0M546.2 534.7h0M548.3 521.5h0M550.5 497.3h0M544.3 481.4h0M547.6 499.6h0M555.6 480.2h0M554.1 493.9h0M570.5 496.5h0M562.3 488.2h0M549.9 467.6h0M521.9 511.4h0M531.3 491.4h0M544.2 517.5h0M545.8 489.0h0M533.5 484.1h0M545.9 529.9h0M552.3 485.8h0M542.4 478.8h0M548.9 491.8h0M549.5 518.9h0M541.5 519.6h0M539.4 521.3h0M549.1 519.3h0M554.3 469.0h0M537.0 526.8h0M523.8 545.9h0M538.1 512.2h0M557.4 499.1h0M529.4 528.8h0M562.9 483.4h0M542.9 516.1h0M552.3 509.2h0M540.4 493.2h0M558.3 515.5h0M551.3 494.0h0M555.5 506.8h0M525.0 501.1h0M560.1 476.5h0M528.5 536.2h0M546.2 507.7h0M557.4 506.0h0M548.1 469.0h0M557.2 484.0h0M552.8 530.9h0M551.8 489.4h0M539.9 518.0h0M563.8 490.6h0M565.3 506.8h0M543.5 484.3h0M538.8 516.6h0M553.2 481.2h0M540.6 496.9h0M552.4 470.7h0M561.3 507.1h0M559.3 497.0h0M569.9 495.3h0M556.6 467.1h0M536.9 495.0h0M539.3 498.9h0M557.5 509.1h0M575.5 501.6h0M545.9 501.9h0M538.5 482.7h0M568.8 506.4h0M548.9 500.1h0M559.6 492.1h0M564.6 498.2h0M537.7 496.8h0M545.8 494.9h0M543.3 498.4h0M557.4 516.8h0M559.1 515.0h0M544.0 484.7h0M557.8 468.2h0M527.2 505.9h0M555.1 475.7h0M555.0 465.9h0M550.5 500.9h0M531.6 498.4h0M549.2 509.8h0M536.5 503.2h0M569.4 483.0h0M546.7 499.9h0M547.8 505.4h0M549.0 498.8h0M557.5 560.1h0M551.5 495.3h0M557.5 520.4h0M538.4 509.0h0M564.8 508.9h0M544.1 498.6h0M560.3 465.0h0M553.6 501.9h0M564.4 469.2h0M549.5 498.1h0M531.3 486.6h0M535.5 505.9h0M547.5 480.4h0M568.5 490.7h0M545.0 497.3h0M551.2 516.8h0M566.8 463.0h0M543.2 476.6h0M554.5 479.5h0M554.2 475.0h0M542.7 501.4h0M553.5 504.6h0M564.1 523.8h0M564.1 492.0h0M546.1 498.0h0M545.8 497.4h0M555.0 464.8h0M546.9 519.6h0M541.1 498.7h0M537.7 550.3h0M561.1 496.1h0M548.5 488.6h0M532.7 533.1h0M548.3 493.9h0M550.0 469.8h0M533.5 570.0h0M537.7 490.1h0M566.9 478.3h0M543.3 551.6h0M550.4 502.8h0M546.4 501.6h0M561.2 485.6h0M566.3 500.9h0M562.4 499.7h0M557.7 465.5h0M557.8 488.2h0M535.1 584.0h0M567.5 490.0h0M543.2 526.8h0M539.0 541.7h0M545.6 485.7h0M540.2 516.3h0M555.8 480.5h0M559.9 498.9h0M567.1 466.8h0M549.3 483.1h0M542.8 507.5h0M546.9 480.7h0M535.3 540.0h0M540.9 495.6h0M560.2 493.4h0M540.5 496.7h0M544.5 553.6h0M558.6 489.1h0M553.8 472.0h0M560.4 482.4h0M539.2 480.1h0M536.6 491.9h0M567.6 482.8h0M541.7 490.5h0M549.2 480.0h0M553.2 480.1h0M526.5 555.9h0M548.0 500.8h0M542.0 497.9h0M557.3 491.6h0M546.4 498.4h0M521.3 531.5h0M560.7 518.4h0M517.3 540.1h0M545.2 525.2h0M541.5 531.0h0M542.5 498.4h0M550.3 508.8h0M562.8 490.9h0M539.2 520.4h0M542.5 495.6h0M560.1 462.7h0M557.0 463.1h0M559.8 477.0h0M554.8 463.9h0M547.3 476.2h0M544.1 509.7h0M544.3 508.5h0M562.2 529.0h0M569.9 480.0h0M542.9 495.1h0M537.0 478.8h0M547.4 482.5h0M550.5 508.4h0M548.3 473.7h0M535.8 485.7h0M556.7 466.0h0M570.1 499.2h0M548.4 506.0h0M544.6 522.8h0M550.4 481.4h0M534.8 522.0h0M546.1 497.4h0M560.5 465.5h0M572.0 465.9h0M562.1 496.7h0M567.4 460.7h0M536.8 493.9h0M568.4 510.3h0M552.9 494.2h0M549.4 508.9h0M572.3 486.0h0M538.0 481.7h0M538.1 524.5h0M540.8 510.2h0M571.6 496.2h0M562.9 483.1h0M527.3 564.0h0M572.1 508.0h0M550.7 466.6h0M556.1 492.2h0M540.4 479.9h0M575.1 545.2h0M556.2 480.8h0M567.7 483.3h0M537.5 482.1h0M559.6 483.9h0M551.7 517.8h0M547.6 484.7h0M539.9 529.2h0M541.3 510.0h0M535.2 491.1h0M541.8 528.7h0M550.2 507.3h0M558.1 465.9h0M530.1 532.3h0M536.9 488.7h0M542.5 486.0h0M529.0 493.5h0M546.7 492.0h0M547.0 495.6h0M548.0 521.4h0M555.9 479.2h0M562.9 501.7h0M561.0 461.6h0M554.2 467.7h0M558.2 496.1h0M540.1 480.8h0M538.1 486.3h0M559.0 472.6h0M557.9 499.1h0M537.0 538.1h0M547.5 509.2h0M537.5 513.5h0M554.3 500.8h0M544.6 484.1h0M538.8 506.9h0M568.4 512.0h0M545.5 524.9h0M555.4 484.9h0M541.9 479.6h0M553.9 501.0h0M549.8 480.2h0M532.3 533.8h0M561.5 509.9h0M555.0 483.1h0M567.0 463.2h0M543.2 475.8h0M550.3 474.0h0M549.0 469.3h0M527.9 562.1h0M573.4 494.1h0M523.0 517.5h0M535.5 512.2h0M545.9 516.8h0M530.0 509.6h0M556.1 466.6h0M544.5 494.9h0M551.6 491.0h0M553.7 509.6h0M551.6 468.6h0M551.9 470.8h0M548.6 490.6h0M556.3 498.9h0M561.3 477.3h0M547.3 516.2h0M544.8 510.0h0M545.4 522.5h0M554.7 477.6h0M545.8 489.4h0M545.6 519.9h0M530.8 546.9h0M567.9 498.8h0M534.4 509.6h0M572.9 481.4h0M561.3 492.7h0M564.3 478.2h0M554.2 491.8h0M557.3 535.6h0M554.6 500.9h0M558.6 495.8h0M561.9 496.8h0M571.0 468.4h0M537.7 505.4h0M557.3 475.3h0M572.3 463.8h0M569.4 493.0h0M537.3 489.1h0M555.1 474.9h0M554.6 471.0h0M554.2 478.5h0M521.1 510.9h0M562.4 490.7h0M529.6 538.8h0M569.3 485.3h0M559.7 475.8h0M549.7 486.2h0M559.5 483.4h0M552.9 488.2h0M544.0 486.3h0M549.8 500.5h0M555.7 500.4h0M540.4 497.2h0M560.6 464.5h0M566.0 491.6h0M565.4 475.0h0M566.8 480.4h0M568.5 513.9h0M560.6 474.5h0M568.6 468.2h0M552.0 530.4h0M556.6 462.9h0M570.1 469.8h0M540.7 493.6h0M546.5 499.9h0M531.8 499.5h0M539.9 502.7h0M566.7 527.7h0M575.6 481.1h0M563.3 486.3h0M554.5 501.4h0M542.8 543.0h0M538.4 513.5h0M570.7 465.4h0M564.4 477.7h0M555.5 467.0h0M536.4 510.1h0M544.3 488.0h0M543.0 478.0h0M547.2 523.9h0M554.3 490.3h0M572.2 464.1h0M544.0 495.4h0M551.6 481.5h0M555.0 482.4h0M537.9 497.2h0M557.1 476.6h0M540.4 486.1h0M545.4 477.8h0M554.7 521.7h0M550.6 490.2h0M552.6 504.4h0M538.9 491.0h0M561.1 480.1h0M536.7 486.1h0M562.7 483.2h0M544.8 516.6h0M535.4 547.3h0M550.1 512.4h0M537.1 502.2h0M544.2 477.2h0M549.3 470.8h0M561.8 480.7h0M562.0 505.9h0M557.7 471.1h0M547.5 468.6h0M530.8 494.7h0M548.3 493.1h0M547.0 486.9h0M549.6 500.1h0M544.2 489.4h0M544.3 501.5h0M562.1 471.9h0M533.3 491.8h0M551.4 465.7h0M568.3 508.0h0M540.9 526.8h0M538.0 482.6h0M548.3 512.0h0M546.7 472.0h0M554.8 487.5h0M569.6 485.9h0M549.6 487.7h0M558.8 470.8h0M543.5 478.8h0M544.7 518.6h0M555.3 480.9h0M542.3 502.2h0M567.5 469.2h0M545.8 530.4h0M549.1 510.9h0M537.2 500.4h0M545.4 509.3h0M537.8 511.0h0M544.7 547.0h0M527.3 533.0h0M551.1 465.8h0M574.8 463.1h0M525.9 539.0h0M574.7 467.0h0M549.6 495.1h0M563.2 490.7h0M537.6 510.5h0M556.6 468.3h0M536.7 493.8h0M550.2 510.4h0M572.3 487.7h0M534.0 492.3h0M519.6 507.3h0M550.3 514.0h0M540.8 495.1h0M538.1 505.3h0M538.8 513.9h0M531.4 529.3h0M570.2 465.2h0M567.8 514.7h0M532.7 523.4h0M549.8 499.5h0M545.0 495.8h0M566.2 499.7h0M539.8 546.5h0M573.3 465.9h0M551.3 499.3h0M540.5 475.6h0M550.0 476.6h0M543.2 491.7h0M548.7 515.4h0M553.2 476.5h0M544.6 530.7h0M552.5 473.3h0M571.3 464.5h0M538.1 516.5h0M528.2 513.1h0M569.1 467.3h0M559.5 471.1h0M545.0 572.0h0M550.1 496.7h0M566.3 514.3h0M568.6 465.8h0M548.7 502.0h0M560.4 496.7h0M550.4 495.6h0M572.6 493.6h0M542.7 482.9h0M566.2 494.1h0M515.4 531.6h0M551.7 557.9h0M561.9 495.3h0M529.9 504.8h0M523.3 533.1h0M552.4 471.6h0M565.0 463.9h0M567.4 476.0h0M541.7 500.8h0M555.9 507.0h0M531.7 513.3h0M575.1 507.3h0M543.2 505.3h0M568.6 468.0h0M547.4 479.0h0M546.5 511.9h0M573.4 483.6h0M539.1 552.3h0M568.9 464.5h0M546.2 501.1h0M539.0 509.6h0M539.5 502.6h0M566.6 525.3h0M550.0 523.5h0M546.2 512.1h0M530.3 518.9h0M567.2 497.5h0M565.5 526.1h0M555.5 489.9h0M561.8 493.6h0M543.7 474.7h0M553.3 497.3h0M552.5 506.2h0M543.2 505.1h0M554.3 491.2h0M541.0 520.6h0M542.0 480.2h0M533.8 503.2h0M552.9 468.2h0M541.1 517.1h0M544.1 477.0h0M570.1 518.8h0M550.4 492.1h0M550.5 508.4h0M529.8 514.1h0M543.8 482.3h0M564.6 480.8h0M558.6 465.5h0M551.7 472.5h0M548.6 485.6h0M551.9 484.2h0M556.5 474.2h0M546.5 486.3h0M516.7 546.5h0M541.9 509.7h0M566.7 480.3h0M548.9 501.3h0M570.5 477.8h0M533.0 519.0h0M568.8 466.9h0M553.6 472.6h0M563.3 474.4h0M546.2 510.9h0M553.1 505.3h0M559.1 459.8h0M565.5 478.1h0M558.1 459.8h0M557.1 494.3h0M542.8 516.4h0M574.7 512.4h0M553.9 477.8h0M547.9 502.4h0M546.5 495.4h0M534.4 493.2h0M540.8 481.7h0M530.0 494.0h0M553.8 478.2h0M549.9 539.6h0M554.0 464.6h0M533.7 519.2h0M545.2 497.7h0M542.1 487.2h0M564.7 482.3h0M530.4 510.9h0M530.0 522.4h0M568.7 479.5h0M556.0 464.8h0M529.3 522.7h0M569.6 464.3h0M571.6 520.2h0M566.8 493.9h0M522.5 512.3h0M552.7 505.3h0M539.0 496.4h0M547.3 497.5h0M529.2 520.3h0M574.9 474.9h0M541.4 507.9h0M554.8 476.1h0M562.1 485.5h0M559.5 491.7h0M556.7 464.1h0M545.6 484.5h0M554.0 519.4h0M547.9 479.9h0M519.6 529.0h0M564.8 482.8h0M542.3 499.2h0M543.8 483.8h0M545.3 490.7h0M531.8 484.5h0M534.2 501.5h0M526.1 502.9h0M557.4 481.8h0M567.3 464.8h0M552.0 484.9h0M535.1 534.9h0M569.0 465.4h0M546.6 541.8h0M528.9 525.2h0M525.0 542.7h0M553.5 492.3h0M570.9 467.9h0M545.6 564.6h0M542.2 504.4h0M547.2 489.8h0M539.2 489.4h0M543.4 492.3h0M554.4 497.5h0M541.0 535.5h0M563.8 534.0h0M537.4 509.3h0M560.7 464.4h0M555.7 471.7h0M545.6 539.8h0M546.8 505.9h0M546.4 505.3h0M574.1 469.9h0M539.7 502.2h0M567.3 473.4h0M564.9 474.3h0M546.3 471.3h0M573.3 507.4h0M518.1 545.5h0M554.3 511.2h0M552.7 507.6h0M551.2 495.2h0M562.5 490.1h0M545.4 516.3h0M548.4 484.6h0M566.8 493.1h0M549.3 501.6h0M536.6 479.8h0M558.8 497.5h0M549.8 480.8h0M543.1 476.1h0M558.5 476.1h0M540.3 509.9h0M537.4 517.3h0M547.3 534.4h0M548.3 498.5h0M551.6 518.2h0M534.3 519.4h0M574.7 473.3h0M560.2 476.9h0M552.9 467.2h0M554.1 479.7h0M516.4 523.3h0M563.7 497.6h0M536.8 489.1h0M557.9 523.3h0M534.4 509.8h0M564.5 475.0h0M543.5 497.2h0M548.0 501.4h0M572.0 466.9h0M564.6 476.5h0M531.9 501.4h0M541.3 486.3h0M553.6 485.9h0M547.7 486.3h0M562.1 480.3h0M541.5 522.5h0M525.0 518.0h0M538.3 546.3h0M548.4 474.9h0M558.5 493.5h0M561.2 476.4h0M568.1 484.8h0M554.2 496.7h0M548.1 502.7h0M561.0 469.5h0M549.5 527.3h0M544.4 508.2h0M544.5 543.9h0M563.7 485.2h0M571.4 463.4h0M569.1 538.1h0M528.8 525.8h0M566.0 462.0h0M535.4 551.0h0M546.2 481.4h0M559.0 503.2h0M532.5 523.6h0M534.0 518.7h0M540.6 491.4h0M574.2 476.7h0M565.8 482.6h0M538.5 543.3h0M552.8 525.0h0M552.8 512.4h0M555.2 465.2h0M541.1 535.7h0M570.8 460.1h0M545.7 473.6h0M562.2 495.0h0M527.7 552.5h0M556.3 509.8h0M552.9 467.8h0M569.7 467.2h0M515.1 558.5h0M558.6 480.1h0M562.2 474.6h0M547.3 512.2h0M569.1 526.2h0M547.5 503.3h0M563.1 459.5h0M562.1 485.7h0M569.6 477.2h0M557.0 509.4h0M567.9 461.9h0M559.2 460.5h0M541.5 488.5h0M536.4 505.3h0M567.2 466.2h0M559.2 469.4h0M541.7 506.9h0M551.3 465.6h0M571.2 489.1h0M527.3 502.2h0M538.5 508.6h0M560.6 464.2h0M562.3 521.7h0M534.8 539.4h0M537.2 511.0h0M553.2 478.2h0M570.4 495.8h0M551.1 502.7h0M518.9 562.8h0M565.2 525.5h0M550.7 471.6h0M544.6 520.2h0M534.9 515.9h0M567.5 482.6h0M554.7 470.9h0M556.5 495.4h0M555.8 467.4h0M557.0 520.9h0M562.5 495.4h0M574.7 468.7h0M536.3 504.2h0M549.9 473.1h0M544.7 524.4h0M574.2 477.4h0M547.0 512.1h0M528.7 493.5h0M550.6 498.1h0M540.8 515.7h0M540.7 494.1h0M544.8 495.0h0M532.9 503.7h0M524.2 518.0h0M549.0 511.9h0M549.2 520.9h0M538.0 484.0h0M559.6 506.0h0M569.4 460.1h0M526.8 504.0h0M544.8 473.8h0M554.8 473.1h0M539.3 492.7h0M557.2 470.2h0M533.8 508.9h0M541.7 495.6h0M549.3 486.5h0M556.9 495.5h0M551.5 471.3h0M541.5 514.1h0M545.8 477.3h0M521.7 523.7h0M563.5 546.5h0M545.3 492.2h0M546.9 481.7h0M554.6 514.8h0M558.8 520.1h0M555.7 477.6h0M541.6 488.6h0M528.0 534.3h0M548.5 478.9h0M539.9 505.8h0M543.3 478.3h0M550.9 476.8h0M554.2 512.4h0M568.8 493.7h0M548.9 520.0h0M527.0 565.3h0M559.0 488.5h0M563.7 469.2h0M528.2 521.5h0M559.3 496.3h0M553.5 510.4h0M543.4 483.0h0M553.3 471.7h0M556.3 501.2h0M559.1 483.5h0M566.8 486.5h0M550.7 497.6h0M550.8 472.0h0M541.3 477.4h0M536.1 521.3h0M547.1 476.4h0M546.0 546.2h0M561.5 479.9h0M566.2 467.0h0M532.6 529.7h0M567.9 481.4h0M534.4 487.6h0M573.6 477.4h0M541.6 491.4h0M566.2 483.8h0M547.2 470.6h0M560.7 495.3h0M540.5 506.9h0M552.7 466.8h0M551.2 473.6h0M552.2 486.7h0M561.9 460.2h0M544.8 474.7h0M546.4 481.3h0M532.7 522.6h0M549.0 490.6h0M544.1 500.1h0M563.1 466.8h0M560.2 481.2h0M540.9 555.3h0M557.0 509.7h0M569.1 463.6h0M548.0 477.5h0M534.7 511.0h0M562.4 469.3h0M558.6 467.1h0M560.7 467.4h0M565.4 501.6h0M539.9 507.1h0M555.2 465.2h0M524.7 505.7h0M557.7 487.3h0M556.4 477.1h0M540.1 497.3h0M539.1 499.0h0M548.5 467.2h0M547.7 487.9h0M572.8 462.4h0M547.5 486.3h0M548.7 505.6h0M548.5 539.2h0M528.8 516.6h0M544.2 495.8h0M532.2 517.9h0M552.7 496.0h0M520.6 526.2h0M535.4 513.0h0M554.4 493.5h0M521.9 532.0h0M529.4 537.0h0M564.7 462.9h0M532.5 512.7h0M550.8 492.4h0M555.2 540.1h0M536.2 515.0h0M527.5 501.4h0M572.0 488.8h0M543.2 527.2h0M558.0 498.4h0M540.4 511.8h0M555.9 464.6h0M532.7 535.0h0M531.9 533.7h0M536.4 489.3h0M542.2 499.8h0M542.2 526.5h0M546.3 496.2h0M556.9 504.1h0M543.5 523.9h0M563.8 463.8h0M541.7 502.5h0M560.1 460.8h0M569.0 508.5h0M575.0 481.9h0M523.4 507.1h0M574.8 483.5h0M526.5 548.3h0M570.5 474.0h0M550.7 478.5h0M555.8 522.6h0M537.8 505.7h0M563.8 478.2h0M560.4 473.0h0M543.3 503.2h0M542.4 520.3h0M562.8 498.6h0M565.2 498.3h0M561.5 479.8h0M545.6 480.9h0M551.0 495.4h0M563.9 495.1h0M562.5 480.1h0M566.5 470.9h0M552.9 469.9h0M541.2 510.6h0M554.9 491.7h0M557.2 478.5h0M543.6 519.2h0M557.1 468.0h0M539.3 513.6h0M554.5 472.7h0M542.6 476.8h0M565.5 477.9h0M567.4 494.5h0M554.6 475.9h0M532.8 487.4h0M533.9 489.8h0M560.6 473.1h0M548.8 489.3h0M555.2 498.8h0M529.1 487.3h0M530.1 498.7h0M552.5 472.2h0M548.0 487.4h0M532.5 508.0h0M539.9 501.0h0M561.8 479.4h0M544.9 507.1h0M558.9 463.6h0M573.8 543.4h0M555.6 471.6h0M552.7 499.4h0M542.7 499.6h0M567.7 475.9h0M531.0 511.9h0M535.7 482.5h0M550.7 496.0h0M530.6 487.3h0M564.5 481.7h0M542.3 507.5h0M558.2 470.8h0M546.6 480.2h0M547.4 478.1h0M551.1 492.7h0M523.8 540.4h0M535.9 512.0h0M544.4 479.6h0M542.6 509.4h0M562.2 482.7h0M560.9 492.7h0M536.6 533.4h0M563.2 487.3h0M568.1 467.4h0M561.3 486.0h0M541.0 532.3h0M532.3 503.0h0M536.0 478.5h0M547.3 510.3h0M537.4 481.4h0M551.6 494.3h0M558.1 469.4h0M550.7 487.0h0M552.3 523.2h0M556.5 477.7h0M561.6 490.5h0M541.8 510.1h0M541.7 504.7h0M567.4 498.2h0M546.2 520.7h0M539.4 527.5h0M554.8 479.6h0M546.0 474.0h0M552.5 483.4h0M550.0 539.7h0M559.6 477.9h0M563.5 555.9h0M539.4 501.0h0M534.1 512.1h0M572.9 477.6h0M541.4 504.1h0M529.4 556.6h0M524.7 499.3h0M550.4 499.3h0M542.0 506.2h0M525.6 536.3h0M537.8 514.9h0M536.2 524.7h0M564.6 481.7h0M554.1 484.8h0M550.7 478.5h0M533.3 540.4h0M548.3 488.6h0M560.0 499.1h0M553.0 544.9h0M565.4 466.2h0M551.9 465.0h0M560.4 501.1h0M557.1 507.2h0M543.0 529.5h0M569.3 461.3h0M555.8 484.6h0M562.2 459.9h0M536.1 523.8h0M535.8 503.1h0M548.3 484.2h0M539.7 509.9h0M559.4 476.4h0M556.4 484.6h0M567.7 478.1h0M558.9 493.6h0M535.2 505.8h0M563.9 475.7h0M541.8 476.5h0M540.7 482.9h0M551.7 497.0h0M550.7 507.6h0M565.1 486.1h0M555.4 489.2h0M556.6 480.6h0M570.9 485.4h0M547.9 493.0h0M555.4 539.5h0M543.7 498.6h0M545.0 508.4h0M569.3 492.9h0M557.0 463.5h0M557.0 462.8h0M539.7 494.3h0M574.4 473.3h0M548.3 511.5h0M541.8 483.7h0M550.5 495.6h0M560.1 471.3h0M561.1 485.5h0M571.1 463.8h0M536.2 509.9h0M544.9 512.4h0M572.3 502.9h0M573.1 502.4h0M542.1 521.5h0M549.5 507.0h0M529.5 505.0h0M539.5 494.2h0M538.6 495.5h0M549.4 499.0h0M534.4 501.5h0M563.7 505.6h0M550.0 519.6h0M547.3 499.7h0M563.5 497.8h0M547.2 496.4h0M533.7 516.9h0M551.2 506.2h0M547.9 513.1h0M552.2 470.2h0M558.1 469.0h0M548.1 485.6h0M547.8 500.9h0M557.8 499.5h0M533.7 492.3h0M542.6 501.3h0M547.1 510.8h0M570.9 463.7h0M555.0 493.0h0M559.5 468.9h0M556.3 492.7h0M560.2 486.5h0M571.6 494.8h0M537.3 496.2h0M544.1 513.5h0M553.0 478.3h0M554.9 483.4h0M524.7 549.4h0M556.8 470.0h0M528.9 526.2h0M561.4 468.1h0M562.5 484.7h0M519.7 514.3h0M557.8 464.9h0M553.5 472.7h0M542.3 500.0h0M563.9 502.0h0M560.0 486.4h0M557.7 465.5h0M535.8 491.4h0M531.0 492.2h0M534.7 506.6h0M536.8 516.5h0M566.3 491.7h0M554.8 476.5h0M550.4 472.5h0M562.8 481.7h0M551.1 500.8h0M551.3 518.6h0M539.2 488.7h0M542.2 512.8h0M551.2 479.9h0M534.7 561.4h0M573.7 463.3h0M552.5 471.4h0M543.3 483.0h0M564.2 475.0h0M536.2 492.5h0M565.4 478.5h0M552.0 469.5h0M548.8 474.4h0M543.2 515.9h0M545.3 505.3h0M539.2 477.9h0M533.6 548.0h0M554.2 467.3h0M536.2 501.7h0M555.2 493.1h0M542.0 519.4h0M565.3 473.7h0M515.7 551.3h0M556.5 543.4h0M551.4 519.2h0M550.8 471.7h0M542.1 516.2h0M574.8 496.9h0M545.1 557.1h0M556.6 496.2h0M547.1 480.5h0M545.8 494.7h0M552.0 490.1h0M560.1 493.3h0M535.4 518.9h0M544.3 516.1h0M531.4 495.8h0M556.2 527.2h0M539.0 530.6h0M540.5 486.3h0M559.7 497.0h0M550.6 475.6h0M556.3 498.5h0M548.8 507.1h0M556.4 501.2h0M551.9 487.5h0M535.4 510.9h0M553.7 471.1h0M546.0 523.5h0M547.4 471.8h0M554.6 497.1h0M543.2 506.6h0M536.1 496.1h0M567.0 482.4h0M552.6 469.3h0M546.0 500.8h0M566.5 495.1h0M556.0 497.6h0M541.9 492.9h0M539.2 512.4h0M546.9 513.0h0M544.8 480.9h0M546.1 499.5h0M549.0 538.9h0M535.2 539.2h0M562.6 502.4h0M535.2 507.3h0M536.0 520.3h0M563.5 560.4h0M561.2 461.5h0M570.8 480.7h0M552.6 480.9h0M541.9 475.1h0M566.5 501.2h0M549.4 509.4h0M549.0 483.0h0M539.1 508.5h0M556.3 486.2h0M518.1 554.2h0M558.0 503.7h0M523.2 515.9h0M562.8 476.2h0M529.3 534.7h0M560.1 531.2h0M571.3 501.1h0M546.9 512.1h0M534.7 483.7h0M548.1 497.0h0M544.6 480.1h0M535.4 532.6h0M568.0 490.6h0M530.3 486.7h0M532.6 498.8h0M541.1 491.5h0M522.8 532.3h0M562.1 478.3h0M564.8 476.6h0M550.0 598.7h0M545.0 479.8h0M529.1 510.0h0M557.2 507.8h0M541.1 494.4h0M559.2 484.4h0M564.8 464.1h0M551.4 506.2h0M521.5 511.3h0M537.8 490.8h0M569.6 470.2h0M554.5 472.2h0M570.4 494.7h0M519.9 538.4h0M549.2 503.0h0M548.3 480.8h0M528.3 535.5h0M541.8 535.0h0M564.3 459.7h0M558.2 517.2h0M543.4 519.1h0M555.3 530.9h0M567.2 582.6h0M535.8 508.4h0M554.8 495.5h0M565.2 472.3h0M541.2 537.0h0M568.7 492.9h0M549.5 476.8h0M566.1 476.4h0M563.5 487.3h0M554.4 507.0h0M546.7 512.2h0M541.7 500.5h0M553.1 515.9h0M553.7 466.0h0M570.2 486.8h0M549.6 500.1h0M555.7 476.1h0M574.1 504.7h0M555.3 483.0h0M557.1 487.0h0M573.0 488.2h0M552.1 482.5h0M556.3 497.5h0M561.2 475.4h0M549.2 499.8h0M535.4 489.3h0M530.6 496.7h0M548.0 504.7h0M566.3 476.9h0M564.6 466.0h0M573.3 510.0h0M563.3 470.9h0M541.9 484.1h0M530.7 490.3h0M543.7 503.0h0M547.1 517.0h0M540.5 484.3h0M563.5 531.2h0M539.9 499.3h0M558.8 474.1h0M561.6 463.4h0M526.8 533.5h0M545.0 482.8h0M568.1 491.7h0M562.5 473.8h0M552.5 474.0h0M535.5 499.3h0M541.1 487.6h0M552.0 591.0h0M568.2 497.6h0M557.6 484.4h0M549.6 525.7h0M554.0 472.5h0M561.5 501.8h0M526.6 530.8h0M537.1 499.3h0M551.2 477.9h0M567.5 493.5h0M565.7 497.3h0M540.0 497.7h0M551.1 538.3h0M540.6 481.1h0M545.4 492.3h0M552.8 485.5h0M545.8 533.9h0M543.1 532.8h0M534.7 483.9h0M528.9 524.8h0M548.1 474.7h0M553.4 468.9h0M559.3 470.9h0M539.5 522.5h0M540.8 508.1h0M568.2 496.4h0M556.5 483.1h0M563.0 487.4h0M542.9 485.4h0M540.9 476.0h0M534.9 513.6h0M564.4 467.8h0M535.1 485.4h0M526.9 494.9h0M540.4 477.0h0M568.2 467.4h0M551.1 480.3h0M554.0 505.8h0M552.3 491.4h0M550.1 485.4h0M548.4 509.6h0M531.4 543.5h0M573.7 499.4h0M548.6 478.6h0M567.5 485.7h0M529.2 496.9h0M558.2 469.8h0M534.5 509.4h0M532.9 507.3h0M554.4 530.5h0M564.9 491.8h0M569.6 493.5h0M569.1 511.9h0M547.0 484.8h0M561.5 473.4h0M542.5 501.8h0M543.3 485.3h0M554.1 462.7h0M549.1 498.7h0M562.4 502.6h0M525.5 504.4h0M566.4 462.6h0M542.7 491.5h0M571.1 489.5h0M566.5 478.0h0M534.9 540.6h0M550.1 482.8h0M560.1 488.2h0M539.8 507.8h0M540.5 495.0h0M546.6 494.2h0M561.0 469.3h0M563.3 474.0h0M545.0 513.8h0M562.2 556.7h0M571.1 516.3h0M563.4 497.9h0M540.7 503.3h0M539.2 500.2h0M554.7 462.0h0M562.1 495.5h0M556.7 504.7h0M545.5 498.4h0M538.0 513.7h0M568.3 484.9h0M548.8 531.5h0M559.2 485.0h0M535.1 519.6h0M546.3 531.7h0M542.0 519.9h0M552.8 502.0h0M567.8 477.2h0M544.1 513.5h0M524.4 525.1h0M566.7 482.2h0M552.7 477.9h0M535.4 525.2h0M530.2 493.8h0M556.4 468.6h0M548.1 482.8h0M552.9 489.8h0M556.3 496.8h0M545.8 487.3h0M547.1 501.1h0M560.0 478.0h0M549.4 490.3h0M547.1 491.4h0M559.7 512.6h0M523.8 526.9h0M568.0 487.1h0M557.0 473.0h0M540.4 500.7h0M548.5 517.2h0M567.8 462.3h0M558.5 493.5h0M526.5 531.8h0M537.0 508.2h0M553.5 506.1h0M575.4 519.2h0M561.4 482.1h0M548.3 486.4h0M558.9 495.7h0M551.2 486.2h0M546.8 507.5h0M556.2 491.7h0M521.7 529.2h0M564.8 465.3h0M558.3 488.9h0M545.0 480.5h0M539.3 480.9h0M534.5 531.9h0M554.7 467.3h0M553.0 524.4h0M553.4 499.1h0M574.5 460.6h0M520.8 502.3h0M541.1 501.4h0M540.4 526.9h0M564.0 474.4h0M547.6 496.2h0M538.1 521.6h0M553.9 467.7h0M556.6 537.3h0M573.1 519.8h0M554.5 497.0h0M545.0 519.5h0M544.1 516.4h0M539.9 503.1h0M557.7 505.8h0M562.2 469.2h0M547.9 505.9h0M549.2 505.1h0M569.9 501.2h0M552.4 483.3h0M557.8 470.2h0M536.2 514.4h0M542.7 546.8h0M521.8 546.8h0M532.3 500.9h0M556.1 501.4h0M568.1 510.3h0M547.4 473.7h0M534.7 523.0h0M552.3 481.2h0M566.7 483.6h0M548.8 478.4h0M563.6 494.2h0M550.2 470.0h0M534.2 497.5h0M538.6 509.0h0M547.5 476.9h0M572.6 477.1h0M559.0 538.1h0M547.8 509.7h0M555.0 471.0h0M553.9 515.5h0M545.0 515.9h0M549.6 501.8h0M547.5 499.4h0M561.2 480.6h0M572.4 476.1h0M569.2 475.4h0M546.7 494.5h0M558.6 496.1h0M541.1 491.7h0M536.1 512.6h0M552.1 522.8h0M559.4 481.8h0M550.2 500.7h0M562.4 459.0h0M562.4 466.7h0M561.4 557.1h0M548.9 479.2h0M532.4 494.4h0M575.7 510.0h0M544.5 471.8h0M561.1 472.3h0M557.7 488.8h0M546.3 485.6h0M566.1 519.9h0M560.3 485.5h0M550.9 476.7h0M545.3 540.8h0M537.8 488.2h0M533.7 490.0h0M558.9 510.8h0M545.0 519.2h0M544.8 473.1h0M558.0 467.1h0M546.3 488.5h0M560.0 468.6h0M542.3 538.0h0M543.9 524.5h0M563.6 468.6h0M541.7 508.6h0M559.4 501.2h0M558.0 507.9h0M551.2 492.6h0M528.4 522.9h0M533.1 532.3h0M536.1 514.2h0M533.4 542.2h0M562.8 475.6h0M539.1 486.7h0M534.1 493.0h0M544.1 482.2h0M549.7 496.2h0M528.2 490.5h0M559.3 463.4h0M560.9 586.7h0M542.9 529.8h0M562.0 487.4h0M529.8 497.6h0M543.5 475.7h0M548.8 472.4h0M552.0 483.0h0M566.7 497.7h0M546.5 481.7h0M537.2 492.1h0M553.9 502.7h0M553.1 494.6h0M557.1 480.6h0M546.5 477.9h0M553.4 510.5h0M543.2 521.6h0M558.7 481.3h0M542.0 489.4h0M542.6 486.9h0M566.9 540.1h0M540.6 482.4h0M551.0 531.7h0M558.7 504.9h0M546.7 483.8h0M563.3 487.2h0M543.1 530.4h0M564.9 487.5h0M529.8 520.5h0M532.6 524.1h0M551.9 537.5h0M570.4 508.0h0M572.9 508.4h0M539.3 494.6h0M550.6 505.9h0M544.3 510.8h0M521.9 500.5h0M560.8 501.8h0M545.9 493.5h0M569.6 478.0h0M554.8 489.7h0M543.8 483.7h0M541.6 519.2h0M548.4 502.1h0M557.2 477.3h0M544.3 485.1h0M554.3 509.7h0M553.8 482.0h0M535.5 484.5h0M552.1 504.1h0M566.5 474.6h0M556.8 494.0h0M546.5 520.7h0M542.0 511.7h0M540.3 517.7h0M534.9 511.9h0M544.0 504.6h0M554.6 483.0h0M543.3 495.0h0M573.1 506.5h0M556.1 478.9h0M545.0 474.0h0M550.5 498.3h0M570.9 495.8h0M527.8 524.4h0M554.2 519.8h0M568.6 516.4h0M564.6 482.2h0M538.7 498.4h0M552.7 500.0h0M547.8 504.2h0M547.6 497.8h0M541.9 480.5h0M547.3 489.2h0M546.5 470.5h0M531.6 524.2h0M547.8 494.2h0M558.0 480.1h0M545.1 506.4h0M557.7 475.5h0M561.2 489.2h0M560.5 466.0h0M527.9 511.1h0M571.5 481.3h0M562.7 500.5h0M561.9 500.9h0M551.1 482.3h0M550.9 508.6h0M543.6 520.0h0M556.7 468.8h0M563.5 475.8h0M543.2 478.3h0M562.1 479.2h0M544.6 534.4h0M559.0 490.9h0M549.0 524.0h0M562.7 491.2h0M547.9 505.7h0M554.1 487.2h0M544.3 478.0h0M545.2 512.4h0M559.5 472.7h0M544.3 480.3h0M564.3 498.5h0M555.0 466.2h0M563.3 471.2h0M543.5 487.1h0M538.0 505.9h0M540.9 514.5h0M556.4 501.9h0M540.3 489.5h0M560.5 490.6h0M523.0 543.4h0M542.0 504.0h0M548.8 501.6h0M526.2 498.2h0M542.7 521.0h0M530.7 505.7h0M550.1 510.2h0M547.7 514.9h0M561.1 484.9h0M539.6 489.4h0M528.9 545.5h0M543.6 486.5h0M552.8 490.5h0M552.3 471.9h0M553.3 524.8h0M567.6 490.8h0M546.2 495.4h0M548.2 492.5h0M539.6 491.5h0M543.0 474.7h0M565.3 501.1h0M556.0 468.9h0M515.5 538.0h0M567.5 483.7h0M524.0 517.3h0M545.5 496.6h0M564.3 465.2h0M552.9 509.5h0M558.7 482.6h0M562.9 504.0h0M555.1 465.2h0M534.0 524.4h0M556.1 506.2h0M541.6 514.5h0M518.2 513.5h0M547.1 514.1h0M558.6 494.3h0M552.7 523.1h0M551.2 493.4h0M574.8 532.7h0M554.8 484.8h0M563.5 460.7h0M555.6 467.6h0M573.5 464.3h0M546.1 512.8h0M567.2 461.3h0M547.2 481.8h0M546.1 478.8h0M565.4 522.7h0M532.7 517.1h0M555.5 461.6h0M561.2 493.1h0M539.9 504.7h0M526.8 529.6h0M551.8 503.5h0M546.7 502.4h0M553.7 503.8h0M555.2 538.4h0M562.5 479.0h0M572.5 483.6h0M557.1 526.9h0M530.4 487.8h0M560.4 474.5h0M556.6 482.7h0M553.2 504.0h0M572.8 517.5h0M554.9 479.8h0M546.4 486.6h0M557.6 496.1h0M529.5 492.2h0M564.3 484.8h0M552.1 528.0h0M574.3 490.9h0M560.7 479.4h0M556.5 486.8h0M553.9 501.3h0M535.3 491.4h0M550.3 513.9h0M555.4 524.3h0M564.8 474.6h0M557.3 484.0h0M560.9 492.3h0M560.8 486.8h0M544.2 494.5h0M555.6 512.3h0M548.5 502.2h0M534.4 541.9h0M530.9 496.7h0M562.7 464.3h0M571.0 501.1h0M570.8 467.7h0M539.9 513.9h0M571.9 467.6h0M572.7 477.0h0M541.2 540.9h0M558.1 469.0h0M574.7 485.9h0M552.8 484.9h0M567.6 476.1h0M543.1 478.7h0M546.9 508.0h0M563.5 458.4h0M549.3 492.6h0M553.3 529.2h0M552.8 466.9h0M537.6 503.2h0M571.8 462.4h0M549.7 484.4h0M547.1 489.7h0M545.5 493.1h0M552.4 482.6h0M538.9 525.6h0M563.3 480.8h0M546.9 478.7h0M562.3 526.7h0M539.6 511.3h0M537.7 512.4h0M539.0 481.4h0M554.6 511.2h0M533.6 506.9h0M563.0 487.4h0M547.0 483.7h0M563.7 494.7h0M546.3 508.2h0M562.5 495.7h0M537.5 490.8h0M536.5 490.6h0M559.5 485.7h0M544.0 584.5h0M565.9 463.3h0M542.0 520.2h0M558.4 498.7h0M540.3 496.6h0M527.8 505.4h0M570.9 488.2h0M548.6 483.4h0M564.6 499.1h0M553.9 479.3h0M528.1 503.5h0M556.8 490.3h0M566.1 488.3h0M569.0 459.0h0M573.7 472.9h0M556.7 475.0h0M550.0 477.0h0M552.4 473.0h0M535.5 530.3h0M561.4 507.1h0M561.2 476.6h0M556.1 484.0h0M540.8 485.1h0M560.1 515.5h0M543.9 483.1h0M568.4 483.9h0M543.1 499.6h0M544.2 518.2h0M547.0 506.3h0M537.3 494.1h0M539.1 499.9h0M547.5 482.5h0M517.8 532.4h0M555.4 465.7h0M556.4 477.7h0M555.3 491.4h0M539.3 497.2h0M553.9 503.1h0M551.2 485.3h0M552.6 470.5h0M531.1 515.5h0M549.7 495.8h0M525.5 532.4h0M548.6 498.0h0M539.1 498.6h0M542.9 473.5h0M546.8 473.2h0M562.7 467.2h0M567.9 461.8h0M551.6 464.7h0M536.5 496.9h0M571.5 518.2h0M532.0 499.0h0M543.7 501.0h0M548.3 485.1h0M541.1 517.8h0M569.4 497.8h0M556.7 478.4h0M565.9 470.5h0M547.1 477.5h0M563.0 508.0h0M549.1 467.6h0M549.2 518.4h0M555.2 480.9h0M556.5 523.1h0M559.0 499.4h0M548.2 473.9h0M530.6 522.2h0M546.8 506.8h0M547.2 484.8h0M540.0 515.7h0M562.3 469.4h0M572.6 465.1h0M546.4 513.5h0M529.3 502.5h0M556.9 473.5h0M557.7 471.0h0M556.9 497.3h0M549.9 498.3h0M539.7 510.7h0M555.1 479.3h0M553.1 485.4h0M541.7 483.7h0M555.0 479.1h0M568.3 507.1h0M539.4 521.4h0M557.2 477.3h0M564.8 486.3h0M560.0 523.0h0M529.1 492.6h0M554.9 486.3h0M545.7 498.0h0M567.8 468.7h0M549.3 530.9h0M562.7 472.1h0M534.2 511.6h0M557.9 472.9h0M539.0 506.3h0M575.3 475.3h0M572.5 465.2h0M538.4 557.7h0M561.4 487.7h0M550.5 466.1h0M528.8 508.1h0M536.7 491.5h0M552.4 482.9h0M558.1 490.2h0M545.9 482.3h0M555.1 482.3h0M555.3 470.5h0M555.0 486.9h0M534.8 504.9h0M552.9 492.7h0M558.3 513.4h0M530.6 519.9h0M572.1 489.7h0M571.0 460.1h0M553.3 483.9h0M546.5 535.8h0M540.0 505.7h0M538.1 549.8h0M542.5 513.6h0M541.2 558.8h0M568.7 525.4h0M551.7 505.5h0M550.3 534.2h0M556.0 515.8h0M572.8 559.4h0M553.4 536.9h0M545.9 479.0h0M554.8 465.7h0M568.3 483.0h0M548.3 489.8h0M570.4 465.3h0M555.3 464.0h0M548.6 479.2h0M557.8 503.2h0M538.0 511.4h0M547.7 484.1h0M569.9 509.2h0M558.8 495.1h0M553.2 505.3h0M551.8 491.1h0M562.3 468.0h0M559.5 464.0h0M556.2 491.6h0M560.1 500.9h0M539.3 497.1h0M542.2 482.6h0M537.4 488.6h0M546.4 497.2h0M548.2 503.2h0M546.1 518.2h0M558.4 481.6h0M538.2 483.1h0M547.8 503.3h0M562.9 473.0h0M574.1 466.7h0M551.8 478.4h0M567.5 507.2h0M569.8 486.7h0M537.2 518.6h0M554.4 478.2h0M536.8 526.2h0M545.8 516.8h0M556.6 469.2h0M533.8 572.3h0M558.3 478.8h0M549.2 472.7h0M547.8 508.9h0M558.4 491.3h0M539.9 511.3h0M528.0 516.5h0M551.5 523.6h0M541.3 516.4h0M548.4 507.9h0M536.1 527.4h0M538.3 495.3h0M537.0 530.6h0M533.6 488.4h0M539.9 494.6h0M540.3 511.1h0M551.4 478.8h0M558.9 511.5h0M542.6 519.8h0M529.4 490.2h0M558.8 467.2h0M534.2 500.6h0M538.8 499.1h0M546.3 484.2h0M551.5 497.7h0M551.9 478.2h0M554.2 493.0h0M549.3 481.1h0M565.9 489.0h0M562.3 482.5h0M543.5 505.0h0M548.0 515.2h0M532.5 506.8h0M559.8 469.3h0M548.1 469.3h0M537.4 510.3h0M541.7 511.5h0M571.4 531.2h0M538.4 481.8h0M528.1 557.9h0M539.2 481.0h0M555.5 462.7h0M564.6 465.7h0M539.0 485.4h0M563.9 490.1h0M543.8 517.5h0M543.9 500.5h0M546.7 538.2h0M573.2 469.2h0M553.3 501.8h0M554.9 475.5h0M530.4 522.8h0M553.0 492.1h0M554.6 475.0h0M572.9 469.9h0M539.0 483.7h0M541.2 511.2h0M538.4 523.0h0M542.0 485.0h0M559.8 475.9h0M540.0 481.7h0M568.0 484.5h0M551.2 465.8h0M538.4 484.4h0M541.9 482.7h0M532.2 526.2h0M531.1 530.0h0M566.3 469.7h0M562.6 474.2h0M537.4 483.9h0M544.6 479.1h0M572.4 474.6h0M540.9 520.5h0M553.7 514.7h0M557.5 494.6h0M548.0 475.9h0M548.1 477.8h0M546.1 508.2h0M552.2 489.6h0M529.5 507.7h0M551.3 477.2h0M553.1 519.3h0M532.7 508.7h0M556.7 508.4h0M538.0 502.7h0M515.1 555.9h0M524.4 533.2h0M551.9 510.1h0M558.2 486.6h0M544.8 505.1h0M530.9 538.4h0M548.3 511.5h0M562.9 487.7h0M549.9 479.0h0M530.6 550.9h0M556.8 506.0h0M547.8 475.2h0M548.1 501.3h0M551.3 482.1h0M558.1 516.1h0M549.0 496.6h0M537.5 505.1h0M549.0 473.5h0M552.3 501.3h0M566.4 464.5h0M533.9 495.4h0M548.6 475.4h0M538.6 517.3h0M554.1 487.2h0M543.1 495.4h0M563.3 478.4h0M541.5 492.3h0M535.7 516.2h0M530.1 506.8h0M536.0 530.9h0M532.9 500.7h0M548.5 479.8h0M552.4 485.9h0M549.4 499.5h0M555.3 475.3h0M539.2 501.8h0M558.6 512.5h0M549.0 498.0h0M556.4 506.2h0M558.7 462.5h0M545.5 470.8h0M567.2 478.4h0M561.2 487.2h0M544.9 488.6h0M574.2 477.4h0M572.9 482.6h0M529.7 517.8h0M520.1 509.4h0M542.1 521.0h0M556.8 516.8h0M563.1 466.3h0M559.4 466.9h0M550.3 466.6h0M563.6 496.5h0M560.1 465.8h0M544.6 508.5h0M553.0 527.9h0M564.9 496.0h0M541.9 477.1h0M542.1 517.9h0M539.3 520.3h0M570.3 506.8h0M559.6 510.2h0M562.0 482.1h0M545.6 507.0h0M550.2 502.2h0M567.0 472.2h0M546.8 499.1h0M566.6 528.7h0M550.3 494.2h0M550.3 495.1h0M558.1 478.0h0M562.2 518.5h0M574.3 517.7h0M546.0 471.7h0M573.4 503.5h0M540.4 534.4h0M539.1 533.0h0M520.6 505.3h0M562.0 467.2h0M570.6 487.8h0M534.5 497.9h0M546.3 508.3h0M547.2 499.4h0M529.8 535.4h0M551.6 481.8h0M554.7 504.6h0M544.0 486.3h0M537.0 500.2h0M552.5 476.2h0M558.7 478.5h0M531.7 523.6h0M549.4 543.0h0M558.3 480.0h0M555.1 540.1h0M573.9 494.3h0M533.4 525.9h0M568.3 485.2h0M546.8 547.6h0M558.9 497.5h0M548.6 469.7h0M535.4 548.1h0M527.7 506.7h0M571.7 470.1h0M532.7 495.6h0M547.1 496.2h0M570.0 489.8h0M554.9 479.8h0M553.1 500.5h0M523.6 568.2h0M542.4 485.4h0M532.8 532.3h0M526.6 549.3h0M555.7 527.1h0M562.0 474.4h0M540.4 565.3h0M542.0 484.3h0M556.6 495.3h0M562.7 483.3h0M536.6 515.1h0M566.6 489.9h0M563.5 471.9h0M550.9 467.2h0M535.8 495.2h0M558.5 467.8h0M560.1 500.6h0M574.6 471.0h0M542.7 502.8h0M572.2 472.4h0M546.0 492.8h0M557.9 470.4h0M549.3 493.3h0M552.0 479.0h0M570.7 496.9h0M541.6 500.4h0M562.0 482.3h0M547.2 505.6h0M550.3 520.2h0M541.1 480.3h0M553.5 495.0h0M523.8 502.3h0M547.3 486.6h0M564.5 471.8h0M562.2 486.2h0M528.9 546.7h0M535.7 493.8h0M545.2 497.8h0M561.6 489.5h0M545.1 522.3h0M550.7 486.6h0M547.5 477.2h0M555.0 476.8h0M538.5 528.8h0M554.4 512.9h0M557.3 547.6h0M565.0 472.1h0M538.9 493.2h0M563.1 499.3h0M551.5 479.3h0M561.6 464.4h0M560.2 460.4h0M517.7 539.0h0M569.1 525.3h0M564.2 492.2h0M567.5 485.3h0M557.8 460.7h0M562.2 473.8h0M553.9 480.8h0M541.2 546.4h0M545.4 484.4h0M565.9 485.7h0M554.4 471.5h0M521.5 529.2h0M554.0 536.5h0M555.7 500.5h0M538.2 479.7h0M556.1 477.4h0M554.3 486.7h0M526.4 535.9h0M558.0 469.8h0M566.3 473.8h0M574.8 469.9h0M535.5 523.2h0M532.9 529.1h0M551.8 505.4h0M554.8 523.7h0M532.7 495.6h0M540.8 500.4h0M569.5 489.4h0M554.3 464.5h0M565.1 512.0h0M550.5 465.7h0M565.0 489.0h0M543.7 472.9h0M543.8 479.7h0M537.9 498.6h0M524.7 497.3h0M545.5 492.7h0M532.4 531.3h0M544.5 504.7h0M552.9 476.1h0M553.3 476.2h0M556.3 480.6h0M545.5 480.4h0M550.1 491.0h0M566.7 489.5h0M548.8 500.3h0M551.3 487.6h0M517.3 535.6h0M535.7 488.8h0M565.9 458.9h0M539.0 487.5h0M536.1 514.9h0M564.1 503.2h0M534.0 517.9h0M564.4 483.8h0M549.5 501.9h0M542.2 531.8h0M522.7 530.2h0M569.0 460.4h0M525.8 500.2h0M533.9 498.3h0M561.6 483.2h0M533.7 493.0h0M557.7 507.0h0M550.3 482.3h0M547.0 517.9h0M536.2 485.3h0M541.7 493.8h0M554.5 503.2h0M537.2 507.4h0M559.4 481.7h0M554.0 479.3h0M558.2 500.2h0M553.9 466.1h0M558.5 509.4h0M556.0 502.3h0M562.1 464.7h0M555.9 487.2h0M555.2 483.2h0M538.1 516.0h0M527.0 530.5h0M551.4 520.1h0M563.9 490.1h0M537.9 494.8h0M528.9 496.4h0M543.2 485.9h0M555.7 472.8h0M562.5 513.4h0M546.3 479.6h0M534.5 496.9h0M549.9 482.1h0M560.1 519.9h0M550.0 514.9h0M564.6 528.0h0M543.8 499.9h0M562.7 498.8h0M573.2 476.7h0M537.0 490.8h0M538.8 503.2h0M559.6 486.3h0M540.4 530.0h0M557.7 492.9h0M550.3 498.5h0M568.7 469.4h0M549.2 510.2h0M528.5 530.5h0M537.6 493.0h0M569.3 507.4h0M527.6 562.5h0M531.2 492.6h0M562.0 474.5h0M552.8 477.5h0M567.3 464.5h0M536.2 512.5h0M540.6 479.5h0M545.9 479.5h0M533.7 582.4h0M547.5 469.3h0M548.4 472.3h0M562.6 477.3h0M549.5 519.9h0M545.2 491.6h0M557.5 481.6h0M565.9 466.5h0M565.0 494.8h0M554.5 480.1h0M545.5 497.4h0M544.2 506.6h0M532.7 523.6h0M551.7 506.7h0M550.4 473.3h0M573.4 486.6h0M553.7 503.7h0M561.0 485.0h0M568.7 493.4h0M525.0 562.2h0M541.8 509.3h0M547.5 485.8h0M552.4 510.6h0M535.1 511.2h0M562.5 492.3h0M563.2 491.1h0M557.6 485.3h0M560.1 481.1h0M535.6 520.4h0M566.4 505.3h0M542.3 494.4h0M524.8 548.5h0M552.4 477.9h0M556.5 496.9h0M541.3 476.2h0M527.9 510.0h0M534.9 500.9h0M548.6 490.9h0M515.8 586.8h0M564.9 470.4h0M564.5 484.8h0M548.2 486.0h0M565.3 504.5h0M548.4 517.0h0M535.1 494.1h0M559.4 461.9h0M558.4 468.9h0M537.9 488.2h0M531.3 520.6h0M537.2 484.6h0M566.8 461.0h0M546.5 510.8h0M548.3 505.0h0M541.7 511.0h0M559.0 465.9h0M555.1 469.2h0M547.6 510.1h0M562.2 461.9h0M538.9 478.1h0M549.9 469.7h0M534.5 501.5h0M520.6 522.7h0M551.7 473.0h0M534.9 515.6h0M532.8 528.5h0M558.7 488.3h0M548.5 499.2h0M556.0 489.7h0M574.5 462.5h0M553.2 509.7h0M557.0 496.5h0M534.3 491.6h0M562.3 472.6h0M562.5 460.1h0M536.3 486.9h0M559.8 474.5h0M555.1 472.7h0M547.8 485.7h0M551.9 496.7h0M548.9 481.6h0M541.8 488.0h0M546.1 510.2h0M552.1 473.1h0M548.3 506.8h0M525.6 510.0h0M559.7 473.6h0M563.5 479.7h0M574.6 500.0h0M543.0 502.2h0M533.4 485.5h0M559.8 506.0h0M536.6 510.1h0M550.7 495.0h0M545.2 597.5h0M553.4 498.7h0M544.6 490.8h0M560.4 476.6h0M538.1 523.9h0M539.2 484.4h0M561.5 478.7h0M542.1 504.3h0M537.4 524.5h0M548.2 496.2h0M544.3 484.0h0M539.4 499.6h0M570.0 517.0h0M564.2 473.3h0M535.8 522.2h0M558.5 518.7h0M551.0 471.3h0M561.4 472.8h0M541.7 493.1h0M575.2 468.3h0M551.9 464.9h0M558.0 488.3h0M544.3 476.2h0M569.4 461.1h0M549.3 511.2h0M573.8 529.9h0M548.3 506.0h0M536.1 532.0h0M536.0 511.1h0M542.1 526.2h0M559.2 469.9h0M556.0 493.9h0M552.5 481.2h0M565.5 556.3h0M573.5 510.4h0M537.0 502.0h0M564.7 482.4h0M542.1 480.1h0M542.3 493.2h0M543.1 473.9h0M556.5 516.3h0M554.1 519.1h0M543.5 506.2h0M549.9 472.6h0M573.1 502.4h0M563.5 507.4h0M539.8 506.5h0M527.3 535.7h0M535.6 532.3h0M553.4 479.1h0M540.1 487.3h0M539.3 481.8h0M560.9 496.4h0M547.0 499.8h0M545.6 528.6h0M553.9 532.5h0M571.0 475.8h0M555.2 496.6h0M560.5 478.6h0M552.1 501.6h0M572.3 509.6h0M534.0 496.1h0M535.4 502.0h0M543.9 507.7h0M565.6 490.7h0M572.3 501.0h0M535.8 505.0h0M544.6 519.9h0M558.5 494.6h0M551.9 490.2h0M563.2 460.8h0M544.2 483.9h0M528.1 493.0h0M559.5 491.8h0M568.2 493.5h0M529.8 520.2h0M525.1 500.3h0M544.7 489.1h0M525.2 518.7h0M556.9 520.1h0M535.0 497.5h0M561.2 464.7h0M546.3 479.6h0M552.8 494.2h0M560.1 468.1h0M548.2 487.7h0M537.0 481.2h0M563.6 508.8h0M530.7 531.1h0M570.4 464.3h0M542.6 503.8h0M543.7 496.6h0M556.5 498.6h0M556.8 473.4h0M558.0 462.6h0M530.7 537.7h0M538.9 484.6h0M555.7 498.5h0M556.1 463.6h0M549.7 472.2h0M568.9 499.5h0M548.6 492.5h0M564.0 498.1h0M566.0 481.6h0M555.8 511.8h0M548.4 470.3h0M561.2 508.3h0M557.2 499.5h0M559.6 476.1h0M539.1 488.4h0M557.5 495.6h0M573.0 486.6h0M547.2 509.6h0M553.0 481.7h0M547.8 473.5h0M563.2 549.3h0M522.7 546.6h0M573.1 509.3h0M558.1 468.9h0M548.0 524.2h0M554.9 464.3h0M566.6 485.7h0M556.2 470.0h0M560.4 514.3h0M567.7 475.7h0M553.5 529.4h0M561.4 461.9h0M571.5 507.9h0M558.9 475.8h0M542.6 530.0h0M561.8 488.2h0M564.1 477.8h0M546.8 491.3h0M557.4 483.1h0M557.1 486.4h0M563.4 486.6h0M545.6 477.2h0M550.9 484.7h0M545.9 473.7h0M560.7 473.2h0M542.7 504.0h0M562.1 508.1h0M552.1 503.3h0M572.3 491.8h0M529.1 488.9h0M552.6 542.5h0M564.7 502.7h0M533.8 484.9h0M541.0 539.6h0M557.8 490.0h0M551.8 471.0h0M547.1 501.7h0M555.5 475.0h0M532.2 485.2h0M539.8 524.8h0M575.0 465.9h0M542.4 515.9h0M557.2 487.8h0M550.5 494.5h0M563.0 488.1h0M555.8 473.4h0M556.8 461.1h0M567.2 482.1h0M555.7 486.4h0M528.0 512.9h0M542.2 502.8h0M570.8 555.0h0M565.8 482.4h0M548.1 509.9h0M529.5 544.5h0M541.5 482.9h0M555.8 480.3h0M567.7 522.7h0M568.0 478.1h0M529.2 510.2h0M532.7 558.9h0M543.2 474.3h0M532.7 503.0h0M552.8 500.1h0M536.3 488.5h0M557.7 485.3h0M548.2 499.5h0M543.6 550.0h0M560.2 500.9h0M557.4 463.7h0M553.0 490.6h0M546.3 481.2h0M550.6 472.0h0M524.9 565.6h0M524.5 526.2h0M542.0 481.9h0M553.1 480.2h0M575.3 500.4h0M556.6 482.7h0M537.7 507.0h0M544.6 475.1h0M534.0 526.8h0M550.6 466.6h0M550.0 496.6h0M550.7 477.0h0M554.9 537.8h0M565.4 520.3h0M560.5 466.1h0M535.5 497.4h0M562.7 470.6h0M537.4 520.4h0M556.4 480.2h0M552.5 527.6h0M574.1 492.5h0M549.8 473.7h0M549.9 499.9h0M547.5 492.6h0M562.9 471.4h0M555.5 499.4h0M547.6 487.9h0M562.6 491.0h0M568.5 474.1h0M573.4 486.3h0M571.7 473.6h0M544.0 543.8h0M550.0 510.0h0M553.5 474.4h0M528.1 547.6h0M574.7 495.9h0M531.7 517.5h0M556.8 497.3h0M534.5 484.9h0M553.0 505.7h0M562.6 459.9h0M558.4 474.6h0M539.6 525.0h0M542.5 496.3h0M564.0 461.9h0M550.5 469.7h0M552.9 496.2h0M564.1 511.0h0M517.2 528.1h0M554.8 555.7h0M568.5 489.9h0M575.6 501.8h0M560.7 481.1h0M541.4 498.7h0M564.5 469.7h0M546.6 490.7h0M542.7 495.7h0M541.6 501.1h0M549.3 469.9h0M545.8 497.4h0M523.7 534.4h0M519.3 513.2h0M533.6 510.9h0M542.8 486.1h0M557.3 502.0h0M544.2 516.1h0M553.8 502.0h0M569.9 496.4h0M561.6 491.5h0M563.2 465.5h0M538.1 491.7h0M564.9 526.6h0M551.3 517.7h0M556.0 483.7h0M564.4 499.7h0M561.9 497.1h0M533.5 502.2h0M535.9 495.4h0M555.0 485.5h0M560.9 470.9h0M547.5 478.1h0M559.5 488.6h0M546.4 477.8h0M544.7 521.4h0M541.7 508.0h0M533.7 517.1h0M533.6 561.1h0M543.8 488.3h0M552.6 500.6h0M540.9 501.6h0M551.5 477.8h0M547.5 475.8h0M548.2 492.4h0M545.4 498.8h0M555.2 480.0h0M551.5 495.6h0M515.4 571.3h0M554.8 463.8h0M552.7 523.5h0M543.0 484.8h0M553.5 469.0h0M541.8 477.6h0M552.9 479.1h0M539.4 512.8h0M560.5 487.2h0M555.9 479.4h0M531.6 485.9h0M541.8 497.7h0M560.7 497.8h0M556.7 525.7h0M553.1 513.4h0M535.9 503.4h0M542.0 490.5h0M553.4 499.3h0M555.2 475.1h0M551.0 507.1h0M540.0 487.7h0M548.1 505.1h0M544.5 471.9h0M535.5 480.7h0M536.3 514.8h0M540.2 497.0h0M530.9 527.5h0M557.5 479.4h0M561.6 487.3h0M563.1 499.5h0M540.6 517.2h0M541.0 485.5h0M554.5 480.9h0M544.8 535.2h0M546.9 502.0h0M546.9 512.7h0M529.4 529.1h0M568.3 496.0h0M531.7 542.7h0M529.8 531.4h0M562.0 503.5h0M536.3 531.7h0M565.5 486.8h0M555.7 473.8h0M555.9 495.9h0M545.9 503.1h0M532.0 540.6h0M535.1 508.8h0M552.4 521.3h0M549.6 523.9h0M534.8 506.1h0M535.7 483.5h0M539.4 480.7h0M550.2 472.9h0M556.9 513.8h0M563.2 466.6h0M546.0 486.0h0M570.3 477.6h0M560.7 524.8h0M570.9 517.8h0M539.2 492.6h0M558.8 493.1h0M565.7 477.9h0M527.2 532.5h0M563.4 495.2h0M556.6 506.5h0M563.4 505.6h0M553.3 526.9h0M566.4 477.6h0M545.4 488.9h0M544.0 506.2h0M560.7 504.9h0M560.7 487.6h0M533.0 505.6h0M567.2 486.3h0M566.8 484.2h0M564.8 499.8h0M541.3 476.0h0M568.0 501.5h0M558.0 465.4h0M563.5 470.2h0M550.3 473.6h0M545.3 470.1h0M541.6 505.1h0M542.8 524.0h0M563.1 495.8h0M540.7 504.8h0M542.8 483.7h0M555.4 500.6h0M547.5 498.2h0M523.6 497.1h0M542.2 512.7h0M546.2 482.2h0M572.6 483.3h0M559.9 478.1h0M537.7 507.5h0M536.3 516.6h0M544.9 488.4h0M554.1 512.5h0M540.6 511.6h0M556.9 473.1h0M532.2 522.4h0M555.4 488.6h0M567.0 514.1h0M515.5 533.2h0M550.6 495.3h0M554.4 468.0h0M557.0 481.6h0M552.4 523.9h0M550.1 515.9h0M554.8 478.6h0M552.5 512.1h0M552.2 502.5h0M572.1 487.4h0M564.7 479.3h0M563.4 464.8h0M542.6 508.2h0M544.5 473.5h0M565.1 497.0h0M537.0 522.3h0M564.6 480.8h0M533.0 503.8h0M541.3 507.7h0M567.6 498.3h0M543.7 502.5h0M544.9 513.5h0M523.7 513.3h0M550.4 559.4h0M566.9 483.0h0M559.2 460.1h0M547.5 504.7h0M542.7 529.5h0M558.4 474.5h0M556.5 481.9h0M547.1 475.8h0M558.8 503.5h0M562.5 461.7h0M557.0 474.0h0M528.8 493.5h0M553.9 467.6h0M574.4 471.0h0M566.9 505.6h0M544.1 490.7h0M555.7 482.6h0M531.3 546.6h0M559.6 501.2h0M539.3 500.5h0M543.9 487.1h0M543.4 516.1h0M541.5 486.3h0M573.7 461.3h0M570.7 494.6h0M547.2 479.5h0M552.3 522.6h0M573.5 487.2h0M547.2 480.6h0M545.1 481.0h0M539.7 480.6h0M571.8 465.6h0M553.2 497.7h0M551.1 475.9h0M545.4 525.9h0M538.8 539.9h0M563.7 470.3h0M540.7 494.5h0M544.0 482.4h0M528.5 533.5h0M536.3 520.1h0M544.1 504.5h0M544.4 494.6h0M530.7 495.3h0M542.7 491.8h0M549.1 518.3h0M515.9 546.1h0M558.7 498.7h0M547.2 529.5h0M532.9 498.7h0M547.2 495.9h0M556.8 478.1h0M550.8 504.8h0M551.4 518.2h0M551.0 511.2h0M559.5 495.0h0M532.7 536.4h0M543.0 495.2h0M556.0 473.1h0M551.2 504.8h0M536.6 488.9h0M547.1 482.6h0M541.5 483.0h0M551.1 504.1h0M528.7 491.1h0M529.1 521.5h0M531.5 524.0h0M549.0 487.0h0M553.0 480.1h0M563.9 465.6h0M567.1 526.3h0M550.9 471.1h0M572.0 464.8h0M555.5 501.0h0M551.7 494.4h0M565.3 469.3h0M534.5 535.7h0M521.5 549.8h0M534.8 535.9h0M569.6 490.3h0M562.8 489.9h0M553.3 464.8h0M547.6 500.5h0M548.5 503.2h0M555.9 499.5h0M539.2 539.9h0M561.1 463.7h0M537.7 481.8h0M568.7 485.7h0M546.2 473.0h0M538.4 498.1h0M546.9 484.6h0M538.3 491.6h0M548.9 493.8h0M526.6 506.1h0M544.1 486.0h0M551.7 482.8h0M555.8 475.1h0M545.5 483.1h0M566.9 488.2h0M528.0 498.6h0M547.8 485.4h0M544.2 491.4h0M550.6 493.5h0M547.2 503.7h0M569.2 518.0h0M550.6 496.9h0M538.2 518.2h0M570.2 505.1h0M551.2 486.0h0M548.5 491.0h0M562.5 490.8h0M542.7 489.5h0M547.6 472.0h0M562.2 546.2h0M534.8 484.6h0M544.6 509.4h0M563.3 490.2h0M574.8 598.0h0M549.6 476.1h0M549.2 498.1h0M565.3 522.3h0M530.8 493.5h0M541.3 579.8h0M540.0 488.5h0M523.0 532.0h0M545.2 531.3h0M562.9 499.7h0M559.6 479.5h0M567.6 472.8h0M548.7 484.1h0M568.6 487.7h0M539.0 489.8h0M533.1 546.8h0M555.3 471.1h0M550.8 475.4h0M559.2 503.1h0M550.6 479.6h0M567.4 476.4h0M560.0 507.5h0M554.1 463.7h0M545.6 514.0h0M560.2 478.5h0M541.7 481.0h0M563.6 500.0h0M566.2 510.8h0M563.4 506.6h0M533.5 529.8h0M556.6 485.4h0M555.7 470.6h0M562.5 475.3h0M529.8 517.7h0M542.6 494.9h0M549.7 495.1h0M569.5 477.4h0M542.7 486.9h0M562.8 496.2h0M552.7 489.6h0M558.6 495.8h0M555.1 468.3h0M529.0 535.9h0M547.0 500.4h0M554.2 470.2h0M567.9 476.3h0M559.7 488.9h0M547.0 510.3h0M533.7 485.1h0M551.2 474.6h0M549.1 529.5h0M568.7 520.6h0M563.3 474.7h0M531.9 503.5h0M519.5 531.8h0M545.2 472.7h0M554.4 510.3h0M537.7 487.2h0M543.8 482.3h0M566.8 468.6h0M560.8 499.2h0M527.5 528.2h0M555.5 480.5h0M553.0 465.7h0M548.1 487.7h0M558.4 495.7h0M558.7 496.7h0M548.4 491.1h0M553.9 549.0h0M540.9 500.2h0M544.1 511.8h0M560.5 470.4h0M563.7 467.2h0M559.0 478.3h0M558.1 465.5h0M554.5 536.1h0M544.8 512.8h0M551.9 467.7h0M534.5 531.2h0M561.0 473.7h0M557.3 481.8h0M553.3 474.5h0M539.3 512.6h0M547.3 475.1h0M543.1 494.5h0M555.0 488.8h0M547.0 500.1h0M555.8 503.9h0M563.5 461.3h0M568.1 468.9h0M537.0 498.3h0M546.4 499.4h0M536.1 527.8h0M567.8 468.4h0M539.4 478.0h0M569.2 480.3h0M544.1 515.2h0M564.8 510.6h0M543.6 520.6h0M547.9 490.4h0M552.6 473.2h0M552.1 504.7h0M549.0 480.8h0M560.0 490.8h0M567.1 466.1h0M562.6 531.5h0M544.4 526.9h0M525.9 552.2h0M552.5 484.2h0M560.1 509.3h0M559.4 494.0h0M534.5 508.0h0M558.8 483.1h0M542.0 506.1h0M568.1 490.4h0M540.6 531.4h0M539.7 567.0h0M542.1 499.9h0M554.2 509.9h0M536.9 503.5h0M568.0 485.9h0M545.9 517.9h0M574.7 492.0h0M547.1 534.2h0M546.7 509.9h0M541.4 498.0h0M540.7 482.3h0M556.9 500.5h0M567.2 476.6h0M552.4 482.1h0M538.9 490.3h0M553.9 495.5h0M540.3 516.9h0M514.7 546.9h0M552.7 471.1h0M527.4 522.3h0M542.4 503.2h0M551.7 512.4h0M545.6 481.3h0M547.4 492.1h0M571.9 491.0h0M563.9 488.9h0M571.5 481.1h0M553.9 494.9h0M554.0 475.5h0M574.9 504.2h0M542.5 484.2h0M555.5 463.3h0M552.8 497.2h0M554.9 513.7h0M559.1 494.1h0M552.6 537.9h0M561.9 470.7h0M539.6 491.8h0M557.7 493.5h0M536.9 500.4h0M565.5 465.5h0M564.2 509.9h0M548.1 486.3h0M544.1 486.0h0M550.6 485.8h0M558.4 514.7h0M530.5 506.5h0M537.4 533.7h0M563.5 481.3h0M548.0 514.2h0M533.6 522.3h0M520.9 521.7h0M544.9 477.4h0M527.2 560.5h0M552.5 509.9h0M549.7 501.9h0M575.5 471.7h0M533.9 516.6h0M559.3 504.2h0M534.6 489.7h0M536.8 484.8h0M547.9 507.9h0M539.3 499.9h0M575.2 478.6h0M549.9 490.0h0M540.5 504.6h0M573.2 496.8h0M539.9 496.4h0M545.6 498.7h0M547.8 535.0h0M540.1 496.7h0M558.7 513.6h0M566.6 469.0h0M533.2 499.8h0M544.0 473.0h0M545.4 509.3h0M531.7 500.7h0M532.8 519.8h0M545.5 499.5h0M538.3 494.3h0M554.6 512.4h0M561.4 474.8h0M552.9 480.8h0M554.2 546.6h0M538.0 496.8h0M542.3 500.3h0M555.6 486.6h0M558.0 491.3h0M549.1 466.0h0M557.6 504.2h0M547.0 498.9h0M534.7 528.9h0M554.5 467.0h0M544.6 494.0h0M527.5 497.3h0M561.5 460.0h0M555.4 477.1h0M560.0 470.9h0M544.0 484.8h0M570.1 487.7h0M556.7 476.1h0M563.3 494.9h0M541.6 498.6h0M546.1 502.8h0M567.4 526.4h0M549.9 489.5h0M550.6 499.1h0M570.2 466.1h0M565.7 493.2h0M553.4 474.5h0M575.7 485.2h0M530.5 494.1h0M549.5 547.8h0M543.0 497.0h0M569.9 472.4h0M571.3 504.7h0M544.0 499.1h0M552.3 486.6h0M562.9 473.5h0M557.3 497.6h0M553.9 514.7h0M563.6 472.7h0M558.5 482.8h0M552.0 472.3h0M535.8 493.7h0M549.0 514.4h0M550.0 469.4h0M545.4 480.2h0M559.7 460.1h0M560.2 495.7h0M562.5 486.0h0M556.8 462.7h0M554.0 483.5h0M536.9 480.4h0M546.0 475.0h0M539.1 495.7h0M554.8 502.8h0M548.9 485.1h0M550.0 539.4h0M557.5 512.7h0M546.6 481.7h0M564.6 487.6h0M564.3 479.1h0M538.1 494.6h0M567.8 498.0h0M546.1 487.8h0M541.0 510.9h0M546.4 492.2h0M533.8 555.2h0M555.0 482.6h0M566.4 497.2h0M530.5 522.4h0M556.1 462.8h0M558.2 492.5h0M559.2 462.0h0M559.0 503.4h0M556.2 502.0h0M544.4 484.5h0M562.2 483.6h0M554.9 469.4h0M561.0 476.6h0M554.6 492.4h0M547.1 488.3h0M549.9 483.4h0M558.5 475.4h0M564.2 479.3h0M525.4 498.0h0M533.7 501.2h0M529.0 522.4h0M543.5 485.0h0M541.7 502.6h0M553.1 490.4h0M546.5 492.2h0M568.0 463.7h0M542.4 487.3h0M541.1 476.9h0M539.7 509.5h0M546.5 516.5h0M552.6 474.6h0M544.1 499.5h0M538.3 518.7h0M532.5 499.4h0M552.8 506.6h0M543.2 487.2h0M537.5 506.2h0M546.9 471.2h0M554.8 509.2h0M555.4 505.2h0M571.8 470.0h0M538.7 506.7h0M544.5 488.3h0M524.7 555.8h0M524.6 536.2h0M526.1 556.7h0M562.3 461.5h0M548.4 481.7h0M531.1 491.5h0M541.5 480.4h0M543.7 492.2h0M541.6 491.6h0M569.6 470.2h0M525.0 528.6h0M544.4 508.7h0M553.5 463.6h0M556.6 498.9h0M521.7 523.9h0M552.8 466.0h0M533.8 493.5h0M542.7 477.3h0M529.4 498.4h0M560.4 482.9h0M554.5 465.4h0M563.6 482.1h0M546.4 496.8h0M527.3 537.0h0M561.8 490.4h0M566.1 550.0h0M535.9 516.8h0M562.7 463.0h0M526.8 503.0h0M533.6 615.9h0M552.3 469.6h0M532.0 517.0h0M560.3 475.8h0M569.2 480.5h0M551.2 481.2h0M556.9 509.7h0M571.5 473.5h0M557.3 499.2h0M567.7 515.9h0M569.4 493.5h0M536.7 481.9h0M545.2 529.8h0M566.2 494.9h0M552.7 482.0h0M561.5 497.7h0M554.9 510.4h0M553.8 536.5h0M537.6 502.8h0M545.5 481.5h0M546.4 504.0h0M565.1 469.6h0M557.1 468.3h0M556.2 501.9h0M549.3 470.5h0M567.4 502.8h0M518.7 531.4h0M538.9 533.0h0M563.4 481.1h0M545.4 531.6h0M559.3 506.3h0M571.7 478.4h0M561.4 492.0h0M531.5 550.2h0M547.9 480.2h0M535.8 483.0h0M557.1 516.7h0M564.5 506.8h0M547.7 501.0h0M557.6 490.1h0M548.3 514.3h0M558.3 494.9h0M552.6 477.5h0M553.9 489.6h0M558.3 463.5h0M564.8 475.1h0M560.1 476.1h0M550.6 490.5h0M551.7 501.6h0M557.6 495.4h0M558.7 490.9h0M546.0 501.6h0M543.4 511.5h0M547.9 481.6h0M557.1 486.8h0M545.1 485.7h0M536.8 497.2h0M546.6 471.5h0M544.5 490.6h0M559.0 483.0h0M544.2 481.4h0M545.6 488.6h0M575.6 461.5h0M556.9 489.9h0M538.9 485.6h0M566.8 505.2h0M546.2 583.8h0M540.4 504.8h0M559.5 494.9h0M532.5 496.5h0M550.2 501.5h0M558.4 462.9h0M560.8 505.4h0M544.1 538.4h0M544.5 509.7h0M549.9 502.4h0M566.9 506.0h0M527.5 538.1h0M561.8 530.7h0M555.0 475.7h0M569.0 486.8h0M536.4 494.8h0M566.2 458.5h0M539.7 498.3h0M555.0 478.8h0M545.9 491.1h0M518.9 524.6h0M550.3 509.3h0M556.2 469.5h0M562.4 470.4h0M542.8 498.4h0M535.8 484.7h0M560.4 479.1h0M546.4 473.8h0M564.8 501.4h0M569.8 469.6h0M548.1 477.7h0M548.9 506.5h0M541.6 494.8h0M524.5 573.7h0M551.0 528.1h0M560.7 464.3h0M565.0 478.5h0M550.9 499.7h0M575.4 506.1h0M544.3 503.0h0M550.8 511.2h0M544.0 501.7h0M545.4 548.7h0M547.5 511.6h0M542.1 522.7h0M545.7 473.1h0M554.9 497.4h0M552.6 499.1h0M537.5 480.6h0M557.8 504.4h0M540.5 485.7h0M557.2 506.3h0M552.1 465.2h0M526.0 511.2h0M537.6 480.5h0M563.7 485.9h0M542.8 477.3h0M542.6 519.3h0M545.5 503.6h0M552.7 478.9h0M558.8 460.7h0M547.3 506.9h0M573.4 469.2h0M543.7 512.0h0M545.1 533.2h0M548.8 479.1h0M553.4 474.7h0M570.4 470.5h0M559.6 507.2h0M546.8 486.4h0M549.0 481.8h0M559.6 478.0h0M549.7 468.5h0M562.6 470.3h0M537.3 489.5h0M562.5 461.4h0M522.5 496.8h0M558.2 506.4h0M560.0 469.6h0M548.4 496.5h0M539.2 481.8h0M560.4 473.9h0M559.8 472.9h0M538.8 515.8h0M554.6 462.9h0M540.1 506.2h0M535.8 513.9h0M531.3 501.9h0M548.3 473.2h0M537.3 511.8h0M523.8 496.1h0M555.0 476.3h0M528.5 537.3h0M560.3 513.2h0M554.4 480.9h0M540.2 486.6h0M530.1 538.6h0M539.1 500.9h0M533.2 494.3h0M546.1 483.2h0M546.2 488.9h0M564.1 552.9h0M523.3 502.8h0M543.2 500.5h0M558.5 490.7h0M564.7 523.6h0M568.9 538.7h0M538.0 478.7h0M561.8 494.3h0M548.1 498.4h0M562.4 500.6h0M560.5 477.6h0M532.2 506.5h0M540.0 501.4h0M522.2 516.9h0M541.1 476.8h0M532.6 492.1h0M554.7 492.6h0M540.9 476.5h0M559.0 489.6h0M549.5 504.6h0M546.5 488.1h0M574.6 506.8h0M566.6 518.6h0M533.3 494.3h0M569.5 499.2h0M561.2 515.6h0M568.8 504.1h0M557.0 499.6h0M526.9 523.5h0M545.9 484.9h0M518.4 550.0h0M532.2 501.7h0M541.6 480.7h0M568.0 503.5h0M551.5 466.9h0M553.9 481.1h0M560.9 463.5h0M538.8 532.1h0M565.8 481.0h0M553.9 468.1h0M538.0 508.7h0M543.2 475.3h0M547.7 512.0h0M559.1 510.6h0M570.1 488.2h0M546.8 492.6h0M547.9 492.5h0M575.2 472.9h0M565.6 514.0h0M567.9 520.3h0M569.9 488.8h0M573.7 465.6h0M564.2 540.2h0M570.3 488.3h0M570.7 494.9h0M568.1 525.9h0M566.1 520.2h0M569.7 517.8h0M567.8 546.7h0M570.5 499.5h0M574.5 465.3h0M572.9 487.6h0M567.3 469.2h0M570.8 538.2h0M573.4 521.3h0M566.5 549.4h0M569.8 548.0h0M567.4 546.0h0M571.9 524.8h0M571.8 550.1h0M569.2 517.4h0M571.9 519.7h0M569.6 532.9h0M570.3 515.7h0M569.8 480.5h0M569.8 525.9h0M569.3 484.2h0M573.8 484.6h0M568.5 551.0h0M570.7 543.2h0M570.7 481.8h0M572.4 469.3h0M569.7 529.1h0M572.0 498.5h0M571.3 551.4h0M570.7 510.4h0M574.4 526.5h0M571.8 508.9h0M571.5 482.6h0M572.0 493.2h0M569.5 472.3h0M572.1 511.7h0M568.3 536.1h0M566.5 507.7h0M571.1 542.2h0M566.8 514.5h0M572.6 492.1h0M569.4 556.0h0M577.1 508.3h0M570.6 541.6h0M569.5 461.9h0M570.4 513.2h0M564.7 461.1h0M575.0 469.0h0M561.6 553.1h0M568.8 517.7h0M566.6 554.3h0M571.0 535.4h0M567.9 507.1h0M566.0 516.7h0M568.4 523.9h0M570.1 508.1h0M573.0 555.1h0M567.3 533.5h0M573.6 516.6h0M570.1 479.5h0M574.0 506.0h0M570.9 483.4h0M570.3 550.1h0M574.7 475.0h0M568.3 522.1h0M569.4 551.6h0M572.9 513.0h0M569.1 465.6h0M570.5 463.4h0M566.0 524.1h0M574.2 490.2h0M573.1 548.1h0M569.3 507.2h0M576.7 461.9h0M574.3 505.2h0M564.5 526.7h0M571.5 462.4h0M573.7 531.0h0M570.7 541.8h0M575.0 507.9h0M575.0 507.3h0M564.1 489.8h0M567.7 538.0h0M573.0 466.4h0M574.6 501.6h0M569.7 518.5h0M566.1 551.7h0M567.5 484.5h0M575.7 523.0h0M570.5 480.4h0M569.7 515.1h0M565.9 467.0h0M565.7 476.3h0M573.3 471.2h0M567.8 508.9h0M574.7 485.3h0M571.2 542.7h0M570.6 473.8h0M572.9 525.9h0M569.3 520.3h0M571.5 521.8h0M576.4 472.1h0M573.0 490.2h0M566.0 538.8h0M570.1 519.1h0M561.6 486.9h0M568.6 515.3h0M574.2 506.0h0M575.2 511.1h0M570.5 552.0h0M568.5 487.7h0M574.9 498.3h0M569.7 555.0h0M569.5 485.0h0M570.4 548.9h0M571.7 492.6h0M567.6 555.8h0M570.2 461.4h0M569.9 468.2h0M574.8 528.2h0M571.8 536.1h0M568.6 554.7h0M568.7 491.1h0M571.2 506.8h0M569.7 545.1h0M573.1 471.2h0M563.7 471.0h0M568.0 530.2h0M574.7 552.1h0M566.4 507.0h0M571.2 512.2h0M563.3 475.4h0M569.0 476.7h0M572.5 476.5h0M575.0 501.9h0M573.4 498.6h0M564.2 548.9h0M568.3 547.8h0M568.0 489.5h0M566.7 549.9h0M568.7 467.5h0M571.1 473.9h0M566.6 536.3h0M567.9 480.0h0M565.7 470.8h0M565.1 511.7h0M572.7 533.8h0M569.4 462.4h0M573.5 551.1h0M570.2 532.4h0M569.1 476.1h0M576.9 476.0h0M571.6 545.7h0M564.1 511.6h0M567.0 542.5h0M568.3 512.5h0M572.6 478.8h0M570.8 505.7h0M571.6 531.8h0M567.5 531.0h0M569.9 471.3h0M574.6 464.9h0M572.0 507.5h0M565.8 482.2h0M571.4 505.5h0M574.4 547.3h0M576.6 499.9h0M564.1 507.2h0M569.2 487.3h0M571.0 475.1h0M568.4 526.4h0M568.7 508.5h0M565.5 532.6h0M569.1 497.1h0M571.6 538.5h0M569.8 473.0h0M574.4 553.9h0M569.0 526.4h0M573.0 478.7h0M570.9 477.7h0M568.1 523.6h0M572.0 540.0h0M571.4 505.1h0M569.3 544.4h0M563.9 528.9h0M577.0 533.4h0M573.7 519.8h0M571.6 501.3h0M574.0 473.5h0M564.8 488.4h0M571.9 473.5h0M572.6 533.5h0M572.2 542.0h0M572.6 539.9h0M566.1 516.0h0M571.8 485.6h0M571.6 488.6h0M575.0 556.1h0M570.0 475.1h0M571.7 528.8h0M572.0 510.5h0M573.4 480.2h0M570.9 493.0h0M571.2 490.3h0M571.0 499.0h0M571.1 504.6h0M572.1 466.6h0M566.5 500.0h0M569.8 475.6h0M570.1 553.4h0M571.2 487.4h0M570.5 540.2h0M565.4 547.4h0M572.3 512.1h0M568.4 494.6h0M567.7 502.3h0M571.4 461.0h0M572.9 489.6h0M571.3 464.4h0M571.9 548.6h0M571.6 498.4h0M572.2 484.9h0M570.4 499.5h0M567.0 545.5h0M570.5 492.9h0M568.3 513.2h0M571.4 487.8h0M570.5 467.7h0M569.2 475.2h0M564.9 481.8h0M575.9 526.1h0M560.2 486.8h0M567.2 498.1h0M572.4 516.5h0M569.7 485.8h0M570.4 531.3h0M570.6 508.3h0M572.0 508.2h0M565.4 464.1h0M567.3 472.7h0M572.4 491.4h0M574.7 481.3h0M571.5 497.3h0M576.1 538.7h0M565.6 513.8h0M571.0 509.7h0M571.8 468.9h0M574.1 519.8h0M565.4 517.6h0M568.7 517.3h0M565.5 469.4h0M566.6 512.3h0M568.3 523.3h0M562.7 467.3h0M569.9 517.5h0M570.3 500.8h0M574.5 493.9h0M565.9 554.2h0M575.6 502.5h0M569.2 498.8h0M571.7 540.8h0M570.3 483.2h0M570.3 467.3h0M567.0 538.8h0M571.4 537.0h0M572.4 506.7h0M574.1 550.1h0M565.2 515.4h0M567.4 509.8h0M571.1 477.7h0M571.8 464.9h0M571.4 474.6h0M567.1 480.8h0M579.5 515.8h0M574.3 487.8h0M572.0 474.0h0M568.4 528.7h0M565.1 552.7h0M568.7 507.3h0M567.6 467.2h0M567.7 486.9h0M572.1 465.7h0M569.4 555.3h0M571.2 491.2h0M570.0 523.3h0M570.3 529.6h0M571.8 534.7h0M570.4 486.2h0M569.8 489.5h0M567.1 506.9h0M568.2 469.3h0M565.4 508.4h0M569.8 475.4h0M566.1 524.9h0M569.4 518.0h0M570.8 533.0h0M570.9 478.3h0M572.0 478.0h0M569.8 494.3h0M572.6 539.0h0M566.9 475.3h0M565.6 497.1h0M567.9 519.8h0M571.1 483.4h0M571.3 556.6h0M573.9 469.9h0M573.5 518.7h0M566.3 546.7h0M570.9 493.8h0M572.4 480.7h0M568.8 516.3h0M569.1 509.4h0M571.2 464.4h0M573.7 522.4h0M575.5 555.2h0M573.3 510.3h0M565.8 540.1h0M574.5 486.2h0M580.1 494.8h0M568.6 507.9h0M569.4 461.7h0M569.0 513.0h0M569.1 552.7h0M572.0 502.6h0M569.1 553.2h0M566.3 505.5h0M568.7 495.3h0M569.2 522.8h0M570.0 504.3h0M576.4 493.0h0M574.8 528.0h0M570.5 547.7h0M572.3 495.7h0M568.5 525.7h0M566.8 532.7h0M566.6 502.6h0M568.8 554.9h0M561.8 474.2h0M566.2 540.4h0M576.2 470.8h0M565.7 464.4h0M569.6 514.7h0M568.8 523.7h0M566.6 461.1h0M570.4 552.1h0M570.8 497.3h0M571.5 461.7h0M569.8 542.6h0M568.1 498.0h0M567.8 543.1h0M568.4 486.8h0M575.3 520.8h0M562.1 524.5h0M571.4 507.1h0M567.0 465.7h0M575.6 478.9h0M572.2 527.3h0M570.1 478.2h0M576.2 480.7h0M572.2 509.6h0M567.2 505.9h0M573.6 465.8h0M573.9 461.1h0M571.2 526.0h0M571.6 543.9h0M565.9 553.9h0M563.3 488.6h0M564.5 478.6h0M572.3 502.8h0M570.7 465.9h0M571.2 478.7h0M571.5 501.9h0M573.9 535.3h0M567.0 548.7h0M569.3 487.3h0M568.1 516.1h0M570.4 528.7h0M567.1 512.8h0M567.1 468.8h0M573.8 484.2h0M570.5 554.7h0M571.2 477.4h0M569.3 555.7h0M573.4 496.4h0M569.9 516.5h0M568.7 534.6h0M567.5 466.7h0M573.0 499.1h0M568.5 500.4h0M562.9 519.6h0M567.5 473.3h0M570.4 502.8h0M566.1 525.8h0M573.3 536.3h0M571.1 462.8h0M569.4 532.9h0M577.0 553.4h0M570.3 489.1h0M567.1 490.5h0M570.5 463.9h0M573.2 485.7h0M573.4 467.2h0M570.1 545.3h0M566.5 543.1h0M574.2 497.4h0M572.0 546.9h0M569.6 535.3h0M573.5 498.5h0M576.2 466.0h0M569.9 537.6h0M575.1 497.8h0M573.9 533.4h0M569.8 531.1h0M570.3 500.9h0M570.3 499.5h0M567.4 551.1h0M569.0 482.4h0M569.0 491.5h0M569.8 533.5h0M566.5 500.2h0M568.4 534.7h0M568.2 492.9h0M573.5 507.4h0M570.0 514.5h0M565.5 465.0h0M571.3 475.0h0M566.8 479.0h0M568.5 477.8h0M571.4 493.4h0M571.8 510.9h0M567.8 512.0h0M574.7 551.4h0M570.1 549.8h0M567.3 550.1h0M572.8 499.8h0M573.3 522.2h0M567.0 536.1h0M567.6 497.3h0M567.3 533.6h0M573.3 534.8h0M570.6 551.8h0M573.2 473.8h0M561.6 489.2h0M567.5 503.2h0M569.3 495.6h0M566.7 484.8h0M570.0 508.2h0M566.1 498.1h0M570.9 466.0h0M570.1 483.4h0M572.0 469.8h0M573.6 490.6h0M568.6 515.9h0M571.2 552.7h0M566.7 477.5h0M574.1 485.0h0M564.5 508.2h0M571.8 484.0h0M567.2 468.8h0M572.0 546.8h0M574.9 525.5h0M572.6 520.8h0M574.3 511.6h0M565.4 541.1h0M563.8 520.1h0M570.2 545.4h0M569.2 506.9h0M567.8 502.1h0M567.6 470.3h0M571.8 499.3h0M570.4 523.6h0M574.7 541.5h0M568.7 551.6h0M570.0 471.8h0M573.8 550.6h0M573.5 523.4h0M572.1 496.4h0M569.8 554.8h0M568.1 495.9h0M571.4 480.3h0M574.6 497.5h0M572.9 497.1h0M570.8 482.0h0M571.6 532.9h0M573.5 470.5h0M570.3 543.9h0M573.8 467.5h0M570.8 479.9h0M571.7 494.7h0M574.7 475.5h0M567.7 485.7h0M569.0 506.3h0M570.8 516.0h0M571.4 522.9h0M568.3 465.0h0M571.1 468.3h0M568.5 508.8h0M568.3 464.3h0M569.8 551.3h0M575.2 465.0h0M570.2 463.2h0M576.9 504.9h0M572.6 469.6h0M572.0 511.9h0M575.9 547.8h0M571.5 476.5h0M570.0 528.3h0M568.9 546.0h0M567.6 477.5h0M575.5 524.2h0M572.1 521.1h0M568.4 490.7h0M573.5 517.2h0M573.8 528.0h0M575.4 546.7h0M576.3 472.9h0M572.9 472.4h0M572.9 539.8h0M571.2 467.3h0M571.7 532.3h0M572.8 470.6h0M567.4 462.2h0M570.3 539.5h0M576.6 538.2h0M568.3 540.5h0M572.4 543.6h0M565.2 498.0h0M571.3 483.7h0M567.9 488.3h0M569.3 493.7h0M567.8 463.1h0M566.8 517.8h0M574.6 521.0h0M569.4 520.3h0M572.5 538.1h0M574.4 537.9h0M574.2 508.0h0M574.3 493.4h0M570.7 498.9h0M573.1 464.9h0M566.8 488.1h0M571.9 545.7h0M576.9 489.6h0M570.0 483.2h0M572.6 532.2h0M563.3 526.1h0M568.7 512.3h0M563.5 498.6h0M565.8 466.2h0M567.2 521.3h0M571.1 530.5h0M565.2 530.1h0M573.4 514.9h0M573.3 520.8h0M573.6 555.1h0M571.4 480.3h0M565.2 477.8h0M564.9 534.9h0M565.6 476.3h0M571.4 551.7h0M572.2 547.7h0M563.3 516.4h0M572.4 496.8h0M568.3 530.7h0M566.8 464.3h0M569.5 535.8h0M572.3 473.6h0M575.3 510.7h0M574.8 548.2h0M568.4 537.0h0M565.5 510.6h0M571.4 478.1h0M571.3 483.5h0M574.0 473.6h0M573.2 555.2h0M569.5 491.4h0M569.0 517.2h0M570.4 481.9h0M563.8 552.0h0M571.6 490.8h0M567.1 555.3h0M568.5 477.1h0M574.3 546.7h0M571.3 510.5h0M567.6 528.7h0M572.4 480.6h0M566.1 514.0h0M569.7 462.6h0M564.9 468.2h0M567.4 504.2h0M568.2 542.9h0M568.1 469.4h0M570.8 484.0h0M564.9 516.0h0M565.7 530.4h0M567.6 506.2h0M568.9 480.2h0M574.0 550.9h0M571.1 462.0h0M563.0 518.9h0M566.6 477.5h0M571.1 530.4h0M577.3 521.1h0M568.2 547.4h0M574.3 476.9h0M573.1 522.6h0M572.7 545.2h0M561.4 465.8h0M569.0 517.3h0M568.2 508.9h0M572.5 491.3h0M565.1 464.8h0M572.2 508.5h0M570.8 535.8h0M574.3 489.1h0M570.0 522.2h0M566.8 529.7h0M574.0 532.8h0M569.4 519.4h0M566.2 504.7h0M569.6 505.9h0M567.6 473.9h0M569.5 470.0h0M567.0 536.2h0M573.6 479.8h0M570.1 532.6h0M568.5 494.2h0M569.1 544.2h0M566.6 551.2h0M574.1 550.6h0M565.0 528.8h0M573.2 547.6h0M570.0 470.3h0M569.8 469.3h0M577.2 539.6h0M571.0 536.9h0M574.8 477.1h0M565.8 461.9h0M566.2 497.7h0M572.3 499.1h0M575.6 549.4h0M568.6 494.6h0M573.0 463.3h0M571.7 472.7h0M573.9 474.6h0M573.7 473.3h0M568.5 490.9h0M568.1 535.2h0M564.4 465.8h0M568.0 498.7h0M572.6 556.3h0M563.3 529.5h0M574.9 473.7h0M570.3 503.6h0M566.6 507.6h0M572.7 510.9h0M570.6 464.2h0M565.2 497.4h0M567.5 501.1h0M573.7 478.2h0M569.5 539.1h0M573.5 502.3h0M569.0 506.8h0M572.5 511.1h0M569.7 521.0h0M566.2 487.2h0M570.3 541.1h0M571.8 485.2h0M568.1 484.0h0M573.2 474.1h0M570.0 535.5h0M568.2 502.9h0M571.9 480.2h0M570.4 472.7h0M571.3 541.1h0M565.4 470.7h0M570.4 464.9h0M568.5 538.9h0M569.5 474.2h0M567.0 480.6h0M573.7 481.4h0M573.2 472.5h0M567.6 477.4h0M570.4 543.3h0M570.7 554.8h0M571.8 532.2h0M568.4 521.1h0M571.4 497.4h0M578.4 477.0h0M569.7 544.5h0M571.7 548.3h0M567.6 542.0h0M525.4 532.8h0M511.1 623.8h0M521.5 539.6h0M511.1 580.8h0M509.5 690.8h0M516.5 598.1h0M520.2 529.1h0M511.2 641.2h0M508.4 610.4h0M510.5 657.0h0M518.2 559.1h0M515.1 597.5h0M511.1 536.5h0M510.3 676.5h0M521.6 534.7h0M517.8 562.5h0M514.7 543.8h0M510.3 645.7h0M523.0 522.8h0M508.7 682.5h0M514.1 589.5h0M513.5 568.7h0M525.0 567.4h0M508.8 621.9h0M516.0 572.6h0M518.9 534.9h0M519.1 529.0h0M511.2 647.7h0M517.1 574.4h0M524.7 534.7h0M510.3 617.1h0M514.5 524.8h0M512.6 593.9h0M512.6 566.0h0M512.2 633.3h0M511.7 680.9h0M516.0 558.3h0M512.9 607.2h0M512.2 592.1h0M510.4 646.6h0M513.7 599.7h0M515.0 634.7h0M507.9 625.0h0M527.1 531.0h0M511.1 573.7h0M510.4 649.9h0M515.6 599.4h0M511.9 607.8h0M511.1 623.1h0M510.2 620.6h0M518.1 529.6h0M514.8 584.4h0M520.3 561.8h0M511.0 611.7h0M517.6 555.2h0M513.3 584.3h0M513.2 613.7h0M515.5 584.8h0M507.8 556.3h0M509.4 658.0h0M527.0 531.2h0M526.7 545.3h0M509.4 642.8h0M513.4 664.8h0M511.9 637.5h0M508.2 651.2h0M516.8 547.4h0M525.8 529.3h0M516.0 604.2h0M516.3 563.9h0M518.8 527.0h0M510.1 571.7h0M515.6 557.3h0M507.9 671.2h0M521.8 519.6h0M518.5 537.4h0M520.2 532.7h0M522.3 554.8h0M512.3 577.8h0M507.5 639.5h0M510.5 573.9h0M524.4 529.4h0M510.7 576.0h0M513.7 616.8h0M509.5 634.3h0M523.1 551.1h0M509.7 668.4h0M513.6 547.8h0M529.1 519.4h0M515.0 615.6h0M517.0 519.6h0M516.3 566.5h0M516.4 547.3h0M521.4 564.7h0M510.3 682.2h0M512.5 656.1h0M516.5 575.2h0M510.0 565.0h0M512.0 618.1h0M513.1 587.7h0M511.7 649.2h0M511.1 616.1h0M517.5 571.4h0M508.8 610.2h0M513.7 598.4h0M510.3 643.5h0M509.6 633.3h0M513.3 639.1h0M513.3 569.8h0M511.5 644.5h0M511.4 614.6h0M511.4 672.8h0M524.4 542.8h0M521.3 537.3h0M508.0 635.2h0M515.9 569.4h0M518.5 587.0h0M512.8 663.1h0M510.9 638.8h0M507.2 611.9h0M513.3 589.4h0M508.3 675.3h0M509.6 603.1h0M512.0 622.4h0M524.8 526.3h0M511.6 573.5h0M513.0 549.3h0M512.7 589.7h0M513.4 631.7h0M511.6 674.2h0M510.7 639.5h0M518.4 550.1h0M515.4 541.4h0M511.4 603.0h0M511.9 641.5h0M508.9 634.6h0M514.5 625.5h0M512.3 622.1h0M516.9 565.4h0M517.7 546.1h0M518.4 572.8h0M517.3 578.7h0M510.1 636.2h0M510.9 617.3h0M518.5 572.1h0M509.7 617.9h0M513.1 627.8h0M521.4 523.6h0M511.7 692.0h0M509.2 664.6h0M523.7 565.5h0M519.7 529.8h0M508.6 646.8h0M511.3 611.2h0M512.6 645.7h0M509.9 689.2h0M508.8 616.5h0M508.8 687.7h0M515.5 622.0h0M511.5 532.9h0M508.3 620.1h0M511.7 661.3h0M512.1 635.1h0M509.4 678.1h0M520.0 526.7h0M514.1 651.9h0M511.0 562.9h0M511.3 651.6h0M509.4 691.7h0M514.9 628.5h0M510.5 523.4h0M509.9 634.9h0M512.6 615.4h0M512.2 632.4h0M512.7 562.3h0M512.4 630.0h0M524.1 521.9h0M506.5 600.4h0M514.8 582.4h0M513.8 601.1h0M514.8 612.5h0M516.5 541.2h0M509.4 599.9h0M509.0 605.0h0M510.5 625.5h0M511.2 647.5h0M514.5 550.7h0M509.9 617.7h0M508.7 694.0h0M520.9 529.1h0M509.9 672.5h0M507.4 598.4h0M512.7 645.0h0M512.7 585.6h0M522.6 523.7h0M510.7 633.4h0M508.3 664.0h0M513.7 559.1h0M512.8 576.0h0M515.6 525.8h0M523.9 547.2h0M516.4 519.4h0M511.2 668.0h0M515.3 520.3h0M519.2 539.6h0M518.9 549.5h0M521.8 545.5h0M515.8 565.2h0M509.8 664.7h0M521.9 559.1h0M522.5 529.2h0M510.3 618.9h0M512.0 612.0h0M519.8 521.4h0M511.3 659.1h0M519.9 580.2h0M514.8 542.9h0M511.3 694.1h0M511.3 641.9h0M514.5 584.7h0M512.0 612.3h0M513.5 625.5h0M509.8 681.7h0M509.3 586.3h0M523.4 519.9h0M515.9 534.2h0M513.7 634.0h0M512.6 557.3h0M511.1 664.3h0M509.1 669.9h0M509.4 606.9h0M525.5 542.6h0M524.9 519.6h0M518.8 527.3h0M509.7 641.1h0M512.8 520.9h0M510.3 682.6h0M508.5 641.4h0M507.3 594.6h0M510.5 644.1h0M508.1 650.3h0M515.3 543.7h0M510.9 647.5h0M520.8 538.4h0M509.0 644.0h0M511.3 635.8h0M512.8 626.6h0M510.3 543.9h0M516.3 531.9h0M512.5 665.6h0M510.8 647.4h0M516.8 594.2h0M515.4 579.7h0M521.5 565.0h0M514.2 540.1h0M509.9 642.9h0M515.0 603.8h0M509.4 678.4h0M515.1 543.5h0M517.0 556.7h0M512.0 649.1h0M511.6 611.8h0M516.0 604.2h0M513.6 536.8h0M509.7 544.2h0M519.1 563.2h0M506.2 663.3h0M511.7 639.6h0M521.4 567.4h0M520.0 556.9h0M515.9 624.0h0M507.1 651.3h0M511.6 587.5h0M523.4 548.5h0M515.7 536.1h0M509.9 641.5h0M512.3 613.6h0M510.2 609.3h0M523.8 528.3h0M511.6 652.0h0M524.5 520.6h0M513.8 594.5h0M513.4 578.3h0M517.2 554.6h0M517.0 522.1h0M516.8 564.9h0M525.0 543.2h0M514.0 659.0h0M513.2 617.8h0M523.2 566.2h0M513.3 590.3h0M523.9 531.7h0M508.8 588.2h0M527.9 525.2h0M509.5 597.5h0M509.6 633.3h0M522.0 557.0h0M517.9 585.4h0M517.9 543.5h0M521.0 559.8h0M510.1 607.5h0M520.8 570.4h0M519.2 528.6h0M509.4 643.4h0M523.9 561.0h0M515.3 585.8h0M527.0 523.9h0M518.9 521.4h0M517.3 558.5h0M512.3 568.0h0M518.9 579.8h0M512.2 660.5h0M512.4 643.4h0M523.5 530.4h0M509.4 538.2h0M517.3 583.0h0M511.6 664.9h0M510.6 643.5h0M511.0 663.8h0M509.7 653.2h0M516.5 585.0h0M520.2 547.5h0M516.2 555.2h0M523.1 526.0h0M513.8 610.1h0M511.4 638.4h0M513.9 620.8h0M524.9 520.2h0M511.7 643.1h0M511.3 612.2h0M511.2 629.9h0M521.8 545.5h0M511.6 676.2h0M510.2 584.4h0M518.0 570.4h0M510.4 655.8h0M515.5 566.7h0M515.0 544.5h0M515.3 553.7h0M513.0 570.7h0M509.4 600.6h0M514.5 562.3h0M512.1 583.6h0M513.9 546.6h0M519.4 571.4h0M518.8 537.0h0M513.3 565.1h0M511.3 595.6h0M515.5 589.4h0M511.1 643.7h0M517.9 531.5h0M515.8 583.4h0M511.0 638.5h0M511.0 674.3h0M514.5 634.7h0M517.2 572.1h0M512.5 603.9h0M520.3 566.4h0M512.6 592.6h0M518.4 560.5h0M509.6 667.2h0M520.7 552.7h0M511.9 684.4h0M514.7 570.5h0M511.5 600.2h0M510.5 670.3h0M511.9 609.8h0M519.0 524.1h0M509.6 617.1h0M522.0 522.2h0M513.5 643.3h0M511.2 599.0h0M513.4 615.8h0M520.9 571.2h0M508.2 654.2h0M511.6 636.5h0M510.8 596.1h0M512.1 636.4h0M511.1 679.6h0M512.6 609.1h0M518.6 529.8h0M515.0 554.3h0M515.7 561.9h0M514.4 585.2h0M512.9 668.1h0M513.4 627.9h0M513.6 607.1h0M521.6 547.5h0M522.4 542.3h0M522.2 566.2h0M510.6 652.4h0M513.1 577.8h0M510.5 683.5h0M512.1 555.4h0M514.4 578.4h0M513.2 538.5h0M507.9 594.5h0M515.9 591.5h0M516.2 561.0h0M519.0 554.9h0M510.6 653.0h0M519.5 550.5h0M516.4 594.3h0M512.6 632.5h0M511.8 613.4h0M522.8 528.8h0M512.3 584.3h0M509.7 655.1h0M513.2 619.8h0M515.6 589.6h0M511.8 533.0h0M513.5 546.3h0M515.5 593.4h0M517.0 538.2h0M516.2 547.9h0M511.5 643.2h0M511.2 651.8h0M513.4 585.6h0M515.7 527.9h0M514.4 618.6h0M511.3 646.0h0M518.8 541.3h0M509.5 569.2h0M513.5 613.6h0M505.8 649.8h0M523.1 521.4h0M511.8 591.5h0M508.6 660.3h0M519.9 522.5h0M510.4 670.3h0M515.9 538.8h0M517.0 567.2h0M510.4 682.9h0M518.4 554.7h0M510.0 691.5h0M508.9 690.9h0M510.1 632.0h0M509.2 687.2h0M510.3 606.3h0M510.7 586.3h0M514.7 592.2h0M520.2 557.4h0M509.0 686.0h0M509.0 629.2h0M512.7 580.1h0M510.1 632.4h0M520.8 526.7h0M508.5 670.1h0M509.2 655.8h0M517.9 578.1h0M513.4 550.9h0M513.9 609.3h0M518.2 554.5h0M514.8 634.7h0M512.0 559.6h0M519.3 532.0h0M511.9 631.2h0M508.9 596.4h0M517.1 538.2h0M510.8 658.1h0M511.8 573.8h0M517.0 569.2h0M508.2 687.5h0M514.5 627.5h0M509.8 685.6h0M515.9 576.5h0M523.6 549.3h0M512.6 671.4h0M513.7 526.8h0M510.9 595.6h0M512.2 576.7h0M509.0 601.2h0M520.5 544.9h0M515.3 612.5h0M510.8 570.8h0M528.6 520.0h0M512.3 579.0h0M513.7 594.6h0M514.4 619.8h0M510.8 633.6h0M513.7 638.1h0M521.6 522.8h0M520.3 523.2h0M514.7 595.2h0M513.6 611.2h0M512.1 630.0h0M530.5 532.4h0M512.3 624.7h0M526.2 525.9h0M511.6 589.9h0M514.0 596.0h0M511.3 664.5h0M516.8 540.7h0M516.3 594.7h0M515.4 529.5h0M515.9 576.0h0M515.4 566.8h0M510.4 668.1h0M515.2 553.3h0M508.6 653.5h0M520.1 529.0h0M522.2 521.5h0M510.8 662.1h0M521.3 526.8h0M513.6 552.1h0M514.8 588.1h0M519.0 575.2h0M516.1 536.5h0M512.5 666.7h0M514.2 601.5h0M515.6 593.7h0M512.5 608.8h0M510.5 620.9h0M517.2 593.9h0M521.8 522.8h0M514.0 557.3h0M513.5 602.9h0M509.2 643.0h0M514.9 543.6h0M531.5 520.7h0M513.1 594.5h0M510.0 685.8h0M508.3 620.3h0M513.6 560.4h0M514.0 543.6h0M526.1 532.1h0M511.1 675.0h0M509.5 661.9h0M510.2 667.2h0M510.2 651.9h0M512.0 539.6h0M511.5 624.7h0M512.9 597.2h0M528.5 520.6h0M513.3 605.3h0M517.5 549.9h0M516.7 570.3h0M512.3 657.7h0M509.4 603.3h0M510.1 631.3h0M510.7 656.3h0M511.9 588.1h0M518.9 540.9h0M509.4 664.1h0M533.2 536.6h0M508.7 609.5h0M509.8 628.7h0M512.5 563.7h0M513.1 645.8h0M508.3 676.3h0M519.0 580.6h0M513.1 581.9h0M516.2 522.9h0M515.0 559.6h0M510.4 540.0h0M516.9 538.4h0M510.7 667.3h0M519.9 557.0h0M515.6 521.1h0M509.9 676.0h0M522.1 528.1h0M510.7 608.3h0M519.4 564.8h0M519.2 535.3h0M508.8 580.6h0M519.9 530.7h0M509.6 567.7h0M510.7 639.8h0M510.0 607.3h0M514.5 580.5h0M510.8 634.7h0M514.3 637.1h0M509.8 591.2h0M510.7 667.6h0M516.4 587.5h0M508.1 547.2h0M510.9 637.9h0M512.9 634.3h0M513.4 601.6h0M525.1 535.4h0M526.3 521.6h0M507.7 630.8h0M511.6 632.9h0M523.9 530.0h0M509.8 630.6h0M530.8 536.6h0M512.3 600.8h0M510.7 674.1h0M510.3 650.3h0M514.1 620.4h0M512.6 569.6h0M508.9 681.1h0M513.7 619.5h0M507.8 696.1h0M516.4 575.5h0M515.1 564.1h0M510.4 652.3h0M511.6 656.8h0M521.4 555.1h0M523.8 528.5h0M510.4 682.2h0M512.2 622.6h0M512.7 560.3h0M523.3 537.0h0M510.3 579.8h0M518.2 524.9h0M511.5 652.8h0M511.4 630.8h0M513.0 618.0h0M514.0 539.2h0M514.6 561.5h0M514.7 646.2h0M511.4 593.8h0M516.7 552.4h0M506.4 652.2h0M522.8 520.6h0M518.4 543.1h0M509.0 647.6h0M512.2 642.8h0M520.3 564.8h0M513.6 586.7h0M519.0 581.0h0M520.2 557.3h0M513.0 599.8h0M514.4 520.4h0M512.5 595.9h0M514.9 585.4h0M510.6 664.9h0M508.7 613.6h0M510.4 632.2h0M514.6 537.1h0M510.5 648.9h0M512.6 656.0h0M507.4 646.2h0M508.7 650.4h0M518.6 578.1h0M510.6 585.2h0M520.1 560.0h0M521.0 561.4h0M511.0 686.6h0M512.8 644.5h0M514.9 551.7h0M509.4 654.5h0M509.7 670.6h0M519.6 542.0h0M512.4 600.3h0M518.6 557.7h0M510.1 671.3h0M520.1 520.4h0M514.7 620.7h0M510.5 618.3h0M518.1 553.3h0M510.6 570.8h0M516.8 599.2h0M518.6 536.5h0M513.1 593.7h0M506.3 601.1h0M516.6 525.0h0M519.8 560.2h0M511.6 571.3h0M509.1 657.5h0M513.8 574.2h0M513.3 640.9h0M516.5 551.0h0M511.8 626.9h0M530.9 532.6h0M509.5 656.8h0M522.3 553.0h0M514.8 529.5h0M509.9 625.1h0M522.1 542.7h0M512.0 614.7h0M515.3 550.1h0M512.4 606.0h0M520.4 521.2h0M511.6 573.7h0M522.3 576.8h0M512.3 595.8h0M511.4 662.3h0M511.7 583.5h0M510.8 673.6h0M516.5 542.6h0M532.3 529.4h0M511.1 606.0h0M520.1 530.0h0M510.2 681.0h0M518.9 538.6h0M521.1 551.3h0M514.3 610.3h0M513.3 573.1h0M511.1 596.2h0M519.4 531.6h0M516.4 571.9h0M508.6 658.2h0M513.0 609.2h0M511.4 648.2h0M511.9 633.4h0M516.9 561.5h0M521.6 521.7h0M516.8 560.1h0M510.7 677.6h0M515.8 599.3h0M517.2 559.2h0M519.2 522.9h0M521.1 535.1h0M522.1 576.7h0M511.9 587.0h0M526.2 524.7h0M515.9 605.1h0M515.2 590.7h0M513.1 682.1h0M510.7 631.3h0M515.6 595.2h0M510.3 671.7h0M521.3 525.6h0M509.9 629.7h0M517.9 573.6h0M518.9 544.9h0M513.6 656.9h0M518.3 526.1h0M514.5 541.4h0M511.9 618.5h0M512.8 621.3h0M517.9 570.8h0M513.3 571.0h0M507.4 625.5h0M509.3 679.7h0M514.4 535.4h0M511.2 624.3h0M509.6 624.0h0M512.2 669.9h0M513.5 551.9h0M520.1 533.4h0M511.8 634.3h0M509.7 646.2h0M512.7 586.6h0M512.4 541.5h0M510.3 573.6h0M511.8 677.5h0M521.9 526.9h0M510.3 634.7h0M523.4 523.3h0M515.8 545.1h0M510.1 649.7h0M515.2 631.4h0M511.7 643.6h0M510.3 688.6h0M514.8 572.8h0M516.2 560.3h0M515.1 580.4h0M517.6 584.2h0M515.9 604.5h0M513.5 650.6h0M509.3 584.9h0M516.0 519.4h0M512.1 601.0h0M509.6 568.5h0M512.5 622.3h0M511.2 633.5h0M521.2 526.1h0M511.8 606.8h0M522.3 549.2h0M512.6 581.6h0M513.6 621.3h0M513.0 587.4h0M510.5 621.9h0M509.7 674.7h0M510.2 652.6h0M512.4 619.8h0M511.6 651.6h0M520.1 547.6h0M512.4 557.0h0M518.6 530.9h0M511.4 635.6h0M510.2 631.4h0M516.8 578.0h0M509.5 604.3h0M511.8 602.2h0M508.7 655.3h0M511.1 667.1h0M515.6 540.6h0M517.3 532.1h0M511.2 647.4h0M511.6 650.4h0M510.4 658.4h0M512.3 618.8h0M511.3 581.9h0M517.1 531.1h0M508.7 670.7h0M513.6 616.0h0M517.2 545.6h0M521.2 532.5h0M508.4 576.7h0M512.0 578.3h0M512.4 619.9h0M511.3 667.6h0M510.1 580.4h0M523.7 534.4h0M512.7 566.2h0M517.3 536.7h0M515.8 571.1h0M516.0 609.9h0M512.4 596.7h0M511.9 589.5h0M512.9 656.3h0M525.1 551.0h0M512.6 598.7h0M517.0 588.9h0M514.8 598.1h0M511.0 660.2h0M510.2 659.3h0M518.2 537.5h0M510.1 591.1h0M517.8 535.4h0M508.3 638.1h0M513.5 579.5h0M515.0 560.6h0M520.7 531.9h0M512.8 583.4h0M514.9 592.9h0M509.8 655.8h0M521.3 580.2h0M508.5 673.0h0M511.3 606.8h0M511.5 549.7h0M509.8 651.9h0M512.3 542.3h0M517.1 526.7h0M510.8 667.6h0M510.7 674.1h0M512.6 576.4h0M509.2 648.1h0M524.1 545.1h0M509.3 612.1h0M512.7 657.4h0M515.6 562.8h0M511.5 638.8h0M512.4 570.7h0M515.3 585.1h0M515.9 575.2h0M520.7 520.2h0M508.8 664.3h0M522.2 547.4h0M511.3 641.0h0M519.4 543.7h0M516.0 611.2h0M513.0 567.4h0M520.4 530.6h0M518.1 579.3h0M520.0 558.4h0M509.6 678.2h0M510.3 661.8h0M507.8 620.0h0M512.7 631.6h0M517.0 565.6h0M508.6 609.0h0M519.4 524.3h0M515.4 583.1h0M515.8 622.1h0M518.3 532.3h0M512.4 617.4h0M518.6 566.1h0M518.2 532.0h0M510.6 551.8h0M509.2 635.7h0M522.4 562.4h0M523.7 544.3h0M513.6 633.8h0M515.4 578.8h0M512.1 599.1h0M512.5 655.4h0M513.4 570.3h0M518.3 573.2h0M518.4 549.1h0M515.8 567.2h0M516.3 547.6h0M517.6 555.9h0M511.2 560.3h0M517.1 552.7h0M508.5 588.4h0M513.0 569.4h0M509.6 604.3h0M513.6 543.7h0M515.8 569.5h0M507.3 606.6h0M521.5 528.8h0M521.2 520.4h0M520.0 538.0h0M517.6 589.1h0M511.1 631.7h0M528.7 532.7h0M511.0 662.4h0M518.5 526.8h0M521.0 525.7h0M518.1 572.2h0M508.5 650.5h0M512.1 628.2h0M515.5 556.1h0M511.9 627.8h0M516.3 541.7h0M513.4 623.9h0M514.0 623.7h0M516.8 553.0h0M520.9 529.9h0M521.6 539.4h0M513.2 623.8h0M518.5 531.3h0M517.9 575.5h0M517.3 526.2h0M519.4 521.8h0M511.3 633.3h0M510.0 616.8h0M509.9 609.1h0M517.6 560.4h0M521.2 535.2h0M522.6 530.3h0M508.7 613.1h0M516.8 582.6h0M508.8 608.0h0M517.2 579.5h0M514.0 632.6h0M509.8 653.1h0M522.6 546.9h0M510.4 576.0h0M514.2 604.3h0M507.7 650.4h0M510.4 657.4h0M518.8 519.2h0M516.2 543.0h0M510.9 625.2h0M518.3 533.2h0M513.3 580.5h0M514.4 594.5h0M517.0 552.7h0M518.5 533.2h0M513.6 562.1h0M508.5 556.6h0M513.5 555.5h0M523.4 547.1h0M509.1 556.0h0M512.7 576.6h0M515.4 548.7h0M510.6 657.3h0M513.3 586.7h0M525.9 526.0h0M516.5 580.3h0M511.1 602.9h0M511.6 555.7h0M518.6 561.0h0M512.1 645.4h0M525.6 531.7h0M519.3 569.1h0M514.5 583.8h0M511.9 632.5h0M511.0 602.7h0M516.3 555.8h0M517.4 603.2h0M511.2 631.5h0M508.8 622.9h0M513.4 584.4h0M513.0 598.2h0M517.7 522.2h0M508.6 677.9h0M522.2 548.1h0M513.5 572.2h0M514.0 580.0h0M516.6 587.2h0M519.8 546.9h0M509.5 611.3h0M509.4 617.9h0M518.2 574.7h0M518.5 526.4h0M513.9 632.1h0M523.2 582.6h0M514.2 541.4h0M514.5 579.4h0M512.2 569.6h0M517.7 585.8h0M520.2 525.3h0M524.3 580.9h0M519.8 559.8h0M518.6 549.2h0M508.5 668.9h0M510.4 692.3h0M512.0 629.4h0M513.5 533.0h0M514.4 553.5h0M516.5 603.4h0M524.4 527.0h0M510.9 583.3h0M510.4 671.3h0M520.3 543.7h0M512.0 608.7h0M513.2 651.8h0M519.3 525.5h0M508.7 589.4h0M513.0 637.6h0M512.0 608.0h0M507.5 651.3h0M513.3 595.1h0M517.0 599.1h0M513.4 608.9h0M525.8 524.0h0M513.5 556.5h0M513.0 621.2h0M510.7 649.9h0M512.0 629.7h0M510.0 652.5h0M513.3 618.8h0M516.1 605.5h0M525.8 547.4h0M513.2 581.2h0M511.3 644.3h0M515.1 556.2h0M511.0 654.4h0M509.8 613.9h0M515.0 600.5h0M524.2 550.3h0M517.6 535.5h0M520.0 556.1h0M522.5 532.1h0M521.4 529.8h0M524.2 521.2h0M519.6 523.0h0M514.2 599.5h0M511.7 654.9h0M517.6 537.4h0M520.6 563.1h0M514.6 601.6h0M511.4 630.0h0M520.4 541.6h0M517.9 575.3h0M520.8 555.2h0M507.6 667.0h0M514.5 603.6h0M513.4 622.8h0M509.4 645.2h0M514.2 632.9h0M514.7 618.3h0M515.3 624.9h0M521.4 560.4h0M519.3 591.5h0M509.5 670.7h0M510.2 663.1h0M511.5 597.5h0M512.1 593.0h0M511.3 622.7h0M518.0 530.0h0M511.1 622.3h0M522.9 524.5h0M509.6 675.1h0M511.1 578.2h0M520.8 570.3h0M508.9 653.4h0M506.4 666.0h0M512.5 601.4h0M511.3 610.6h0M515.5 570.5h0M514.3 544.8h0M511.0 649.8h0M512.8 570.4h0M509.3 540.4h0M512.0 545.3h0M509.6 613.7h0M517.6 527.2h0M514.2 540.1h0M518.4 570.2h0M509.4 676.0h0M508.9 623.4h0M512.6 632.5h0M523.1 530.4h0M516.3 575.0h0M521.8 568.1h0M510.0 646.6h0M515.2 548.8h0M517.8 573.4h0M510.5 633.9h0M515.2 537.8h0M510.3 593.4h0M523.9 536.4h0M511.3 630.8h0M515.2 580.5h0M513.7 637.6h0M517.1 586.5h0M512.9 615.0h0M507.8 690.6h0M506.8 652.9h0M512.2 574.4h0M513.9 572.0h0M511.5 613.7h0M510.3 615.3h0M515.7 575.9h0M522.3 540.0h0M512.5 541.8h0M515.2 562.9h0M512.7 629.3h0M512.2 567.0h0M510.5 666.0h0M518.2 523.9h0M510.8 669.7h0M513.6 576.1h0M518.4 526.3h0M515.4 525.5h0M507.8 617.0h0M514.6 565.4h0M508.7 651.4h0M511.9 679.9h0M510.2 670.8h0M514.6 634.6h0M513.8 548.7h0M521.0 552.2h0M513.9 583.2h0M509.4 619.7h0M510.7 641.4h0M510.2 568.6h0M511.1 631.0h0M511.8 662.8h0M515.7 579.9h0M524.7 530.1h0M517.8 589.2h0M515.5 542.7h0M512.6 618.4h0M517.2 564.5h0M516.8 555.4h0M507.9 567.4h0M512.0 619.4h0M513.9 581.3h0M510.1 660.7h0M510.8 633.6h0M513.4 632.4h0M518.7 586.6h0M517.0 527.7h0M511.8 661.4h0M514.8 556.6h0M516.3 557.5h0M511.4 623.9h0M513.7 565.4h0M512.3 629.3h0M511.8 666.5h0M518.8 564.7h0M510.5 622.0h0M519.8 531.9h0M514.2 579.2h0M515.8 599.1h0M522.1 533.6h0M514.2 592.0h0M516.6 573.0h0M513.0 597.1h0M511.3 623.6h0M513.6 638.0h0M508.0 554.5h0M502.7 536.1h0M497.5 599.7h0M507.2 608.6h0M504.0 643.5h0M508.1 599.2h0M505.8 655.5h0M504.6 532.6h0M495.3 574.2h0M497.0 653.0h0M491.5 527.7h0M498.2 606.9h0M503.2 535.4h0M504.9 593.9h0M496.7 576.8h0M502.4 580.5h0M506.8 655.4h0M500.6 648.0h0M497.6 538.1h0M506.9 528.3h0M493.5 609.9h0M498.2 606.5h0M502.3 613.5h0M509.4 573.9h0M506.9 638.5h0M498.7 599.8h0M508.6 637.5h0M506.1 567.5h0M490.5 564.0h0M497.5 578.1h0M493.2 605.0h0M487.6 551.0h0M502.2 518.9h0M491.9 582.3h0M505.7 568.1h0M506.4 567.4h0M501.4 596.5h0M499.6 605.9h0M505.3 578.6h0M490.4 602.4h0M506.6 585.2h0M506.9 643.9h0M492.3 634.1h0M487.3 615.1h0M496.4 556.7h0M503.0 618.1h0M509.5 592.7h0M495.3 584.2h0M506.0 653.6h0M503.0 519.2h0M505.6 548.5h0M498.6 531.7h0M507.7 620.6h0M509.3 645.9h0M497.9 528.1h0M498.4 536.3h0M499.3 655.7h0M500.2 592.4h0M500.6 554.6h0M506.9 539.4h0M506.7 546.6h0M499.4 643.9h0M487.8 571.6h0M507.6 509.7h0M503.2 581.4h0M494.4 628.7h0M503.9 528.0h0M499.7 643.5h0M501.1 628.7h0M507.3 662.2h0M504.0 638.6h0M505.4 554.8h0M495.8 583.7h0M502.6 657.5h0M509.3 611.0h0M494.6 593.2h0M508.9 555.6h0M491.3 587.4h0M496.7 540.0h0M509.2 522.1h0M496.1 623.2h0M500.8 525.7h0M498.3 556.9h0M490.5 625.8h0M504.5 613.8h0M509.2 555.7h0M482.3 591.1h0M509.0 560.2h0M509.4 635.7h0M509.0 628.3h0M504.3 591.1h0M506.7 629.4h0M493.9 593.3h0M494.2 640.2h0M502.0 573.0h0M507.2 584.6h0M506.2 655.6h0M495.7 545.6h0M509.3 597.8h0M497.8 573.7h0M503.4 585.9h0M500.5 581.6h0M497.4 611.0h0M498.1 646.8h0M507.4 652.3h0M506.4 588.1h0M494.9 570.4h0M504.1 582.4h0M503.6 565.2h0M503.1 545.1h0M497.1 627.7h0M508.4 644.1h0M495.1 535.6h0M509.3 648.0h0M507.9 530.1h0M501.7 660.0h0M505.3 548.3h0M506.1 536.8h0M507.1 518.4h0M497.8 598.4h0M493.5 548.3h0M509.0 609.8h0M505.9 647.0h0M505.7 653.7h0M503.1 552.4h0M507.1 557.6h0M499.8 519.2h0M502.5 538.0h0M491.2 606.2h0M507.2 613.2h0M507.5 561.3h0M504.7 559.2h0M508.0 617.9h0M504.4 610.4h0M496.1 595.5h0M500.8 633.7h0M504.2 544.5h0M488.1 619.8h0M503.3 562.7h0M500.4 645.3h0M495.8 544.5h0M497.0 622.5h0M506.3 598.9h0M506.2 552.4h0M505.6 548.4h0M504.7 626.2h0M503.4 588.8h0M496.3 634.9h0M504.0 595.6h0M508.1 628.6h0M505.5 553.3h0M502.9 594.9h0M500.6 537.7h0M505.4 553.4h0M504.4 519.1h0M494.2 643.9h0M484.5 570.0h0M507.9 519.3h0M509.4 538.2h0M509.1 589.2h0M503.0 636.5h0M504.9 527.9h0M508.7 638.1h0M505.1 530.4h0M503.0 625.3h0M503.2 519.7h0M507.7 647.7h0M496.6 641.4h0M503.0 631.4h0M500.5 562.4h0M509.3 596.5h0M509.5 565.1h0M493.7 621.2h0M507.2 624.0h0M500.4 602.9h0M499.8 615.0h0M509.4 577.1h0M506.7 579.1h0M487.4 585.6h0M503.9 547.4h0M509.4 631.7h0M500.1 537.0h0M482.3 609.2h0M509.0 632.8h0M508.7 600.9h0M503.4 621.0h0M509.5 657.4h0M504.4 525.2h0M497.4 656.7h0M492.2 533.0h0M498.2 624.4h0M501.0 556.8h0M486.3 550.3h0M506.1 535.2h0M506.1 550.5h0M508.9 562.8h0M509.4 654.2h0M500.3 537.4h0M489.5 545.0h0M502.0 634.4h0M497.3 577.6h0M492.2 609.1h0M499.1 637.1h0M506.0 632.5h0M502.0 618.6h0M504.6 562.3h0M504.8 543.5h0M500.0 540.1h0M497.9 568.2h0M497.4 591.1h0M504.4 586.4h0M509.0 625.6h0M501.5 567.2h0M492.9 528.1h0M495.7 640.5h0M503.0 565.7h0M496.0 522.1h0M507.2 629.9h0M500.6 601.4h0M496.7 597.1h0M489.5 595.5h0M500.7 578.2h0M508.8 604.1h0M493.9 568.9h0M505.4 536.5h0M498.9 589.0h0M508.0 605.8h0M507.8 623.5h0M503.2 595.8h0M501.8 622.0h0M496.3 607.2h0M509.5 530.2h0M507.1 573.6h0M509.3 612.5h0M504.9 553.1h0M502.1 632.6h0M508.2 577.8h0M507.0 589.4h0M500.4 654.5h0M502.5 621.6h0M507.1 574.3h0M493.5 541.9h0M508.9 572.1h0M509.2 626.2h0M505.6 591.9h0M508.0 540.8h0M509.4 661.2h0M509.2 621.9h0M507.3 533.7h0M508.9 638.1h0M505.0 548.8h0M496.3 604.1h0M498.8 545.0h0M508.6 580.4h0M504.0 640.0h0M505.4 626.6h0M490.8 577.5h0M495.9 554.4h0M498.0 637.9h0M495.8 651.2h0M495.6 583.1h0M499.8 663.4h0M506.1 582.2h0M500.3 558.8h0M489.8 597.0h0M502.9 551.3h0M495.0 613.4h0M495.8 578.6h0M496.8 602.9h0M498.5 595.8h0M507.2 549.6h0M501.7 556.8h0M489.4 584.6h0M496.9 544.3h0M502.6 527.4h0M497.5 571.2h0M504.5 561.8h0M500.0 557.9h0M507.5 556.4h0M506.0 619.9h0M506.1 611.2h0M498.9 532.4h0M509.5 580.3h0M503.8 664.1h0M505.8 610.4h0M501.0 626.8h0M503.7 637.7h0M502.5 571.2h0M491.7 560.7h0M508.4 628.4h0M500.4 544.3h0M504.2 596.3h0M494.2 618.0h0M506.0 652.3h0M506.9 538.8h0M501.7 657.2h0M499.2 543.4h0M504.1 660.8h0M503.0 516.6h0M507.0 580.4h0M508.8 583.9h0M494.5 535.3h0M497.1 569.9h0M501.8 663.7h0M507.4 555.8h0M508.2 594.9h0M504.6 598.2h0M499.9 522.7h0M505.5 524.8h0M507.0 542.3h0M490.2 618.1h0M495.6 540.7h0M496.2 553.1h0M501.5 571.6h0M509.5 623.2h0M502.1 598.2h0M493.3 523.6h0M508.6 524.8h0M490.2 602.0h0M491.7 597.2h0M507.1 525.8h0M487.0 609.1h0M498.8 526.8h0M506.8 538.5h0M501.0 609.0h0M503.8 649.8h0M500.7 519.0h0M500.6 534.1h0M505.0 631.4h0M508.8 604.4h0M505.8 548.4h0M500.2 657.0h0M503.3 613.6h0M508.9 537.7h0M504.0 616.6h0M497.8 638.8h0M508.7 545.7h0M509.4 566.6h0M508.8 647.7h0M497.5 619.4h0M496.2 566.5h0M509.3 645.2h0M504.1 634.4h0M506.0 636.7h0M493.6 579.4h0M490.2 565.3h0M487.2 553.9h0M502.7 663.7h0M506.7 548.3h0M502.1 641.5h0M504.5 557.7h0M500.0 567.1h0M494.0 572.1h0M497.4 623.7h0M486.0 593.3h0M506.7 648.4h0M507.3 637.7h0M487.6 570.7h0M497.2 525.5h0M494.8 617.1h0M506.4 631.6h0M499.9 531.9h0M508.1 594.0h0M497.9 637.6h0M503.7 526.3h0M485.4 602.0h0M506.1 519.6h0M494.9 573.8h0M501.4 580.9h0M507.5 540.0h0M493.2 642.4h0M501.4 621.9h0M498.7 630.8h0M507.5 647.0h0M506.1 543.3h0M496.3 572.4h0M498.3 541.3h0M494.1 565.2h0M494.1 563.2h0M498.5 534.2h0M506.9 624.4h0M499.7 546.2h0M508.7 543.1h0M505.1 628.8h0M497.7 535.0h0M508.8 609.0h0M480.3 598.2h0M504.9 659.2h0M504.1 597.5h0M497.9 631.3h0M504.1 615.7h0M508.0 528.8h0M500.9 635.9h0M503.6 601.5h0M492.5 597.7h0M507.2 653.6h0M508.1 653.7h0M504.8 520.5h0M519.1 609.7h0M559.4 602.8h0M580.0 523.0h0M551.2 533.0h0M579.6 573.2h0M578.7 532.0h0M580.2 533.7h0M540.3 507.4h0M531.3 515.9h0M560.1 533.2h0M567.8 543.1h0M554.7 546.1h0M555.2 510.3h0M537.5 514.7h0M564.2 514.8h0M587.4 543.3h0M530.5 561.0h0M533.8 593.2h0M578.5 538.6h0M554.6 507.5h0M574.4 517.6h0M584.5 537.7h0M539.7 510.8h0M585.7 545.4h0M560.8 545.9h0M545.5 606.7h0M574.9 563.2h0M540.6 545.0h0M520.1 558.2h0M533.4 521.9h0M573.2 526.1h0M530.7 527.0h0M527.5 516.3h0M548.0 512.5h0M558.5 511.1h0M539.4 515.9h0M596.6 523.7h0M570.3 657.0h0M543.3 520.7h0M550.6 577.8h0M537.5 585.7h0M599.3 506.1h0M528.4 508.2h0M523.8 526.0h0M576.9 507.7h0M566.6 530.5h0M530.5 529.8h0M551.2 534.4h0M521.1 553.5h0M577.5 560.3h0M523.6 514.4h0M519.9 533.9h0M567.9 524.5h0M557.6 612.0h0M527.3 529.9h0M569.4 511.1h0M542.0 508.1h0M587.2 522.9h0M536.2 519.0h0M551.1 510.8h0M527.5 563.5h0M549.3 555.1h0M546.8 621.7h0M546.9 506.3h0M528.6 518.3h0M533.3 551.8h0M545.1 536.7h0M580.6 532.3h0M535.4 517.5h0M581.0 593.0h0M537.5 530.4h0M566.8 522.8h0M562.8 604.9h0M560.5 564.4h0M571.1 584.9h0M548.2 622.8h0M584.1 516.5h0M577.1 583.7h0M541.3 514.6h0M530.9 524.5h0M575.1 586.9h0M539.0 574.8h0M559.0 513.8h0M536.5 547.4h0M559.1 617.8h0M585.9 522.3h0M582.3 560.3h0M525.3 547.2h0M550.5 565.9h0M532.8 630.2h0M575.2 566.9h0M538.9 565.4h0M548.0 549.5h0M555.6 561.4h0M559.4 528.5h0M540.7 540.6h0M569.1 519.5h0M555.0 537.9h0M530.0 538.2h0M560.2 561.1h0M586.6 522.2h0M580.3 513.7h0M568.8 507.0h0M548.7 548.2h0M524.9 551.1h0M526.6 534.0h0M527.8 537.7h0M553.9 531.3h0M538.6 554.1h0M583.4 515.0h0M521.2 517.0h0M540.3 531.3h0M571.3 661.4h0M535.6 504.7h0M559.6 551.6h0M566.0 563.3h0M563.5 533.9h0M545.7 510.9h0M569.7 537.1h0M529.9 546.6h0M548.1 597.3h0M574.2 532.5h0M554.2 505.4h0M521.8 567.3h0M553.4 607.3h0M545.5 593.1h0M559.1 657.7h0M535.1 511.8h0M570.4 527.2h0M522.9 509.4h0M580.3 558.9h0M519.8 507.7h0M590.8 519.7h0M591.2 536.4h0M555.9 527.8h0M525.5 520.1h0M553.4 526.1h0M586.0 537.6h0M557.5 576.8h0M546.7 510.1h0M552.6 536.0h0M558.4 530.0h0M546.2 573.7h0M537.1 550.9h0M597.0 519.7h0M576.9 509.3h0M573.1 536.0h0M531.5 518.5h0M563.3 515.9h0M589.9 520.9h0M533.8 526.6h0M530.6 553.1h0M525.0 550.7h0M556.3 517.7h0M574.6 589.6h0M574.9 507.1h0M554.7 551.7h0M556.6 524.5h0M558.2 514.0h0M545.0 506.6h0M542.1 509.0h0M575.9 505.7h0M535.1 534.9h0M567.7 521.8h0M544.4 565.9h0M518.6 508.8h0M553.4 512.3h0M597.5 515.7h0M563.9 548.1h0M598.5 509.2h0M528.0 563.1h0M546.6 590.4h0M535.6 559.1h0M539.8 533.8h0M569.1 559.8h0M545.0 592.1h0M578.4 506.0h0M559.5 544.7h0M530.4 520.1h0M525.8 583.3h0M575.1 552.6h0M551.9 527.7h0M534.0 587.8h0M527.2 512.3h0M572.1 519.0h0M568.6 509.5h0M542.9 533.6h0M532.8 579.4h0M577.3 547.1h0M565.0 588.2h0M576.0 520.3h0M587.8 511.2h0M566.1 515.5h0M555.4 527.1h0M591.1 523.2h0M586.2 518.9h0M587.1 553.8h0M532.9 554.3h0M567.0 512.7h0M542.3 541.4h0M525.2 528.9h0M543.8 521.4h0M559.2 517.1h0M560.0 582.9h0M546.3 560.6h0M549.0 548.1h0M598.3 508.8h0M519.1 518.4h0M573.8 534.5h0M591.5 540.3h0M537.6 676.2h0M550.0 526.1h0M562.0 561.7h0M529.4 511.3h0M569.6 557.9h0M553.3 510.5h0M523.1 584.3h0M529.6 518.2h0M573.5 571.9h0M554.7 622.4h0M519.8 525.3h0M527.0 592.4h0M565.8 508.7h0M594.8 526.5h0M535.2 549.7h0M552.1 515.3h0M579.4 564.0h0M569.4 513.8h0M585.7 538.3h0M519.5 529.1h0M521.7 603.8h0M548.4 579.6h0M566.5 517.4h0M524.5 521.7h0M549.6 526.1h0M536.6 514.4h0M553.1 526.8h0M521.6 514.7h0M570.8 506.4h0M528.8 609.1h0M547.5 523.2h0M519.3 581.9h0M596.7 511.8h0M586.9 513.2h0M562.6 582.8h0M534.2 549.0h0M525.9 510.4h0M560.8 518.5h0M542.1 569.1h0M555.2 522.6h0M541.1 548.0h0M584.6 524.8h0M552.3 517.2h0M534.5 510.2h0M576.2 508.9h0M569.7 554.4h0M525.6 548.9h0M545.5 509.3h0M519.8 521.5h0M526.4 545.6h0M585.8 528.2h0M564.6 510.1h0M551.3 525.1h0M568.5 511.5h0M576.6 549.2h0M521.1 535.3h0M550.5 564.3h0M546.8 526.1h0M537.2 541.2h0M527.3 517.4h0M561.7 555.2h0M582.9 536.9h0M525.1 541.5h0M537.2 531.0h0M549.9 541.4h0M558.3 534.2h0M530.7 509.1h0M539.3 543.4h0M526.3 504.7h0M536.2 515.2h0M578.1 577.5h0M532.4 576.4h0M536.9 568.3h0M547.8 527.5h0M578.3 510.0h0M586.0 530.5h0M569.4 555.2h0M575.6 639.2h0M537.4 515.8h0M587.6 535.3h0M541.5 509.9h0M538.1 647.1h0M566.9 568.0h0M551.4 524.1h0M580.1 505.7h0M526.1 565.1h0M524.6 522.0h0M583.7 519.8h0M557.9 527.3h0M567.4 511.4h0M535.2 506.8h0M521.6 509.6h0M537.4 530.8h0M521.6 508.0h0M569.6 532.4h0M575.9 505.4h0M524.7 510.7h0M552.1 512.3h0M533.9 543.2h0M563.0 629.5h0M584.8 574.9h0M596.9 508.3h0M523.9 625.2h0M527.2 540.2h0M531.7 534.7h0M559.9 514.2h0M588.0 525.0h0M550.6 514.3h0M525.3 508.9h0M533.8 531.6h0M573.9 512.7h0M537.3 520.1h0M557.3 516.4h0M550.9 527.0h0M526.4 559.3h0M576.7 590.8h0M589.3 510.7h0M531.3 516.2h0M540.3 554.7h0M589.6 508.3h0M539.8 541.8h0M580.4 532.3h0M564.5 511.6h0M587.9 551.2h0M592.4 523.7h0M554.2 525.3h0M538.2 629.2h0M528.0 506.9h0M534.8 526.9h0M564.1 516.4h0M568.5 505.5h0M530.9 518.2h0M550.0 546.2h0M525.4 510.5h0M525.1 565.8h0M562.4 516.0h0M523.6 510.5h0M564.0 519.0h0M544.9 513.0h0M531.9 587.7h0M543.6 577.1h0M551.5 582.7h0M583.8 517.7h0M521.8 543.1h0M597.2 525.7h0M567.4 506.9h0M544.9 569.7h0M585.3 538.9h0M599.5 521.4h0M520.3 560.5h0M580.9 505.0h0M585.3 567.7h0M525.8 519.3h0M581.2 543.5h0M536.7 570.2h0M552.2 642.4h0M567.9 559.6h0M552.8 509.7h0M521.1 531.1h0M538.2 604.6h0M555.1 537.1h0M564.2 509.6h0M556.3 553.9h0M585.9 546.4h0M562.1 542.2h0M538.8 505.7h0M527.3 625.6h0M519.7 628.2h0M583.0 528.1h0M568.1 534.3h0M580.2 542.5h0M566.8 560.9h0M537.0 546.0h0M518.5 517.4h0M569.7 523.1h0M555.4 552.8h0M563.3 530.4h0M585.5 528.6h0M537.1 515.6h0M523.8 543.6h0M546.2 577.3h0M594.4 510.2h0M544.4 511.1h0M571.2 532.5h0M563.9 548.8h0M521.2 515.1h0M560.3 581.4h0M572.2 574.4h0M596.3 517.6h0M579.6 516.5h0M533.9 505.2h0M562.9 599.7h0M543.2 524.0h0M523.2 510.5h0M543.6 512.7h0M573.4 511.7h0M543.9 538.8h0M519.7 508.1h0M552.9 585.7h0M520.4 635.8h0M526.9 518.1h0M578.5 622.8h0M571.9 511.5h0M536.4 550.0h0M561.0 608.0h0M522.8 535.9h0M537.8 525.0h0M546.7 577.1h0M568.9 514.4h0M568.2 635.4h0M599.1 505.0h0M527.6 560.1h0M521.2 535.7h0M568.0 532.9h0M539.8 521.1h0M555.6 507.6h0M563.9 529.9h0M570.7 554.3h0M581.7 524.4h0M564.8 551.5h0M524.2 513.8h0M543.5 508.1h0M585.6 556.9h0M595.0 552.0h0M535.9 621.8h0M555.9 543.9h0M582.4 507.4h0M544.8 595.6h0M559.7 543.4h0M534.2 641.2h0M547.3 547.7h0M538.4 506.9h0M542.7 516.9h0M530.6 518.9h0M566.2 541.4h0M563.0 512.0h0M550.3 541.4h0M581.1 530.1h0M566.2 507.3h0M550.5 552.8h0M587.6 535.4h0M520.8 596.9h0M578.0 544.3h0M536.9 657.8h0M550.7 504.7h0M580.7 554.7h0M597.1 518.2h0M560.5 585.4h0M536.7 537.1h0M571.5 508.7h0M520.1 531.0h0M598.5 517.6h0M526.9 575.1h0M549.4 642.2h0M566.5 516.5h0M553.3 522.5h0M587.1 512.3h0M518.3 544.1h0M529.2 532.5h0M594.5 505.1h0M567.1 511.6h0M561.8 532.7h0M581.3 514.4h0M582.0 568.2h0M545.6 509.3h0M552.1 506.1h0M536.6 548.0h0M526.3 509.3h0M525.7 510.2h0M553.6 547.2h0M532.7 547.3h0M585.4 520.1h0M586.4 534.7h0M528.6 521.4h0M564.0 509.0h0M589.6 534.6h0M595.6 516.7h0M525.4 563.0h0M555.0 543.1h0M594.4 510.6h0M521.9 571.9h0M564.4 506.2h0M585.5 572.9h0M529.9 536.9h0M556.6 562.9h0M578.8 539.8h0M523.4 598.2h0M553.4 507.6h0M536.0 556.6h0M553.0 511.1h0M598.2 532.7h0M534.0 565.2h0M541.4 594.9h0M535.8 521.3h0M572.6 520.1h0M584.6 534.3h0M593.8 512.0h0M530.1 507.8h0M584.3 556.8h0M574.8 514.8h0M531.4 560.2h0M558.9 553.3h0M530.3 573.6h0M578.5 586.2h0M574.0 524.3h0M596.4 522.9h0M571.0 602.3h0M572.1 577.3h0M532.8 566.8h0M561.4 573.2h0M575.9 514.8h0M550.0 610.1h0M570.9 534.3h0M580.0 513.5h0M578.7 506.1h0M577.7 548.8h0M572.5 505.2h0M577.5 545.9h0M543.6 616.0h0M534.8 511.9h0M574.1 513.9h0M578.7 505.9h0M555.5 513.4h0M570.7 514.6h0M549.4 546.8h0M524.9 525.7h0M552.2 531.5h0M553.5 557.3h0M598.1 514.6h0M556.7 517.7h0M593.1 517.1h0M578.2 545.5h0M597.4 534.5h0M591.7 505.7h0M541.3 627.2h0M552.7 518.2h0M525.1 518.1h0M582.7 530.0h0M562.2 523.2h0M546.6 551.1h0M534.5 595.0h0M592.6 510.5h0M557.4 508.8h0M589.2 525.6h0M562.4 535.2h0M559.1 551.9h0M535.9 587.7h0M586.7 509.5h0M528.5 537.6h0M535.3 552.7h0M548.0 596.8h0M527.0 505.2h0M556.7 524.5h0M586.9 516.7h0M562.9 575.6h0M596.7 519.2h0M552.9 519.5h0M533.4 511.7h0M530.2 529.7h0M557.1 543.1h0M533.5 509.3h0M527.8 530.9h0M557.2 507.4h0M522.9 529.8h0M555.6 526.3h0M551.4 576.9h0M570.1 505.1h0M579.3 543.7h0M530.9 546.6h0M591.8 514.5h0M588.7 525.3h0M557.4 527.0h0M558.2 563.0h0M525.7 515.5h0M587.8 563.3h0M578.8 513.2h0M549.4 508.3h0M542.8 568.3h0M518.7 509.4h0M542.0 530.2h0M529.0 520.9h0M527.8 525.3h0M598.9 517.0h0M544.8 541.0h0M549.5 505.1h0M587.6 562.3h0M533.7 505.6h0M526.4 582.7h0M589.9 548.6h0M556.0 529.7h0M548.1 569.3h0M571.2 510.1h0M575.5 521.4h0M552.8 528.6h0M538.8 520.0h0M558.7 517.6h0M557.0 544.2h0M554.2 522.3h0M523.5 614.5h0M539.0 533.9h0M535.2 541.6h0M546.3 505.8h0M524.3 578.9h0M547.8 573.7h0M529.5 535.0h0M560.6 517.7h0M573.7 551.7h0M521.9 536.1h0M549.0 516.7h0M548.4 605.2h0M566.7 506.0h0M528.1 567.1h0M547.5 598.7h0M576.8 508.5h0M592.3 543.5h0M595.4 516.3h0M521.0 605.3h0M591.6 539.9h0M554.9 535.6h0M562.2 550.4h0M592.3 509.2h0M527.7 572.3h0M540.4 601.6h0M578.3 522.9h0M584.0 555.8h0M585.4 533.0h0M594.3 517.7h0M562.0 538.4h0M529.7 516.3h0M568.2 533.3h0M549.8 526.2h0M523.8 505.4h0M520.4 566.4h0M546.7 514.5h0M520.5 538.8h0M596.2 522.5h0M559.4 531.5h0M546.9 529.0h0M597.5 519.2h0M586.2 510.2h0M557.4 626.1h0M542.6 521.8h0M589.7 510.0h0M545.4 506.6h0M571.3 506.2h0M566.5 517.6h0M545.7 567.1h0M550.0 536.6h0M568.6 542.9h0M537.9 505.5h0M524.2 515.3h0M592.8 505.1h0M561.1 508.8h0M565.4 520.6h0M561.6 544.3h0M573.0 525.8h0M550.4 509.5h0M576.1 511.9h0M559.4 516.4h0M530.0 555.3h0M585.5 509.7h0M536.4 515.3h0M577.9 534.6h0M521.0 528.0h0M562.1 542.6h0M542.3 527.6h0M557.0 526.0h0M553.1 531.5h0M553.4 547.3h0M596.2 520.7h0M547.8 672.8h0M583.3 524.9h0M591.3 534.6h0M564.1 533.1h0M538.6 518.6h0M578.5 520.4h0M582.6 518.2h0M549.8 520.7h0M578.6 570.1h0M579.5 509.8h0M588.6 556.1h0M586.7 517.7h0M518.4 614.3h0M545.7 537.1h0M538.5 511.6h0M527.4 520.2h0M542.6 509.6h0M530.2 617.4h0M520.3 558.4h0M555.7 534.4h0M533.7 583.8h0M564.2 548.9h0M590.6 529.9h0M550.1 525.3h0M553.1 531.8h0M537.4 511.1h0M520.4 524.3h0M523.7 562.9h0M550.5 513.1h0M574.5 562.3h0M558.8 597.8h0M523.5 511.0h0M561.4 528.8h0M544.3 527.3h0M590.3 518.5h0M580.4 585.5h0M571.6 537.0h0M572.0 554.2h0M584.6 527.3h0M563.0 621.4h0M547.3 511.1h0M584.4 524.8h0M528.6 573.9h0M565.6 513.7h0M587.6 550.8h0M582.0 552.3h0M534.9 510.7h0M552.2 529.9h0M569.8 511.1h0M525.0 582.5h0M547.6 536.9h0M573.4 544.3h0M556.6 541.4h0M523.4 511.2h0M559.7 534.5h0M568.8 519.4h0M532.2 551.0h0M533.4 505.4h0M523.7 506.6h0M523.8 505.7h0M563.2 540.2h0M596.9 556.4h0M595.9 514.3h0M533.2 507.4h0M520.2 505.4h0M518.6 576.3h0M583.2 528.5h0M542.7 581.5h0M573.8 557.3h0M584.9 527.3h0M556.5 676.6h0M592.5 536.8h0M552.0 548.3h0M578.9 541.7h0M551.5 518.3h0M519.4 510.2h0M536.2 508.4h0M543.5 521.4h0M543.6 529.1h0M556.0 550.5h0M560.5 510.5h0M590.0 510.4h0M566.6 544.5h0M530.5 511.6h0M542.5 574.5h0M561.2 505.8h0M576.3 521.0h0M581.0 516.6h0M569.0 595.5h0M557.4 517.5h0M530.0 514.0h0M554.3 518.7h0M579.4 514.0h0M577.4 519.6h0M542.1 519.2h0M556.4 536.1h0M540.0 536.8h0M551.3 505.9h0M574.3 584.3h0M563.6 524.8h0M544.3 608.3h0M521.8 511.3h0M571.4 556.8h0M589.6 556.1h0M527.1 538.8h0M529.3 589.9h0M553.3 509.5h0M584.7 540.8h0M587.2 509.4h0M559.6 531.8h0M553.1 565.0h0M571.2 556.9h0M522.0 506.4h0M571.3 504.5h0M592.1 524.9h0M557.7 522.0h0M541.9 599.9h0M570.0 510.0h0M520.9 566.3h0M532.9 594.7h0M580.3 509.9h0M576.8 543.8h0M581.0 554.8h0M560.7 553.0h0M556.2 676.0h0M589.5 521.5h0M561.3 506.8h0M580.4 556.2h0M554.5 514.3h0M556.2 527.0h0M543.6 508.2h0M581.7 505.4h0M538.8 569.2h0M521.8 517.1h0M533.2 508.0h0M532.0 514.4h0M542.8 539.1h0M548.5 568.1h0M595.3 506.6h0M560.7 529.9h0M584.0 506.8h0M537.1 509.5h0M556.7 518.9h0M529.0 607.7h0M528.0 520.1h0M521.4 516.2h0M593.9 534.1h0M583.6 524.9h0M560.3 577.4h0M519.6 505.5h0M569.3 604.7h0M581.2 538.4h0M593.5 522.5h0M594.5 540.3h0M587.1 524.1h0M594.2 528.7h0M567.7 541.4h0M566.9 632.9h0M529.8 511.9h0M549.8 519.0h0M565.0 571.7h0M569.5 513.5h0M539.5 524.2h0M565.6 515.5h0M560.6 582.4h0M550.8 524.6h0M521.3 516.9h0M571.7 527.0h0M579.8 546.6h0M533.4 606.0h0M534.7 545.7h0M575.7 587.9h0M579.0 512.4h0M583.8 525.2h0M537.6 508.0h0M554.3 514.3h0M524.7 508.4h0M535.2 511.9h0M527.9 523.1h0M585.1 520.9h0M533.9 504.9h0M525.1 505.6h0M525.4 546.1h0M524.4 523.6h0M596.6 554.9h0M566.7 521.3h0M543.6 546.8h0M546.4 550.3h0M547.4 543.0h0M530.3 578.2h0M518.9 634.0h0M519.2 530.0h0M588.5 505.7h0M522.0 566.7h0M559.4 522.1h0M541.8 543.5h0M560.3 552.3h0M554.7 513.2h0M545.1 567.8h0M530.6 546.4h0M552.6 533.5h0M579.8 581.6h0M551.1 555.8h0M559.6 534.2h0M559.1 606.3h0M548.3 539.1h0M579.8 529.9h0M555.6 527.9h0M548.7 531.7h0M530.3 543.8h0M577.2 531.9h0M585.2 505.9h0M530.0 515.5h0M528.9 558.9h0M525.3 505.3h0M540.7 513.4h0M587.6 519.9h0M536.7 508.1h0M527.3 529.1h0M563.9 519.6h0M536.6 538.4h0M540.7 518.5h0M579.8 600.3h0M537.0 599.0h0M542.9 518.1h0M584.0 563.8h0M531.1 562.6h0M564.0 560.3h0M560.2 527.6h0M543.7 592.4h0M562.9 545.3h0M532.9 538.8h0M546.5 542.1h0M551.3 516.4h0M580.5 514.2h0M526.7 505.8h0M566.7 511.1h0M576.1 560.1h0M558.9 533.1h0M585.6 521.0h0M566.5 564.9h0M531.0 517.7h0M529.9 520.0h0M525.1 595.8h0M591.6 513.2h0M532.9 547.9h0M560.5 525.0h0M577.5 565.0h0M549.2 622.4h0M564.3 522.3h0M571.5 546.0h0M548.1 520.5h0M528.5 517.1h0M532.8 515.3h0M524.8 506.4h0M519.2 622.1h0M556.8 506.5h0M545.6 509.2h0M520.4 530.2h0M587.1 518.4h0M586.4 530.6h0M582.1 537.8h0M547.2 607.9h0M559.9 510.9h0M533.7 541.5h0M535.5 523.6h0M526.5 515.8h0M591.3 523.6h0M546.2 584.5h0M538.9 527.9h0M596.3 514.5h0M580.1 527.9h0M533.6 555.2h0M555.8 515.3h0M588.3 554.5h0M521.3 505.8h0M584.5 552.3h0M591.3 507.2h0M559.2 545.4h0M550.1 607.1h0M584.5 547.7h0M536.7 641.0h0M523.5 522.8h0M531.8 538.4h0M534.2 544.4h0M560.2 545.7h0M564.5 544.4h0M519.7 530.5h0M537.0 574.9h0M522.5 543.8h0M583.8 557.4h0M570.1 560.4h0M576.3 608.4h0M552.0 504.9h0M560.4 523.1h0M572.7 612.5h0M531.6 573.4h0M568.2 506.4h0M544.4 552.3h0M523.9 569.8h0M594.6 546.5h0M553.3 514.1h0M565.1 504.9h0M572.9 523.0h0M573.2 563.9h0M558.3 509.3h0M596.9 533.9h0M568.5 590.0h0M537.2 532.2h0M581.4 565.3h0M550.8 542.4h0M519.4 508.9h0M573.3 532.0h0M533.2 526.6h0M528.2 572.1h0M563.3 520.5h0M555.1 628.5h0M588.7 508.0h0M520.6 547.5h0M566.7 508.5h0M576.8 549.0h0M581.3 504.7h0M532.1 515.1h0M534.6 510.8h0M579.3 464.3h0M591.7 465.8h0M592.0 498.6h0M596.0 452.5h0M586.9 481.8h0M583.5 478.1h0M587.5 511.5h0M580.9 497.6h0M583.3 520.2h0M578.1 510.1h0M595.7 438.5h0M582.9 490.3h0M584.6 497.1h0M610.1 466.1h0M577.1 513.8h0M592.6 492.7h0M579.1 467.8h0M586.4 470.5h0M586.3 492.9h0M588.0 480.8h0M598.1 480.4h0M590.8 495.5h0M587.0 530.7h0M614.0 489.8h0M600.3 505.6h0M582.5 520.2h0M585.3 526.4h0M584.6 479.7h0M576.0 483.6h0M581.5 498.0h0M582.8 498.9h0M578.7 492.6h0M593.8 501.0h0M577.2 506.0h0M589.4 491.3h0M580.6 511.3h0M592.6 501.1h0M587.9 462.9h0M594.1 498.7h0M581.2 512.9h0M586.2 507.2h0M574.3 476.3h0M578.7 514.6h0M580.9 499.5h0M575.9 456.5h0M582.7 486.3h0M587.3 520.5h0M587.1 482.8h0M576.2 479.9h0M581.4 500.8h0M583.9 462.1h0M585.2 456.3h0M578.6 485.7h0M604.9 496.9h0M589.5 487.7h0M577.5 511.9h0M576.2 501.0h0M578.8 479.3h0M577.4 499.6h0M581.0 509.5h0M600.2 490.8h0M583.7 490.5h0M591.1 510.8h0M586.9 490.6h0M585.6 504.6h0M605.4 490.0h0M607.2 494.9h0M587.4 465.7h0M586.7 515.3h0M576.9 487.7h0M576.5 486.2h0M588.3 444.6h0M583.4 464.9h0M576.2 482.5h0M577.4 478.7h0M579.4 494.7h0M575.9 508.9h0M578.7 526.7h0M576.3 466.0h0M599.8 499.1h0M591.6 452.6h0M574.7 478.8h0M584.0 497.8h0M586.8 486.6h0M593.6 482.3h0M579.7 514.7h0M595.0 494.0h0M579.6 492.5h0M577.8 494.6h0M599.8 486.7h0M585.4 494.3h0M587.4 496.4h0M583.2 488.8h0M579.0 513.0h0M579.0 473.4h0M590.9 469.9h0M575.9 477.1h0M581.2 526.2h0M577.9 514.5h0M583.1 489.0h0M574.7 522.6h0M586.1 501.9h0M593.9 483.8h0M575.0 563.6h0M589.3 464.1h0M593.7 459.5h0M578.4 520.3h0M583.5 505.1h0M580.2 503.8h0M594.0 490.3h0M585.0 493.3h0M584.8 505.0h0M582.8 494.3h0M577.1 493.8h0M579.8 502.5h0M580.4 484.4h0M585.9 524.8h0M576.3 453.2h0M588.1 477.5h0M580.4 477.1h0M590.1 507.7h0M576.4 513.6h0M576.2 492.4h0M589.7 476.3h0M578.8 460.9h0M589.6 484.6h0M591.3 479.2h0M584.2 480.6h0M589.9 504.4h0M588.1 534.6h0M587.0 467.6h0M584.1 474.5h0M600.5 499.4h0M578.3 507.5h0M581.7 489.1h0M589.9 515.5h0M585.9 483.5h0M596.9 479.1h0M577.6 484.0h0M588.9 510.6h0M603.7 476.3h0M595.9 510.5h0M585.0 512.8h0M581.6 492.1h0M583.2 527.6h0M589.3 511.4h0M588.9 512.6h0M583.3 483.3h0M597.8 494.3h0M601.7 508.3h0M588.8 469.4h0M584.0 507.6h0M587.1 496.6h0M579.0 511.6h0M589.1 493.3h0M578.1 473.8h0M595.4 472.4h0M574.5 475.7h0M576.6 488.6h0M594.9 479.3h0M624.2 491.7h0M600.4 485.6h0M579.7 493.6h0M598.9 501.4h0M577.1 499.2h0M581.9 496.5h0M596.4 473.8h0M595.0 469.4h0M593.3 498.7h0M579.5 498.8h0M585.9 461.6h0M579.3 466.9h0M579.4 485.2h0M585.9 478.1h0M593.4 498.3h0M581.4 471.4h0M579.5 492.4h0M581.1 519.6h0M587.2 495.4h0M575.3 454.7h0M589.7 486.7h0M580.9 524.2h0M585.2 474.4h0M601.4 498.1h0M591.3 451.0h0M577.2 465.7h0M588.8 523.6h0M583.9 503.9h0M575.3 485.2h0M585.4 485.6h0M591.4 480.7h0M590.2 495.8h0M580.7 496.5h0M579.0 472.7h0M577.1 506.2h0M581.4 490.1h0M577.6 451.7h0M591.2 478.1h0M577.6 483.8h0M586.9 496.6h0M581.4 459.0h0M583.1 496.0h0M577.0 503.8h0M588.5 476.0h0M575.9 492.9h0M580.0 463.1h0M591.8 459.1h0M584.5 509.9h0M605.4 509.8h0M577.3 509.0h0M578.2 507.3h0M578.1 476.2h0M580.9 499.3h0M595.3 507.2h0M610.1 439.2h0M586.7 523.1h0M583.0 515.6h0M583.0 493.7h0M576.5 535.0h0M595.5 517.1h0M576.6 502.7h0M585.2 464.2h0M582.9 492.3h0M578.9 520.2h0M593.5 493.2h0M576.7 455.6h0M585.0 478.8h0M592.5 487.3h0M576.6 466.2h0M574.9 504.0h0M576.8 495.9h0M575.1 539.4h0M584.6 467.7h0M580.1 478.6h0M590.2 500.2h0M582.6 491.8h0M585.3 489.1h0M592.1 475.7h0M589.6 498.6h0M584.7 502.1h0M580.2 469.6h0M576.8 519.5h0M578.3 495.8h0M596.9 506.3h0M576.9 486.4h0M576.0 460.4h0M602.2 470.2h0M581.9 472.1h0M612.0 501.8h0M582.4 529.3h0M577.1 502.8h0M587.6 473.0h0M589.3 502.4h0M577.3 520.3h0M589.4 485.1h0M587.5 497.2h0M584.3 534.1h0M583.5 482.5h0M586.2 505.2h0M597.2 513.1h0M578.8 480.0h0M580.4 479.8h0M580.9 486.0h0M605.9 476.4h0M576.8 519.6h0M594.6 498.1h0M577.0 484.4h0M578.9 544.7h0M590.3 529.8h0M581.5 475.8h0M603.7 462.7h0M599.3 462.4h0M585.7 509.5h0M589.5 455.6h0M584.1 508.8h0M582.0 498.9h0M584.8 499.6h0M576.2 497.5h0M612.6 462.6h0M586.7 443.0h0M590.9 499.0h0M581.2 487.4h0M591.0 520.2h0M584.8 484.5h0M576.3 514.3h0M587.6 475.2h0M587.5 500.3h0M576.8 503.4h0M587.4 463.9h0M580.0 504.3h0M587.9 525.1h0M576.1 488.9h0M584.6 503.2h0M578.7 499.1h0M599.3 478.5h0M596.5 457.7h0M579.6 458.1h0M582.8 512.4h0M601.9 484.9h0M580.3 449.6h0M587.2 511.6h0M590.0 505.2h0M582.7 518.6h0M587.3 494.7h0M581.1 513.9h0M586.0 505.6h0M591.1 518.5h0M581.3 472.1h0M587.2 493.0h0M591.6 469.7h0M592.6 470.5h0M593.4 496.0h0M584.1 464.9h0M594.2 478.1h0M594.1 499.9h0M578.7 495.6h0M592.4 469.9h0M578.7 522.5h0M592.1 493.2h0M574.9 482.1h0M590.6 495.8h0M579.2 507.9h0M593.2 444.0h0M575.4 536.2h0M585.6 478.6h0M576.4 479.0h0M598.5 470.2h0M598.4 493.1h0M596.6 458.6h0M576.9 500.9h0M577.4 514.9h0M582.2 504.5h0M580.6 495.1h0M585.3 491.9h0M578.7 458.9h0M595.4 527.4h0M592.7 478.2h0M575.4 474.4h0M587.1 513.8h0M590.8 490.4h0M588.8 501.7h0M578.7 514.1h0M579.7 444.7h0M591.7 529.9h0M576.7 481.0h0M575.4 495.4h0M590.7 501.4h0M590.0 469.7h0M583.1 491.1h0M575.8 458.4h0M578.4 471.1h0M581.5 493.7h0M582.1 490.4h0M575.5 488.3h0M581.3 533.7h0M582.4 477.9h0M581.4 492.9h0M575.4 502.7h0M582.2 466.5h0M583.9 471.7h0M577.3 483.6h0M581.1 476.3h0M589.0 489.6h0M577.9 486.7h0M578.5 460.5h0M588.1 474.3h0M590.9 490.3h0M610.5 465.0h0M581.4 487.5h0M581.3 494.2h0M576.3 496.3h0M584.8 473.2h0M593.5 474.8h0M579.9 485.2h0M587.0 476.6h0M577.0 497.1h0M606.4 486.1h0M579.3 514.0h0M574.5 435.6h0M591.0 490.3h0M592.0 628.6h0M579.2 603.2h0M586.6 564.8h0M573.6 668.0h0M563.5 672.7h0M565.7 643.3h0M582.0 673.3h0M582.3 634.8h0M569.5 639.3h0M579.1 660.9h0M575.6 622.4h0M588.6 679.8h0M581.8 584.7h0M577.4 631.5h0M571.3 581.6h0M585.4 608.1h0M593.5 637.1h0M576.2 610.9h0M571.1 593.5h0M585.7 607.8h0M585.8 567.4h0M563.6 627.3h0M585.1 570.4h0M586.7 630.9h0M578.6 566.5h0M591.0 587.0h0M578.9 675.5h0M581.9 589.6h0M588.6 590.7h0M577.1 664.9h0M582.6 672.5h0M578.3 617.0h0" stroke="#f00" stroke-width="1.5" stroke-linecap="square" fill="none"/>
<g stroke="#7c7c7c" stroke-width="1" fill="none">
<rect x="354.8" y="406.5" width="290.8" height="290.4"/>
<path d="M354.8 696.9v-2.8M354.8 406.5v2.8M354.8 696.9h2.8M645.5 696.9h-2.8"/>
<path d="M427.4 696.9v-2.8M427.4 406.5v2.8M354.8 624.3h2.8M645.5 624.3h-2.8"/>
<path d="M500.1 696.9v-2.8M500.1 406.5v2.8M354.8 551.7h2.8M645.5 551.7h-2.8"/>
<path d="M572.8 696.9v-2.8M572.8 406.5v2.8M354.8 479.1h2.8M645.5 479.1h-2.8"/>
<path d="M645.5 696.9v-2.8M645.5 406.5v2.8M354.8 406.5h2.8M645.5 406.5h-2.8"/>
</g>
<line x1="355.2" y1="696.4" x2="645.5" y2="406.5" stroke="#000" stroke-width="2.1" stroke-linecap="round"/>
<g fill="#262626" stroke="#262626" stroke-width="0.25">
<text transform="translate(354.45 716.60) scale(1.000 1)" font-size="17.60" text-anchor="middle">0</text>
<text transform="translate(348.90 702.20) scale(1.000 1)" font-size="17.60" text-anchor="end">0</text>
<text transform="translate(427.14 716.60) scale(1.000 1)" font-size="17.60" text-anchor="middle">1</text>
<text transform="translate(348.90 629.60) scale(1.000 1)" font-size="17.60" text-anchor="end">1</text>
<text transform="translate(499.83 716.60) scale(1.000 1)" font-size="17.60" text-anchor="middle">2</text>
<text transform="translate(348.90 557.00) scale(1.000 1)" font-size="17.60" text-anchor="end">2</text>
<text transform="translate(572.52 716.60) scale(1.000 1)" font-size="17.60" text-anchor="middle">3</text>
<text transform="translate(348.90 484.40) scale(1.000 1)" font-size="17.60" text-anchor="end">3</text>
<text transform="translate(645.21 716.60) scale(1.000 1)" font-size="17.60" text-anchor="middle">4</text>
<text transform="translate(348.90 411.80) scale(1.000 1)" font-size="17.60" text-anchor="end">4</text>
<text transform="translate(455.80 736.50) scale(1.200 1)" font-size="17.00" text-anchor="start" class="it">σ</text>
<text transform="translate(467.70 745.80) scale(1.040 1)" font-size="14.60" text-anchor="start">TDS</text>
<text transform="translate(502.50 736.50) scale(1.030 1)" font-size="18.00" text-anchor="start">/</text>
<text transform="translate(513.70 736.50) scale(1.030 1)" font-size="18.00" text-anchor="start">mS</text>
<g transform="translate(324.4 596) rotate(-90)">
<text transform="translate(0.00 0.00) scale(1.200 1)" font-size="17.00" text-anchor="start" class="it">σ</text>
<text transform="translate(12.10 9.40) scale(1.040 1)" font-size="14.60" text-anchor="start">ERT</text>
<text transform="translate(47.30 0.00) scale(1.030 1)" font-size="18.00" text-anchor="start">/</text>
<text transform="translate(59.40 0.00) scale(1.030 1)" font-size="18.00" text-anchor="start">mS</text>
</g>
</g>
</svg></div></body></html>
